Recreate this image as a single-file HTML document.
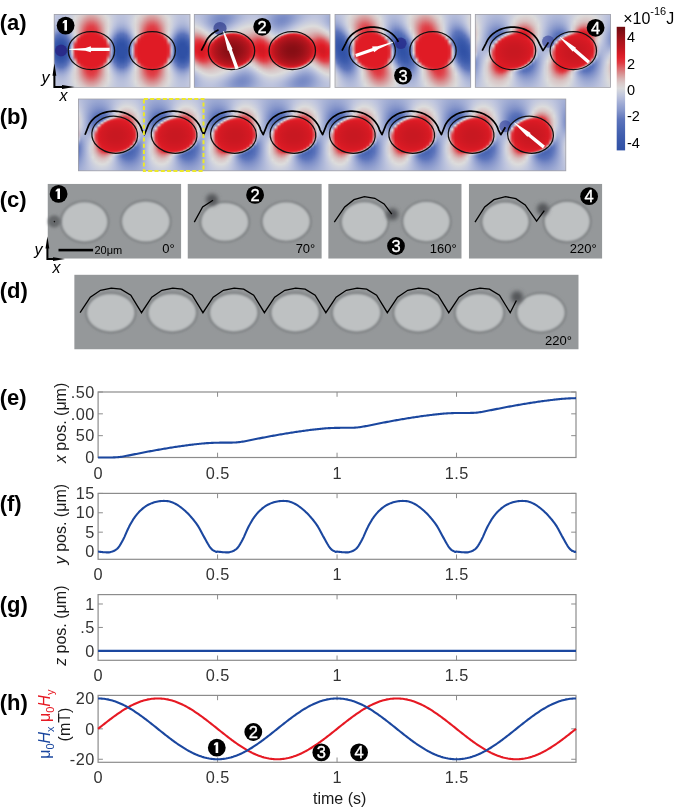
<!DOCTYPE html>
<html><head><meta charset="utf-8"><style>html,body{margin:0;padding:0;background:#fff;overflow:hidden}#w{position:relative;width:675px;height:808px}.hm{position:absolute;overflow:hidden}.hm i{display:block;height:1px}svg{position:absolute;left:0;top:0;display:block;will-change:transform}</style></head>
<body><div id="w">
<div class="hm" style="left:54px;top:14px;width:136px;height:73px"><i style="background:linear-gradient(90deg,#c2c8de,#bdc4dd,#bbc2dc,#bcc2dd,#bfc5de,#c4c9de,#cccfdd,#d5d6dd,#dcd9d9,#dacfcf,#d9c5c5,#d8bdbd,#d8b6b7,#d8b7b8,#d8c0c0,#d9c7c7,#dad1d1,#dcdcdc,#d2d5dd,#cacedd,#c3c8de,#bec4dd,#bbc2dd,#bbc2dd,#bec5de,#c4c9de,#cbcedd,#d4d6dd,#dcdada,#dad0d0,#d9c6c6,#d8bebe,#d8b7b7,#d8b7b7,#d8bebe,#d9c6c6,#dad0d0,#dcdada,#d4d5dd,#cbcedd,#c4c9de,#bec5dd,#bbc2dd,#bbc2dd,#bec4dd,#c3c8de)"></i><i style="background:linear-gradient(90deg,#c3c8de,#bdc4dd,#bbc2dc,#bbc2dd,#bfc5de,#c5cade,#cdd0dd,#d7d8dc,#dbd6d6,#dacbcb,#d8c1c1,#d8b4b5,#d8adae,#d8aeaf,#d8b7b7,#d9c4c4,#dacece,#dcd9d9,#d4d6dd,#cbcedd,#c3c9de,#bec4dd,#bbc2dc,#bbc2dc,#bfc5de,#c4c9de,#cccfdd,#d6d7dc,#dbd8d8,#dacccc,#d8c2c2,#d8b6b6,#d8adae,#d8adae,#d8b6b6,#d8c2c2,#dacdcd,#dbd8d8,#d5d7dc,#cccfdd,#c4c9de,#bec5de,#bbc2dd,#bbc2dc,#bec4dd,#c3c9de)"></i><i style="background:linear-gradient(90deg,#c3c8de,#bdc4dd,#bac2dc,#bbc2dc,#bfc5de,#c5cade,#ced1dd,#d9d9dc,#dbd4d4,#d9c8c8,#d8bbbb,#d8abac,#d8a4a5,#d8a5a6,#d8afaf,#d8bfbf,#dacbcb,#dbd7d7,#d6d7dc,#cccfdd,#c4c9de,#bec4dd,#bbc2dc,#bbc2dc,#bec5de,#c5cade,#cdd0dd,#d7d8dc,#dbd5d5,#d9c9c9,#d8bdbd,#d8adae,#d8a4a5,#d8a4a5,#d8adae,#d8bdbd,#d9c9c9,#dbd5d5,#d7d8dc,#cdd0dd,#c4cade,#bec5dd,#bbc2dc,#bbc2dc,#bec4dd,#c4c9de)"></i><i style="background:linear-gradient(90deg,#c3c8de,#bdc3dd,#bac1dc,#bac2dc,#bfc5de,#c6cbde,#cfd2dd,#dbdbdc,#dad1d1,#d9c4c4,#d8b3b3,#d8a3a4,#d89b9c,#d89c9d,#d8a6a7,#d8b8b8,#d9c7c7,#dbd4d4,#d8d9dc,#cdd0dd,#c4c9de,#bdc4dd,#bac1dc,#bac1dc,#bec4dd,#c5cade,#ced1dd,#d9dadc,#dbd2d2,#d9c6c6,#d8b5b5,#d8a4a5,#d89b9c,#d89b9c,#d8a4a5,#d8b5b6,#d9c6c6,#dbd3d3,#d9dadc,#ced1dd,#c5cade,#bec4dd,#bac1dc,#bac1dc,#bec4dd,#c4c9de)"></i><i style="background:linear-gradient(90deg,#c3c8de,#bcc3dd,#b9c0dc,#bac1dc,#bec5de,#c6cbde,#d0d3dd,#dcdcdc,#dacece,#d8c1c1,#d8abac,#d89a9b,#d89193,#d89394,#d89d9f,#d8b0b1,#d9c4c4,#dbd2d2,#d9dadc,#cdd1dd,#c4c9de,#bdc3dd,#b9c0dc,#b9c1dc,#bec4dd,#c5cade,#cfd2dd,#dbdbdc,#dad0d0,#d8c2c2,#d8adae,#d89c9d,#d89294,#d89294,#d89c9d,#d8aeae,#d8c3c3,#dad0d0,#dbdbdc,#cfd2dd,#c5cade,#bec4dd,#b9c1dc,#b9c0dc,#bdc4dd,#c4c9de)"></i><i style="background:linear-gradient(90deg,#c3c8de,#bbc2dd,#b8bfdb,#b8c0dc,#bec4dd,#c6cbde,#d1d3dd,#dcdada,#dacccc,#d8bcbc,#d8a3a4,#d89193,#d8888a,#d88a8c,#d89597,#d8a9aa,#d8c1c1,#dacfcf,#dbdbdc,#ced1dd,#c4c9de,#bcc3dd,#b8bfdb,#b8c0dc,#bdc3dd,#c5cade,#d0d2dd,#dcdcdc,#dacdcd,#d8bfbf,#d8a6a7,#d89395,#d8898b,#d8898b,#d89395,#d8a6a7,#d8bfbf,#dacece,#dcdcdc,#cfd2dd,#c5cade,#bdc3dd,#b8c0dc,#b8bfdb,#bcc3dd,#c4c9de)"></i><i style="background:linear-gradient(90deg,#c2c8de,#bac1dc,#b6bedb,#b7bfdb,#bdc3dd,#c6cbde,#d2d4dd,#dbd8d8,#d9c9c9,#d8b5b6,#d89c9d,#d8898b,#da7c7f,#d97e81,#d88d8f,#d8a2a3,#d8bcbc,#dacdcd,#dcdcdc,#ced1dd,#c3c9de,#bbc2dc,#b6bedb,#b6bedb,#bcc2dd,#c5cade,#d0d3dd,#dcdada,#dacbcb,#d8b9b9,#d89fa0,#d88b8d,#d97d80,#d97d80,#d88b8d,#d89fa0,#d8b9b9,#dacbcb,#dcdada,#d0d3dd,#c4cade,#bcc2dd,#b6bedb,#b6bedb,#bbc2dc,#c3c9de)"></i><i style="background:linear-gradient(90deg,#c1c7de,#b8c0dc,#b4bcda,#b5bdda,#bbc2dc,#c5cade,#d2d4dd,#dbd7d7,#d9c7c7,#d8afb0,#d89596,#d97e81,#db7074,#db7276,#d98386,#d89b9c,#d8b7b7,#dacbcb,#dcdbdb,#cfd2dd,#c3c8de,#b9c0dc,#b4bcda,#b4bdda,#bac1dc,#c4c9de,#d0d3dd,#dcd9d9,#d9c9c9,#d8b3b3,#d89899,#d98083,#db7175,#db7175,#d98183,#d8989a,#d8b3b4,#d9c9c9,#dcd9d9,#d0d3dd,#c4c9de,#bac1dc,#b4bdda,#b4bcda,#b9c0dc,#c3c8de)"></i><i style="background:linear-gradient(90deg,#c0c6de,#b6bedb,#b1bad9,#b2bbda,#b9c1dc,#c5cade,#d2d4dd,#dbd6d6,#d9c5c5,#d8aaab,#d88e90,#da7377,#dc656a,#dc676c,#da797d,#d89496,#d8b2b2,#d9c9c9,#dcdada,#cfd2dd,#c2c7de,#b7bfdb,#b1bad9,#b2bada,#b8c0dc,#c3c8de,#d1d3dd,#dbd8d8,#d9c7c7,#d8adae,#d89193,#da767a,#dc666b,#dc666b,#da767a,#d89193,#d8aeaf,#d9c7c7,#dbd8d8,#d0d3dd,#c3c8de,#b8c0dc,#b2bada,#b1bad9,#b7bfdb,#c2c7de)"></i><i style="background:linear-gradient(90deg,#bfc5de,#b3bcda,#aeb7d8,#afb8d9,#b7bfdb,#c3c9de,#d2d4dd,#dbd5d5,#d8c3c3,#d8a5a6,#d88789,#dc696e,#dd5b61,#dd5d63,#db7074,#d88e90,#d8adad,#d9c7c7,#dcd9d9,#ced1dd,#c0c6de,#b4bdda,#aeb8d8,#afb8d9,#b6bedb,#c2c8de,#d0d3dd,#dbd7d7,#d9c5c5,#d8a8a9,#d88b8d,#db6c71,#dd5c61,#dd5c62,#db6d71,#d88b8d,#d8a9aa,#d9c5c5,#dbd7d7,#d0d3dd,#c2c7de,#b6bedb,#afb8d9,#aeb8d8,#b5bdda,#c0c6de)"></i><i style="background:linear-gradient(90deg,#bcc3dd,#b0b9d9,#aab4d7,#acb5d8,#b4bcda,#c2c8de,#d2d4dd,#dbd4d4,#d8c1c1,#d8a0a1,#d97f81,#dd6066,#de5158,#de535a,#dc676b,#d8888a,#d8a8a9,#d9c6c6,#dcd9d9,#ced1dd,#bec5dd,#b1bad9,#aab4d7,#abb5d7,#b3bbda,#c0c6de,#d0d3dd,#dbd6d6,#d8c3c3,#d8a4a5,#d98385,#dc6368,#de5258,#de5259,#dc6369,#d98486,#d8a4a5,#d9c4c4,#dbd6d6,#d0d2dd,#c0c6de,#b3bbda,#abb5d7,#abb5d7,#b1bad9,#bfc5de)"></i><i style="background:linear-gradient(90deg,#bac1dc,#acb6d8,#a6b1d6,#a7b2d6,#b1b9d9,#c0c6de,#d1d4dd,#dbd3d3,#d8c0c0,#d89b9d,#da777b,#dd585e,#df484f,#df4a51,#dd5e64,#d98184,#d8a4a5,#d9c5c5,#dbd8d8,#cdd0dd,#bcc3dd,#adb7d8,#a6b1d6,#a6b1d6,#afb8d9,#bec4dd,#cfd2dd,#dbd6d6,#d8c2c2,#d89fa1,#da7c7f,#dd5b60,#df4950,#df4950,#dd5b61,#d97c7f,#d8a0a1,#d8c2c2,#dbd6d6,#cfd2dd,#bec4dd,#afb8d9,#a6b1d6,#a6b1d6,#aeb7d8,#bcc3dd)"></i><i style="background:linear-gradient(90deg,#b7bedb,#a8b2d6,#a0acd4,#a2aed5,#acb6d8,#bdc4dd,#d0d3dd,#dbd3d3,#d8bdbd,#d89899,#db7074,#de5057,#e04048,#e0424a,#de575d,#da7a7e,#d8a1a2,#d9c4c4,#dbd8d8,#cccfdd,#b9c0dc,#a9b3d7,#a1add4,#a1add4,#abb5d7,#bbc2dc,#ced1dd,#dbd6d6,#d8c1c1,#d89c9d,#da7579,#de5359,#e04149,#e04149,#de535a,#da7679,#d89c9e,#d8c1c1,#dbd6d6,#ced1dd,#bbc2dc,#abb5d7,#a1add4,#a1add4,#a9b4d7,#b9c0dc)"></i><i style="background:linear-gradient(90deg,#b3bbda,#a2aed5,#9aa7d2,#9ca9d3,#a8b2d6,#bac1dc,#cfd2dd,#dbd3d3,#d8bbbb,#d89496,#db6a6f,#df4950,#e03c44,#e03d46,#de5057,#da7578,#d89d9f,#d8c3c3,#dcd9d9,#cacedd,#b5bddb,#a4afd5,#9aa7d2,#9ba8d2,#a6b1d6,#b8bfdb,#cdd0dd,#dbd6d6,#d8c0c0,#d8989a,#db6f73,#df4c53,#e03d45,#e03d45,#df4d54,#db7074,#d8999a,#d8c0c0,#dbd6d6,#ccd0dd,#b7bfdb,#a6b1d6,#9ba8d2,#9ba7d2,#a4afd5,#b5bddb)"></i><i style="background:linear-gradient(90deg,#aeb8d8,#9ca9d3,#93a1cf,#95a3d0,#a2aed5,#b6bedb,#cdd1dd,#dbd3d3,#d8baba,#d89193,#dc656a,#e0434b,#e03941,#e03a42,#df4a51,#db7074,#d89b9c,#d8c2c2,#dcd9d9,#c8ccdd,#b1bad9,#9eaad3,#93a1cf,#94a2d0,#a0acd4,#b4bcda,#cbcedd,#dbd6d6,#d8bfbf,#d89697,#db6a6e,#df464d,#e03942,#e03942,#df464e,#db6a6f,#d89698,#d8bfbf,#dbd7d7,#cacedd,#b3bcda,#a0acd4,#94a2d0,#94a2d0,#9eaad3,#b1bad9)"></i><i style="background:linear-gradient(90deg,#a9b3d7,#95a3d0,#8b9acc,#8d9ccd,#9ca8d2,#b2bbda,#cbcfdd,#dbd4d4,#d8b9b9,#d88f91,#dd6065,#e03e46,#e0363e,#e0373f,#e0444c,#db6b70,#d8999a,#d8c2c2,#dcdada,#c5cade,#acb6d8,#97a4d1,#8b9bcd,#8c9bcd,#99a6d2,#afb8d9,#c8cddd,#dbd7d7,#d8bebe,#d89495,#dc656a,#e04048,#e0363f,#e0363f,#e04048,#dc666b,#d89496,#d8bfbf,#dbd7d7,#c8ccdd,#afb8d9,#99a6d2,#8c9bcd,#8c9bcd,#97a5d1,#acb6d8)"></i><i style="background:linear-gradient(90deg,#a3afd5,#8d9ccd,#8293c9,#8595ca,#94a2d0,#adb7d8,#c9cddd,#dbd5d5,#d8b8b9,#d88d8f,#dd5a60,#e03a43,#e0313a,#e0333b,#e03e46,#dc666b,#d89799,#d8c2c2,#dcdcdc,#c2c8de,#a6b1d6,#8f9ece,#8393c9,#8494ca,#92a0cf,#aab4d7,#c6cbde,#dbd8d8,#d8bebe,#d89293,#dd6065,#e03c44,#e0323b,#e0323b,#e03c45,#dc6066,#d89294,#d8bfbf,#dbd8d8,#c5cade,#aab4d7,#92a0cf,#8494ca,#8393c9,#909ece,#a7b2d6)"></i><i style="background:linear-gradient(90deg,#9da9d3,#8595ca,#788ac5,#7b8dc7,#8c9bcd,#a8b2d6,#c6cbde,#dbd6d6,#d8b8b9,#d88a8c,#de5158,#e0353d,#e02c35,#e02d36,#e03941,#dd5e64,#d89597,#d8c2c2,#dbdbdc,#bfc5de,#a0acd4,#8797cb,#798bc6,#7a8cc6,#8a99cc,#a4afd5,#c3c8de,#dcd9d9,#d8bebe,#d88f91,#dd575e,#e0373f,#e02c36,#e02d36,#e0373f,#dd585e,#d89092,#d8bfbf,#dcdada,#c2c8de,#a4afd5,#8999cc,#7a8cc6,#798bc6,#8797cb,#a1add4)"></i><i style="background:linear-gradient(90deg,#96a3d0,#7b8dc7,#6d81c1,#7084c2,#8494ca,#a1add4,#c3c8de,#dbd8d8,#d8b8b9,#d98285,#e0424a,#e02d36,#e0262f,#e02730,#e0313a,#de5057,#d89193,#d8c3c3,#d9dadc,#bbc2dc,#99a6d2,#7e8fc7,#6d82c1,#6e83c2,#8191c9,#9eaad3,#bfc5de,#dcdbdb,#d8bebe,#d88a8c,#df4950,#e02f38,#e0262f,#e0262f,#e02f38,#df4a51,#d88b8d,#d8bfbf,#dcdcdc,#bfc5de,#9daad3,#8091c9,#6f83c2,#6e82c2,#7e8fc8,#9aa7d2)"></i><i style="background:linear-gradient(90deg,#8e9dcd,#7084c2,#6178bd,#647bbe,#7a8cc6,#9ba7d2,#bfc5de,#dcdada,#d8b7b7,#db7376,#e0363f,#e0252f,#e0202a,#e0212a,#e02831,#e03d46,#d8888a,#d8c3c3,#d7d8dc,#b6bedb,#92a0cf,#7386c4,#6178bd,#6279bd,#7689c5,#96a4d1,#bbc2dc,#dbdbdc,#d8bebe,#d97c80,#e03942,#e02630,#e0202a,#e0202a,#e02730,#e03a42,#d97e81,#d8bebe,#dadbdc,#bac1dc,#96a3d0,#7689c5,#6379bd,#6278bd,#7387c4,#92a0cf)"></i><i style="background:linear-gradient(90deg,#8595ca,#657bbe,#5971b9,#5a73ba,#6f83c2,#93a1cf,#bac1dc,#dcdbdb,#d8b1b1,#dd595f,#e02b34,#e01f29,#e01d27,#e01d27,#e0212b,#e0313a,#db7175,#d8c1c1,#d4d6dd,#b1bad9,#8a99cc,#687dbf,#5972ba,#5972ba,#6b80c1,#8f9dce,#b6bedb,#d9dadc,#d8b9ba,#dc6469,#e02d36,#e0202a,#e01d27,#e01d27,#e0202a,#e02e37,#dc666b,#d8babb,#d8d9dc,#b5bddb,#8e9dce,#6b80c1,#5972ba,#5972ba,#687ec0,#8a9acc)"></i><i style="background:linear-gradient(90deg,#7c8ec7,#5b73ba,#536db7,#556eb8,#647abe,#8b9bcd,#b6bedb,#dcdcdc,#d8a4a5,#e03d45,#e0222c,#e01c26,#e01c25,#e01c26,#e01d27,#e02630,#de5258,#d8bbbb,#d2d4dd,#abb5d7,#8192c9,#5c74bb,#536db7,#546eb7,#6077bc,#8696cb,#b1bad9,#d7d8dc,#d8afaf,#e0444c,#e0242d,#e01d27,#e01c26,#e01c26,#e01d27,#e0242e,#df464e,#d8b0b0,#d7d8dc,#b0b9d9,#8696cb,#6077bc,#546eb7,#536db7,#5c74bb,#8292c9)"></i><i style="background:linear-gradient(90deg,#7286c3,#556fb8,#4d68b4,#4f6ab5,#5a73ba,#8394ca,#b1b9d9,#dcdcdc,#d88e90,#e02e37,#e01e28,#e01b25,#e01b25,#e01b25,#e01c26,#e02029,#e03841,#d8aaab,#d1d3dd,#a5b0d6,#788ac5,#5770b9,#4d69b4,#4e69b5,#5971b9,#7e8fc8,#abb5d8,#d6d8dc,#d89b9c,#e0333b,#e01e28,#e01b25,#e01b25,#e01b25,#e01c25,#e01f28,#e0333c,#d89d9e,#d6d7dc,#abb5d7,#7d8fc7,#5871b9,#4e69b5,#4e69b5,#5770b9,#788bc6)"></i><i style="background:linear-gradient(90deg,#687ec0,#506bb6,#4764b2,#4965b3,#556fb8,#7a8cc6,#acb5d8,#dcd9d9,#dc696e,#e0242e,#e01c26,#e01b25,#e01b25,#e01b25,#e01b25,#e01d26,#e02b34,#d89192,#d1d3dd,#9facd4,#6e82c2,#526cb6,#4764b2,#4865b2,#546db7,#7487c4,#a6b1d6,#d8d9dc,#d97c7f,#e02730,#e01c26,#e01b25,#e01b25,#e01b25,#e01b25,#e01c26,#e02831,#d97f82,#d7d8dc,#a5b0d6,#7487c4,#536db7,#4865b2,#4864b2,#526cb6,#6f83c2)"></i><i style="background:linear-gradient(90deg,#5e75bc,#4b66b3,#415faf,#4361b0,#506bb6,#7185c3,#a7b2d6,#dbd2d2,#e0434b,#e01f29,#e01b25,#e01b25,#e01b25,#e01b25,#e01b25,#e01b25,#e0222c,#db6a6f,#d4d6dd,#99a6d2,#647abe,#4c68b4,#415faf,#4260af,#4e69b5,#6b80c0,#a1add4,#dcdbdb,#de545a,#e0202a,#e01b25,#e01b25,#e01b25,#e01b25,#e01b25,#e01b25,#e0212a,#dd575d,#dcdbdb,#a0acd4,#6a7fc0,#4e69b5,#4260af,#4260af,#4d68b4,#657bbe)"></i><i style="background:linear-gradient(90deg,#5871b9,#4562b1,#3c5bac,#3d5cad,#4b67b3,#687ebf,#a4afd5,#d9c6c6,#e0323b,#e01c26,#e01b25,#e01b25,#e01b25,#e01b25,#e01b25,#e01b25,#e01e28,#e0444b,#dbdbdc,#94a2d0,#5b73bb,#4764b1,#3c5bac,#3d5cad,#4965b2,#6178bd,#9ca9d3,#dad1d1,#e03841,#e01d27,#e01b25,#e01b25,#e01b25,#e01b25,#e01b25,#e01b25,#e01d27,#e03a42,#dbd2d2,#9ba8d2,#6077bd,#4965b2,#3d5cad,#3c5bad,#4764b2,#5b74bb)"></i><i style="background:linear-gradient(90deg,#546eb7,#405eae,#3958ab,#3a59ab,#4663b1,#5f76bc,#a2aed5,#d8b0b1,#e02831,#e01b25,#e01b25,#e01b25,#e01b25,#e01b25,#e01b25,#e01b25,#e01c26,#e0333b,#dbd2d2,#8f9ece,#5770b9,#425faf,#3958ab,#3959ab,#4461b0,#5a73ba,#99a6d1,#d9c4c4,#e02c35,#e01c26,#e01b25,#e01b25,#e01b25,#e01b25,#e01b25,#e01b25,#e01c26,#e02d36,#d9c5c5,#98a5d1,#5a72ba,#4461b0,#3959ab,#3959ab,#4260af,#5770b9)"></i><i style="background:linear-gradient(90deg,#506bb6,#3c5bac,#3656a9,#3757aa,#415faf,#5a72ba,#a3aed5,#d89294,#e0222b,#e01b25,#e01b25,#e01b25,#e01b25,#e01b25,#e01b25,#e01b25,#e01b25,#e02832,#d9c4c4,#8c9bcd,#536db7,#3d5cad,#3656a9,#3656a9,#3f5dae,#5670b8,#97a4d1,#d8aaab,#e0242d,#e01b25,#e01b25,#e01b25,#e01b25,#e01b25,#e01b25,#e01b25,#e01b25,#e0252e,#d8adae,#96a4d0,#566fb8,#3f5dae,#3656a9,#3656a9,#3d5cad,#536db7)"></i><i style="background:linear-gradient(90deg,#4c68b4,#3958ab,#3353a7,#3454a8,#3d5cad,#5670b8,#a6b1d6,#db6f73,#e01e28,#e01b25,#e01b25,#e01b25,#e01b25,#e01b25,#e01b25,#e01b25,#e01b25,#e0222c,#d8aaaa,#8b9acc,#4f6ab5,#3a59ab,#3353a7,#3354a7,#3b5bac,#536db7,#98a5d1,#d88c8e,#e02029,#e01b25,#e01b25,#e01b25,#e01b25,#e01b25,#e01b25,#e01b25,#e01b25,#e0202a,#d89092,#97a5d1,#526db7,#3b5bac,#3354a7,#3353a7,#3a5aab,#506ab5)"></i><i style="background:linear-gradient(90deg,#4865b2,#3656a9,#3051a5,#3152a6,#3b5aac,#536db7,#adb6d8,#de5056,#e01d27,#e01b25,#e01b25,#e01b25,#e01b25,#e01b25,#e01b25,#e01b25,#e01b25,#e01f29,#d88e90,#8c9bcd,#4c67b4,#3857aa,#3051a6,#3151a6,#3959ab,#506ab5,#9ca9d3,#dc696e,#e01d27,#e01b25,#e01b25,#e01b25,#e01b25,#e01b25,#e01b25,#e01b25,#e01b25,#e01e28,#db7074,#9ba8d2,#4f6ab5,#3959ab,#3151a6,#3051a6,#3858aa,#4c68b4)"></i><i style="background:linear-gradient(90deg,#4562b1,#3454a8,#2f50a5,#2f50a5,#3858aa,#516bb6,#b5bddb,#e03c44,#e01c26,#e01b25,#e01b25,#e01b25,#e01b25,#e01b25,#e01b25,#e01b25,#e01b25,#e01d27,#db6e73,#8f9dce,#4965b2,#3555a9,#2f50a5,#2f50a5,#3757a9,#4d68b4,#a2aed5,#df4c53,#e01c26,#e01b25,#e01b25,#e01b25,#e01b25,#e01b25,#e01b25,#e01b25,#e01b25,#e01c26,#de535a,#a1add4,#4c68b4,#3757a9,#2f50a5,#2f50a5,#3656a9,#4965b2)"></i><i style="background:linear-gradient(90deg,#4260af,#3253a7,#2f50a5,#2f50a5,#3656a9,#4e69b5,#bfc5de,#e0333c,#e01b25,#e01b25,#e01b25,#e01b25,#e01b25,#e01b25,#e01b25,#e01b25,#e01b25,#e01c26,#de545b,#94a1cf,#4663b1,#3354a7,#2f50a5,#2f50a5,#3555a8,#4a66b3,#a9b4d7,#e03c44,#e01c26,#e01b25,#e01b25,#e01b25,#e01b25,#e01b25,#e01b25,#e01b25,#e01b25,#e01c26,#e03f47,#a8b3d7,#4a66b3,#3555a8,#2f50a5,#2f50a5,#3454a8,#4663b1)"></i><i style="background:linear-gradient(90deg,#405eae,#3051a6,#2f50a5,#2f50a5,#3555a8,#4d68b4,#c7ccdd,#e02d36,#e01b25,#e01b25,#e01b25,#e01b25,#e01b25,#e01b25,#e01b25,#e01b25,#e01b25,#e01c26,#e04149,#99a6d2,#4361b0,#3252a6,#2f50a5,#2f50a5,#3354a7,#4865b2,#b1bad9,#e0343d,#e01b25,#e01b25,#e01b25,#e01b25,#e01b25,#e01b25,#e01b25,#e01b25,#e01b25,#e01b25,#e0373f,#b0b9d9,#4864b2,#3354a7,#2f50a5,#2f50a5,#3252a7,#4461b0)"></i><i style="background:linear-gradient(90deg,#3e5dad,#2f50a5,#2f50a5,#2f50a5,#3454a8,#4b67b3,#ced1dd,#e02933,#e01b25,#e01b25,#e01b25,#e01b25,#e01b25,#e01b25,#e01b25,#e01b25,#e01b25,#e01b25,#e03a42,#9fabd4,#4260af,#3051a6,#2f50a5,#2f50a5,#3252a7,#4663b1,#b8c0dc,#e02f38,#e01b25,#e01b25,#e01b25,#e01b25,#e01b25,#e01b25,#e01b25,#e01b25,#e01b25,#e01b25,#e0323a,#b7bedb,#4663b1,#3252a7,#2f50a5,#2f50a5,#3051a6,#4260af)"></i><i style="background:linear-gradient(90deg,#3d5cad,#2f50a5,#2f50a5,#2f50a5,#3353a7,#4a66b3,#d4d6dd,#e02730,#e01b25,#e01b25,#e01b25,#e01b25,#e01b25,#e01b25,#e01b25,#e01b25,#e01b25,#e01b25,#e0353e,#a4afd5,#405fae,#2f50a5,#2f50a5,#2f50a5,#3152a6,#4562b1,#bec5de,#e02c35,#e01b25,#e01b25,#e01b25,#e01b25,#e01b25,#e01b25,#e01b25,#e01b25,#e01b25,#e01b25,#e02e37,#bcc3dd,#4562b1,#3151a6,#2f50a5,#2f50a5,#2f50a5,#415faf)"></i><i style="background:linear-gradient(90deg,#3c5bad,#2f50a5,#2f50a5,#2f50a5,#3252a7,#4a66b3,#d8d9dc,#e0262f,#e01b25,#e01b25,#e01b25,#e01b25,#e01b25,#e01b25,#e01b25,#e01b25,#e01b25,#e01b25,#e0333c,#a7b2d6,#3f5eae,#2f50a5,#2f50a5,#2f50a5,#3051a6,#4562b0,#c2c8de,#e02a33,#e01b25,#e01b25,#e01b25,#e01b25,#e01b25,#e01b25,#e01b25,#e01b25,#e01b25,#e01b25,#e02c35,#c0c6de,#4462b0,#3051a6,#2f50a5,#2f50a5,#2f50a5,#405fae)"></i><i style="background:linear-gradient(90deg,#3c5bac,#2f50a5,#2f50a5,#2f50a5,#3252a7,#4a66b3,#dadadc,#e0252f,#e01b25,#e01b25,#e01b25,#e01b25,#e01b25,#e01b25,#e01b25,#e01b25,#e01b25,#e01b25,#e0323b,#a8b3d7,#3f5eae,#2f50a5,#2f50a5,#2f50a5,#3051a6,#4462b0,#c4c9de,#e02932,#e01b25,#e01b25,#e01b25,#e01b25,#e01b25,#e01b25,#e01b25,#e01b25,#e01b25,#e01b25,#e02b35,#c2c7de,#4461b0,#3051a5,#2f50a5,#2f50a5,#2f50a5,#405eae)"></i><i style="background:linear-gradient(90deg,#3c5bac,#2f50a5,#2f50a5,#2f50a5,#3252a7,#4a66b3,#d9dadc,#e0252f,#e01b25,#e01b25,#e01b25,#e01b25,#e01b25,#e01b25,#e01b25,#e01b25,#e01b25,#e01b25,#e0323b,#a8b2d6,#3f5eae,#2f50a5,#2f50a5,#2f50a5,#3051a6,#4462b0,#c3c8de,#e02933,#e01b25,#e01b25,#e01b25,#e01b25,#e01b25,#e01b25,#e01b25,#e01b25,#e01b25,#e01b25,#e02c35,#c1c7de,#4461b0,#3051a6,#2f50a5,#2f50a5,#2f50a5,#405eae)"></i><i style="background:linear-gradient(90deg,#3c5cad,#2f50a5,#2f50a5,#2f50a5,#3253a7,#4a66b3,#d6d7dc,#e02630,#e01b25,#e01b25,#e01b25,#e01b25,#e01b25,#e01b25,#e01b25,#e01b25,#e01b25,#e01b25,#e0343d,#a5b0d6,#405eae,#2f50a5,#2f50a5,#2f50a5,#3151a6,#4562b1,#c0c6de,#e02b34,#e01b25,#e01b25,#e01b25,#e01b25,#e01b25,#e01b25,#e01b25,#e01b25,#e01b25,#e01b25,#e02d36,#bec4dd,#4562b0,#3051a6,#2f50a5,#2f50a5,#2f50a5,#415faf)"></i><i style="background:linear-gradient(90deg,#3d5cad,#2f50a5,#2f50a5,#2f50a5,#3353a7,#4b67b3,#d1d3dd,#e02832,#e01b25,#e01b25,#e01b25,#e01b25,#e01b25,#e01b25,#e01b25,#e01b25,#e01b25,#e01b25,#e03840,#a1add4,#415faf,#3051a5,#2f50a5,#2f50a5,#3152a6,#4663b1,#bbc2dc,#e02d36,#e01b25,#e01b25,#e01b25,#e01b25,#e01b25,#e01b25,#e01b25,#e01b25,#e01b25,#e01b25,#e03039,#b9c0dc,#4663b1,#3152a6,#2f50a5,#2f50a5,#3051a6,#4260af)"></i><i style="background:linear-gradient(90deg,#3f5dae,#3051a5,#2f50a5,#2f50a5,#3455a8,#4c68b4,#cacedd,#e02c35,#e01b25,#e01b25,#e01b25,#e01b25,#e01b25,#e01b25,#e01b25,#e01b25,#e01b25,#e01c26,#e03e46,#9ca8d2,#4360b0,#3152a6,#2f50a5,#2f50a5,#3353a7,#4764b2,#b4bcda,#e0323a,#e01b25,#e01b25,#e01b25,#e01b25,#e01b25,#e01b25,#e01b25,#e01b25,#e01b25,#e01b25,#e0353d,#b2bbda,#4764b2,#3353a7,#2f50a5,#2f50a5,#3152a6,#4361b0)"></i><i style="background:linear-gradient(90deg,#415faf,#3152a6,#2f50a5,#2f50a5,#3656a9,#4e69b4,#c2c8de,#e03139,#e01b25,#e01b25,#e01b25,#e01b25,#e01b25,#e01b25,#e01b25,#e01b25,#e01b25,#e01c26,#df4c53,#96a3d0,#4562b1,#3353a7,#2f50a5,#2f50a5,#3454a8,#4965b3,#acb6d8,#e03841,#e01c25,#e01b25,#e01b25,#e01b25,#e01b25,#e01b25,#e01b25,#e01b25,#e01b25,#e01c26,#e03b44,#abb5d7,#4965b2,#3454a8,#2f50a5,#2f50a5,#3353a7,#4562b1)"></i><i style="background:linear-gradient(90deg,#4461b0,#3354a7,#2f50a5,#2f50a5,#3857aa,#506ab5,#b9c0dc,#e03840,#e01c26,#e01b25,#e01b25,#e01b25,#e01b25,#e01b25,#e01b25,#e01b25,#e01b25,#e01d27,#dc6368,#919fce,#4764b2,#3455a8,#2f50a5,#2f50a5,#3656a9,#4c67b4,#a5b0d5,#e0434b,#e01c26,#e01b25,#e01b25,#e01b25,#e01b25,#e01b25,#e01b25,#e01b25,#e01b25,#e01c26,#df4a51,#a4afd5,#4b67b3,#3656a9,#2f50a5,#2f50a5,#3555a8,#4864b2)"></i><i style="background:linear-gradient(90deg,#4764b2,#3555a9,#2f50a5,#3051a6,#3a59ab,#526cb7,#b0b9d9,#df454d,#e01c26,#e01b25,#e01b25,#e01b25,#e01b25,#e01b25,#e01b25,#e01b25,#e01b25,#e01e28,#d98184,#8d9ccd,#4a66b3,#3757a9,#2f50a5,#2f50a5,#3858aa,#4e69b5,#9eaad3,#dd5d62,#e01d27,#e01b25,#e01b25,#e01b25,#e01b25,#e01b25,#e01b25,#e01b25,#e01b25,#e01d27,#dc6368,#9daad3,#4e69b5,#3858aa,#3050a5,#2f50a5,#3757a9,#4b67b3)"></i><i style="background:linear-gradient(90deg,#4b67b3,#3858aa,#3152a6,#3353a7,#3c5bac,#556fb8,#a9b3d7,#dc6267,#e01d27,#e01b25,#e01b25,#e01b25,#e01b25,#e01b25,#e01b25,#e01b25,#e01b25,#e0212a,#d89e9f,#8b9acc,#4e69b5,#3959ab,#3252a7,#3253a7,#3a5aac,#516cb6,#99a6d2,#d97e81,#e01e28,#e01b25,#e01b25,#e01b25,#e01b25,#e01b25,#e01b25,#e01b25,#e01b25,#e01f29,#d98486,#99a6d1,#516cb6,#3a5aab,#3253a7,#3252a7,#3959ab,#4e69b5)"></i><i style="background:linear-gradient(90deg,#4e6ab5,#3a5aac,#3455a8,#3656a9,#3f5eae,#5871b9,#a4afd5,#d88588,#e0202a,#e01b25,#e01b25,#e01b25,#e01b25,#e01b25,#e01b25,#e01b25,#e01b25,#e0262f,#d8bbbb,#8b9acc,#516cb6,#3c5bac,#3555a8,#3555a8,#3d5cad,#556fb8,#97a5d1,#d89e9f,#e0222b,#e01b25,#e01b25,#e01b25,#e01b25,#e01b25,#e01b25,#e01b25,#e01b25,#e0232c,#d8a1a3,#96a4d1,#556eb8,#3d5cad,#3555a8,#3555a8,#3c5bac,#526cb6)"></i><i style="background:linear-gradient(90deg,#536db7,#3d5cad,#3757aa,#3958ab,#4462b0,#5c74bb,#a2add5,#d8a4a5,#e0252e,#e01b25,#e01b25,#e01b25,#e01b25,#e01b25,#e01b25,#e01b25,#e01c26,#e02e37,#dacccc,#8e9ccd,#556fb8,#3f5eae,#3857aa,#3858aa,#4260af,#5971b9,#98a5d1,#d8bcbc,#e02831,#e01b25,#e01b25,#e01b25,#e01b25,#e01b25,#e01b25,#e01b25,#e01c25,#e02933,#d8bfbf,#97a4d1,#5871b9,#4260af,#3858aa,#3858aa,#405eae,#566fb8)"></i><i style="background:linear-gradient(90deg,#5770b9,#4361b0,#3b5aac,#3c5bac,#4966b3,#647bbe,#a3aed5,#d8c1c1,#e02d36,#e01c26,#e01b25,#e01b25,#e01b25,#e01b25,#e01b25,#e01b25,#e01d27,#e03b43,#dcd9d9,#92a0cf,#5972ba,#4562b0,#3b5aac,#3b5bac,#4764b2,#5d75bb,#9aa7d2,#dacccc,#e0333c,#e01c26,#e01b25,#e01b25,#e01b25,#e01b25,#e01b25,#e01b25,#e01c26,#e0343d,#dacdcd,#9aa7d2,#5d74bb,#4764b1,#3b5bac,#3b5aac,#4562b1,#5a72ba)"></i><i style="background:linear-gradient(90deg,#5b73bb,#4865b2,#3f5dae,#415faf,#4e69b5,#6d82c1,#a6b0d6,#dacece,#e03b43,#e01e27,#e01b25,#e01b25,#e01b25,#e01b25,#e01b25,#e01b25,#e0202a,#dd5a60,#d6d8dc,#97a4d1,#6077bc,#4a66b3,#3f5eae,#405eae,#4c68b4,#677dbf,#9fabd4,#dbd7d7,#df454d,#e01e28,#e01b25,#e01b25,#e01b25,#e01b25,#e01b25,#e01b25,#e01f29,#df4850,#dbd8d8,#9eaad3,#667cbf,#4c68b4,#405eae,#3f5eae,#4a66b3,#6178bd)"></i><i style="background:linear-gradient(90deg,#647abe,#4e69b5,#4562b0,#4764b1,#536db7,#7789c5,#aab4d7,#dbd7d7,#dd5a60,#e0222b,#e01c25,#e01b25,#e01b25,#e01b25,#e01b25,#e01c26,#e02730,#d98386,#d2d4dd,#9da9d3,#6a7fc0,#4f6ab5,#4562b1,#4663b1,#516cb6,#7184c3,#a4afd5,#dadadc,#db6c70,#e0242d,#e01c26,#e01b25,#e01b25,#e01b25,#e01b25,#e01c26,#e0242e,#db6f73,#d9dadc,#a3aed5,#7084c2,#516cb6,#4663b1,#4562b1,#506ab5,#6b80c0)"></i><i style="background:linear-gradient(90deg,#6e83c2,#536db7,#4b67b3,#4d68b4,#5871b9,#8091c8,#afb8d9,#dcdbdb,#d98183,#e02a33,#e01d27,#e01b25,#e01b25,#e01b25,#e01b25,#e01e28,#e0323b,#d8a1a2,#d1d3dd,#a3aed5,#7487c4,#556eb8,#4b67b3,#4c67b4,#5770b9,#7a8cc6,#a9b3d7,#d7d8dc,#d89193,#e02d36,#e01d27,#e01b25,#e01b25,#e01b25,#e01b25,#e01d27,#e02e37,#d89394,#d6d7dc,#a8b3d7,#798cc6,#5670b8,#4c68b4,#4b67b3,#556fb8,#7588c4)"></i><i style="background:linear-gradient(90deg,#788bc6,#5871b9,#516bb6,#526db7,#5f77bc,#8898cb,#b4bcda,#dbdcdc,#d89c9d,#e0373f,#e0202a,#e01c26,#e01b25,#e01b25,#e01c26,#e0232d,#e0444c,#d8b5b5,#d2d4dd,#a9b3d7,#7d8fc7,#5a72ba,#516bb6,#526cb6,#5c74bb,#8393c9,#afb8d9,#d7d8dc,#d8a8a9,#e03c44,#e0212b,#e01c26,#e01b25,#e01b25,#e01c26,#e0222b,#e03d45,#d8a9aa,#d6d7dc,#aeb7d8,#8293c9,#5b74bb,#526cb6,#516cb6,#5a73ba,#7e8fc8)"></i><i style="background:linear-gradient(90deg,#8292c9,#6077bc,#5670b8,#5871b9,#6b80c1,#909fce,#b9c0dc,#dcdcdc,#d8acad,#df4d54,#e02730,#e01e28,#e01c26,#e01c26,#e01f29,#e02c35,#dc666b,#d8c0c0,#d4d5dd,#aeb8d9,#8696cb,#637abe,#5770b9,#5770b9,#677dbf,#8b9bcd,#b4bcda,#d8d9dc,#d8b6b6,#dd585e,#e02932,#e01e28,#e01c26,#e01c26,#e01f28,#e02a33,#dd5a60,#d8b7b7,#d8d9dc,#b3bcda,#8b9acc,#677dbf,#5770b9,#5770b9,#647abe,#8797cb)"></i><i style="background:linear-gradient(90deg,#8b9acc,#6c80c1,#5c74bb,#5f77bc,#7689c5,#98a5d1,#bdc4dd,#dcdada,#d8b5b5,#dc6a6e,#e0323a,#e0232c,#e01f28,#e01f29,#e0252e,#e03841,#d98083,#d8c2c2,#d6d7dc,#b4bcda,#8f9dce,#6e83c2,#5c74bb,#5d75bc,#7286c3,#93a1cf,#b9c0dc,#dadadc,#d8bcbd,#da7478,#e0353d,#e0242d,#e01f29,#e01f29,#e0242d,#e0353e,#da7579,#d8bdbd,#dadadc,#b8c0dc,#93a1cf,#7286c3,#5e75bc,#5c74bb,#6f83c2,#8f9ece)"></i><i style="background:linear-gradient(90deg,#93a1cf,#7789c5,#687ebf,#6b80c1,#8091c8,#9fabd4,#c1c7de,#dbd8d8,#d8b8b8,#d97d80,#e03d45,#e02a33,#e0232d,#e0242e,#e02d36,#df4950,#d88e90,#d8c3c3,#d8d9dc,#b9c0dc,#96a4d0,#798cc6,#697ec0,#6a7fc0,#7d8ec7,#9ba8d2,#bdc4dd,#dcdcdc,#d8bebe,#d88688,#e04149,#e02b34,#e0242d,#e0242d,#e02c35,#e0424a,#d88789,#d8bfbf,#dcdcdc,#bdc3dd,#9aa7d2,#7d8ec7,#6a7fc0,#697ec0,#7a8cc6,#97a4d1)"></i><i style="background:linear-gradient(90deg,#9aa7d2,#8192c9,#7487c4,#7789c5,#8999cc,#a5b0d6,#c5cade,#dbd7d7,#d8b8b9,#d8878a,#df4c53,#e0323b,#e02933,#e02b34,#e0363e,#dd5a60,#d89496,#d8c3c3,#dadbdc,#bdc4dd,#9eaad3,#8394ca,#7487c4,#7588c4,#8696cb,#a2add4,#c1c7de,#dcdada,#d8bebe,#d88e8f,#de5259,#e0343c,#e02a33,#e02a33,#e0343d,#de535a,#d88e90,#d8bfbf,#dcdbdb,#c1c7de,#a1add4,#8696cb,#7588c4,#7488c4,#8494ca,#9eaad3)"></i><i style="background:linear-gradient(90deg,#a1add4,#8a99cc,#7e8fc8,#8192c9,#91a0cf,#abb5d7,#c8ccdd,#dbd6d6,#d8b8b9,#d88c8e,#dd575d,#e03941,#e02f38,#e0313a,#e03c45,#dc6469,#d89698,#d8c2c2,#dcdcdc,#c1c7de,#a4afd5,#8c9bcd,#7f90c8,#8091c8,#8f9dce,#a8b2d6,#c5cade,#dcd9d9,#d8bebe,#d89192,#dd5d63,#e03a43,#e03039,#e03039,#e03a43,#dd5e63,#d89193,#d8bfbf,#dcd9d9,#c4c9de,#a7b2d6,#8f9dce,#8091c8,#7f90c8,#8c9bcd,#a4b0d5)"></i><i style="background:linear-gradient(90deg,#a7b2d6,#92a0cf,#8897cb,#8a99cc,#99a6d1,#b0b9d9,#cacedd,#dbd4d4,#d8b9b9,#d88e90,#dd5e63,#e03d45,#e0343d,#e0353e,#e04149,#dc696e,#d8989a,#d8c2c2,#dcdbdb,#c4c9de,#aab4d7,#94a2d0,#8898cb,#8998cc,#96a4d1,#adb7d8,#c7ccdd,#dbd7d7,#d8bebe,#d89394,#dc6368,#e03f47,#e0353d,#e0353d,#e03f47,#dc6469,#d89395,#d8bfbf,#dbd8d8,#c7ccdd,#adb6d8,#96a4d0,#8998cc,#8898cb,#94a2d0,#aab4d7)"></i><i style="background:linear-gradient(90deg,#acb6d8,#9aa7d2,#909ece,#92a0cf,#a0acd4,#b5bddb,#cdd0dd,#dbd4d4,#d8b9ba,#d89092,#dc6368,#e04048,#e03840,#e03941,#df474f,#db6e72,#d89a9b,#d8c2c2,#dcdada,#c7cbde,#afb8d9,#9ba8d2,#909fce,#919fcf,#9daad3,#b2bbda,#cacedd,#dbd6d6,#d8bebe,#d89596,#dc686d,#e0444b,#e03840,#e03841,#e0444c,#dc696d,#d89597,#d8bfbf,#dbd7d7,#cacddd,#b2bada,#9daad3,#919fcf,#919fce,#9ca8d2,#afb8d9)"></i><i style="background:linear-gradient(90deg,#b1bad9,#a0acd4,#97a5d1,#99a6d2,#a5b0d6,#b9c0dc,#ced1dd,#dbd3d3,#d8bbbb,#d89395,#dc686d,#df464e,#e03b43,#e03c44,#df4d54,#db7376,#d89c9e,#d8c3c3,#dcd9d9,#c9cddd,#b3bcda,#a2add4,#98a5d1,#98a6d1,#a4afd5,#b6bedb,#cccfdd,#dbd6d6,#d8bfbf,#d89799,#db6d71,#df4a51,#e03b44,#e03b44,#df4a51,#db6e72,#d89899,#d8c0c0,#dbd6d6,#cccfdd,#b6bedb,#a3afd5,#99a6d1,#98a5d1,#a2aed5,#b4bcda)"></i><i style="background:linear-gradient(90deg,#b5bddb,#a6b1d6,#9eaad3,#a0acd4,#abb5d7,#bcc3dd,#d0d3dd,#dbd3d3,#d8bcbc,#d89698,#db6e72,#df4d54,#e03e46,#e04048,#de545a,#da787b,#d89fa0,#d8c3c3,#dbd8d8,#cbcfdd,#b7bfdb,#a7b2d6,#9eabd3,#9fabd4,#a9b3d7,#bac1dc,#ced1dd,#dbd6d6,#d8c1c1,#d89a9c,#db7276,#de5057,#e03f47,#e03f47,#de5157,#da7377,#d89b9c,#d8c1c1,#dbd6d6,#cdd0dd,#bac1dc,#a9b3d7,#9fabd4,#9eabd3,#a7b2d6,#b8bfdb)"></i><i style="background:linear-gradient(90deg,#b9c0dc,#aab5d7,#a4afd5,#a5b0d6,#afb8d9,#bfc5de,#d1d3dd,#dbd3d3,#d8bfbf,#d89a9b,#da7478,#de555b,#df454c,#df474e,#dd5b61,#d97e81,#d8a3a4,#d9c4c4,#dbd8d8,#ccd0dd,#bbc2dc,#acb6d8,#a4afd5,#a4b0d5,#adb7d8,#bdc3dd,#cfd2dd,#dbd6d6,#d8c2c2,#d89e9f,#da797c,#dd575e,#df464d,#df464d,#dd585e,#da797d,#d89ea0,#d8c2c2,#dbd6d6,#cfd1dd,#bdc3dd,#adb7d8,#a4b0d5,#a4afd5,#acb6d8,#bbc2dc)"></i><i style="background:linear-gradient(90deg,#bbc2dd,#afb8d9,#a8b3d7,#aab4d7,#b3bbda,#c1c7de,#d2d4dd,#dbd4d4,#d8c1c1,#d89e9f,#da7b7f,#dd5d62,#df4d54,#de5056,#dc6368,#d98587,#d8a6a7,#d9c5c5,#dbd8d8,#cdd1dd,#bdc4dd,#b0b9d9,#a9b3d7,#a9b3d7,#b1bad9,#bfc6de,#d0d2dd,#dbd6d6,#d8c3c3,#d8a2a3,#d98083,#dd6065,#de4e55,#de4e55,#dd6065,#d98083,#d8a2a4,#d8c3c3,#dbd6d6,#cfd2dd,#bfc5de,#b1bad9,#a9b3d7,#a9b3d7,#b0b9d9,#bec4dd)"></i><i style="background:linear-gradient(90deg,#bec4dd,#b2bbda,#adb6d8,#aeb7d8,#b6bedb,#c3c8de,#d2d4dd,#dbd4d4,#d8c2c2,#d8a3a4,#d98386,#dc666b,#de575d,#dd595f,#db6c70,#d88c8e,#d8abac,#d9c7c7,#dcd9d9,#ced1dd,#c0c6de,#b3bcda,#adb6d8,#adb7d8,#b4bdda,#c1c7de,#d0d3dd,#dbd7d7,#d9c4c4,#d8a6a7,#d8888a,#dc686d,#dd585e,#dd585e,#dc696e,#d8888a,#d8a7a8,#d9c5c5,#dbd7d7,#d0d3dd,#c1c7de,#b4bdda,#adb7d8,#adb6d8,#b3bcda,#c0c6de)"></i><i style="background:linear-gradient(90deg,#c0c6de,#b5bddb,#b0b9d9,#b1bad9,#b8c0dc,#c4c9de,#d2d4dd,#dbd5d5,#d9c4c4,#d8a8a9,#d88b8d,#db6f74,#dc6166,#dc6368,#da7579,#d89294,#d8b0b0,#d9c8c8,#dcdada,#cfd1dd,#c1c7de,#b6bedb,#b0b9d9,#b1b9d9,#b7bfdb,#c3c8de,#d1d3dd,#dbd7d7,#d9c6c6,#d8abac,#d88e90,#db7276,#dc6267,#dc6267,#db7276,#d88f91,#d8acad,#d9c6c6,#dbd8d8,#d0d3dd,#c3c8de,#b7bfdb,#b1b9d9,#b0b9d9,#b6bedb,#c1c7de)"></i><i style="background:linear-gradient(90deg,#c1c7de,#b7bfdb,#b3bbda,#b4bcda,#bac1dc,#c5cade,#d2d4dd,#dbd7d7,#d9c6c6,#d8adae,#d89294,#da7a7d,#db6c70,#db6e72,#d97f82,#d8989a,#d8b5b5,#d9caca,#dcdada,#cfd2dd,#c2c8de,#b8c0dc,#b3bbda,#b3bcda,#b9c1dc,#c4c9de,#d1d3dd,#dbd8d8,#d9c8c8,#d8b1b1,#d89597,#d97c7f,#db6d71,#db6d71,#d97d80,#d89597,#d8b1b2,#d9c8c8,#dcd9d9,#d0d3dd,#c4c9de,#b9c1dc,#b3bcda,#b3bbda,#b8c0dc,#c2c8de)"></i><i style="background:linear-gradient(90deg,#c2c8de,#b9c1dc,#b5bddb,#b6bedb,#bcc3dd,#c6cade,#d2d4dd,#dbd8d8,#d9c8c8,#d8b3b3,#d8999b,#d98487,#da777b,#da797c,#d88a8c,#d89fa0,#d8baba,#dacccc,#dcdcdc,#cfd1dd,#c3c8de,#bac1dc,#b5bddb,#b6bedb,#bbc2dc,#c4c9de,#d0d3dd,#dcdada,#d9caca,#d8b6b7,#d89c9d,#d88789,#da787b,#da787c,#d88789,#d89c9e,#d8b7b7,#dacbcb,#dcdada,#d0d3dd,#c4c9de,#bbc2dc,#b6bedb,#b5bddb,#bac1dc,#c3c9de)"></i><i style="background:linear-gradient(90deg,#c3c8de,#bbc2dc,#b7bfdb,#b8bfdb,#bdc4dd,#c6cbde,#d1d4dd,#dcd9d9,#dacbcb,#d8b9b9,#d8a0a2,#d88e90,#d98386,#d98587,#d89294,#d8a6a7,#d8c0c0,#dacece,#dbdbdc,#ced1dd,#c4c9de,#bbc2dd,#b7bfdb,#b7bfdb,#bcc3dd,#c5cade,#d0d2dd,#dcdbdb,#dacdcd,#d8bcbc,#d8a3a4,#d89092,#d98486,#d98486,#d89092,#d8a3a4,#d8bdbd,#dacdcd,#dcdbdb,#d0d2dd,#c5cade,#bcc3dd,#b7bfdb,#b7bfdb,#bcc2dd,#c4c9de)"></i><i style="background:linear-gradient(90deg,#c3c8de,#bcc3dd,#b8c0dc,#b9c0dc,#bec5dd,#c6cbde,#d1d3dd,#dcdbdb,#dacdcd,#d8bfbf,#d8a8a9,#d89798,#d88e90,#d88f91,#d89a9c,#d8adae,#d8c3c3,#dad1d1,#dadadc,#ced1dd,#c4c9de,#bcc3dd,#b9c0dc,#b9c0dc,#bdc4dd,#c5cade,#cfd2dd,#dbdcdc,#dacfcf,#d8c1c1,#d8aaab,#d8989a,#d88e90,#d88e90,#d8989a,#d8abab,#d8c1c1,#dacfcf,#dbdbdc,#cfd2dd,#c5cade,#bdc4dd,#b9c0dc,#b9c0dc,#bdc3dd,#c4c9de)"></i><i style="background:linear-gradient(90deg,#c3c8de,#bdc3dd,#b9c1dc,#bac1dc,#bfc5de,#c6cbde,#d0d2dd,#dbdbdc,#dad0d0,#d8c3c3,#d8b0b0,#d89fa0,#d89798,#d8989a,#d8a3a4,#d8b5b5,#d9c6c6,#dbd3d3,#d8d9dc,#cdd0dd,#c4c9de,#bdc4dd,#bac1dc,#bac1dc,#bec4dd,#c5cade,#ced1dd,#dadadc,#dad1d1,#d9c4c4,#d8b2b2,#d8a1a2,#d89799,#d89799,#d8a1a2,#d8b2b3,#d9c5c5,#dbd2d2,#dadadc,#ced1dd,#c5cade,#bec4dd,#bac1dc,#bac1dc,#bdc4dd,#c4c9de)"></i><i style="background:linear-gradient(90deg,#c3c8de,#bdc4dd,#bac1dc,#bbc2dc,#bfc5de,#c6cade,#cfd1dd,#d9dadc,#dbd2d2,#d9c6c6,#d8b7b8,#d8a8a9,#d8a0a1,#d8a1a2,#d8abac,#d8bcbc,#d9c9c9,#dbd6d6,#d7d8dc,#ccd0dd,#c4c9de,#bec4dd,#bac1dc,#bbc2dc,#bec5dd,#c5cade,#cdd1dd,#d8d9dc,#dbd4d4,#d9c8c8,#d8baba,#d8a9aa,#d8a1a2,#d8a1a2,#d8aaaa,#d8baba,#d9c8c8,#dbd4d4,#d8d9dc,#cdd0dd,#c5cade,#bec5dd,#bbc2dc,#bac1dc,#bec4dd,#c4c9de)"></i><i style="background:linear-gradient(90deg,#c3c8de,#bdc4dd,#bbc2dc,#bbc2dd,#bfc5de,#c5cade,#cdd1dd,#d8d9dc,#dbd5d5,#d9caca,#d8bfbf,#d8b1b1,#d8a9aa,#d8aaab,#d8b4b4,#d8c2c2,#dacdcd,#dbd8d8,#d5d6dd,#cbcfdd,#c3c9de,#bec4dd,#bbc2dc,#bbc2dc,#bec5de,#c4c9de,#ccd0dd,#d6d8dc,#dbd7d7,#dacbcb,#d8c1c1,#d8b2b3,#d8aaab,#d8aaab,#d8b2b3,#d8c1c1,#dacbcb,#dbd7d7,#d6d7dc,#ccd0dd,#c4c9de,#bec5de,#bbc2dc,#bbc2dc,#bec4dd,#c4c9de)"></i><i style="background:linear-gradient(90deg,#c2c8de,#bdc4dd,#bbc2dc,#bcc2dd,#bfc5de,#c5cade,#ccd0dd,#d6d7dc,#dbd8d8,#dacdcd,#d9c4c4,#d8b9ba,#d8b3b3,#d8b4b4,#d8bcbc,#d9c6c6,#dad0d0,#dcdbdb,#d3d5dd,#cacedd,#c3c8de,#bec4dd,#bbc2dc,#bbc2dd,#bec5de,#c4c9de,#cbcfdd,#d4d6dd,#dcd9d9,#dacece,#d9c5c5,#d8bbbb,#d8b3b3,#d8b3b3,#d8bbbb,#d9c5c5,#dacfcf,#dcd9d9,#d4d6dd,#cbcfdd,#c4c9de,#bec5de,#bbc2dd,#bbc2dd,#bec4dd,#c3c8de)"></i></div><div class="hm" style="left:194px;top:14px;width:136px;height:73px"><i style="background:linear-gradient(90deg,#bbc2dc,#b9c1dc,#b5bddb,#b0b9d9,#a8b3d7,#9fabd4,#96a3d0,#8d9ccd,#8797cb,#8394ca,#8393c9,#8696cb,#8c9bcd,#95a2d0,#9eaad3,#a6b1d6,#aeb7d8,#b4bcda,#b8c0dc,#bbc2dc,#bbc2dc,#bac1dc,#b6bedb,#b0b9d9,#a9b3d7,#a0acd4,#97a4d1,#8e9dce,#8797cb,#8394ca,#8393c9,#8696ca,#8c9bcd,#94a1cf,#9ca9d3,#a5b0d6,#adb6d8,#b3bcda,#b8bfdb,#bac1dc,#bbc2dd,#bac1dc,#b7bedb,#b1bad9,#aab4d7,#a1add4)"></i><i style="background:linear-gradient(90deg,#bcc3dd,#bac1dc,#b6bedb,#afb8d9,#a7b1d6,#9daad3,#93a1cf,#8a99cc,#8393c9,#7f90c8,#8091c8,#8494ca,#8a9acc,#93a1cf,#9daad3,#a6b1d6,#aeb8d8,#b5bdda,#b9c1dc,#bcc3dd,#bcc3dd,#bac1dc,#b6bedb,#b0b9d9,#a8b2d6,#9eabd3,#94a2d0,#8b9acc,#8494ca,#8091c8,#7f90c8,#8393c9,#8a99cc,#92a0cf,#9ca9d3,#a5b0d6,#adb7d8,#b4bcda,#b9c0dc,#bcc2dd,#bcc3dd,#bbc2dc,#b7bfdb,#b1bad9,#a9b3d7,#9facd4)"></i><i style="background:linear-gradient(90deg,#bdc4dd,#bbc2dc,#b6bedb,#afb8d9,#a6b1d6,#9ba8d2,#909fce,#8797cb,#8091c8,#7c8ec7,#7d8ec7,#8192c9,#8999cc,#93a1cf,#9daad3,#a7b2d6,#b0b9d9,#b6bedb,#bbc2dc,#bdc4dd,#bec4dd,#bbc2dd,#b7bfdb,#b0b9d9,#a7b2d6,#9da9d3,#92a0cf,#8898cb,#8091c9,#7c8ec7,#7d8ec7,#8192c9,#8898cb,#92a0cf,#9ca9d3,#a6b1d6,#afb8d9,#b5bddb,#bac1dc,#bdc4dd,#bec4dd,#bcc3dd,#b8bfdb,#b1bad9,#a8b3d7,#9eaad3)"></i><i style="background:linear-gradient(90deg,#bfc5de,#bcc3dd,#b7bfdb,#afb8d9,#a5b0d6,#9aa7d2,#8e9dce,#8494ca,#7d8ec7,#7a8cc6,#7b8dc6,#8091c8,#8998cc,#93a1cf,#9eabd3,#a9b3d7,#b1bad9,#b8c0dc,#bdc3dd,#bfc5de,#bfc5de,#bdc3dd,#b8bfdb,#b0b9d9,#a6b1d6,#9ba8d2,#909ece,#8595ca,#7e8fc8,#7a8cc6,#7a8cc6,#7f90c8,#8897cb,#92a0cf,#9daad3,#a7b2d6,#b0b9d9,#b7bfdb,#bcc3dd,#bfc5de,#bfc6de,#bdc4dd,#b8c0dc,#b1bad9,#a8b2d6,#9ca9d3)"></i><i style="background:linear-gradient(90deg,#c1c7de,#bec4dd,#b8c0dc,#afb9d9,#a5b0d5,#99a6d1,#8d9ccd,#8293c9,#7b8dc7,#788ac5,#7a8cc6,#8091c8,#8999cc,#94a2d0,#a0acd4,#abb5d7,#b3bcda,#bac1dc,#bfc5de,#c1c7de,#c1c7de,#bfc5de,#b9c0dc,#b1b9d9,#a6b1d6,#9aa7d2,#8e9dcd,#8394ca,#7c8dc7,#788ac5,#798bc6,#7f90c8,#8898cb,#93a1cf,#9fabd4,#a9b4d7,#b3bbda,#bac1dc,#bfc5de,#c1c7de,#c1c7de,#bfc5de,#bac1dc,#b2bada,#a7b2d6,#9ca8d2)"></i><i style="background:linear-gradient(90deg,#c3c9de,#c0c6de,#bac1dc,#b0b9d9,#a5b0d6,#98a5d1,#8c9bcd,#8192c9,#7a8cc6,#778ac5,#7a8cc6,#8192c9,#8b9acc,#97a4d1,#a3aed5,#adb7d8,#b6bedb,#bdc4dd,#c2c7de,#c4c9de,#c3c9de,#c1c7de,#bbc2dc,#b2bad9,#a6b1d6,#9aa7d2,#8d9ccd,#8293c9,#7a8cc6,#778ac5,#798bc6,#8091c8,#8a99cc,#95a3d0,#a1add4,#acb6d8,#b5bddb,#bdc3dd,#c1c7de,#c4c9de,#c4c9de,#c1c7de,#bbc2dd,#b3bbda,#a8b2d6,#9ba8d2)"></i><i style="background:linear-gradient(90deg,#c6cbde,#c2c8de,#bcc3dd,#b2bada,#a6b1d6,#98a5d1,#8b9acc,#8191c9,#7a8cc6,#788ac5,#7b8dc6,#8393c9,#8d9ccd,#9aa7d2,#a6b1d6,#b1bad9,#bac1dc,#c1c6de,#c5cade,#c7cbde,#c6cbde,#c3c8de,#bdc3dd,#b3bcda,#a7b2d6,#9aa7d2,#8d9ccd,#8292c9,#7a8cc6,#778ac5,#7a8cc6,#8192c9,#8c9bcd,#98a5d1,#a4b0d5,#b0b9d9,#b9c0dc,#c0c6de,#c4c9de,#c6cbde,#c6cbde,#c3c9de,#bec4dd,#b4bdda,#a9b3d7,#9ba8d2)"></i><i style="background:linear-gradient(90deg,#c9cddd,#c5cade,#bec5dd,#b4bcda,#a7b2d6,#99a6d1,#8c9bcd,#8192c9,#7a8cc6,#798bc6,#7d8ec7,#8595ca,#919fce,#9eaad3,#aab4d7,#b5bdda,#bec4dd,#c4c9de,#c8ccdd,#cacedd,#c9cddd,#c6cade,#bfc6de,#b5bddb,#a8b3d7,#9ba7d2,#8d9ccd,#8293c9,#7b8dc6,#798bc6,#7c8ec7,#8494ca,#8f9ece,#9ca9d3,#a8b3d7,#b4bcda,#bdc3dd,#c3c9de,#c8ccdd,#cacedd,#c9cddd,#c6cbde,#c0c6de,#b6bedb,#aab4d7,#9ca9d3)"></i><i style="background:linear-gradient(90deg,#ccd0dd,#c8ccdd,#c1c7de,#b6bedb,#a9b3d7,#9ba7d2,#8d9ccd,#8393c9,#7c8ec7,#7b8dc7,#8091c8,#8999cc,#95a3d0,#a2aed5,#afb8d9,#b9c1dc,#c2c8de,#c8ccdd,#cccfdd,#cdd0dd,#ccd0dd,#c9cddd,#c2c8de,#b8bfdb,#abb5d7,#9ca9d3,#8f9dce,#8494ca,#7d8ec7,#7b8dc7,#7f90c8,#8898cb,#94a2d0,#a1add4,#adb7d8,#b8c0dc,#c1c7de,#c7ccdd,#cbcfdd,#cdd0dd,#cdd0dd,#c9cddd,#c3c8de,#b9c0dc,#acb6d8,#9eaad3)"></i><i style="background:linear-gradient(90deg,#d0d3dd,#cccfdd,#c4cade,#b9c1dc,#acb5d8,#9da9d3,#8f9ece,#8595ca,#7f90c8,#7f90c8,#8495ca,#8e9dcd,#9ba7d2,#a8b2d6,#b4bcda,#bfc5de,#c6cbde,#cccfdd,#d0d2dd,#d1d3dd,#d0d3dd,#ccd0dd,#c6cade,#bbc2dc,#adb7d8,#9fabd4,#919fce,#8696ca,#8090c8,#7f90c8,#8494ca,#8d9ccd,#99a6d1,#a6b1d6,#b3bbda,#bdc4dd,#c5cade,#cbcfdd,#cfd2dd,#d1d3dd,#d0d3dd,#cdd0dd,#c6cbde,#bcc3dd,#afb8d9,#a0acd4)"></i><i style="background:linear-gradient(90deg,#d4d6dd,#d0d2dd,#c8ccdd,#bdc4dd,#afb8d9,#a0acd4,#92a0cf,#8898cb,#8393c9,#8394ca,#8999cc,#94a2d0,#a1acd4,#aeb7d8,#bac1dc,#c4c9de,#cbcedd,#d0d3dd,#d4d6dd,#d5d7dc,#d4d6dd,#d1d3dd,#c9cddd,#bfc5de,#b1bad9,#a2add5,#94a2d0,#8998cc,#8394ca,#8393c9,#8898cb,#92a0cf,#9fabd4,#acb6d8,#b8c0dc,#c3c8de,#cacedd,#d0d2dd,#d3d5dd,#d5d7dc,#d5d6dd,#d1d3dd,#cacedd,#c0c6de,#b2bbda,#a3afd5)"></i><i style="background:linear-gradient(90deg,#d9d9dc,#d4d6dd,#ccd0dd,#c2c7de,#b3bbda,#a4afd5,#96a4d0,#8c9bcd,#8797cb,#8998cb,#8f9ece,#9aa7d2,#a7b2d6,#b4bcda,#c0c6de,#c9cddd,#d0d2dd,#d5d6dd,#d8d9dc,#dadadc,#d9dadc,#d5d6dd,#ced1dd,#c3c8de,#b5bddb,#a6b1d6,#98a5d1,#8d9ccd,#8897cb,#8898cb,#8e9dce,#99a6d1,#a5b0d6,#b2bbda,#bec5de,#c8ccdd,#cfd2dd,#d4d6dd,#d8d9dc,#dadadc,#d9dadc,#d6d7dc,#cfd1dd,#c4c9de,#b7bedb,#a7b2d6)"></i><i style="background:linear-gradient(90deg,#dcdbdb,#d9dadc,#d1d4dd,#c6cbde,#b8bfdb,#a8b3d7,#9ba7d2,#919fcf,#8d9ccd,#8e9dce,#96a3d0,#a1add4,#adb7d8,#bac1dc,#c5cade,#ced1dd,#d4d6dd,#d9dadc,#dcdbdb,#dcdada,#dcdada,#dadadc,#d2d4dd,#c8ccdd,#bac1dc,#aab4d7,#9ca9d3,#92a0cf,#8d9ccd,#8e9dcd,#94a2d0,#9fabd4,#acb6d8,#b9c0dc,#c4c9de,#cdd0dd,#d4d5dd,#d9d9dc,#dcdcdc,#dcdada,#dcdada,#dadbdc,#d3d5dd,#c9cddd,#bcc2dd,#acb6d8)"></i><i style="background:linear-gradient(90deg,#dbd5d5,#dcdada,#d7d8dc,#cbcfdd,#bdc4dd,#aeb7d8,#a0acd4,#96a4d0,#92a1cf,#95a2d0,#9ca9d3,#a7b2d6,#b4bcda,#c1c7de,#cacedd,#d3d5dd,#d9dadc,#dcdada,#dbd7d7,#dbd5d5,#dbd5d5,#dcd9d9,#d8d9dc,#cdd0dd,#bfc5de,#afb9d9,#a1add4,#97a5d1,#93a1cf,#94a2d0,#9ba8d2,#a6b1d6,#b3bbda,#bfc5de,#c9cddd,#d2d4dd,#d8d9dc,#dcdbdb,#dbd7d7,#dbd5d5,#dbd5d5,#dbd8d8,#d9d9dc,#ced1dd,#c1c7de,#b1bad9)"></i><i style="background:linear-gradient(90deg,#dad0d0,#dbd4d4,#dcdcdc,#d1d3dd,#c3c8de,#b3bcda,#a6b1d6,#9ca9d3,#99a6d1,#9ba8d2,#a3aed5,#aeb8d8,#bbc2dc,#c6cbde,#d0d2dd,#d7d8dc,#dcdbdb,#dbd6d6,#dbd2d2,#dad0d0,#dad0d0,#dbd3d3,#dcdbdb,#d2d4dd,#c5cade,#b5bddb,#a7b2d6,#9daad3,#99a6d1,#9ba7d2,#a2aed5,#adb6d8,#b9c1dc,#c5cade,#cfd1dd,#d6d8dc,#dcdbdb,#dbd6d6,#dbd2d2,#dad0d0,#dad0d0,#dbd3d3,#dcdada,#d4d6dd,#c6cbde,#b7bfdb)"></i><i style="background:linear-gradient(90deg,#dacbcb,#dacece,#dbd6d6,#d7d8dc,#c9cddd,#bac1dc,#acb6d8,#a3aed5,#9fabd4,#a2aed5,#aab4d7,#b6bddb,#c2c8de,#ccd0dd,#d5d6dd,#dcdcdc,#dbd7d7,#dbd2d2,#dacece,#dacbcb,#d9caca,#dacdcd,#dbd4d4,#d8d9dc,#cbcedd,#bcc3dd,#adb7d8,#a3afd5,#9fabd4,#a1add4,#a9b3d7,#b4bcda,#c1c7de,#cbcfdd,#d4d6dd,#dbdbdc,#dbd7d7,#dbd2d2,#dacece,#dacbcb,#d9caca,#dacdcd,#dbd3d3,#dadadc,#ccd0dd,#bec4dd)"></i><i style="background:linear-gradient(90deg,#d9c5c5,#d9c8c8,#dacfcf,#dcdbdb,#cfd2dd,#c1c7de,#b3bbda,#a9b3d7,#a6b1d6,#a9b3d7,#b2bada,#bfc5de,#cbcfdd,#d5d7dc,#dcdcdc,#dbd7d7,#dbd3d3,#dacece,#d9c9c9,#d9c6c6,#d9c5c5,#d9c7c7,#dacece,#dcd9d9,#d1d3dd,#c2c8de,#b4bcda,#aab4d7,#a6b1d6,#a8b3d7,#b0b9d9,#bdc4dd,#cacedd,#d4d6dd,#dbdbdc,#dbd8d8,#dbd3d3,#dacece,#d9caca,#d9c6c6,#d9c5c5,#d9c7c7,#dacdcd,#dbd8d8,#d3d5dd,#c4c9de)"></i><i style="background:linear-gradient(90deg,#d8bebe,#d8c1c1,#d9c8c8,#dbd4d4,#d6d7dc,#c7ccdd,#bac1dc,#b0b9d9,#acb6d8,#b1b9d9,#bdc4dd,#cdd1dd,#dcdcdc,#dbd2d2,#dacfcf,#dacfcf,#dacece,#d9caca,#d9c5c5,#d8c1c1,#d8bebe,#d8c1c1,#d9c7c7,#dbd2d2,#d8d9dc,#c9cddd,#bbc2dc,#b1b9d9,#acb6d8,#b0b9d9,#bbc2dc,#cbcfdd,#dbdbdc,#dbd3d3,#dad0d0,#dacfcf,#dacece,#dacbcb,#d9c6c6,#d8c2c2,#d8bebe,#d8c0c0,#d9c6c6,#dad1d1,#dadadc,#cbcedd)"></i><i style="background:linear-gradient(90deg,#d8b3b4,#d8b6b6,#d8c1c1,#dacccc,#dcdbdb,#ced1dd,#c1c6de,#b7bedb,#b4bcda,#bcc3dd,#d0d2dd,#dad0d0,#d8bcbc,#d8adad,#d8b1b2,#d8c0c0,#d9c7c7,#d9c6c6,#d8c2c2,#d8b9b9,#d8b3b4,#d8b5b5,#d8c0c0,#dacbcb,#dcd9d9,#d0d2dd,#c2c8de,#b7bfdb,#b3bcda,#bac1dc,#cdd0dd,#dbd3d3,#d8bfbf,#d8adae,#d8b0b0,#d8bfbf,#d9c6c6,#d9c7c7,#d8c2c2,#d8baba,#d8b4b4,#d8b4b5,#d8bebe,#d9c9c9,#dbd7d7,#d1d4dd)"></i><i style="background:linear-gradient(90deg,#d8a8a9,#d8a9aa,#d8b4b4,#d9c5c5,#dbd4d4,#d5d6dd,#c7cbde,#bec4dd,#bdc4dd,#cfd1dd,#d9c9c9,#d89597,#dc666b,#dd585e,#dc696d,#d89092,#d8b2b2,#d8c1c1,#d8bcbc,#d8b1b1,#d8a8a9,#d8a8a9,#d8b2b2,#d8c3c3,#dbd2d2,#d6d8dc,#c8cddd,#bec5dd,#bcc3dd,#cbcfdd,#dacdcd,#d89b9d,#db6a6f,#dd585e,#dc656a,#d88c8e,#d8afaf,#d8c0c0,#d8bdbd,#d8b2b2,#d8a9aa,#d8a8a9,#d8b0b1,#d8c2c2,#dad0d0,#d8d9dc)"></i><i style="background:linear-gradient(90deg,#d89d9e,#d89c9d,#d8a6a7,#d8bbbb,#dacccc,#dcdcdc,#cdd0dd,#c5cade,#cccfdd,#dacccc,#d98184,#e03740,#e0232d,#e01f29,#e02831,#e04048,#d98587,#d8aeaf,#d8b4b4,#d8a8a9,#d89e9f,#d89b9c,#d8a4a5,#d8b7b8,#d9caca,#dcdada,#cfd2dd,#c5cade,#c9cddd,#dad1d1,#d88c8e,#e03b43,#e0252e,#e01f29,#e02630,#e03c44,#d97c7f,#d8abab,#d8b4b5,#d8aaab,#d89fa0,#d89b9c,#d8a2a3,#d8b5b5,#d9c8c8,#dcd9d9)"></i><i style="background:linear-gradient(90deg,#d89294,#d88f90,#d89798,#d8abac,#d9c4c4,#dbd5d5,#d4d6dd,#ced1dd,#dbd6d6,#d88c8e,#e02d36,#d71a23,#cd1822,#cb1821,#d11922,#df1b25,#e03d46,#d88d8f,#d8a8a9,#d8a0a1,#d89395,#d88e90,#d89597,#d8a8a9,#d8c2c2,#dbd3d3,#d5d7dc,#cdd1dd,#dcdada,#d89899,#e0333b,#d91a24,#ce1822,#cb1821,#d01922,#dd1b25,#e03941,#d88688,#d8a7a8,#d8a2a3,#d89496,#d88e90,#d89495,#d8a6a7,#d8c1c1,#dad1d1)"></i><i style="background:linear-gradient(90deg,#d88789,#d97e81,#d8888a,#d89c9d,#d8baba,#dacece,#dbdbdc,#dbdcdc,#d8acad,#e0353d,#d21923,#c41720,#be161f,#be161f,#c11720,#cb1821,#e01c26,#de535a,#d89698,#d89799,#d8898b,#d97e81,#d98588,#d8999a,#d8b6b6,#dacccc,#dcdcdc,#d9dadc,#d8b9b9,#e03c44,#d51923,#c51720,#bf161f,#bd161f,#c11720,#c91821,#dd1b25,#df474f,#d89294,#d8999a,#d88b8d,#d97f82,#d98486,#d89698,#d8b2b3,#d9caca)"></i><i style="background:linear-gradient(90deg,#da797c,#db6d71,#da7478,#d88d8f,#d8abac,#d9c7c7,#dbd5d5,#d9c8c8,#dd5b61,#d71a24,#c21720,#b9161e,#b5151e,#b5151e,#b8151e,#bf161f,#cd1822,#e02b34,#da767a,#d88e90,#da7b7e,#db6d72,#db7276,#d88a8c,#d8a7a8,#d9c5c5,#dbd4d4,#dacdcd,#db6e72,#db1a24,#c31720,#ba161e,#b6151e,#b5151e,#b7151e,#be161f,#cb1821,#e0252e,#db6c71,#d88e90,#d97e81,#db6e72,#db7074,#d88688,#d8a3a4,#d8c3c3)"></i><i style="background:linear-gradient(90deg,#db6b70,#dd5c62,#dd6066,#da797d,#d89c9d,#d8c0c0,#dacbcb,#d89e9f,#e0262f,#c61721,#b8151e,#b2141d,#ae141c,#ae141c,#b1141d,#b7151e,#c11720,#d81a24,#df484f,#d97e81,#db6e72,#dd5d62,#dd5e64,#da7579,#d89899,#d8bcbc,#dacbcb,#d8abab,#e02e37,#c81821,#b9161e,#b2151d,#af141d,#ae141c,#b0141d,#b6151e,#c0161f,#d51923,#e03e46,#d97c7f,#db7175,#dd5e63,#dd5d63,#db7276,#d89496,#d8b7b8)"></i><i style="background:linear-gradient(90deg,#dd5e64,#df4b53,#df4d54,#dc656a,#d88e8f,#d8b2b2,#d8bcbc,#dd5b61,#d31923,#bc161f,#b1141d,#ab141c,#a8131b,#a8131b,#ab141c,#b0141d,#b9161e,#ca1821,#e02c35,#dc686d,#dc6166,#df4c53,#df4b52,#dc6166,#d8898b,#d8aeae,#d8c0c0,#db6f73,#d71a23,#bd161f,#b2151d,#ac141c,#a9131b,#a8131b,#aa131c,#b0141d,#b8151e,#c81821,#e0262f,#dc6368,#dc6469,#de4e55,#df4b52,#dd5d63,#d98486,#d8a9aa)"></i><i style="background:linear-gradient(90deg,#de5158,#e03e46,#e03d45,#de5158,#da7c7f,#d8a3a4,#d89d9e,#e02d36,#c51720,#b5151e,#ac141c,#a6131b,#a3121a,#a3121a,#a5131b,#ab141c,#b4151d,#c11720,#dd1b25,#df4e55,#de545b,#e03f47,#e03d45,#df4d54,#da7679,#d8a0a1,#d8a4a5,#e0363e,#c81821,#b6151e,#ad141c,#a6131b,#a3121b,#a3121a,#a5131b,#aa131c,#b2151d,#bf161f,#d91a24,#df454d,#de575d,#e04048,#e03c45,#df4a51,#db7074,#d89c9d)"></i><i style="background:linear-gradient(90deg,#e0454c,#e0373f,#e0353d,#e03f47,#dc696e,#d89496,#da7377,#da1a24,#bd161f,#af141d,#a7131b,#a1121a,#9e121a,#9e1219,#a1121a,#a6131b,#af141d,#bb161f,#d11922,#e03841,#df474f,#e03740,#e0343d,#e03d45,#dc6368,#d89193,#d98284,#e01b25,#bf161f,#b1141d,#a8131b,#a1121a,#9e121a,#9d1219,#a0121a,#a5131b,#ad141c,#b9161e,#ce1822,#e0333c,#df4950,#e03941,#e0343d,#e03c44,#dd5e63,#d88e8f)"></i><i style="background:linear-gradient(90deg,#e03c44,#e03039,#e02c36,#e0363f,#dd575d,#d98184,#e0444b,#cd1822,#b7151e,#ab141c,#a2121a,#9c1119,#991118,#991118,#9c1119,#a2121a,#aa131c,#b6151e,#c81821,#e02a33,#e03d45,#e0313a,#e02c35,#e0343d,#de5158,#d98083,#de545a,#d11922,#b9151e,#ac141c,#a3121b,#9d1119,#991119,#991118,#9b1119,#a1121a,#a9131c,#b4151e,#c61720,#e0242e,#e03e46,#e0323b,#e02c35,#e0333c,#df4c53,#da7b7e)"></i><i style="background:linear-gradient(90deg,#e0363f,#e02a33,#e0252e,#e02e37,#df464e,#db6a6f,#e02d36,#c41720,#b2151d,#a7131b,#9e121a,#981118,#951018,#951018,#981118,#9e121a,#a7131b,#b2151d,#c21720,#e01e28,#e03740,#e02b34,#e0252e,#e02c35,#e04149,#db6b6f,#e0353e,#c71821,#b4151d,#a8131b,#9f121a,#981118,#951018,#951017,#971118,#9d1219,#a5131b,#b0141d,#c01720,#de1b25,#e0373f,#e02d36,#e0252e,#e02b34,#e03e46,#dc676c)"></i><i style="background:linear-gradient(90deg,#e03139,#e0242e,#e01e28,#e02730,#e03b44,#de5359,#e01c26,#bf161f,#af141d,#a3121b,#9a1119,#941017,#911017,#911017,#941017,#9a1119,#a3121b,#af141d,#be161f,#da1a24,#e0313a,#e0262f,#e01e28,#e0252e,#e03941,#de565c,#e0242d,#c11720,#b0141d,#a4131b,#9b1119,#951018,#911017,#911017,#941017,#991119,#a2121a,#ad141c,#bc161f,#d61a23,#e03039,#e02831,#e01e28,#e0232d,#e0363e,#de545a)"></i><i style="background:linear-gradient(90deg,#e02c35,#e0202a,#de1b25,#e0202a,#e0343d,#e03e46,#d71a23,#bb161f,#ac141c,#a0121a,#971118,#911017,#8e0f16,#8e0f16,#911017,#971118,#a1121a,#ac141c,#bb161f,#d41923,#e02c35,#e0212b,#de1b25,#e01e28,#e0313a,#e04149,#dc1a24,#bd161f,#ad141c,#a1121a,#981118,#921017,#8e0f16,#8e0f16,#911017,#961018,#9f121a,#aa131c,#b9161e,#d01922,#e02a33,#e0232d,#de1b25,#e01d27,#e02f38,#e04149)"></i><i style="background:linear-gradient(90deg,#e02831,#e01c26,#da1a24,#df1b25,#e02e37,#e0343d,#d01922,#b8151e,#a9131c,#9d1219,#941017,#8e0f16,#8b0f15,#8c0f16,#8f0f16,#951018,#9e121a,#aa131c,#b8151e,#d01922,#e02831,#e01e28,#da1a24,#de1b25,#e02b34,#e03740,#d51923,#ba161e,#aa131c,#9f121a,#951018,#8f0f16,#8c0f16,#8b0f15,#8e0f16,#941017,#9d1219,#a8131b,#b7151e,#cc1822,#e0252f,#e0202a,#db1a24,#dd1b24,#e02932,#e03840)"></i><i style="background:linear-gradient(90deg,#e0252e,#df1b25,#d71a23,#dc1a24,#e02932,#e02c35,#cc1821,#b5151e,#a7131b,#9b1119,#921017,#8c0f16,#890e15,#8a0e15,#8d0f16,#931017,#9c1119,#a8131b,#b7151e,#cd1822,#e0242e,#e01b25,#d71a23,#da1a24,#e0262f,#e03039,#cf1922,#b7151e,#a8131b,#9d1119,#931017,#8d0f16,#8a0e15,#890e15,#8c0f16,#921017,#9b1119,#a7131b,#b5151e,#c91821,#e0222b,#e01e27,#d81a24,#d91a24,#e0232d,#e03039)"></i><i style="background:linear-gradient(90deg,#e0232d,#de1b25,#d51923,#d91a24,#e0242e,#e0262f,#c81821,#b4151d,#a5131b,#9a1119,#911017,#8b0f15,#880e15,#880e15,#8b0f15,#921017,#9b1119,#a7131b,#b5151e,#cb1821,#e0222c,#df1b25,#d51923,#d71a24,#e0222b,#e02933,#cc1822,#b5151e,#a7131b,#9b1119,#921017,#8b0f15,#880e15,#880e15,#8b0f15,#911017,#9a1119,#a5131b,#b4151d,#c81821,#e02029,#e01c26,#d61a23,#d71a23,#e01f29,#e02b34)"></i><i style="background:linear-gradient(90deg,#e0222c,#dd1b25,#d31923,#d61a23,#e0212a,#e0212b,#c61721,#b2151d,#a4131b,#991118,#900f16,#8a0e15,#870e15,#870e15,#8b0f15,#911017,#9a1119,#a6131b,#b5151e,#ca1821,#e0222b,#df1b25,#d41923,#d51923,#e01e28,#e0252e,#c91821,#b4151d,#a6131b,#9a1119,#911017,#8a0f15,#870e15,#870e15,#8a0e15,#900f16,#991118,#a5131b,#b3151d,#c71721,#e01f29,#e01c26,#d51923,#d51923,#e01c26,#e02630)"></i><i style="background:linear-gradient(90deg,#e0232d,#de1b25,#d31923,#d51923,#e01e28,#e01e28,#c51720,#b2151d,#a4131b,#981118,#8f0f16,#890e15,#870e14,#870e14,#8a0f15,#911017,#9a1119,#a6131b,#b5151e,#ca1821,#e0232c,#df1b25,#d41923,#d41923,#e01c26,#e0222c,#c81821,#b4151d,#a5131b,#991119,#900f17,#8a0e15,#870e14,#870e14,#8a0e15,#900f16,#991118,#a5131b,#b3151d,#c71721,#e01f29,#e01d26,#d51923,#d41923,#df1b25,#e0232d)"></i><i style="background:linear-gradient(90deg,#e0262f,#df1b25,#d41923,#d51923,#e01d27,#e01d27,#c51720,#b2151d,#a4131b,#981118,#8f0f16,#890e15,#870e14,#870e15,#8a0f15,#911017,#9a1119,#a6131b,#b5151e,#cb1821,#e0252e,#e01c26,#d41923,#d41923,#e01b25,#e0212a,#c81821,#b4151d,#a5131b,#991119,#900f17,#8a0e15,#870e14,#870e14,#8a0e15,#900f16,#991118,#a5131b,#b3151d,#c81821,#e0222b,#e01e28,#d51923,#d41923,#de1b25,#e0222c)"></i><i style="background:linear-gradient(90deg,#e02933,#e01c26,#d51923,#d61a23,#e01d27,#e01d27,#c61720,#b2151d,#a4131b,#991118,#900f16,#8a0f15,#870e15,#880e15,#8b0f15,#921017,#9b1119,#a7131b,#b6151e,#cd1822,#e02932,#e01f29,#d61a23,#d51923,#e01b25,#e0212a,#c81821,#b4151d,#a6131b,#9a1119,#911017,#8b0f15,#880e15,#880e15,#8b0f15,#911017,#9a1119,#a6131b,#b4151d,#c91821,#e0252f,#e0212b,#d71a23,#d41923,#de1b25,#e0222c)"></i><i style="background:linear-gradient(90deg,#e02e37,#e0202a,#d81a24,#d71a23,#e01e28,#e01f29,#c71721,#b3151d,#a5131b,#9a1119,#911017,#8b0f15,#890e15,#890e15,#8d0f16,#931017,#9d1119,#a9131b,#b8151e,#d01922,#e02e37,#e0232c,#d81a24,#d61a23,#e01c26,#e0222c,#ca1821,#b5151e,#a7131b,#9b1119,#921017,#8c0f16,#890e15,#890e15,#8c0f16,#921017,#9b1119,#a7131b,#b6151e,#cc1822,#e02b34,#e0252f,#da1a24,#d61a23,#df1b25,#e0232d)"></i><i style="background:linear-gradient(90deg,#e0353e,#e0252e,#db1a24,#da1a24,#e0202a,#e0222c,#c91821,#b5151e,#a7131b,#9b1119,#931017,#8d0f16,#8a0f15,#8b0f15,#8e0f16,#951018,#9f121a,#aa131c,#ba161e,#d51923,#e0353e,#e02831,#dc1a24,#d91a24,#e01e28,#e0252f,#cc1822,#b7151e,#a8131b,#9d1119,#941017,#8e0f16,#8b0f15,#8b0f15,#8e0f16,#941017,#9d1219,#a9131c,#b8151e,#d01922,#e0323b,#e02a33,#dd1b24,#d91a24,#e01c26,#e0262f)"></i><i style="background:linear-gradient(90deg,#e03d45,#e02b34,#df1b25,#dd1b24,#e0232c,#e02730,#cc1822,#b7151e,#a9131b,#9e1219,#951018,#8f0f16,#8d0f16,#8d0f16,#911017,#971118,#a1121a,#ad141c,#bd161f,#dc1a24,#e03d46,#e02d36,#e01b25,#dc1a24,#e0212b,#e02933,#d01922,#b9151e,#aa131c,#9f121a,#961018,#900f16,#8d0f16,#8d0f16,#900f17,#961018,#a0121a,#ab141c,#ba161f,#d71a23,#e03b44,#e03039,#e01d27,#dc1a24,#e01f29,#e02a33)"></i><i style="background:linear-gradient(90deg,#df4b52,#e0313a,#e0202a,#e01c26,#e02730,#e02d36,#d11922,#ba161e,#ab141c,#a0121a,#981118,#921017,#900f16,#900f17,#941017,#9a1119,#a4131b,#b0141d,#c11720,#e0222b,#df4d54,#e0343d,#e0212b,#e01c26,#e0252e,#e02f38,#d51923,#bb161f,#ad141c,#a1121a,#991118,#931017,#900f16,#900f16,#931017,#991119,#a3121a,#ae141c,#be161f,#e01b25,#df4b52,#e0373f,#e0232c,#e01c26,#e0232d,#e02f38)"></i><i style="background:linear-gradient(90deg,#dd5e64,#e03941,#e02730,#e0222c,#e02b35,#e0333c,#d81a24,#bd161f,#ae141c,#a3121b,#9b1119,#961018,#931017,#941017,#971118,#9e121a,#a7131b,#b3151d,#c61721,#e0323b,#dc6167,#e03b44,#e02832,#e0222c,#e02a33,#e0353d,#dc1a24,#bf161f,#b0141d,#a4131b,#9c1119,#961018,#931017,#931017,#971118,#9d1219,#a6131b,#b2141d,#c41720,#e02a33,#dc6166,#e03e47,#e02a33,#e0222c,#e02832,#e0343d)"></i><i style="background:linear-gradient(90deg,#db7175,#e0424a,#e02f38,#e02932,#e0313a,#e03b43,#e01c26,#c21720,#b2151d,#a7131b,#9f121a,#991119,#971118,#981118,#9b1119,#a2121a,#ab141c,#b8151e,#cf1922,#df4b52,#da7679,#df474f,#e03039,#e02932,#e02f38,#e03b43,#e0222b,#c41720,#b3151d,#a8131b,#a0121a,#9a1119,#971118,#971118,#9b1119,#a1121a,#aa131c,#b6151e,#cb1821,#e03d46,#da777b,#df4d54,#e0323b,#e02932,#e02e37,#e03a42)"></i><i style="background:linear-gradient(90deg,#d98487,#de535a,#e03740,#e03139,#e0373f,#e0444c,#e02a33,#c81821,#b6151e,#ab141c,#a3121b,#9e121a,#9b1119,#9c1119,#a0121a,#a6131b,#af141d,#bd161f,#dc1b24,#da767a,#d88a8c,#dd595f,#e03941,#e03139,#e0353e,#e0434b,#e03038,#cb1821,#b8151e,#ac141c,#a4131b,#9e121a,#9c1119,#9c1119,#9f121a,#a5131b,#ae141c,#bb161f,#d71a23,#dc686d,#d88c8e,#dd5f64,#e03b43,#e0313a,#e0343d,#e04149)"></i><i style="background:linear-gradient(90deg,#d89495,#dc666b,#e04149,#e03941,#e03e46,#de5259,#e03a42,#d21923,#bb161f,#b0141d,#a8131b,#a3121a,#a0121a,#a1121a,#a5131b,#ab141c,#b5151e,#c51720,#e02f38,#d89b9c,#d89899,#db6b70,#e0444b,#e03941,#e03c44,#de5157,#e03f47,#d61a23,#bd161f,#b1141d,#a8131b,#a3121b,#a1121a,#a1121a,#a4131b,#aa131c,#b3151d,#c31720,#e02630,#d89395,#d89b9d,#db7175,#df484f,#e03942,#e03b44,#df4e55)"></i><i style="background:linear-gradient(90deg,#d8a2a3,#da797c,#de545a,#e0434b,#df4951,#dd6065,#de545a,#df1b25,#c21720,#b5151e,#ad141c,#a8131b,#a6131b,#a6131b,#aa131c,#b1141d,#bb161f,#d21923,#dd5d63,#d8b7b7,#d8a6a7,#d97e81,#de575d,#e0434b,#df474f,#dd5d63,#dd5b61,#e0202a,#c51720,#b6151e,#ae141c,#a8131b,#a6131b,#a6131b,#a9131c,#b0141d,#ba161e,#ce1922,#df4a51,#d8b3b3,#d8aaab,#d98486,#dd5b61,#df454c,#df464d,#dd5a60)"></i><i style="background:linear-gradient(90deg,#d8afb0,#d88c8e,#dc686c,#de555b,#dd585e,#db6d71,#db7175,#e03039,#cd1822,#bc161f,#b3151d,#ae141c,#ab141c,#ac141c,#b0141d,#b7151e,#c51720,#e0242e,#d89d9e,#d9c7c7,#d8b4b4,#d89092,#db6b6f,#de565c,#de575d,#db6a6f,#da7579,#e0373f,#d01922,#bd161f,#b4151d,#ae141c,#ac141c,#ac141c,#af141d,#b6151e,#c21720,#e01d27,#d89091,#d9c7c7,#d8b8b8,#d89496,#db6f73,#dd575e,#de565c,#dc676c)"></i><i style="background:linear-gradient(90deg,#d8bdbd,#d89b9c,#da7c7f,#dc686d,#dc686d,#da7a7d,#d8888a,#de535a,#dd1b24,#c51720,#ba161e,#b4151d,#b2151d,#b3151d,#b7151e,#c0161f,#d51923,#de555c,#d9c6c6,#dad0d0,#d8c1c1,#d89fa0,#d97f82,#dc696e,#dc676c,#da777b,#d8898b,#dd5f64,#e01c26,#c71721,#bb161f,#b5151e,#b2151d,#b2151d,#b6151e,#be161f,#d11922,#e0434b,#d8c1c1,#dad1d1,#d8c3c3,#d8a3a4,#d98386,#db6b6f,#dc666b,#da7578)"></i><i style="background:linear-gradient(90deg,#d9c6c6,#d8aaab,#d88f91,#da7b7e,#da797c,#d88789,#d89597,#d98285,#e0343c,#d31923,#c31720,#bc161f,#ba161e,#bb161f,#c01720,#ce1822,#e02e37,#d8a6a7,#dcdada,#dbd8d8,#d9c8c8,#d8aeae,#d89193,#d97c80,#da787b,#d98487,#d89596,#d88a8c,#e03942,#d61a23,#c51720,#bd161f,#ba161e,#ba161f,#bf161f,#cc1822,#e02831,#d8989a,#dbd7d7,#dcd9d9,#d9caca,#d8b2b2,#d89496,#d97f81,#da777b,#d98285)"></i><i style="background:linear-gradient(90deg,#dacdcd,#d8b9b9,#d89e9f,#d88d8f,#d8898b,#d89193,#d89fa0,#d89fa0,#dc686d,#e02831,#d31923,#c81821,#c51720,#c71721,#d01922,#e0242e,#da7c7f,#dbd2d2,#d1d4dd,#d9dadc,#dacfcf,#d8bdbd,#d8a1a2,#d88f90,#d8898b,#d89092,#d89e9f,#d8a1a2,#db7376,#e02c35,#d51923,#c91821,#c51720,#c61721,#cf1922,#e02029,#db6c70,#dacdcd,#d2d4dd,#d7d8dc,#dad1d1,#d8c0c0,#d8a4a5,#d89092,#d8898b,#d88f90)"></i><i style="background:linear-gradient(90deg,#dbd5d5,#d9c4c4,#d8adae,#d89c9d,#d89697,#d89b9c,#d8a7a8,#d8b0b0,#d89b9d,#dd595f,#e02a34,#dd1b24,#d81a24,#dc1a24,#e02a33,#dc696d,#d9c6c6,#cfd2dd,#c8cddd,#d2d4dd,#dbd6d6,#d9c6c6,#d8b0b0,#d89d9e,#d89697,#d89a9b,#d8a6a7,#d8b0b1,#d8a0a1,#dc6368,#e02e37,#de1b25,#d81a24,#db1a24,#e02730,#dd5c62,#d8c0c0,#d2d4dd,#c8ccdd,#d1d3dd,#dbd8d8,#d9c8c8,#d8b3b3,#d89fa0,#d89698,#d8999b)"></i><i style="background:linear-gradient(90deg,#dcdcdc,#dacccc,#d8bcbc,#d8aaab,#d8a2a4,#d8a5a6,#d8afb0,#d8bbbb,#d8b8b9,#d89b9c,#dc686d,#e03f47,#e03841,#e0434b,#da7a7d,#d8c1c1,#d3d5dd,#c1c6de,#c1c7de,#cccfdd,#dadbdc,#dacece,#d8bfbf,#d8abac,#d8a3a4,#d8a4a5,#d8aeaf,#d8baba,#d8baba,#d8a0a1,#db6e72,#e04249,#e03841,#e04048,#db7276,#d8b8b9,#d7d8dc,#c2c7de,#c1c7de,#cacedd,#d9d9dc,#dad0d0,#d8c1c1,#d8adae,#d8a3a4,#d8a4a5)"></i><i style="background:linear-gradient(90deg,#d5d7dc,#dbd3d3,#d9c6c6,#d8b8b8,#d8afb0,#d8b0b0,#d8b8b8,#d8c1c1,#d9c5c5,#d8c1c1,#d8abac,#d89798,#d89293,#d8a4a5,#d9c7c7,#d5d7dc,#bfc5de,#b7bedb,#bbc2dc,#c5cade,#d3d5dd,#dbd5d5,#d9c7c7,#d8b9ba,#d8afb0,#d8afb0,#d8b6b7,#d8c1c1,#d9c5c5,#d8c2c2,#d8aeaf,#d8989a,#d89193,#d8a0a1,#d9c4c4,#d9d9dc,#c1c7de,#b7bfdb,#bac1dc,#c4c9de,#d2d4dd,#dbd7d7,#d9c9c9,#d8bbbc,#d8b0b1,#d8afaf)"></i><i style="background:linear-gradient(90deg,#ced1dd,#dcdbdb,#dacdcd,#d8c3c3,#d8bbbc,#d8baba,#d8c0c0,#d9c5c5,#d9caca,#dacccc,#d9caca,#d9c7c7,#d9caca,#dbd4d4,#d3d5dd,#c0c6de,#b3bbda,#afb8d9,#b4bcda,#bfc5de,#ccd0dd,#dcdcdc,#dacece,#d9c4c4,#d8bcbc,#d8baba,#d8bfbf,#d9c4c4,#d9c9c9,#dacccc,#d9caca,#d9c8c8,#d9c9c9,#dbd2d2,#d5d6dd,#c2c8de,#b4bcda,#afb8d9,#b3bbda,#bdc4dd,#cbcedd,#dadadc,#dad0d0,#d9c5c5,#d8bdbd,#d8baba)"></i><i style="background:linear-gradient(90deg,#c8ccdd,#d6d8dc,#dbd4d4,#d9caca,#d9c4c4,#d8c3c3,#d9c5c5,#d9c9c9,#dacdcd,#dbd2d2,#dbd5d5,#dcd9d9,#d9dadc,#cfd1dd,#c1c7de,#b3bcda,#abb5d7,#a8b3d7,#adb7d8,#b8bfdb,#c6cbde,#d5d6dd,#dbd5d5,#dacbcb,#d9c4c4,#d8c2c2,#d9c4c4,#d9c8c8,#dacdcd,#dad1d1,#dbd5d5,#dbd8d8,#dadadc,#d0d3dd,#c3c8de,#b5bdda,#abb5d8,#a8b3d7,#acb6d8,#b6bedb,#c4c9de,#d3d5dd,#dbd7d7,#dacccc,#d9c5c5,#d8c3c3)"></i><i style="background:linear-gradient(90deg,#c1c7de,#d0d2dd,#dcdbdb,#dad0d0,#d9caca,#d9c8c8,#d9c9c9,#dacdcd,#dad1d1,#dbd6d6,#dcdbdb,#d6d7dc,#ced1dd,#c3c8de,#b6bedb,#abb5d7,#a4afd5,#a2aed5,#a7b1d6,#b1bad9,#c0c6de,#ced1dd,#dcdcdc,#dad1d1,#dacbcb,#d9c8c8,#d9c9c9,#dacccc,#dad0d0,#dbd5d5,#dcdbdb,#d7d8dc,#cfd2dd,#c4cade,#b8bfdb,#acb6d8,#a4afd5,#a2aed5,#a6b1d6,#afb9d9,#bec4dd,#ccd0dd,#dadbdc,#dbd2d2,#dacbcb,#d9c8c8)"></i><i style="background:linear-gradient(90deg,#bbc2dc,#cacedd,#d7d8dc,#dbd7d7,#dad0d0,#dacdcd,#dacece,#dad1d1,#dbd5d5,#dcdada,#d8d9dc,#d0d3dd,#c7cbde,#bbc2dd,#afb8d9,#a4afd5,#9da9d3,#9ba8d2,#a0acd4,#aab4d7,#b9c0dc,#c8ccdd,#d6d7dc,#dbd8d8,#dad1d1,#dacece,#dacece,#dad0d0,#dbd4d4,#dcd9d9,#d9d9dc,#d1d3dd,#c8ccdd,#bdc3dd,#b0b9d9,#a5b0d6,#9eaad3,#9ba8d2,#9fabd4,#a9b3d7,#b7bfdb,#c6cbde,#d4d6dd,#dcd9d9,#dad1d1,#dacece)"></i><i style="background:linear-gradient(90deg,#b5bdda,#c4c9de,#d1d3dd,#dcdcdc,#dbd6d6,#dbd3d3,#dbd3d3,#dbd5d5,#dcd9d9,#dadadc,#d3d5dd,#cbcfdd,#c1c7de,#b4bdda,#a8b2d6,#9daad3,#96a4d1,#95a3d0,#9aa7d2,#a4b0d5,#b3bbda,#c2c8de,#d0d2dd,#dbdbdc,#dbd6d6,#dbd3d3,#dbd3d3,#dbd5d5,#dcd9d9,#dadbdc,#d4d6dd,#cccfdd,#c2c8de,#b6bedb,#a9b4d7,#9eabd3,#97a4d1,#95a3d0,#99a6d2,#a3aed5,#b1bad9,#c1c7de,#ced1dd,#d9dadc,#dbd7d7,#dbd3d3)"></i><i style="background:linear-gradient(90deg,#afb8d9,#bfc5de,#cccfdd,#d6d7dc,#dcdbdb,#dbd8d8,#dbd8d8,#dcdada,#dadbdc,#d5d7dc,#ced1dd,#c6cade,#bbc2dc,#aeb7d8,#a1add4,#97a4d1,#909ece,#8f9ece,#94a2d0,#9fabd4,#adb7d8,#bdc3dd,#cacedd,#d5d7dc,#dcdcdc,#dbd8d8,#dbd8d8,#dcdada,#dbdbdc,#d6d7dc,#cfd2dd,#c7cbde,#bcc3dd,#afb8d9,#a3aed5,#98a5d1,#919fce,#8f9ece,#93a1cf,#9eaad3,#abb5d8,#bbc2dc,#c9cddd,#d4d6dd,#dcdcdc,#dbd8d8)"></i><i style="background:linear-gradient(90deg,#aab4d7,#bac1dc,#c7cbde,#d1d3dd,#d8d9dc,#dbdbdc,#dcdcdc,#dadadc,#d6d7dc,#d0d3dd,#c9cddd,#c0c6de,#b4bcda,#a7b2d6,#9aa7d2,#909fce,#8a99cc,#8a99cc,#8f9ece,#9aa7d2,#a8b3d7,#b8bfdb,#c6cade,#d0d3dd,#d7d8dc,#dbdbdc,#dcdcdc,#dadadc,#d6d7dc,#d1d3dd,#cacedd,#c1c7de,#b6bedb,#a9b3d7,#9ca8d2,#919fcf,#8b9acc,#8a99cc,#8e9dce,#99a6d1,#a7b1d6,#b6bedb,#c4c9de,#cfd2dd,#d7d8dc,#dbdbdc)"></i><i style="background:linear-gradient(90deg,#a6b1d6,#b5bddb,#c3c8de,#cdd0dd,#d3d5dd,#d7d8dc,#d7d8dc,#d5d7dc,#d1d3dd,#cccfdd,#c4c9de,#bac1dc,#aeb7d8,#a1acd4,#94a2d0,#8a99cc,#8595ca,#8595ca,#8b9acc,#96a3d0,#a4afd5,#b3bcda,#c1c7de,#cccfdd,#d3d5dd,#d6d8dc,#d7d8dc,#d5d7dc,#d2d4dd,#ccd0dd,#c5cade,#bbc2dd,#afb8d9,#a2aed5,#95a3d0,#8b9acc,#8595ca,#8595ca,#8a99cc,#94a2d0,#a2aed5,#b1bad9,#c0c6de,#cacedd,#d2d4dd,#d6d7dc)"></i><i style="background:linear-gradient(90deg,#a3aed5,#b1bad9,#bfc5de,#c8cddd,#cfd2dd,#d2d4dd,#d3d5dd,#d1d3dd,#cdd0dd,#c7cbde,#bfc5de,#b4bcda,#a8b2d6,#9aa7d2,#8e9dce,#8595ca,#8091c8,#8192c9,#8897cb,#93a1cf,#a1add4,#b0b9d9,#bdc4dd,#c8ccdd,#ced1dd,#d2d4dd,#d3d5dd,#d1d3dd,#cdd0dd,#c8ccdd,#c0c6de,#b5bddb,#a9b3d7,#9ca9d3,#909ece,#8696ca,#8191c9,#8191c9,#8796cb,#919fcf,#9fabd4,#aeb7d8,#bcc3dd,#c6cbde,#ced1dd,#d2d4dd)"></i><i style="background:linear-gradient(90deg,#a0acd4,#aeb7d8,#bbc2dc,#c5cade,#cbcfdd,#ced1dd,#cfd1dd,#cdd0dd,#c8cddd,#c2c8de,#bac1dc,#afb8d9,#a2aed5,#95a3d0,#8999cc,#8191c9,#7c8ec7,#7e8fc8,#8595ca,#909fce,#9eaad3,#acb6d8,#bac1dc,#c4c9de,#cbcedd,#ced1dd,#cfd2dd,#cdd0dd,#c9cddd,#c3c9de,#bbc2dc,#b0b9d9,#a4afd5,#96a4d1,#8a9acc,#8192c9,#7d8ec7,#7e8fc7,#8494ca,#8f9dce,#9ca9d3,#abb5d7,#b8c0dc,#c3c8de,#cacedd,#ced1dd)"></i><i style="background:linear-gradient(90deg,#9eaad3,#acb6d8,#b8c0dc,#c2c7de,#c8ccdd,#cbcedd,#cbcfdd,#c9cddd,#c4cade,#bec4dd,#b5bdda,#aab4d7,#9da9d3,#909fce,#8595ca,#7d8ec7,#7a8cc6,#7c8dc7,#8394ca,#8e9dce,#9ca9d3,#aab4d7,#b7bfdb,#c1c7de,#c7ccdd,#cbcedd,#cbcfdd,#c9cddd,#c5cade,#bfc5de,#b6bedb,#abb5d7,#9fabd3,#92a0cf,#8696cb,#7e8fc8,#7a8cc6,#7b8dc7,#8293c9,#8d9ccd,#9aa7d2,#a9b3d7,#b5bddb,#c0c6de,#c7cbde,#cacedd)"></i><i style="background:linear-gradient(90deg,#9da9d3,#aab4d7,#b6bedb,#bfc5de,#c5cade,#c8ccdd,#c8ccdd,#c5cade,#c1c7de,#bac1dc,#b0b9d9,#a5b0d6,#99a6d1,#8c9bcd,#8292c9,#7a8cc6,#788ac5,#7b8dc6,#8293c9,#8e9ccd,#9ba8d2,#a8b3d7,#b5bdda,#bec5dd,#c4c9de,#c7ccdd,#c8ccdd,#c6cade,#c2c7de,#bbc2dc,#b2bada,#a7b1d6,#9aa7d2,#8e9dcd,#8393c9,#7b8dc7,#788ac5,#7a8cc6,#8192c9,#8c9bcd,#99a6d2,#a7b2d6,#b3bcda,#bdc4dd,#c4c9de,#c7ccdd)"></i><i style="background:linear-gradient(90deg,#9ca9d3,#a9b3d7,#b4bcda,#bdc3dd,#c2c8de,#c5cade,#c5cade,#c2c8de,#bdc4dd,#b6bedb,#adb6d8,#a2add5,#95a3d0,#8a99cc,#8091c8,#798bc6,#778ac5,#7b8cc6,#8293c9,#8e9ccd,#9ba7d2,#a7b2d6,#b3bbda,#bcc3dd,#c2c7de,#c5cade,#c5cade,#c3c8de,#bec5dd,#b7bfdb,#aeb7d8,#a3aed5,#97a4d1,#8b9acc,#8192c9,#7a8cc6,#778ac5,#7a8cc6,#8192c9,#8c9bcd,#99a6d1,#a6b1d6,#b2bad9,#bbc2dc,#c1c7de,#c4c9de)"></i><i style="background:linear-gradient(90deg,#9ca9d3,#a8b3d7,#b3bbda,#bbc2dc,#c0c6de,#c2c8de,#c2c8de,#c0c6de,#bac1dc,#b3bbda,#aab4d7,#9fabd4,#93a1cf,#8898cb,#7f90c8,#798bc6,#788ac5,#7b8dc7,#8394ca,#8e9dce,#9ba7d2,#a7b2d6,#b2bad9,#bac1dc,#c0c6de,#c2c8de,#c2c8de,#c0c6de,#bbc2dc,#b4bcda,#abb5d7,#a0acd4,#94a2d0,#8999cc,#8091c8,#798bc6,#788ac5,#7b8dc6,#8293c9,#8d9ccd,#99a6d2,#a5b0d6,#b0b9d9,#b9c0dc,#bfc5de,#c2c8de)"></i><i style="background:linear-gradient(90deg,#9da9d3,#a8b3d7,#b2bbda,#b9c1dc,#bec5dd,#c0c6de,#c0c6de,#bdc4dd,#b8bfdb,#b1b9d9,#a7b2d6,#9da9d3,#92a0cf,#8797cb,#7f90c8,#7a8cc6,#798bc6,#7d8fc7,#8595ca,#909ece,#9ba8d2,#a7b2d6,#b1bad9,#b9c0dc,#bec4dd,#c0c6de,#c0c6de,#bdc4dd,#b9c0dc,#b2bad9,#a9b3d7,#9eaad3,#93a1cf,#8898cb,#8091c8,#7a8cc6,#798bc6,#7d8ec7,#8494ca,#8e9dce,#9aa7d2,#a6b1d6,#b0b9d9,#b8bfdb,#bdc4dd,#c0c6de)"></i><i style="background:linear-gradient(90deg,#9eaad3,#a8b3d7,#b1bad9,#b8c0dc,#bdc3dd,#bec5dd,#bec4dd,#bbc2dc,#b6bedb,#afb8d9,#a6b1d6,#9ca8d2,#919fcf,#8797cb,#8091c8,#7b8dc7,#7b8dc7,#8091c8,#8797cb,#91a0cf,#9da9d3,#a7b2d6,#b0b9d9,#b8bfdb,#bcc3dd,#bec5dd,#bec4dd,#bbc2dd,#b6bedb,#b0b9d9,#a7b2d6,#9da9d3,#92a0cf,#8898cb,#8091c9,#7c8dc7,#7b8dc7,#7f90c8,#8696cb,#909fce,#9ba8d2,#a6b1d6,#afb9d9,#b7bfdb,#bcc3dd,#bec5dd)"></i><i style="background:linear-gradient(90deg,#9facd4,#a9b3d7,#b1bad9,#b7bfdb,#bbc2dd,#bdc3dd,#bcc3dd,#b9c0dc,#b4bcda,#adb7d8,#a5b0d6,#9ba8d2,#91a0cf,#8898cb,#8292c9,#7e8fc8,#7e90c8,#8393c9,#8a9acc,#94a2d0,#9eabd3,#a8b3d7,#b0b9d9,#b7bfdb,#bbc2dc,#bdc3dd,#bcc3dd,#bac1dc,#b5bddb,#aeb8d8,#a6b1d6,#9da9d3,#92a1cf,#8999cc,#8293c9,#7e8fc8,#7e8fc8,#8293c9,#8999cc,#93a1cf,#9da9d3,#a7b2d6,#b0b9d9,#b6bedb,#bbc2dc,#bdc3dd)"></i><i style="background:linear-gradient(90deg,#a1add4,#aab4d7,#b1bad9,#b7bfdb,#bac1dc,#bcc2dd,#bbc2dc,#b8bfdb,#b3bcda,#adb6d8,#a5b0d5,#9ca8d2,#92a0cf,#8a99cc,#8494ca,#8192c9,#8293c9,#8696cb,#8d9ccd,#96a4d1,#a0acd4,#a9b3d7,#b1bad9,#b6bedb,#bac1dc,#bcc2dd,#bbc2dc,#b8c0dc,#b4bcda,#adb7d8,#a6b1d6,#9da9d3,#93a1cf,#8b9acc,#8595ca,#8192c9,#8292c9,#8696ca,#8d9bcd,#95a3d0,#9fabd4,#a8b3d7,#b0b9d9,#b6bedb,#bac1dc,#bcc2dd)"></i></div><div class="hm" style="left:335px;top:14px;width:136px;height:73px"><i style="background:linear-gradient(90deg,#b5bddb,#b9c1dc,#c0c6de,#c8ccdd,#d1d4dd,#dbdcdc,#dbd2d2,#d9c9c9,#d8c1c1,#d8babb,#d8b9ba,#d8c0c0,#d9c6c6,#dad0d0,#dcdbdb,#d2d4dd,#c8ccdd,#bfc5de,#b8c0dc,#b5bdda,#b5bddb,#b9c0dc,#bfc5de,#c7cbde,#d0d3dd,#dadbdc,#dbd3d3,#d9caca,#d8c2c2,#d8bbbb,#d8b9b9,#d8bebe,#d9c6c6,#dacfcf,#dcd9d9,#d3d5dd,#c9cddd,#c0c6de,#b9c0dc,#b5bddb,#b5bddb,#b8c0dc,#bec5dd,#c6cbde,#cfd2dd,#d9dadc)"></i><i style="background:linear-gradient(90deg,#b4bcda,#b8c0dc,#bfc6de,#c8ccdd,#d2d4dd,#dcdbdb,#dad0d0,#d9c5c5,#d8bbbb,#d8b1b2,#d8b0b0,#d8b6b7,#d8c2c2,#dacccc,#dbd8d8,#d4d6dd,#c9cddd,#bfc5de,#b7bfdb,#b3bcda,#b4bcda,#b7bfdb,#bec5de,#c7ccdd,#d1d3dd,#dcdcdc,#dad1d1,#d9c6c6,#d8bcbc,#d8b2b3,#d8b0b0,#d8b5b6,#d8c1c1,#dacbcb,#dbd6d6,#d6d7dc,#cacedd,#c0c6de,#b8c0dc,#b4bcda,#b3bcda,#b7bfdb,#bec4dd,#c6cbde,#d0d2dd,#dbdbdc)"></i><i style="background:linear-gradient(90deg,#b2bbda,#b7bedb,#bfc5de,#c8ccdd,#d3d5dd,#dcd9d9,#dacdcd,#d8c2c2,#d8b3b3,#d8a8a9,#d8a6a7,#d8adae,#d8bbbb,#d9c8c8,#dbd5d5,#d6d8dc,#cacedd,#bfc5de,#b6bedb,#b2bbda,#b2bada,#b6bedb,#bec4dd,#c7ccdd,#d2d4dd,#dcdada,#dacece,#d8c3c3,#d8b4b5,#d8a9aa,#d8a6a7,#d8acac,#d8b9ba,#d9c7c7,#dbd3d3,#d8d9dc,#cbcfdd,#c0c6de,#b7bfdb,#b2bbda,#b2bada,#b5bddb,#bdc3dd,#c6cbde,#d1d3dd,#dcdcdc)"></i><i style="background:linear-gradient(90deg,#b0b9d9,#b5bddb,#bec4dd,#c8ccdd,#d4d6dd,#dbd7d7,#d9caca,#d8bdbd,#d8abab,#d8a0a1,#d89d9e,#d8a4a5,#d8b3b3,#d9c4c4,#dbd2d2,#d8d9dc,#cbcfdd,#bfc5de,#b5bddb,#b0b9d9,#b0b9d9,#b4bcda,#bcc3dd,#c7cbde,#d3d5dd,#dcd9d9,#dacccc,#d8bfbf,#d8acad,#d8a0a2,#d89d9e,#d8a2a3,#d8b0b1,#d8c3c3,#dad0d0,#dadadc,#ccd0dd,#c0c6de,#b6bedb,#b0b9d9,#afb9d9,#b3bcda,#bbc2dd,#c5cade,#d1d3dd,#dcdada)"></i><i style="background:linear-gradient(90deg,#adb7d8,#b3bbda,#bcc3dd,#c8ccdd,#d5d6dd,#dbd6d6,#d9c8c8,#d8b6b7,#d8a3a4,#d89798,#d89495,#d89a9c,#d8aaab,#d8c0c0,#dacece,#dbdbdc,#cccfdd,#bfc5de,#b4bcda,#aeb7d8,#adb7d8,#b2bada,#bbc2dc,#c6cbde,#d3d5dd,#dbd7d7,#d9c9c9,#d8b9b9,#d8a5a6,#d89899,#d89395,#d8999a,#d8a8a8,#d8bebe,#dacdcd,#dcdcdc,#cdd1dd,#c0c6de,#b5bddb,#aeb8d8,#adb7d8,#b1bad9,#b9c1dc,#c5cade,#d1d4dd,#dcd9d9)"></i><i style="background:linear-gradient(90deg,#aab5d7,#b0b9d9,#bac1dc,#c7cbde,#d5d6dd,#dbd4d4,#d9c5c5,#d8b0b1,#d89b9d,#d88e90,#d88a8c,#d89193,#d8a1a2,#d8b9b9,#dacbcb,#dcdbdb,#cdd0dd,#bfc5de,#b2bbda,#abb5d8,#aab4d7,#afb8d9,#b9c0dc,#c5cade,#d3d5dd,#dbd6d6,#d9c7c7,#d8b3b4,#d89d9f,#d88f91,#d88a8c,#d89092,#d89fa0,#d8b6b6,#d9c9c9,#dcd9d9,#cfd1dd,#c0c6de,#b4bcda,#acb6d8,#aab4d7,#aeb7d8,#b7bfdb,#c4c9de,#d1d4dd,#dbd8d8)"></i><i style="background:linear-gradient(90deg,#a7b2d6,#adb6d8,#b8bfdb,#c6cade,#d5d6dd,#dbd3d3,#d8c3c3,#d8abab,#d89496,#d98487,#d97e81,#d8878a,#d8999a,#d8b1b2,#d9c8c8,#dcd9d9,#ced1dd,#bec4dd,#b0b9d9,#a8b3d7,#a7b1d6,#acb5d8,#b6bedb,#c4c9de,#d3d5dd,#dbd5d5,#d9c5c5,#d8aeae,#d89698,#d88688,#d97e81,#d88688,#d89698,#d8aeaf,#d9c6c6,#dbd7d7,#d0d2dd,#c0c6de,#b2bada,#a9b3d7,#a7b1d6,#abb5d7,#b5bdda,#c2c8de,#d1d3dd,#dbd7d7)"></i><i style="background:linear-gradient(90deg,#a3afd5,#a9b3d7,#b5bdda,#c4c9de,#d4d6dd,#dbd2d2,#d8c2c2,#d8a5a6,#d88d8f,#da7a7d,#db7377,#da7b7f,#d89092,#d8aaab,#d9c5c5,#dbd7d7,#ced1dd,#bdc4dd,#aeb8d8,#a5b0d6,#a3aed5,#a8b2d6,#b3bbda,#c2c8de,#d2d4dd,#dbd5d5,#d8c3c3,#d8a9a9,#d89092,#da7b7e,#db7377,#da7a7d,#d88e90,#d8a7a8,#d8c3c3,#dbd5d5,#d1d3dd,#c0c6de,#b0b9d9,#a6b1d6,#a3aed5,#a7b2d6,#b1bad9,#c0c6de,#d0d3dd,#dbd7d7)"></i><i style="background:linear-gradient(90deg,#9fabd4,#a5b0d5,#b1bad9,#c2c8de,#d3d5dd,#dbd2d2,#d8c0c0,#d8a1a2,#d88688,#db6f73,#dc686c,#db7074,#d8888a,#d8a3a4,#d8c2c2,#dbd5d5,#cfd2dd,#bdc3dd,#acb6d8,#a1add4,#9eabd3,#a3afd5,#afb8d9,#c0c6de,#d1d4dd,#dbd4d4,#d8c2c2,#d8a4a5,#d88a8c,#db7175,#dc686c,#db6e72,#d98487,#d89fa0,#d8c0c0,#dbd3d3,#d1d4dd,#bfc5de,#aeb7d8,#a2aed5,#9eabd3,#a3aed5,#aeb7d8,#bec4dd,#cfd2dd,#dbd6d6)"></i><i style="background:linear-gradient(90deg,#9aa7d2,#a0acd4,#adb6d8,#bfc5de,#d2d4dd,#dbd2d2,#d8bebe,#d89c9e,#d97e81,#dc666b,#dd5d63,#dc656a,#d97d80,#d89c9d,#d8bebf,#dbd3d3,#d0d2dd,#bcc3dd,#a9b4d7,#9daad3,#99a6d2,#9eabd3,#abb5d7,#bdc4dd,#d0d3dd,#dbd4d4,#d8c1c1,#d8a0a1,#d98285,#dc686d,#dd5d63,#dc6368,#da797d,#d8989a,#d8baba,#dad1d1,#d2d4dd,#bec5dd,#abb5d8,#9eabd3,#9aa6d2,#9daad3,#a9b3d7,#bbc2dc,#ced1dd,#dbd7d7)"></i><i style="background:linear-gradient(90deg,#94a2d0,#9aa7d2,#a8b3d7,#bcc3dd,#d0d3dd,#dbd2d2,#d8bcbc,#d8999a,#da777b,#dd5d63,#de535a,#dd5b61,#da7377,#d89597,#d8b9b9,#dbd2d2,#d1d3dd,#bbc2dc,#a7b1d6,#99a6d1,#94a2d0,#99a6d1,#a6b1d6,#b9c0dc,#ced1dd,#dbd5d5,#d8c0c0,#d89d9e,#da7b7e,#dd5f65,#de545a,#dd595f,#db6f73,#d89193,#d8b5b5,#dacfcf,#d3d5dd,#bec4dd,#a9b3d7,#9aa7d2,#94a2d0,#98a5d1,#a4afd5,#b7bedb,#cccfdd,#dbd7d7)"></i><i style="background:linear-gradient(90deg,#8e9dcd,#94a1cf,#a3aed5,#b8bfdb,#ced1dd,#dbd3d3,#d8bbbc,#d89698,#db7175,#de565c,#df4a52,#de5158,#dc6a6e,#d88f91,#d8b4b4,#dad0d0,#d1d3dd,#bac1dc,#a4afd5,#94a2d0,#8e9dcd,#92a0cf,#a0acd4,#b5bddb,#cccfdd,#dbd6d6,#d8c0c0,#d89a9c,#da7579,#dd585e,#df4b52,#de5056,#dc666b,#d88b8d,#d8afb0,#dacdcd,#d4d6dd,#bdc3dd,#a6b1d6,#96a3d0,#8e9dce,#91a0cf,#9eabd3,#b2bbda,#c9cddd,#dcd9d9)"></i><i style="background:linear-gradient(90deg,#8797cb,#8d9ccd,#9ca9d3,#b3bbda,#cbcfdd,#dbd5d5,#d8bcbc,#d89496,#db6c71,#de4f56,#e0434a,#df4950,#dc6166,#d8898b,#d8afb0,#dacece,#d2d4dd,#b9c0dc,#a1add4,#8f9ece,#8897cb,#8b9acc,#9aa7d2,#b0b9d9,#c9cddd,#dbd7d7,#d8c0c0,#d8989a,#db7175,#de5158,#e0434b,#df474e,#dd5d63,#d98386,#d8aaab,#dacbcb,#d5d6dd,#bcc3dd,#a3afd5,#919fce,#8898cb,#8a9acc,#98a5d1,#adb7d8,#c6cbde,#dcdada)"></i><i style="background:linear-gradient(90deg,#8191c9,#8595ca,#95a3d0,#adb7d8,#c8ccdd,#dbd6d6,#d8bdbd,#d89395,#dc686d,#df4950,#e03e46,#e04149,#dd595f,#d98184,#d8aaab,#dacccc,#d2d4dd,#b8bfdb,#9eaad3,#8a99cc,#8191c9,#8494ca,#93a1cf,#aab4d7,#c5cade,#dcd9d9,#d8c1c1,#d89799,#db6d71,#df4c53,#e03e46,#e04048,#de555b,#da7c7f,#d8a5a6,#d9c9c9,#d5d7dc,#bbc2dc,#a0acd4,#8c9bcd,#8192c9,#8393c9,#909fce,#a7b2d6,#c2c8de,#dcdcdc)"></i><i style="background:linear-gradient(90deg,#798bc6,#7d8ec7,#8d9ccd,#a7b2d6,#c4c9de,#dcd9d9,#d8bebe,#d89394,#dc666b,#df454c,#e03b43,#e03d45,#de5158,#da7a7d,#d8a6a7,#dacbcb,#d3d5dd,#b6bedb,#9aa7d2,#8495ca,#798bc6,#7c8dc7,#8b9acc,#a3afd5,#c1c7de,#dcdcdc,#d8c2c2,#d89799,#db6b6f,#df484f,#e03b43,#e03c44,#df4e55,#da7478,#d8a1a2,#d9c8c8,#d6d7dc,#bac1dc,#9daad3,#8796cb,#7a8cc6,#7b8dc6,#8998cb,#a0acd4,#bdc4dd,#d9d9dc)"></i><i style="background:linear-gradient(90deg,#7185c3,#7487c4,#8595ca,#a0acd4,#bfc5de,#dcdcdc,#d8c1c1,#d89395,#dc6469,#e04149,#e03841,#e03a42,#df4950,#db7175,#d8a1a2,#d9c9c9,#d3d5dd,#b5bddb,#97a4d1,#7f90c8,#7185c3,#7386c3,#8293c9,#9ca9d3,#bbc2dd,#d9d9dc,#d9c4c4,#d8989a,#dc696e,#e0444c,#e03941,#e03941,#df464d,#db6c70,#d89b9d,#d9c6c6,#d6d8dc,#b9c0dc,#9aa7d2,#8192c9,#7286c3,#7285c3,#8091c8,#99a6d1,#b8bfdb,#d5d7dc)"></i><i style="background:linear-gradient(90deg,#687ec0,#6a7fc0,#7c8dc7,#98a5d1,#b9c1dc,#d9d9dc,#d8c3c3,#d89596,#dc6469,#e03f47,#e0363e,#e0363e,#e03f47,#dc656a,#d8999b,#d9c7c7,#d4d5dd,#b4bcda,#94a2d0,#798bc6,#697ec0,#697ec0,#798bc6,#94a2d0,#b5bddb,#d5d7dc,#d9c6c6,#d89a9b,#dc696e,#e0424a,#e0363f,#e0353e,#e03d46,#dd5f65,#d89495,#d9c4c4,#d7d8dc,#b8c0dc,#97a5d1,#7c8dc7,#6a7fc0,#687ec0,#7689c5,#919fce,#b1bad9,#d2d4dd)"></i><i style="background:linear-gradient(90deg,#6077bc,#6077bd,#7285c3,#8f9ece,#b3bbda,#d4d6dd,#d9c5c5,#d89799,#dc6469,#e03e46,#e0323b,#e03039,#e0373f,#de5056,#d88b8d,#d8c3c3,#d5d6dd,#b3bcda,#909fce,#7386c3,#6178bd,#5f77bc,#6f83c2,#8b9acc,#aeb8d9,#d1d3dd,#d9c9c9,#d89d9e,#db6a6f,#e04048,#e0333c,#e03039,#e0353e,#df4a52,#d98386,#d8bebe,#d8d9dc,#b7bfdb,#94a2d0,#7689c5,#6279bd,#5f76bc,#6c81c1,#8897cb,#aab4d7,#cdd0dd)"></i><i style="background:linear-gradient(90deg,#5a72ba,#5a72ba,#677dbf,#8696cb,#abb5d8,#d0d2dd,#d9c8c8,#d89b9c,#dc656a,#e03b43,#e02d36,#e02932,#e02d36,#e03942,#db6b70,#d8b5b6,#d7d8dc,#b3bbda,#8d9ccd,#6d82c1,#5b73ba,#5972ba,#647abe,#8292c9,#a7b2d6,#cccfdd,#dacccc,#d8a0a2,#db6b6f,#e03d45,#e02e37,#e02932,#e02c35,#e03740,#dc6368,#d8adad,#dcdcdc,#b7bfdb,#92a0cf,#7084c3,#5b73bb,#5972ba,#6278bd,#7e8fc8,#a2aed5,#c8ccdd)"></i><i style="background:linear-gradient(90deg,#5770b9,#556fb8,#5c74bb,#7c8ec7,#a4afd5,#cbcedd,#dacccc,#d89fa0,#dc6368,#e0363e,#e02730,#e0222c,#e0242d,#e02b34,#e04149,#d8989a,#dcdada,#b3bbda,#8b9acc,#677dbf,#5770b9,#556fb8,#5b73ba,#788ac5,#9fabd4,#c6cbde,#dad0d0,#d8a5a6,#db6a6f,#e03841,#e02831,#e0222c,#e0232d,#e02a33,#e03d45,#d88f90,#dbd5d5,#b8bfdb,#8f9ece,#6b80c1,#5871b9,#556eb8,#5a72ba,#7387c4,#9aa7d2,#c2c8de)"></i><i style="background:linear-gradient(90deg,#536db7,#516bb6,#5770b9,#7185c3,#9ba8d2,#c5cade,#dad0d0,#d8a2a3,#dd5c62,#e02f38,#e0212b,#e01e28,#e01e28,#e0212b,#e02e37,#dc696d,#dacdcd,#b5bddb,#8898cb,#6279bd,#546eb7,#516bb6,#566fb8,#6d81c1,#96a3d0,#c0c6de,#dbd4d4,#d8a9aa,#dc656a,#e0313a,#e0222c,#e01e28,#e01e28,#e0212b,#e02c35,#dd5c62,#d9c6c6,#bbc2dd,#8d9ccd,#667cbf,#556eb8,#516bb6,#556fb8,#687ec0,#919fce,#bcc2dd)"></i><i style="background:linear-gradient(90deg,#506ab5,#4d68b4,#536db7,#667cbf,#92a0cf,#bec5dd,#dbd4d4,#d8a4a5,#df4d54,#e02730,#e01e27,#e01c26,#e01c26,#e01d27,#e0222c,#e03b43,#d8b1b2,#bcc3dd,#8696cb,#5d75bb,#516bb6,#4c68b4,#516cb6,#6178bd,#8c9bcd,#b9c0dc,#dcd9d9,#d8acad,#dd585e,#e02932,#e01e28,#e01c26,#e01c26,#e01d27,#e0212b,#e0363f,#d8a2a3,#c4c9de,#8c9bcd,#6178bd,#526cb6,#4d68b4,#506bb6,#5d75bb,#8797cb,#b4bcda)"></i><i style="background:linear-gradient(90deg,#4c68b4,#4965b2,#4e69b5,#5b73bb,#8897cb,#b7bedb,#dcd9d9,#d8a2a3,#e03c45,#e0212b,#e01c26,#e01b25,#e01b25,#e01b25,#e01d27,#e02932,#d97f82,#c9cddd,#8696cb,#5a73ba,#4d69b4,#4865b2,#4d68b4,#5972ba,#8293c9,#b1bad9,#dadbdc,#d8acad,#e0444b,#e0222c,#e01c26,#e01b25,#e01b25,#e01b25,#e01d27,#e02730,#db6c70,#d3d5dd,#8d9ccd,#5d75bb,#4f6ab5,#4965b2,#4c67b4,#5871b9,#7d8ec7,#acb6d8)"></i><i style="background:linear-gradient(90deg,#4966b3,#4462b0,#4965b2,#5770b9,#7e8fc7,#afb8d9,#dbdbdc,#d8999a,#e0313a,#e01e27,#e01b25,#e01b25,#e01b25,#e01b25,#e01c26,#e0202a,#e0444c,#dcdada,#8998cc,#5972ba,#4b67b3,#4462b0,#4864b2,#546eb8,#788ac5,#a9b3d7,#d6d7dc,#d8a6a7,#e0363f,#e01e28,#e01b25,#e01b25,#e01b25,#e01b25,#e01b25,#e01f29,#e03b43,#dacfcf,#919fcf,#5b73bb,#4c68b4,#4562b0,#4764b2,#536db7,#7285c3,#a3afd5)"></i><i style="background:linear-gradient(90deg,#4763b1,#415faf,#4462b0,#526cb6,#7386c3,#a6b1d6,#d7d8dc,#d8898c,#e02831,#e01c26,#e01b25,#e01b25,#e01b25,#e01b25,#e01b25,#e01d26,#e02e37,#d8bfbf,#909fce,#5871b9,#4864b2,#415faf,#4361b0,#506ab5,#6c81c1,#a0acd4,#d1d3dd,#d8999a,#e02c35,#e01c26,#e01b25,#e01b25,#e01b25,#e01b25,#e01b25,#e01c26,#e02a33,#d8a9aa,#9ca8d2,#5a72ba,#4966b3,#415faf,#4360b0,#4e69b5,#667cbf,#9aa7d2)"></i><i style="background:linear-gradient(90deg,#4462b0,#3d5cad,#405eae,#4d68b4,#677dbf,#9daad3,#d5d7dc,#db6e72,#e0222c,#e01b25,#e01b25,#e01b25,#e01b25,#e01b25,#e01b25,#e01b25,#e0232c,#d88c8e,#9fabd4,#5770b9,#4663b1,#3d5cad,#3f5dae,#4b67b3,#6178bd,#97a4d1,#ced1dd,#d98487,#e0242e,#e01b25,#e01b25,#e01b25,#e01b25,#e01b25,#e01b25,#e01b25,#e0212b,#db7276,#adb7d8,#5a72ba,#4764b2,#3e5cad,#3e5dae,#4965b2,#5c74bb,#919fce)"></i><i style="background:linear-gradient(90deg,#4260af,#3b5aac,#3c5bad,#4865b2,#5c74bb,#95a2d0,#d6d7dc,#de5258,#e01e28,#e01b25,#e01b25,#e01b25,#e01b25,#e01b25,#e01b25,#e01b25,#e01e28,#de5259,#b4bcda,#5770b9,#4461b0,#3b5bac,#3c5bac,#4663b1,#5972ba,#8e9dcd,#cdd0dd,#dc666b,#e02029,#e01b25,#e01b25,#e01b25,#e01b25,#e01b25,#e01b25,#e01b25,#e01d27,#e03f47,#c4cade,#5a72ba,#4562b1,#3c5bac,#3b5bac,#4462b0,#5770b9,#8797cb)"></i><i style="background:linear-gradient(90deg,#405eae,#3959ab,#3a59ab,#4361b0,#5771b9,#8c9bcd,#d9dadc,#e03c44,#e01d26,#e01b25,#e01b25,#e01b25,#e01b25,#e01b25,#e01b25,#e01b25,#e01c26,#e0353d,#ccd0dd,#5871b9,#4260af,#3a59ab,#3a59ab,#415faf,#556eb8,#8595ca,#ced1dd,#df4a51,#e01d27,#e01b25,#e01b25,#e01b25,#e01b25,#e01b25,#e01b25,#e01b25,#e01c26,#e02f37,#dcdbdb,#5c74bb,#4461b0,#3a5aab,#3959ab,#405eae,#526cb7,#7e8fc8)"></i><i style="background:linear-gradient(90deg,#3f5dae,#3858aa,#3858aa,#3f5eae,#536db7,#8494ca,#dcd9d9,#e0323b,#e01c26,#e01b25,#e01b25,#e01b25,#e01b25,#e01b25,#e01b25,#e01b25,#e01b25,#e02832,#dbd3d3,#5a72ba,#415faf,#3858aa,#3857aa,#3d5cad,#506bb6,#7c8dc7,#d2d4dd,#e03941,#e01c26,#e01b25,#e01b25,#e01b25,#e01b25,#e01b25,#e01b25,#e01b25,#e01b25,#e0252e,#d8c2c2,#647abe,#4360b0,#3958ab,#3757aa,#3c5bad,#4e69b5,#7487c4)"></i><i style="background:linear-gradient(90deg,#3e5cad,#3757a9,#3656a9,#3c5bac,#4f6ab5,#7c8ec7,#dad1d1,#e02b34,#e01b25,#e01b25,#e01b25,#e01b25,#e01b25,#e01b25,#e01b25,#e01b25,#e01b25,#e0222b,#d8b6b7,#5f77bc,#405eae,#3757aa,#3656a9,#3b5aac,#4c68b4,#7386c3,#d7d8dc,#e03039,#e01b25,#e01b25,#e01b25,#e01b25,#e01b25,#e01b25,#e01b25,#e01b25,#e01b25,#e0202a,#d8999b,#7084c2,#4260af,#3858aa,#3656a9,#3a59ab,#4966b3,#6b80c0)"></i><i style="background:linear-gradient(90deg,#3d5cad,#3656a9,#3555a8,#3a59ab,#4b66b3,#7588c4,#d9c9c9,#e0262f,#e01b25,#e01b25,#e01b25,#e01b25,#e01b25,#e01b25,#e01b25,#e01b25,#e01b25,#e01e28,#d88f91,#6c81c1,#3f5eae,#3656a9,#3455a8,#3958ab,#4864b2,#6a80c0,#dcdada,#e02a33,#e01b25,#e01b25,#e01b25,#e01b25,#e01b25,#e01b25,#e01b25,#e01b25,#e01b25,#e01d27,#db7074,#8091c8,#4260af,#3757aa,#3455a8,#3858aa,#4562b1,#6279bd)"></i><i style="background:linear-gradient(90deg,#3d5cad,#3555a8,#3354a7,#3858aa,#4763b1,#6f83c2,#d8c2c2,#e0232c,#e01b25,#e01b25,#e01b25,#e01b25,#e01b25,#e01b25,#e01b25,#e01b25,#e01b25,#e01d27,#dc686d,#7b8cc6,#3f5eae,#3656a9,#3353a7,#3757aa,#4461b0,#637abe,#dbd3d3,#e0262f,#e01b25,#e01b25,#e01b25,#e01b25,#e01b25,#e01b25,#e01b25,#e01b25,#e01b25,#e01c26,#df4d54,#919fce,#4260af,#3656a9,#3353a7,#3656a9,#415faf,#5b73bb)"></i><i style="background:linear-gradient(90deg,#3d5cad,#3455a8,#3253a7,#3656a9,#4361b0,#697ec0,#d8b8b9,#e0212b,#e01b25,#e01b25,#e01b25,#e01b25,#e01b25,#e01b25,#e01b25,#e01b25,#e01b25,#e01c26,#df4951,#8a99cc,#405eae,#3555a8,#3252a7,#3555a9,#405fae,#5c74bb,#dacece,#e0232d,#e01b25,#e01b25,#e01b25,#e01b25,#e01b25,#e01b25,#e01b25,#e01b25,#e01b25,#e01c26,#e03a43,#a2aed5,#4361b0,#3656a9,#3253a7,#3555a8,#3e5dad,#5871b9)"></i><i style="background:linear-gradient(90deg,#3e5dae,#3454a8,#3152a6,#3555a8,#405eae,#637abe,#d8b0b1,#e0202a,#e01b25,#e01b25,#e01b25,#e01b25,#e01b25,#e01b25,#e01b25,#e01b25,#e01b25,#e01c26,#e03a43,#99a6d1,#415faf,#3555a8,#3152a6,#3454a8,#3d5cad,#5972ba,#d9c9c9,#e0222b,#e01b25,#e01b25,#e01b25,#e01b25,#e01b25,#e01b25,#e01b25,#e01b25,#e01b25,#e01b25,#e0323b,#b2bbda,#4562b0,#3656a9,#3152a6,#3354a8,#3c5bac,#556fb8)"></i><i style="background:linear-gradient(90deg,#3f5eae,#3455a8,#3151a6,#3454a8,#3d5cad,#5e76bc,#d8acad,#e01f29,#e01b25,#e01b25,#e01b25,#e01b25,#e01b25,#e01b25,#e01b25,#e01b25,#e01b25,#e01b25,#e0333c,#a7b1d6,#4360af,#3555a8,#3151a6,#3353a7,#3b5bac,#5770b9,#d9c7c7,#e0212b,#e01b25,#e01b25,#e01b25,#e01b25,#e01b25,#e01b25,#e01b25,#e01b25,#e01b25,#e01b25,#e02d36,#c0c6de,#4663b1,#3656a9,#3152a6,#3253a7,#3a5aab,#526db7)"></i><i style="background:linear-gradient(90deg,#415faf,#3555a8,#3051a6,#3353a7,#3b5bac,#5a73ba,#d8acad,#e01f29,#e01b25,#e01b25,#e01b25,#e01b25,#e01b25,#e01b25,#e01b25,#e01b25,#e01b25,#e01b25,#e02f38,#b2bada,#4462b0,#3556a9,#3051a6,#3253a7,#3a59ab,#546eb7,#d9c8c8,#e0212a,#e01b25,#e01b25,#e01b25,#e01b25,#e01b25,#e01b25,#e01b25,#e01b25,#e01b25,#e01b25,#e02933,#cacedd,#4965b2,#3756a9,#3151a6,#3252a6,#3958ab,#506ab5)"></i><i style="background:linear-gradient(90deg,#4361b0,#3555a9,#3051a6,#3253a7,#3a5aab,#5871b9,#d8b1b1,#e01f29,#e01b25,#e01b25,#e01b25,#e01b25,#e01b25,#e01b25,#e01b25,#e01b25,#e01b25,#e01b25,#e02c35,#bac1dc,#4763b1,#3656a9,#3051a6,#3152a6,#3959ab,#526cb6,#dacbcb,#e0212b,#e01b25,#e01b25,#e01b25,#e01b25,#e01b25,#e01b25,#e01b25,#e01b25,#e01b25,#e01b25,#e02831,#d1d3dd,#4b67b3,#3757aa,#3152a6,#3152a6,#3858aa,#4d68b4)"></i><i style="background:linear-gradient(90deg,#4663b1,#3656a9,#3051a6,#3252a7,#3959ab,#556fb8,#d8bbbb,#e0202a,#e01b25,#e01b25,#e01b25,#e01b25,#e01b25,#e01b25,#e01b25,#e01b25,#e01b25,#e01b25,#e02b34,#c0c6de,#4965b2,#3757aa,#3151a6,#3152a6,#3858aa,#4f6ab5,#dad0d0,#e0222b,#e01b25,#e01b25,#e01b25,#e01b25,#e01b25,#e01b25,#e01b25,#e01b25,#e01b25,#e01b25,#e02730,#d6d7dc,#4d69b4,#3858aa,#3152a6,#3151a6,#3757aa,#4b67b3)"></i><i style="background:linear-gradient(90deg,#4865b2,#3757aa,#3152a6,#3252a6,#3958ab,#526cb7,#d9c5c5,#e0212b,#e01b25,#e01b25,#e01b25,#e01b25,#e01b25,#e01b25,#e01b25,#e01b25,#e01b25,#e01b25,#e02b34,#c3c8de,#4c67b4,#3858aa,#3152a6,#3152a6,#3757aa,#4c68b4,#dcd9d9,#e0232d,#e01b25,#e01b25,#e01b25,#e01b25,#e01b25,#e01b25,#e01b25,#e01b25,#e01b25,#e01b25,#e02730,#d8d8dc,#506bb6,#3959ab,#3252a7,#3152a6,#3656a9,#4865b2)"></i><i style="background:linear-gradient(90deg,#4b67b3,#3858aa,#3252a7,#3252a7,#3858aa,#4f6ab5,#dad0d0,#e0232d,#e01b25,#e01b25,#e01b25,#e01b25,#e01b25,#e01b25,#e01b25,#e01b25,#e01b25,#e01b25,#e02c35,#c3c8de,#4f6ab5,#3959ab,#3253a7,#3152a6,#3757aa,#4a66b3,#d3d5dd,#e0262f,#e01b25,#e01b25,#e01b25,#e01b25,#e01b25,#e01b25,#e01b25,#e01b25,#e01b25,#e01b25,#e02831,#d7d8dc,#536db7,#3b5aac,#3353a7,#3152a6,#3656a9,#4663b1)"></i><i style="background:linear-gradient(90deg,#4e69b5,#3a59ab,#3353a7,#3253a7,#3858aa,#4d68b4,#dadbdc,#e02630,#e01b25,#e01b25,#e01b25,#e01b25,#e01b25,#e01b25,#e01b25,#e01b25,#e01b25,#e01b25,#e02f38,#c2c7de,#526cb6,#3b5aac,#3354a7,#3252a7,#3757aa,#4865b2,#c5cade,#e02b34,#e01b25,#e01b25,#e01b25,#e01b25,#e01b25,#e01b25,#e01b25,#e01b25,#e01b25,#e01b25,#e02a33,#d5d6dd,#566fb8,#3c5bad,#3454a8,#3252a7,#3656a9,#4562b0)"></i><i style="background:linear-gradient(90deg,#526cb6,#3c5bac,#3454a8,#3353a7,#3858aa,#4b67b3,#cacedd,#e02c35,#e01b25,#e01b25,#e01b25,#e01b25,#e01b25,#e01b25,#e01b25,#e01b25,#e01b25,#e01b25,#e0333c,#bfc5de,#556fb8,#3d5cad,#3555a8,#3353a7,#3757aa,#4763b1,#b3bbda,#e0323b,#e01b25,#e01b25,#e01b25,#e01b25,#e01b25,#e01b25,#e01b25,#e01b25,#e01b25,#e01b25,#e02d36,#d1d3dd,#5972ba,#3f5eae,#3556a9,#3353a7,#3656a9,#4361b0)"></i><i style="background:linear-gradient(90deg,#556fb8,#3e5dae,#3656a9,#3454a8,#3858aa,#4965b2,#b6bedb,#e0353d,#e01c26,#e01b25,#e01b25,#e01b25,#e01b25,#e01b25,#e01b25,#e01b25,#e01b25,#e01c26,#e03942,#bbc2dd,#5871b9,#415faf,#3656a9,#3454a8,#3857aa,#4663b1,#9fabd4,#e03d45,#e01c26,#e01b25,#e01b25,#e01b25,#e01b25,#e01b25,#e01b25,#e01b25,#e01b25,#e01b25,#e0323a,#cdd0dd,#5c74bb,#4361b0,#3757aa,#3454a8,#3757a9,#4360b0)"></i><i style="background:linear-gradient(90deg,#5972ba,#4260af,#3857aa,#3555a8,#3959ab,#4865b2,#a1add4,#df454d,#e01c26,#e01b25,#e01b25,#e01b25,#e01b25,#e01b25,#e01b25,#e01b25,#e01b25,#e01c26,#e0444c,#b8c0dc,#5d75bb,#4562b0,#3858aa,#3555a8,#3858aa,#4562b1,#8c9bcd,#dd5d63,#e01d27,#e01b25,#e01b25,#e01b25,#e01b25,#e01b25,#e01b25,#e01b25,#e01b25,#e01c26,#e03941,#c8ccdd,#657bbe,#4764b2,#3959ab,#3555a8,#3857aa,#4360b0)"></i><i style="background:linear-gradient(90deg,#5f77bc,#4663b1,#3a59ab,#3756a9,#3a59ab,#4864b2,#8d9ccd,#db6e72,#e01e28,#e01b25,#e01b25,#e01b25,#e01b25,#e01b25,#e01b25,#e01b25,#e01b25,#e01d27,#dd5b61,#b7bedb,#667cbf,#4965b2,#3a5aab,#3756a9,#3959ab,#4562b1,#7b8dc6,#d88c8e,#e01f29,#e01b25,#e01b25,#e01b25,#e01b25,#e01b25,#e01b25,#e01b25,#e01b25,#e01d26,#df454d,#c4c9de,#6e83c2,#4b67b3,#3b5aac,#3757a9,#3958aa,#4361b0)"></i><i style="background:linear-gradient(90deg,#6a7fc0,#4b67b3,#3c5bac,#3858aa,#3b5aac,#4865b2,#7c8ec7,#d89d9e,#e0222b,#e01b25,#e01b25,#e01b25,#e01b25,#e01b25,#e01b25,#e01b25,#e01b25,#e01f29,#da777a,#b7bedb,#7184c3,#4d69b4,#3c5bad,#3858aa,#3a5aab,#4663b1,#6d82c1,#d8b9b9,#e0242d,#e01b25,#e01b25,#e01b25,#e01b25,#e01b25,#e01b25,#e01b25,#e01b25,#e01e28,#dd5e63,#c2c8de,#788ac5,#506bb5,#3e5cad,#3958aa,#3a59ab,#4461b0)"></i><i style="background:linear-gradient(90deg,#7487c4,#506ab5,#3f5dae,#3a5aab,#3c5bad,#4965b3,#7084c2,#d9c7c7,#e02932,#e01c26,#e01b25,#e01b25,#e01b25,#e01b25,#e01b25,#e01b25,#e01b25,#e0232c,#d89293,#b9c0dc,#7b8dc6,#526cb6,#405fae,#3a5aab,#3c5bac,#4764b2,#647abe,#dbd6d6,#e02e37,#e01c26,#e01b25,#e01b25,#e01b25,#e01b25,#e01b25,#e01b25,#e01b25,#e0212b,#da7a7e,#c2c8de,#8292c9,#546eb8,#4260af,#3b5aac,#3b5aac,#4562b1)"></i><i style="background:linear-gradient(90deg,#7f90c8,#546eb7,#4361b0,#3c5bad,#3e5dad,#4b67b3,#697ec0,#d7d8dc,#e03840,#e01d27,#e01b25,#e01b25,#e01b25,#e01b25,#e01b25,#e01b25,#e01c26,#e02932,#d8a6a7,#bdc4dd,#8595ca,#5770b9,#4562b1,#3c5bad,#3d5cad,#4965b2,#5f77bc,#c8ccdd,#e03f47,#e01d27,#e01b25,#e01b25,#e01b25,#e01b25,#e01b25,#e01b25,#e01b25,#e0262f,#d89495,#c5cade,#8b9bcd,#5972ba,#4763b1,#3d5cad,#3d5cad,#4764b1)"></i><i style="background:linear-gradient(90deg,#8998cb,#5972ba,#4865b2,#3f5eae,#415faf,#4c68b4,#657cbf,#c0c6de,#dd5e64,#e0202a,#e01b25,#e01b25,#e01b25,#e01b25,#e01b25,#e01b25,#e01d27,#e0333c,#d8b6b6,#c3c8de,#8f9dce,#5b73bb,#4a66b3,#405eae,#405fae,#4b66b3,#5e76bc,#b1bad9,#da7579,#e0222c,#e01b25,#e01b25,#e01b25,#e01b25,#e01b25,#e01b25,#e01c26,#e02e37,#d8a6a7,#c8cddd,#95a3d0,#6077bd,#4b67b4,#415faf,#405eae,#4965b2)"></i><i style="background:linear-gradient(90deg,#92a0cf,#6077bd,#4d68b4,#4461b0,#4462b0,#4e69b5,#657cbf,#acb5d8,#d8989a,#e02932,#e01c26,#e01b25,#e01b25,#e01b25,#e01b25,#e01b25,#e01f29,#e03f47,#d8bfbf,#c8ccdd,#98a5d1,#667cbf,#4e6ab5,#4462b0,#4461b0,#4d68b4,#5f77bc,#a1acd4,#d8acad,#e02c35,#e01d27,#e01b25,#e01b25,#e01b25,#e01b25,#e01b25,#e01e28,#e03941,#d8b2b2,#cdd0dd,#9eabd3,#6c81c1,#506bb6,#4562b1,#4361b0,#4b67b3)"></i><i style="background:linear-gradient(90deg,#9ca8d2,#6c81c1,#526cb6,#4865b2,#4864b2,#516bb6,#677dbf,#a0acd4,#d9c6c6,#e03a42,#e02029,#e01c26,#e01b25,#e01b25,#e01b25,#e01c26,#e0242e,#dd575d,#d8c1c1,#ced1dd,#a2add4,#7185c3,#536db7,#4965b2,#4764b2,#4f6ab5,#6279bd,#97a4d1,#dad0d0,#e04048,#e0212a,#e01c26,#e01b25,#e01b25,#e01b25,#e01c26,#e0232c,#df4a51,#d8b7b8,#d3d5dd,#a7b2d6,#778ac5,#556fb8,#4a66b3,#4764b2,#4e69b5)"></i><i style="background:linear-gradient(90deg,#a5b0d5,#778ac5,#5770b9,#4d68b4,#4c67b4,#536db7,#6a7fc0,#9aa7d2,#dcdcdc,#dc686d,#e02831,#e01e28,#e01c26,#e01b25,#e01c26,#e01e28,#e02c35,#db6c70,#d8c0c0,#d4d5dd,#aab4d7,#7c8ec7,#5871b9,#4d69b4,#4b67b3,#526cb6,#657bbe,#93a1cf,#d3d5dd,#da797c,#e02b34,#e01e28,#e01c26,#e01b25,#e01c26,#e01e27,#e02933,#dd5f65,#d8b7b8,#d8d9dc,#afb9d9,#8292c9,#5a72ba,#4e69b5,#4b67b3,#516bb6)"></i><i style="background:linear-gradient(90deg,#adb7d8,#8292c9,#5b74bb,#516cb6,#4f6ab5,#566fb8,#6e82c2,#98a6d1,#cdd0dd,#d89e9f,#e03941,#e0232d,#e01e28,#e01d27,#e01d27,#e0222c,#e0353e,#da777b,#d8bbbb,#d9dadc,#b2bbda,#8796cb,#5e76bc,#526cb6,#4f6ab5,#556eb8,#697fc0,#93a1cf,#c6cbde,#d8abac,#e03d45,#e0252e,#e01e28,#e01d27,#e01d27,#e0212b,#e0323b,#db6d72,#d8b4b4,#dcdbdb,#b7bfdb,#8c9bcd,#6379bd,#536db7,#4f6ab5,#546eb7)"></i><i style="background:linear-gradient(90deg,#b5bddb,#8b9bcd,#667cbf,#566fb8,#536db7,#5972ba,#7286c3,#99a6d1,#c5cade,#d8c2c2,#dc6166,#e03038,#e0242d,#e0202a,#e0212b,#e02831,#e03d45,#da7b7f,#d8b5b6,#dcdada,#bac1dc,#909fce,#6a7fc0,#5770b9,#536db7,#5871b9,#6e82c2,#94a2d0,#c0c6de,#d9c8c8,#db6c70,#e0323b,#e0242e,#e0202a,#e0212a,#e02730,#e03a42,#da7377,#d8afaf,#dbd6d6,#bfc5de,#95a3d0,#6e82c2,#5871b9,#536db7,#5770b9)"></i><i style="background:linear-gradient(90deg,#bcc3dd,#95a2d0,#7185c3,#5a73ba,#5770b9,#5c74bb,#7789c5,#9ba7d2,#c2c7de,#dacfcf,#d88e90,#e0424a,#e02e37,#e02730,#e02730,#e02f38,#e0434b,#da7b7e,#d8b0b0,#dbd6d6,#c1c7de,#99a6d2,#7588c4,#5b73bb,#5770b9,#5b73ba,#7386c3,#96a4d0,#bdc4dd,#dbd4d4,#d89798,#df4950,#e02f38,#e02731,#e02630,#e02d36,#e03f47,#da7478,#d8aaab,#dbd2d2,#c5cade,#9eaad3,#798bc6,#5d74bb,#5770b9,#5a73ba)"></i><i style="background:linear-gradient(90deg,#c2c8de,#9daad3,#7c8dc7,#6379be,#5b73bb,#637abe,#7c8dc7,#9da9d3,#c1c7de,#dbd6d6,#d8a8a8,#dc666b,#e03b43,#e03038,#e02d36,#e0343c,#df484f,#da797c,#d8abac,#dbd2d2,#c6cbde,#a2add5,#7f90c8,#657bbe,#5b73bb,#6178bd,#788ac5,#98a6d1,#bdc3dd,#dcdada,#d8afb0,#db6e72,#e03d45,#e03039,#e02d36,#e0333b,#e0434b,#db7276,#d8a5a6,#dacece,#cacedd,#a6b1d6,#8393c9,#677dbf,#5b74bb,#5f77bc)"></i><i style="background:linear-gradient(90deg,#c8ccdd,#a5b0d6,#8595ca,#6d82c1,#647abe,#6b80c0,#8091c8,#9fabd4,#c1c7de,#dbd8d8,#d8b5b6,#d98082,#df4d54,#e03840,#e0333b,#e03740,#df4a51,#da777a,#d8a7a8,#dacece,#cbcfdd,#a9b4d7,#8998cb,#6f83c2,#647abe,#697ec0,#7d8fc7,#9ba8d2,#bdc4dd,#dcdcdc,#d8bcbc,#d88789,#de5158,#e03941,#e0333c,#e0363f,#df464d,#db7175,#d8a2a3,#dacbcb,#cfd2dd,#adb7d8,#8c9bcd,#7285c3,#647bbe,#677dbf)"></i><i style="background:linear-gradient(90deg,#ccd0dd,#acb6d8,#8e9dcd,#778ac5,#6d81c1,#7286c3,#8595ca,#a1add4,#c1c7de,#dcdada,#d8bcbc,#d88d8f,#dd5c61,#e03d46,#e0373f,#e03942,#df4c53,#da7679,#d8a5a6,#dacccc,#d0d2dd,#b0b9d9,#919fcf,#798bc6,#6d82c1,#7084c3,#8293c9,#9eaad3,#bec4dd,#dbdbdc,#d8c1c1,#d89294,#dc6166,#e03f47,#e0373f,#e03941,#df484f,#db7074,#d89fa1,#d9c9c9,#d3d5dd,#b4bcda,#95a2d0,#7c8dc7,#6e82c2,#6f83c2)"></i><i style="background:linear-gradient(90deg,#d0d3dd,#b3bbda,#96a4d0,#8091c9,#7689c5,#798bc6,#8a99cc,#a4afd5,#c2c7de,#dcdbdb,#d8c0c0,#d89495,#dc656a,#e0434b,#e03a42,#e03c44,#de4e55,#da767a,#d8a3a4,#d9c9c9,#d3d5dd,#b7bedb,#99a6d2,#8293c9,#7689c5,#788ac5,#8797cb,#a0acd4,#bec5dd,#dadadc,#d8c3c3,#d8989a,#db6a6f,#df464e,#e03a43,#e03b43,#df4a52,#db7175,#d89e9f,#d9c6c6,#d7d8dc,#bac1dc,#9da9d3,#8595ca,#778ac5,#778ac5)"></i><i style="background:linear-gradient(90deg,#d4d5dd,#b9c0dc,#9eaad3,#8998cc,#7e8fc8,#8091c8,#8f9dce,#a6b1d6,#c2c8de,#dcdcdc,#d8c2c2,#d8999a,#db6d71,#df4b52,#e03d45,#e03e46,#de5158,#da777b,#d8a2a3,#d9c8c8,#d7d8dc,#bcc3dd,#a1acd4,#8b9acc,#7f90c8,#7f90c8,#8c9bcd,#a3aed5,#bfc5de,#d9dadc,#d9c5c5,#d89d9f,#db7276,#df4e55,#e03d46,#e03e46,#de4e55,#db7276,#d89d9f,#d9c5c5,#dadadc,#c0c6de,#a4afd5,#8d9ccd,#8091c8,#7f90c8)"></i><i style="background:linear-gradient(90deg,#d6d8dc,#bec4dd,#a4b0d5,#909fce,#8696ca,#8797cb,#93a1cf,#a8b3d7,#c2c8de,#dbdcdc,#d9c4c4,#d89e9f,#da7578,#de5259,#e04149,#e0424a,#de565c,#da7a7d,#d8a2a3,#d9c7c7,#d9dadc,#c1c7de,#a7b2d6,#92a0cf,#8696cb,#8696ca,#919fcf,#a6b1d6,#c0c6de,#d8d9dc,#d9c7c7,#d8a2a3,#da7a7d,#de565c,#e0424a,#e04149,#de5359,#da7579,#d89e9f,#d9c4c4,#dcdcdc,#c4c9de,#aab4d7,#94a2d0,#8797cb,#8595ca)"></i><i style="background:linear-gradient(90deg,#d9d9dc,#c2c7de,#aab4d7,#97a5d1,#8d9ccd,#8d9ccd,#98a5d1,#abb5d7,#c3c8de,#dadbdc,#d9c6c6,#d8a3a4,#d97d80,#dd5b61,#df4950,#df4951,#dd5c61,#d97e81,#d8a3a4,#d9c6c6,#dbdcdc,#c4c9de,#adb6d8,#99a6d2,#8d9ccd,#8c9bcd,#96a3d0,#a8b3d7,#c0c6de,#d8d9dc,#d9c9c9,#d8a7a8,#d98284,#dd5e64,#df4a51,#df4850,#dd595f,#da797d,#d89fa0,#d8c3c3,#dcdada,#c7ccdd,#b0b9d9,#9ba8d2,#8e9dce,#8c9bcd)"></i><i style="background:linear-gradient(90deg,#dadbdc,#c5cade,#afb9d9,#9eaad3,#93a1cf,#93a1cf,#9ca8d2,#adb7d8,#c3c9de,#d9dadc,#d9c8c8,#d8a8a9,#d88688,#dc6469,#de5259,#de5258,#dc6268,#d98385,#d8a5a6,#d9c6c6,#dcdbdb,#c7ccdd,#b2bada,#9facd4,#94a2d0,#92a0cf,#9aa7d2,#abb5d7,#c1c7de,#d7d8dc,#dacbcb,#d8adad,#d88a8c,#dc676c,#de535a,#de5157,#dd6065,#d97e81,#d8a1a2,#d8c3c3,#dbd8d8,#cacedd,#b4bdda,#a1add4,#95a3d0,#92a0cf)"></i><i style="background:linear-gradient(90deg,#dcdcdc,#c8ccdd,#b4bcda,#a3afd5,#99a6d2,#98a5d1,#a0acd4,#afb8d9,#c3c9de,#d8d9dc,#dacbcb,#d8aeaf,#d88e8f,#db6e72,#dd5c62,#dd5b60,#db6a6f,#d8888b,#d8a7a8,#d9c6c6,#dcdada,#cacedd,#b6bedb,#a5b0d6,#9aa7d2,#98a5d1,#9eabd3,#adb6d8,#c1c7de,#d6d7dc,#dacdcd,#d8b2b3,#d89193,#db7175,#dd5d63,#dd5a60,#dc686c,#d98487,#d8a3a5,#d9c4c4,#dbd8d8,#ccd0dd,#b9c0dc,#a7b2d6,#9ba8d2,#97a5d1)"></i><i style="background:linear-gradient(90deg,#dcdcdc,#cacedd,#b8bfdb,#a8b3d7,#9fabd4,#9da9d3,#a3afd5,#b1bad9,#c4c9de,#d7d8dc,#dacdcd,#d8b4b5,#d89596,#da787c,#dc666b,#dc6469,#db7377,#d88e90,#d8abab,#d9c6c6,#dcd9d9,#cccfdd,#bac1dc,#aab4d7,#9facd4,#9da9d3,#a2aed5,#afb8d9,#c2c7de,#d5d6dd,#dacfcf,#d8b8b9,#d8989a,#da7c7f,#dc686c,#dc6469,#db7074,#d88b8d,#d8a7a8,#d9c4c4,#dbd7d7,#ced1dd,#bcc3dd,#abb5d8,#a0acd4,#9da9d3)"></i><i style="background:linear-gradient(90deg,#dcdbdb,#cbcfdd,#bbc2dc,#adb6d8,#a3afd5,#a1add4,#a7b1d6,#b3bbda,#c4c9de,#d6d7dc,#dacfcf,#d8bbbb,#d89c9e,#d98486,#db7276,#db6f73,#da7c7f,#d89395,#d8aeaf,#d9c7c7,#dcd9d9,#cdd1dd,#bdc4dd,#aeb7d8,#a4afd5,#a1add4,#a6b1d6,#b1bad9,#c2c7de,#d4d5dd,#dad1d1,#d8bebf,#d89fa1,#d88789,#da7377,#db6f73,#da7a7d,#d89192,#d8abac,#d9c5c5,#dbd7d7,#cfd2dd,#bfc5de,#b0b9d9,#a5b0d6,#a1add4)"></i><i style="background:linear-gradient(90deg,#dcdbdb,#cdd0dd,#bec4dd,#b0b9d9,#a8b2d6,#a5b0d6,#aab4d7,#b5bdda,#c4c9de,#d5d6dd,#dbd2d2,#d8c1c1,#d8a4a5,#d88e90,#d97d80,#da7a7e,#d88688,#d8999b,#d8b3b3,#d9c9c9,#dcd9d9,#ced1dd,#c0c6de,#b2bad9,#a8b3d7,#a5b0d6,#a9b3d7,#b3bbda,#c2c8de,#d2d5dd,#dbd4d4,#d8c2c2,#d8a7a8,#d89092,#d97f82,#da7a7d,#d98487,#d89798,#d8b0b0,#d9c7c7,#dbd7d7,#d0d3dd,#c1c7de,#b3bbda,#a9b3d7,#a5b0d6)"></i><i style="background:linear-gradient(90deg,#dcdcdc,#cdd1dd,#c0c6de,#b3bcda,#abb5d7,#a9b3d7,#acb6d8,#b6bedb,#c4c9de,#d3d5dd,#dbd4d4,#d9c4c4,#d8acad,#d89698,#d88a8c,#d88688,#d88f91,#d8a0a1,#d8b8b8,#d9caca,#dcdada,#cfd2dd,#c1c7de,#b5bdda,#acb6d8,#a9b3d7,#acb5d8,#b4bdda,#c2c8de,#d1d4dd,#dbd6d6,#d9c6c6,#d8afaf,#d8999a,#d88b8d,#d88688,#d88e8f,#d89e9f,#d8b5b5,#d9c9c9,#dbd8d8,#d1d3dd,#c3c8de,#b6bedb,#adb6d8,#a9b3d7)"></i><i style="background:linear-gradient(90deg,#dcdcdc,#ced1dd,#c1c7de,#b6bedb,#aeb8d8,#acb5d8,#afb8d9,#b7bfdb,#c4c9de,#d2d4dd,#dbd7d7,#d9c7c7,#d8b4b4,#d89fa1,#d89395,#d89092,#d89799,#d8a7a8,#d8bdbd,#dacccc,#dcdbdb,#cfd2dd,#c3c8de,#b7bfdb,#afb8d9,#acb5d8,#aeb7d8,#b6bedb,#c2c8de,#d0d3dd,#dcd9d9,#d9c9c9,#d8b7b7,#d8a1a2,#d89496,#d89092,#d89697,#d8a5a6,#d8baba,#d9caca,#dcd9d9,#d1d3dd,#c4c9de,#b8c0dc,#b0b9d9,#acb6d8)"></i><i style="background:linear-gradient(90deg,#dbdbdc,#ced1dd,#c2c8de,#b8c0dc,#b1bad9,#aeb8d8,#b1bad9,#b8c0dc,#c4c9de,#d0d3dd,#dcd9d9,#dacbcb,#d8bcbc,#d8a8a9,#d89c9e,#d8999b,#d89fa1,#d8aeaf,#d8c1c1,#dacece,#dcdcdc,#cfd2dd,#c4c9de,#b9c0dc,#b2bad9,#aeb8d8,#b0b9d9,#b7bfdb,#c2c8de,#cfd2dd,#dcdbdb,#dacdcd,#d8bfbf,#d8aaab,#d89d9f,#d8999a,#d89e9f,#d8acad,#d8c0c0,#dacdcd,#dcdada,#d1d3dd,#c5cade,#bac1dc,#b2bbda,#aeb8d9)"></i><i style="background:linear-gradient(90deg,#dadadc,#ced1dd,#c3c8de,#bac1dc,#b3bcda,#b1b9d9,#b3bbda,#b9c0dc,#c3c9de,#cfd2dd,#dcdcdc,#dacece,#d8c2c2,#d8b1b2,#d8a6a7,#d8a2a4,#d8a8a9,#d8b5b6,#d9c5c5,#dad0d0,#dbdbdc,#cfd2dd,#c4c9de,#bbc2dc,#b4bcda,#b1b9d9,#b2bbda,#b8c0dc,#c2c8de,#ced1dd,#dbdbdc,#dad0d0,#d8c3c3,#d8b3b4,#d8a7a8,#d8a2a3,#d8a7a8,#d8b3b4,#d8c3c3,#dacfcf,#dcdbdb,#d0d3dd,#c5cade,#bcc3dd,#b4bdda,#b1bad9)"></i><i style="background:linear-gradient(90deg,#d8d9dc,#cdd0dd,#c4c9de,#bbc2dc,#b5bddb,#b2bbda,#b4bcda,#bac1dc,#c3c8de,#ced1dd,#dadadc,#dbd2d2,#d9c6c6,#d8babb,#d8afb0,#d8acad,#d8b1b1,#d8bdbd,#d9c8c8,#dbd3d3,#dadadc,#cfd1dd,#c5cade,#bcc3dd,#b5bddb,#b2bbda,#b4bcda,#b9c0dc,#c2c7de,#ccd0dd,#d8d9dc,#dbd3d3,#d9c8c8,#d8bcbc,#d8b0b1,#d8acad,#d8b0b0,#d8bbbb,#d9c7c7,#dad1d1,#dbdbdc,#d0d2dd,#c6cade,#bdc4dd,#b6bedb,#b3bbda)"></i><i style="background:linear-gradient(90deg,#d7d8dc,#cdd0dd,#c4c9de,#bcc3dd,#b6bedb,#b4bcda,#b5bddb,#bac1dc,#c2c8de,#ccd0dd,#d7d8dc,#dbd5d5,#d9caca,#d8c2c2,#d8b9b9,#d8b5b5,#d8b9ba,#d8c2c2,#dacbcb,#dbd5d5,#d8d9dc,#ced1dd,#c5cade,#bdc3dd,#b7bfdb,#b4bcda,#b5bddb,#b9c1dc,#c1c7de,#cbcfdd,#d6d7dc,#dbd6d6,#dacccc,#d8c3c3,#d8b9ba,#d8b5b6,#d8b8b9,#d8c2c2,#d9caca,#dbd4d4,#d9dadc,#cfd2dd,#c6cade,#bec4dd,#b7bfdb,#b4bcda)"></i></div><div class="hm" style="left:475px;top:14px;width:136px;height:73px"><i style="background:linear-gradient(90deg,#d3d5dd,#cdd0dd,#c6cbde,#c0c6de,#bac1dc,#b5bddb,#b2bbda,#b1bad9,#b2bbda,#b6bedb,#bbc2dd,#c2c7de,#c9cddd,#d0d2dd,#d6d7dc,#dadbdc,#dcdbdb,#dcdada,#dcdcdc,#d8d9dc,#d3d5dd,#cdd1dd,#c7ccdd,#c1c7de,#bbc2dc,#b6bedb,#b3bbda,#b1bad9,#b2bbda,#b5bddb,#bac2dc,#c1c7de,#c8ccdd,#cfd2dd,#d5d7dc,#dadadc,#dcdbdb,#dcdada,#dcdcdc,#d9dadc,#d4d6dd,#ced1dd,#c8ccdd,#c2c7de,#bcc2dd,#b6bedb)"></i><i style="background:linear-gradient(90deg,#d4d6dd,#ced1dd,#c7cbde,#c0c6de,#b9c1dc,#b4bcda,#b1b9d9,#afb9d9,#b1bad9,#b4bdda,#bac1dc,#c2c7de,#c9cddd,#d1d3dd,#d8d9dc,#dcdbdb,#dbd8d8,#dbd7d7,#dcd9d9,#dbdbdc,#d5d7dc,#cfd1dd,#c8ccdd,#c1c7de,#bac1dc,#b5bdda,#b1bad9,#afb9d9,#b0b9d9,#b4bcda,#bac1dc,#c1c7de,#c9cddd,#d0d3dd,#d7d8dc,#dcdbdb,#dbd8d8,#dbd7d7,#dcd9d9,#dbdbdc,#d6d7dc,#cfd2dd,#c8cddd,#c2c7de,#bbc2dc,#b5bddb)"></i><i style="background:linear-gradient(90deg,#d6d7dc,#cfd2dd,#c7ccdd,#c0c6de,#b8c0dc,#b3bbda,#afb8d9,#adb7d8,#afb8d9,#b3bbda,#b9c1dc,#c2c7de,#cacedd,#d3d5dd,#dadbdc,#dbd8d8,#dbd5d5,#dbd4d4,#dbd6d6,#dcdbdb,#d7d8dc,#d0d2dd,#c8ccdd,#c1c7de,#b9c0dc,#b3bcda,#afb8d9,#adb7d8,#aeb8d8,#b2bbda,#b8c0dc,#c1c7de,#c9cddd,#d2d4dd,#dadadc,#dbd8d8,#dbd5d5,#dbd4d4,#dbd6d6,#dcdada,#d8d9dc,#d1d3dd,#c9cddd,#c2c7de,#bac1dc,#b4bcda)"></i><i style="background:linear-gradient(90deg,#d8d9dc,#d0d3dd,#c8ccdd,#bfc6de,#b7bfdb,#b1bad9,#adb6d8,#abb5d7,#acb6d8,#b1bad9,#b8c0dc,#c2c7de,#cbcfdd,#d5d6dd,#dcdbdb,#dbd4d4,#dad1d1,#dad0d0,#dbd3d3,#dbd8d8,#d9dadc,#d1d3dd,#c9cddd,#c0c6de,#b8c0dc,#b1bad9,#adb6d8,#abb5d7,#acb6d8,#b0b9d9,#b7bfdb,#c0c6de,#cacedd,#d4d5dd,#dcdcdc,#dbd5d5,#dad1d1,#dad0d0,#dbd3d3,#dbd7d7,#dadadc,#d2d4dd,#cacedd,#c1c7de,#b9c0dc,#b2bbda)"></i><i style="background:linear-gradient(90deg,#dadbdc,#d1d4dd,#c8ccdd,#bfc5de,#b6bedb,#afb8d9,#aab4d7,#a8b3d7,#aab4d7,#afb8d9,#b7bfdb,#c1c7de,#cccfdd,#d7d8dc,#dbd8d8,#dad1d1,#dacdcd,#dacdcd,#dad0d0,#dbd5d5,#dbdbdc,#d2d4dd,#c9cddd,#c0c6de,#b7bfdb,#b0b9d9,#abb5d7,#a8b3d7,#a9b4d7,#aeb7d8,#b6bedb,#c0c6de,#cbcedd,#d5d7dc,#dcd9d9,#dbd2d2,#dacdcd,#dacccc,#dacfcf,#dbd4d4,#dcdcdc,#d3d5dd,#cacedd,#c1c7de,#b8c0dc,#b0b9d9)"></i><i style="background:linear-gradient(90deg,#dcdcdc,#d2d4dd,#c8cddd,#bfc5de,#b5bdda,#adb6d8,#a8b2d6,#a6b1d6,#a7b2d6,#acb6d8,#b5bddb,#c1c7de,#cdd0dd,#d9d9dc,#dbd5d5,#dacdcd,#d9c9c9,#d9c8c8,#dacccc,#dbd2d2,#dcdbdb,#d4d5dd,#cacddd,#c0c6de,#b6bedb,#aeb7d8,#a8b3d7,#a6b1d6,#a7b1d6,#acb5d8,#b4bcda,#c0c6de,#cbcfdd,#d7d8dc,#dbd6d6,#dacece,#d9c9c9,#d9c8c8,#dacbcb,#dad1d1,#dcdada,#d5d6dd,#cbcedd,#c1c7de,#b7bfdb,#afb8d9)"></i><i style="background:linear-gradient(90deg,#dcdada,#d4d5dd,#c9cddd,#bec4dd,#b3bcda,#abb5d7,#a5b0d6,#a2aed5,#a4afd5,#aab4d7,#b4bcda,#c1c6de,#ced1dd,#dbdbdc,#dad1d1,#d9c8c8,#d9c4c4,#d9c4c4,#d9c8c8,#dacfcf,#dbd8d8,#d5d6dd,#cacedd,#bfc5de,#b4bdda,#acb5d8,#a5b0d6,#a2aed5,#a4afd5,#a9b3d7,#b2bbda,#bfc5de,#ccd0dd,#dadadc,#dbd2d2,#d9c9c9,#d9c4c4,#d9c4c4,#d9c7c7,#dacece,#dbd7d7,#d6d8dc,#cbcfdd,#c1c6de,#b6bedb,#adb6d8)"></i><i style="background:linear-gradient(90deg,#dbd7d7,#d5d6dd,#c9cddd,#bdc4dd,#b2bada,#a8b3d7,#a2add5,#9fabd4,#a1acd4,#a7b1d6,#b1bad9,#c0c6de,#cfd2dd,#dcdada,#dacdcd,#d9c4c4,#d8bebe,#d8bebe,#d8c3c3,#dacccc,#dbd6d6,#d6d8dc,#cacedd,#bfc5de,#b3bbda,#a9b3d7,#a2aed5,#9fabd4,#a0acd4,#a6b1d6,#b0b9d9,#bec4dd,#cdd0dd,#dcdcdc,#dacfcf,#d9c5c5,#d8bebe,#d8bdbd,#d8c3c3,#d9caca,#dbd5d5,#d8d9dc,#cccfdd,#c0c6de,#b4bcda,#aab4d7)"></i><i style="background:linear-gradient(90deg,#dbd5d5,#d6d7dc,#c9cddd,#bdc3dd,#b0b9d9,#a6b1d6,#9eabd3,#9ba8d2,#9da9d3,#a3afd5,#afb8d9,#bfc5de,#d0d2dd,#dbd8d8,#d9c9c9,#d8bdbd,#d8b3b3,#d8b4b4,#d8bebe,#d9c8c8,#dbd3d3,#d8d9dc,#cbcedd,#bec4dd,#b1bad9,#a7b1d6,#9fabd4,#9ba8d2,#9ca9d3,#a2aed5,#aeb7d8,#bdc4dd,#ced1dd,#dcd9d9,#d9caca,#d8bfbf,#d8b3b4,#d8b3b3,#d8bcbc,#d9c7c7,#dbd2d2,#d9dadc,#ccd0dd,#c0c6de,#b3bbda,#a8b2d6)"></i><i style="background:linear-gradient(90deg,#dbd3d3,#d8d8dc,#cacddd,#bcc2dd,#aeb7d8,#a3aed5,#9ba8d2,#97a4d1,#98a6d1,#a0acd4,#adb6d8,#bec5dd,#d1d3dd,#dbd4d4,#d9c4c4,#d8b2b2,#d8a7a8,#d8a9a9,#d8b5b5,#d9c4c4,#dad1d1,#d9dadc,#cbcfdd,#bdc4dd,#b0b9d9,#a4afd5,#9ca8d2,#97a4d1,#98a5d1,#9eabd3,#abb5d7,#bcc3dd,#cfd2dd,#dbd7d7,#d9c6c6,#d8b4b4,#d8a8a9,#d8a8a9,#d8b3b3,#d8c3c3,#dacfcf,#dbdbdc,#cdd0dd,#bfc5de,#b1bad9,#a5b0d6)"></i><i style="background:linear-gradient(90deg,#dad0d0,#d9d9dc,#cacedd,#bbc2dc,#acb6d8,#a0acd4,#97a4d1,#92a0cf,#94a2d0,#9ba8d2,#aab4d7,#bdc4dd,#d2d4dd,#dad1d1,#d8bebe,#d8a5a6,#d89a9c,#d89d9e,#d8abac,#d8c0c0,#dacece,#dbdbdc,#cbcfdd,#bdc3dd,#aeb7d8,#a1add4,#98a5d1,#93a1cf,#93a1cf,#9aa7d2,#a8b2d6,#bbc2dc,#d0d2dd,#dbd4d4,#d8c1c1,#d8a8a9,#d89b9c,#d89c9d,#d8a9aa,#d8bebe,#dacdcd,#dcdcdc,#cdd0dd,#bec5de,#afb8d9,#a3aed5)"></i><i style="background:linear-gradient(90deg,#dacece,#dadadc,#cacedd,#bac1dc,#aab4d7,#9da9d3,#93a1cf,#8e9ccd,#8e9dce,#97a4d1,#a6b1d6,#bcc3dd,#d3d5dd,#dacdcd,#d8b3b3,#d8989a,#d88d8f,#d89092,#d8a1a2,#d8b9b9,#dacccc,#dcdcdc,#cccfdd,#bcc3dd,#acb6d8,#9eaad3,#94a1cf,#8e9dcd,#8e9dcd,#95a3d0,#a4afd5,#b9c0dc,#d0d3dd,#dad0d0,#d8b7b7,#d89b9c,#d88d8f,#d88f91,#d89e9f,#d8b6b6,#d9caca,#dcdada,#ced1dd,#bec4dd,#aeb7d8,#a0acd4)"></i><i style="background:linear-gradient(90deg,#dacbcb,#dbdbdc,#cacedd,#b9c0dc,#a8b2d6,#99a6d2,#8e9dce,#8898cb,#8998cc,#91a0cf,#a2aed5,#bac1dc,#d4d6dd,#d9c9c9,#d8a7a8,#d8898b,#da797d,#d98183,#d89697,#d8b1b2,#d9c9c9,#dcdbdb,#cccfdd,#bbc2dc,#aab4d7,#9ba8d2,#8f9ece,#8998cc,#8898cb,#909ece,#a0acd4,#b7bfdb,#d1d4dd,#dacccc,#d8abac,#d88c8e,#da7a7d,#d97f82,#d89395,#d8aeaf,#d9c7c7,#dcd9d9,#ced1dd,#bdc3dd,#acb5d8,#9da9d3)"></i><i style="background:linear-gradient(90deg,#d9c9c9,#dcdcdc,#cacedd,#b7bfdb,#a5b0d6,#96a3d0,#8a99cc,#8393c9,#8393c9,#8c9bcd,#9eaad3,#b8c0dc,#d6d7dc,#d9c5c5,#d89a9b,#da7477,#dc6469,#db6e72,#d88b8d,#d8aaab,#d9c7c7,#dcdada,#cccfdd,#bac1dc,#a7b2d6,#97a5d1,#8b9acc,#8394ca,#8293c9,#8a99cc,#9ba8d2,#b5bddb,#d2d4dd,#d9c8c8,#d89fa0,#da777b,#dc6469,#db6b70,#d88789,#d8a6a7,#d9c4c4,#dbd7d7,#ced1dd,#bcc3dd,#aab4d7,#99a6d2)"></i><i style="background:linear-gradient(90deg,#d9c7c7,#dcdbdb,#cacedd,#b6bedb,#a3afd5,#92a0cf,#8595ca,#7d8ec7,#7c8ec7,#8595ca,#99a6d1,#b6bedb,#d7d8dc,#d8c0c0,#d88b8d,#dd5c62,#df4c53,#dd5a60,#d97c7f,#d8a2a3,#d9c4c4,#dbd8d8,#cccfdd,#b9c0dc,#a5b0d6,#94a2d0,#8696cb,#7d8fc7,#7c8dc7,#8394ca,#96a3d0,#b2bbda,#d3d5dd,#d9c4c4,#d89092,#dd6065,#df4d54,#de575d,#da777b,#d89e9f,#d8c2c2,#dbd6d6,#ced1dd,#bbc2dc,#a7b2d6,#96a3d0)"></i><i style="background:linear-gradient(90deg,#d9c5c5,#dcdada,#c9cddd,#b5bddb,#a1add4,#8f9dce,#8091c8,#7689c5,#7588c4,#7e8fc8,#93a1cf,#b4bcda,#d8d9dc,#d8b6b6,#da7579,#e0424a,#e03a42,#df454d,#db6d71,#d89b9c,#d8c2c2,#dbd8d8,#cccfdd,#b7bfdb,#a3aed5,#909fce,#8192c9,#778ac5,#7487c4,#7c8ec7,#909ece,#afb8d9,#d4d6dd,#d8bebe,#d97d80,#df464e,#e03a42,#e0424a,#dc686c,#d89697,#d8bfbf,#dbd5d5,#ced1dd,#bac1dc,#a5b0d6,#93a1cf)"></i><i style="background:linear-gradient(90deg,#d8c3c3,#dcd9d9,#c9cddd,#b3bcda,#9eabd3,#8b9acc,#7b8dc6,#6f84c2,#6d81c1,#7689c5,#8d9ccd,#b1bad9,#dbdbdc,#d8aaab,#dd5d62,#e0333c,#e02d36,#e03841,#dd5e63,#d89495,#d8c0c0,#dbd7d7,#cccfdd,#b6bedb,#a1add4,#8d9ccd,#7c8ec7,#7084c3,#6c81c1,#7487c4,#8999cc,#adb6d8,#d6d7dc,#d8b3b3,#dc666b,#e0353e,#e02d36,#e0363f,#dd585e,#d88e90,#d8bbbb,#dbd4d4,#ced1dd,#b9c0dc,#a3afd5,#8f9ece)"></i><i style="background:linear-gradient(90deg,#d8c1c1,#dcd9d9,#c9cddd,#b2bbda,#9ca8d2,#8797cb,#7588c4,#697ec0,#647bbe,#6d82c1,#8897cb,#b2bbda,#dbd8d8,#d89a9b,#e0444b,#e0262f,#e02029,#e02d36,#de4f56,#d88d8f,#d8bdbd,#dbd6d6,#cbcfdd,#b5bdda,#9eabd3,#8a99cc,#778ac5,#6a7fc0,#647bbe,#6b80c1,#8494ca,#acb6d8,#dbdbdc,#d8a3a4,#df4d54,#e02831,#e01f29,#e02b34,#df4850,#d88789,#d8b7b7,#dbd3d3,#ced1dd,#b8bfdb,#a1add4,#8c9bcd)"></i><i style="background:linear-gradient(90deg,#d8c0c0,#dcd9d9,#c8ccdd,#b1bad9,#9aa6d2,#8494ca,#7084c3,#6278bd,#5c74bb,#667cbf,#8797cb,#bbc2dd,#d9caca,#d98083,#e0363e,#e01b25,#da1a24,#e0232d,#e04249,#d88789,#d8baba,#dbd6d6,#cbcedd,#b3bcda,#9ca9d3,#8696cb,#7286c3,#637abe,#5c74bb,#647abe,#8293c9,#b5bdda,#dad0d0,#d88b8d,#e03a42,#e01d27,#da1a24,#e0212a,#e03d45,#d97e81,#d8b4b5,#dbd3d3,#cdd1dd,#b6bedb,#9fabd4,#8998cc)"></i><i style="background:linear-gradient(90deg,#d8bebe,#dcd9d9,#c7ccdd,#afb8d9,#97a5d1,#8191c9,#6b80c1,#5b74bb,#5972ba,#637abe,#94a2d0,#d2d4dd,#d8a7a8,#de545b,#e02b34,#db1a24,#d41923,#e01b25,#e03b43,#d98083,#d8b8b9,#dbd6d6,#cacedd,#b2bbda,#9aa7d2,#8394ca,#6e82c2,#5c74bb,#5971ba,#6077bc,#8d9ccd,#cccfdd,#d8b1b1,#dd5d63,#e02e37,#dd1b24,#d41923,#dd1b25,#e0363f,#da777b,#d8b2b3,#dbd3d3,#cdd0dd,#b5bddb,#9da9d3,#8696ca)"></i><i style="background:linear-gradient(90deg,#d8bebe,#dcd9d9,#c7cbde,#aeb7d8,#95a3d0,#7e8fc7,#677dbf,#5972ba,#5770b9,#6e82c2,#b5bddb,#d8c1c1,#dc6469,#e0333c,#e0222b,#da1a24,#d41923,#db1a24,#e0353e,#da7b7e,#d8b7b8,#dbd6d6,#c9cddd,#b1bad9,#98a5d1,#8091c8,#697fc0,#5a72ba,#5670b9,#687dbf,#abb5d8,#d9c7c7,#db6e72,#e0363f,#e0232d,#dc1a24,#d41923,#d91a24,#e0313a,#db7276,#d8b1b2,#dbd3d3,#cccfdd,#b4bcda,#9ba8d2,#8394ca)"></i><i style="background:linear-gradient(90deg,#d8bebe,#dcdada,#c6cade,#adb6d8,#94a1cf,#7b8dc6,#6379bd,#5770b9,#5871b9,#8d9ccd,#dbd5d5,#db6e72,#e0313a,#e0222c,#e01b25,#db1a24,#d71a23,#da1a24,#e0323a,#da787c,#d8b8b8,#dbd7d7,#c8cddd,#afb9d9,#96a4d1,#7e8fc8,#657bbe,#5770b9,#5770b9,#8394ca,#dadbdc,#da7b7f,#e0343d,#e0232d,#e01c26,#dc1a24,#d71a23,#d91a24,#e02d36,#db6e72,#d8b1b2,#dbd4d4,#cbcfdd,#b2bbda,#99a6d2,#8192c9)"></i><i style="background:linear-gradient(90deg,#d8c0c0,#dcdbdb,#c5cade,#abb5d8,#92a0cf,#798bc6,#5f77bc,#566fb8,#657bbe,#c0c6de,#d88e8f,#e0313a,#e01e28,#de1b25,#dc1a24,#db1a24,#da1a24,#dc1a24,#e02f38,#da777a,#d8b9b9,#dbd8d8,#c7ccdd,#aeb8d8,#95a3d0,#7c8dc7,#6279bd,#5670b8,#5e75bc,#b3bcda,#d89c9d,#e0353d,#e01f29,#de1b25,#dc1a24,#db1a24,#da1a24,#db1a24,#e02b34,#db6c71,#d8b2b3,#dbd5d5,#cacedd,#b1bad9,#98a5d1,#7f90c8)"></i><i style="background:linear-gradient(90deg,#d8c1c1,#dcdcdc,#c3c9de,#aab4d7,#919fcf,#778ac5,#5d75bb,#5871b9,#8b9acc,#d9c4c4,#e03a42,#e01d27,#db1a24,#d91a24,#d91a24,#da1a24,#db1a24,#de1b25,#e02d36,#da767a,#d8bcbc,#dcd9d9,#c6cbde,#adb7d8,#94a2d0,#7a8cc6,#6077bc,#5770b9,#7f90c8,#dacfcf,#e04048,#e01f28,#dc1a24,#d91a24,#d91a24,#da1a24,#db1a24,#dd1b24,#e02933,#db6b6f,#d8b5b5,#dbd6d6,#c9cddd,#b0b9d9,#97a4d1,#7e8fc7)"></i><i style="background:linear-gradient(90deg,#d8c3c3,#dadadc,#c2c8de,#a9b3d7,#909fce,#7689c5,#5d75bb,#6178bd,#bfc5de,#db6c70,#e0212b,#da1a24,#d71a24,#d71a23,#d71a23,#d81a24,#da1a24,#de1b25,#e02b34,#da7579,#d8bfbf,#dcdbdb,#c5cade,#acb6d8,#93a1cf,#7a8cc6,#5f77bc,#5c74bb,#b0b9d9,#d98184,#e0242e,#db1a24,#d81a24,#d71a23,#d71a23,#d81a24,#da1a24,#dd1b25,#e02731,#dc686d,#d8b8b8,#dbd8d8,#c7ccdd,#afb8d9,#96a4d0,#7d8ec7)"></i><i style="background:linear-gradient(90deg,#d9c5c5,#d8d9dc,#c1c6de,#a8b3d7,#909fce,#7789c5,#6077bd,#7f90c8,#d9c9c9,#e0313a,#dc1a24,#d71a23,#d51923,#d41923,#d51923,#d61a23,#d91a24,#dd1b24,#e02730,#db7075,#d8c2c2,#dadbdc,#c3c8de,#abb5d7,#93a1cf,#7a8cc6,#6178bd,#7487c4,#dbd6d6,#e03740,#dd1b24,#d71a23,#d51923,#d41923,#d51923,#d61a23,#d81a24,#dc1a24,#e0242d,#dc6268,#d8bcbc,#dcdbdb,#c6cbde,#aeb7d8,#96a3d0,#7d8ec7)"></i><i style="background:linear-gradient(90deg,#d9c8c8,#d5d7dc,#bfc5de,#a8b2d6,#909fce,#788ac5,#687ebf,#a6b1d6,#d97e81,#e01e28,#d81a24,#d51923,#d31923,#d21923,#d31923,#d41923,#d71a23,#db1a24,#e0222c,#dc666b,#d9c4c4,#d8d9dc,#c2c7de,#aab5d7,#93a1cf,#7b8dc6,#677dbf,#98a5d1,#d89597,#e0212b,#d81a24,#d51923,#d31923,#d21923,#d31923,#d41923,#d71a23,#da1a24,#e01f29,#dd575d,#d8bfbf,#dbdbdc,#c4c9de,#adb7d8,#96a4d0,#7e8fc8)"></i><i style="background:linear-gradient(90deg,#d9caca,#d2d4dd,#bdc4dd,#a7b2d6,#919fcf,#7a8cc6,#7689c5,#d1d3dd,#e03a42,#db1a24,#d51a23,#d31923,#d11922,#d01922,#d11922,#d31923,#d51923,#d91a24,#e01d27,#de575d,#d9c6c6,#d5d6dd,#c0c6de,#aab4d7,#94a2d0,#7d8ec7,#7285c3,#c2c8de,#df464e,#dd1b24,#d61a23,#d31923,#d11922,#d01922,#d11922,#d21923,#d51923,#d81a24,#e01b25,#df474f,#d8c0c0,#d8d9dc,#c2c8de,#adb6d8,#97a4d1,#8091c8)"></i><i style="background:linear-gradient(90deg,#dacbcb,#cfd2dd,#bbc2dd,#a7b2d6,#93a1cf,#7e8fc8,#8a99cc,#d8c1c1,#e0252f,#d81a24,#d41923,#d11922,#cf1922,#cf1922,#cf1922,#d11922,#d41923,#d71a24,#de1b25,#e0444c,#d9c6c6,#d2d4dd,#bec4dd,#aab4d7,#95a3d0,#8091c8,#8293c9,#dacfcf,#e02a33,#d91a24,#d41923,#d11922,#cf1922,#cf1922,#cf1922,#d11922,#d31923,#d71a23,#dd1b25,#e03a43,#d8bfbf,#d5d6dd,#c0c6de,#acb6d8,#98a5d1,#8293c9)"></i><i style="background:linear-gradient(90deg,#dacbcb,#ccd0dd,#bac1dc,#a7b2d6,#95a2d0,#8393c9,#a3afd5,#d98386,#df1b25,#d61a23,#d21923,#cf1922,#ce1822,#cd1822,#ce1822,#cf1922,#d21923,#d61a23,#dc1a24,#e03841,#d9c5c5,#cfd2dd,#bcc3dd,#a9b4d7,#97a4d1,#8494ca,#98a5d1,#d89c9d,#e01d27,#d61a23,#d21923,#d01922,#ce1822,#cd1822,#ce1822,#cf1922,#d21923,#d51a23,#db1a24,#e0323a,#d8baba,#d1d4dd,#bec5dd,#acb5d8,#99a6d1,#8696cb)"></i><i style="background:linear-gradient(90deg,#d9c9c9,#c9cddd,#b8bfdb,#a8b2d6,#97a4d1,#8a99cc,#bfc5de,#df474f,#db1a24,#d41923,#d11922,#ce1822,#cd1822,#cc1822,#cd1822,#ce1922,#d11922,#d51923,#da1a24,#e03039,#d8c2c2,#cbcfdd,#bac1dc,#aab4d7,#99a6d1,#8a99cc,#b1bad9,#dd5f65,#dc1a24,#d51923,#d11922,#ce1922,#cd1822,#cc1822,#cc1822,#ce1822,#d11922,#d41923,#d91a24,#e02a33,#d8b2b3,#ced1dd,#bcc3dd,#acb5d8,#9ba8d2,#8b9acc)"></i><i style="background:linear-gradient(90deg,#d9c7c7,#c6cbde,#b6bedb,#a8b3d7,#9aa7d2,#93a1cf,#d8d9dc,#e03039,#d91a24,#d31923,#cf1922,#cd1822,#cb1821,#cb1821,#cb1821,#cd1822,#d01922,#d41923,#d91a24,#e02932,#d8bdbd,#c8ccdd,#b8bfdb,#aab4d7,#9ca8d2,#919fcf,#cacedd,#e03941,#d91a24,#d41923,#d01922,#cd1822,#cb1821,#cb1821,#cb1821,#cd1822,#cf1922,#d31923,#d81a24,#e0242e,#d8a9aa,#cbcfdd,#bac1dc,#acb5d8,#9eaad3,#92a0cf)"></i><i style="background:linear-gradient(90deg,#d9c4c4,#c3c8de,#b5bdda,#a9b3d7,#9eaad3,#9da9d3,#d9c9c9,#e0252e,#d71a23,#d21923,#ce1922,#cc1822,#ca1821,#ca1821,#cb1821,#cc1822,#cf1922,#d31923,#d81a24,#e0242e,#d8b5b5,#c5cade,#b6bedb,#aab5d7,#9fabd4,#9aa7d2,#dbd8d8,#e02a33,#d81a24,#d31923,#cf1922,#cc1822,#ca1821,#ca1821,#ca1821,#cc1822,#cf1922,#d21923,#d71a23,#e0202a,#d8a0a1,#c9cddd,#b7bfdb,#acb6d8,#a0acd4,#99a6d1)"></i><i style="background:linear-gradient(90deg,#d8c2c2,#c0c6de,#b3bbda,#aab4d7,#a2add4,#a8b2d6,#d8acad,#e01e27,#d61a23,#d11922,#ce1822,#cb1821,#ca1821,#c91821,#ca1821,#cb1821,#ce1822,#d21923,#d71a23,#e0212a,#d8aeaf,#c2c8de,#b4bcda,#abb5d8,#a2aed5,#a3aed5,#d9c4c4,#e0212b,#d71a23,#d21923,#ce1822,#cb1821,#ca1821,#c91821,#ca1821,#cb1821,#ce1822,#d21923,#d61a23,#e01d27,#d89899,#c6cbde,#b5bddb,#acb6d8,#a4afd5,#a1add4)"></i><i style="background:linear-gradient(90deg,#d8c0c0,#bdc3dd,#b2bad9,#acb5d8,#a6b1d6,#b3bbda,#d88f91,#df1b25,#d51923,#d01922,#cd1822,#ca1821,#c91821,#c81821,#c91821,#cb1821,#ce1822,#d11923,#d61a23,#e01e28,#d8a9aa,#bfc5de,#b2bbda,#acb6d8,#a6b1d6,#adb6d8,#d8a8a9,#e01c26,#d61a23,#d11922,#cd1822,#cb1821,#c91821,#c81821,#c91821,#cb1821,#cd1822,#d11922,#d61a23,#e01b25,#d89294,#c3c9de,#b3bcda,#adb7d8,#a7b2d6,#aab4d7)"></i><i style="background:linear-gradient(90deg,#d8bfbf,#b9c0dc,#b0b9d9,#adb7d8,#aab5d7,#bec4dd,#db7276,#dd1b24,#d41923,#d01922,#cc1822,#ca1821,#c81821,#c81821,#c91821,#ca1821,#cd1822,#d11922,#d61a23,#e01d27,#d8a8a9,#bbc2dd,#b1bad9,#adb7d8,#abb5d7,#b6bedb,#d88f91,#de1b25,#d51923,#d01922,#cd1822,#ca1821,#c91821,#c81821,#c91821,#ca1821,#cd1822,#d11922,#d51a23,#df1b25,#d89092,#c0c6de,#b1bad9,#aeb7d8,#abb5d7,#b3bbda)"></i><i style="background:linear-gradient(90deg,#d8c1c1,#b5bddb,#afb8d9,#afb8d9,#afb8d9,#c7cbde,#dd5d63,#dc1a24,#d41923,#cf1922,#cc1822,#c91821,#c81821,#c81821,#c81821,#ca1821,#cd1822,#d11922,#d61a23,#e01d27,#d8aaab,#b7bfdb,#afb8d9,#afb8d9,#afb8d9,#c0c6de,#da797c,#dd1b24,#d51923,#d01922,#cc1822,#ca1821,#c81821,#c81821,#c81821,#ca1821,#cd1822,#d01922,#d51923,#df1b25,#d89293,#bcc3dd,#afb8d9,#afb8d9,#afb8d9,#bbc2dd)"></i><i style="background:linear-gradient(90deg,#d9c5c5,#b1bad9,#aeb7d8,#b1bad9,#b4bdda,#cfd2dd,#de4f56,#db1a24,#d41923,#cf1922,#cc1822,#c91821,#c81821,#c81821,#c81821,#ca1821,#cd1822,#d11922,#d61a23,#e01d27,#d8b1b2,#b3bbda,#aeb7d8,#b0b9d9,#b4bcda,#c7ccdd,#dc686d,#dc1a24,#d41923,#d01922,#cc1822,#ca1821,#c81821,#c81821,#c81821,#ca1821,#cd1822,#d01922,#d51923,#e01b25,#d89899,#b8bfdb,#aeb7d8,#b0b9d9,#b3bcda,#c3c8de)"></i><i style="background:linear-gradient(90deg,#dacbcb,#adb7d8,#adb7d8,#b3bbda,#bac1dc,#d6d7dc,#df464e,#db1a24,#d41923,#cf1922,#cc1822,#c91821,#c81821,#c81821,#c81821,#ca1821,#cd1822,#d11922,#d61a23,#e01f29,#d8bdbd,#aeb8d8,#adb6d8,#b2bbda,#b9c0dc,#ced1dd,#dd5e63,#dc1a24,#d41923,#d01922,#cc1822,#ca1821,#c81821,#c81821,#c81821,#ca1821,#cd1822,#d11922,#d51a23,#e01c26,#d8a3a4,#b3bbda,#acb6d8,#b2bad9,#b8bfdb,#cacedd)"></i><i style="background:linear-gradient(90deg,#dbd4d4,#a9b3d7,#adb6d8,#b5bddb,#bfc5de,#dbdbdc,#e0424a,#db1a24,#d41923,#cf1922,#cc1822,#ca1821,#c81821,#c81821,#c91821,#cb1821,#cd1822,#d11922,#d71a23,#e0222b,#d9c7c7,#aab4d7,#acb5d8,#b4bcda,#bdc4dd,#d4d6dd,#dd595f,#dc1a24,#d51923,#d01922,#cc1822,#ca1821,#c81821,#c81821,#c91821,#ca1821,#cd1822,#d11922,#d61a23,#e01e28,#d8b3b3,#adb7d8,#abb5d7,#b3bcda,#bcc3dd,#d0d2dd)"></i><i style="background:linear-gradient(90deg,#d8d9dc,#a5b0d5,#acb6d8,#b8bfdb,#c4c9de,#dbd8d8,#e0424a,#db1a24,#d41923,#d01922,#cc1822,#ca1821,#c91821,#c81821,#c91821,#cb1821,#ce1822,#d21923,#d71a23,#e02730,#dbd3d3,#a5b0d5,#abb5d7,#b6bedb,#c2c8de,#d9dadc,#dd585e,#dc1a24,#d51923,#d01922,#cd1822,#ca1821,#c91821,#c81821,#c91821,#cb1821,#cd1822,#d11922,#d61a23,#e0222b,#d9c5c5,#a7b2d6,#aab4d7,#b5bddb,#c1c7de,#d5d6dd)"></i><i style="background:linear-gradient(90deg,#cbcfdd,#a1add4,#acb6d8,#bac1dc,#c8ccdd,#dbd4d4,#df464d,#dc1a24,#d51923,#d01922,#cd1822,#ca1821,#c91821,#c91821,#ca1821,#cc1821,#ce1922,#d21923,#d81a24,#e02f38,#d6d7dc,#a0acd4,#aab4d7,#b8c0dc,#c6cbde,#dcdada,#dd5b61,#dd1b24,#d51923,#d11922,#cd1822,#cb1821,#c91821,#c91821,#ca1821,#cb1821,#ce1822,#d21923,#d71a23,#e02832,#dbd3d3,#a1add4,#a9b3d7,#b7bedb,#c5cade,#dadadc)"></i><i style="background:linear-gradient(90deg,#bcc3dd,#9daad3,#acb6d8,#bcc3dd,#cdd0dd,#dad0d0,#df4b52,#dd1b24,#d51923,#d11922,#cd1822,#cb1821,#ca1821,#ca1821,#ca1821,#cc1822,#cf1922,#d31923,#d91a24,#e03b43,#c6cbde,#9ca9d3,#aab4d7,#bbc2dc,#cacedd,#dbd5d5,#dd6066,#de1b25,#d61a23,#d11922,#ce1822,#cb1821,#ca1821,#ca1821,#ca1821,#cc1822,#cf1922,#d31923,#d81a24,#e0323b,#d3d5dd,#9ca9d3,#a8b3d7,#b9c0dc,#c9cddd,#dcd9d9)"></i><i style="background:linear-gradient(90deg,#abb5d8,#9aa7d2,#acb6d8,#bfc5de,#d1d3dd,#dacccc,#de5359,#de1b25,#d61a23,#d21923,#ce1922,#cc1822,#cb1821,#cb1821,#cb1821,#cd1822,#d01922,#d41923,#dc1a24,#dd5d62,#b3bcda,#98a6d1,#aab4d7,#bdc3dd,#cfd1dd,#dad1d1,#dc676c,#e01b25,#d71a23,#d21923,#cf1922,#cc1822,#cb1821,#ca1821,#cb1821,#cd1822,#d01922,#d41923,#da1a24,#df454d,#c1c7de,#98a5d1,#a8b2d6,#bbc2dc,#ccd0dd,#dbd5d5)"></i><i style="background:linear-gradient(90deg,#9ca8d2,#98a5d1,#adb6d8,#c1c7de,#d5d6dd,#d9c8c8,#dd5b60,#e01b25,#d71a23,#d31923,#cf1922,#cd1822,#cc1822,#cc1821,#cc1822,#ce1922,#d11922,#d61a23,#df1b25,#d89293,#a1add4,#96a3d0,#aab4d7,#bfc5de,#d2d4dd,#dacdcd,#db6e72,#e01d27,#d81a24,#d31923,#d01922,#cd1822,#cc1822,#cc1821,#cc1822,#ce1822,#d11922,#d51923,#de1b25,#da7579,#abb5d8,#94a2d0,#a8b2d6,#bdc3dd,#d0d3dd,#dad0d0)"></i><i style="background:linear-gradient(90deg,#8e9dce,#96a4d1,#adb7d8,#c3c9de,#d9d9dc,#d9c4c4,#dc6167,#e01e28,#d81a24,#d41923,#d01922,#ce1822,#cd1822,#cd1822,#ce1822,#d01922,#d31923,#d71a24,#e0232d,#d9c4c4,#919fce,#94a2d0,#abb5d7,#c1c7de,#d6d7dc,#d9c8c8,#db7377,#e0212a,#d91a24,#d41923,#d11922,#ce1922,#cd1822,#cd1822,#ce1822,#cf1922,#d21923,#d71a23,#e01f29,#d8acad,#98a5d1,#91a0cf,#a8b2d6,#bfc5de,#d4d5dd,#dacccc)"></i><i style="background:linear-gradient(90deg,#8595ca,#95a3d0,#aeb7d8,#c6cade,#dcdcdc,#d8c0c0,#dc666b,#e0212b,#da1a24,#d51923,#d21923,#d01922,#ce1922,#ce1922,#cf1922,#d11922,#d41923,#da1a24,#e0343d,#d3d5dd,#8595ca,#93a1cf,#abb5d7,#c3c8de,#d9dadc,#d9c4c4,#da7579,#e0242e,#da1a24,#d61a23,#d21923,#d01922,#ce1922,#ce1922,#cf1922,#d11922,#d41923,#d91a24,#e02d36,#dbd6d6,#8898cb,#909ece,#a8b3d7,#c0c6de,#d7d8dc,#d9c8c8)"></i><i style="background:linear-gradient(90deg,#7e8fc8,#95a3d0,#afb8d9,#c8ccdd,#dcd9d9,#d8baba,#dc676c,#e0242e,#db1a24,#d71a23,#d31923,#d11922,#d01922,#d01922,#d11922,#d31923,#d61a23,#de1b25,#dc656a,#afb8d9,#7d8ec7,#92a0cf,#acb6d8,#c5cade,#dcdcdc,#d8c1c1,#da7578,#e02831,#dc1a24,#d71a23,#d41923,#d11922,#d01922,#d01922,#d11922,#d31923,#d61a23,#dd1b24,#de4e55,#bec5de,#7d8ec7,#8f9dce,#a9b3d7,#c2c8de,#dadadc,#d9c4c4)"></i><i style="background:linear-gradient(90deg,#7b8dc6,#95a3d0,#b0b9d9,#c9cddd,#dbd6d6,#d8b4b4,#dc666b,#e02630,#dc1b24,#d81a24,#d51923,#d31923,#d21923,#d21923,#d31923,#d51923,#d91a24,#e0252f,#d8b2b3,#8c9bcd,#788ac5,#92a0cf,#adb6d8,#c7cbde,#dcd9d9,#d8bbbb,#db7276,#e02a33,#dd1b25,#d91a24,#d51a23,#d31923,#d21923,#d21923,#d21923,#d41923,#d81a24,#e0212b,#d89b9c,#98a5d1,#7689c5,#8f9dce,#aab4d7,#c4c9de,#dcdcdc,#d8c1c1)"></i><i style="background:linear-gradient(90deg,#798cc6,#96a3d0,#b1bad9,#cbcfdd,#dbd3d3,#d8afaf,#dc6469,#e02731,#dd1b25,#da1a24,#d71a23,#d51923,#d41923,#d41923,#d51923,#d71a23,#de1b25,#e03f47,#d2d4dd,#7386c3,#7689c5,#92a0cf,#aeb7d8,#c8ccdd,#dbd7d7,#d8b6b6,#db6f73,#e02b34,#de1b25,#da1a24,#d71a23,#d51923,#d41923,#d41923,#d41923,#d71a23,#dd1b24,#e03740,#dbd8d8,#7a8cc6,#7387c4,#8f9ece,#abb5d7,#c5cade,#dcdada,#d8bcbc)"></i><i style="background:linear-gradient(90deg,#7a8cc6,#97a4d1,#b2bbda,#cdd0dd,#dbd2d2,#d8abac,#dc6268,#e02831,#dd1b24,#db1a24,#d91a24,#d71a23,#d61a23,#d61a23,#d71a23,#db1a24,#e02730,#d89698,#a0acd4,#647abe,#7689c5,#93a1cf,#afb8d9,#cacedd,#dbd5d5,#d8b2b2,#db6d71,#e02c35,#dd1b25,#db1a24,#d91a24,#d71a23,#d61a23,#d61a23,#d71a23,#da1a24,#e0232d,#d98285,#aeb8d8,#667cbf,#7386c4,#909ece,#acb6d8,#c7cbde,#dbd8d8,#d8b8b9)"></i><i style="background:linear-gradient(90deg,#7b8dc7,#98a5d1,#b4bcda,#ced1dd,#dad0d0,#d8a9a9,#dc6267,#e02932,#dc1a24,#db1a24,#db1a24,#d91a24,#d81a24,#d91a24,#db1a24,#e01f29,#df4c53,#dbdcdc,#7487c4,#5e76bc,#788ac5,#95a2d0,#b1b9d9,#cbcfdd,#dbd3d3,#d8afb0,#db6c71,#e02d36,#dc1a24,#db1a24,#db1a24,#da1a24,#d81a24,#d91a24,#db1a24,#e01e27,#e03f47,#dad1d1,#7f90c8,#5d75bb,#7487c4,#919fcf,#adb7d8,#c8ccdd,#dbd6d6,#d8b6b6)"></i><i style="background:linear-gradient(90deg,#7d8fc7,#9aa7d2,#b5bddb,#cfd2dd,#dacfcf,#d8a7a8,#dc6469,#e02b34,#db1a24,#db1a24,#dd1b24,#dd1b24,#dd1b24,#de1b25,#e0202a,#e03941,#d8afb0,#a2add5,#5b73bb,#5e75bc,#7a8cc6,#96a4d0,#b2bbda,#ccd0dd,#dbd2d2,#d8aeaf,#db6e72,#e02f38,#dc1a24,#da1a24,#dd1b24,#dd1b24,#dd1b24,#de1b25,#e01f29,#e0353d,#d89fa0,#afb8d9,#5e76bc,#5c74bb,#7689c5,#93a1cf,#afb8d9,#c9cddd,#dbd5d5,#d8b4b5)"></i><i style="background:linear-gradient(90deg,#8091c8,#9ba8d2,#b7bedb,#d0d3dd,#dacece,#d8a8a8,#dc686d,#e02f38,#dc1a24,#da1a24,#e01b25,#e01e28,#e0212b,#e02831,#e03a43,#d89294,#c9cddd,#7084c2,#5770b9,#6178bd,#7d8ec7,#98a5d1,#b3bcda,#cdd0dd,#dad1d1,#d8aeaf,#db7175,#e0333c,#de1b25,#da1a24,#df1b25,#e01e28,#e0212a,#e02730,#e03740,#d98588,#d3d5dd,#798bc6,#5770b9,#5e75bc,#798bc6,#95a3d0,#b0b9d9,#cacedd,#dbd4d4,#d8b4b5)"></i><i style="background:linear-gradient(90deg,#8393c9,#9daad3,#b8c0dc,#d1d3dd,#dacece,#d8a9aa,#db6e72,#e0353e,#e01c26,#dd1b24,#e0212b,#e02c35,#e0363e,#df4d54,#d89394,#dbdbdc,#8f9dce,#5972ba,#5770b9,#657bbe,#8091c8,#9aa7d2,#b5bddb,#ced1dd,#dad1d1,#d8afaf,#da7679,#e03941,#e01e28,#dc1b24,#e02029,#e02b34,#e0343d,#df484f,#d88a8c,#dbd5d5,#98a5d1,#5b73ba,#5770b9,#6279bd,#7d8ec7,#97a4d1,#b2bada,#cbcfdd,#dbd4d4,#d8b5b5)"></i><i style="background:linear-gradient(90deg,#8696cb,#a0acd4,#b9c1dc,#d2d4dd,#dacece,#d8abac,#da7578,#e03c44,#e0252e,#e01f29,#e02b34,#e03f47,#db6b6f,#d8a2a3,#dbd8d8,#a6b1d6,#687ec0,#566fb8,#5972ba,#6a7fc0,#8393c9,#9da9d3,#b6bedb,#cfd2dd,#dad1d1,#d8b1b1,#d97c80,#e03f47,#e02730,#e01f28,#e02932,#e03d45,#dc656a,#d89b9d,#dbd2d2,#aeb7d8,#6e83c2,#5770b9,#5971b9,#677dbf,#8091c8,#99a6d2,#b3bcda,#cccfdd,#dbd4d4,#d8b6b7)"></i><i style="background:linear-gradient(90deg,#8999cc,#a2add5,#bbc2dc,#d2d4dd,#dacece,#d8aeaf,#d97d80,#df464d,#e02f38,#e02a33,#e03841,#dc696d,#d8a6a7,#dbd5d5,#b7bedb,#8192c9,#5c74bb,#5871b9,#5c74bb,#6f84c2,#8796cb,#9fabd4,#b8bfdb,#cfd2dd,#dad1d1,#d8b3b4,#d98487,#df4c53,#e0313a,#e02a33,#e0363e,#dc6167,#d89fa0,#dad0d0,#bdc3dd,#8797cb,#5e76bc,#5871b9,#5b73bb,#6d82c1,#8494ca,#9ca9d3,#b5bddb,#cdd0dd,#dbd4d4,#d8b9b9)"></i><i style="background:linear-gradient(90deg,#8d9ccd,#a4afd5,#bcc3dd,#d2d4dd,#dacfcf,#d8b1b2,#d88789,#de555b,#e03a42,#e0373f,#df4c53,#d88c8e,#d9c6c6,#cbcfdd,#9eaad3,#7588c4,#5d75bb,#5b73bb,#637abe,#7588c4,#8a9acc,#a1add4,#b9c0dc,#d0d2dd,#dbd2d2,#d8b7b7,#d88c8e,#dd5a60,#e03b43,#e0363e,#df464e,#d98486,#d8c2c2,#d0d2dd,#a3afd5,#798bc6,#5f76bc,#5b73ba,#6279bd,#7386c3,#8897cb,#9fabd3,#b6bedb,#cdd0dd,#dbd4d4,#d8bcbc)"></i><i style="background:linear-gradient(90deg,#919fce,#a6b1d6,#bdc4dd,#d3d5dd,#dad0d0,#d8b6b6,#d88f91,#dc6469,#df484f,#df454d,#dc656a,#d89fa1,#dad1d1,#c0c6de,#97a4d1,#7689c5,#657bbe,#6279bd,#6b80c0,#7a8cc6,#8e9dcd,#a4afd5,#bbc2dc,#d0d3dd,#dbd2d2,#d8babb,#d89395,#dc686d,#df4a51,#e0444c,#dd6065,#d8999a,#dacdcd,#c5cade,#9ca8d2,#7a8cc6,#667cbf,#6279bd,#697fc0,#788bc6,#8c9bcd,#a1add4,#b8bfdb,#ced1dd,#dbd5d5,#d8bfbf)"></i><i style="background:linear-gradient(90deg,#94a2d0,#a9b3d7,#bfc5de,#d3d5dd,#dad1d1,#d8baba,#d89698,#da7377,#dd5b61,#dd5c62,#da7c7f,#d8aeae,#dbd7d7,#bec4dd,#99a6d1,#7d8fc7,#6d82c1,#6b80c0,#7285c3,#8091c8,#92a0cf,#a6b1d6,#bcc3dd,#d0d3dd,#dbd3d3,#d8bfbf,#d89a9c,#da777b,#dd5d63,#dd5a60,#da767a,#d8a7a8,#dbd3d3,#c2c8de,#9da9d3,#8091c8,#6f83c2,#6a7fc0,#7184c3,#7e8fc8,#909ece,#a4afd5,#b9c1dc,#ced1dd,#dbd6d6,#d8c2c2)"></i><i style="background:linear-gradient(90deg,#98a5d1,#abb5d7,#c0c6de,#d3d5dd,#dbd2d2,#d8bfbf,#d89ea0,#d98285,#db6f73,#db7276,#d88f90,#d8b9b9,#dcdada,#bec4dd,#9daad3,#8495ca,#7689c5,#7386c3,#798bc6,#8595ca,#96a3d0,#a9b3d7,#bdc4dd,#d0d3dd,#dbd4d4,#d8c2c2,#d8a2a3,#d88688,#db7074,#db7074,#d88b8d,#d8b3b4,#dbd6d6,#c2c8de,#a1add4,#8797cb,#778ac5,#7386c3,#788ac5,#8394ca,#93a1cf,#a6b1d6,#bbc2dc,#ced1dd,#dbd7d7,#d9c4c4)"></i><i style="background:linear-gradient(90deg,#9ba8d2,#adb7d8,#c1c6de,#d2d5dd,#dbd3d3,#d8c2c2,#d8a6a7,#d88f91,#d98183,#d98588,#d89c9d,#d8c2c2,#dcdcdc,#bfc5de,#a2add5,#8b9acc,#7e8fc8,#7a8cc6,#7f90c8,#8a99cc,#99a6d2,#abb5d7,#bec5dd,#d0d3dd,#dbd6d6,#d9c4c4,#d8a9aa,#d89193,#d98284,#d98386,#d8999a,#d8bebe,#dcd9d9,#c3c8de,#a5b0d6,#8d9ccd,#7f90c8,#7a8cc6,#7e8fc8,#8998cb,#97a5d1,#a9b3d7,#bcc3dd,#ced1dd,#dbd8d8,#d9c6c6)"></i><i style="background:linear-gradient(90deg,#9fabd4,#afb8d9,#c1c7de,#d2d4dd,#dbd5d5,#d9c5c5,#d8aeaf,#d89a9b,#d89092,#d89496,#d8a8a9,#d9c6c6,#dadadc,#c0c6de,#a6b1d6,#919fcf,#8595ca,#8192c9,#8595ca,#8f9dce,#9da9d3,#adb7d8,#bfc6de,#d0d3dd,#dbd7d7,#d9c7c7,#d8b1b1,#d89c9d,#d89092,#d89394,#d8a5a6,#d9c4c4,#dcdbdb,#c3c8de,#a9b3d7,#93a1cf,#8696ca,#8192c9,#8495ca,#8d9ccd,#9ba8d2,#abb5d8,#bdc4dd,#ced1dd,#dcd9d9,#d9c8c8)"></i><i style="background:linear-gradient(90deg,#a2aed5,#b1bad9,#c2c8de,#d2d4dd,#dbd6d6,#d9c8c8,#d8b6b6,#d8a4a5,#d89c9d,#d8a0a2,#d8b4b4,#d9caca,#d8d9dc,#c1c7de,#a9b4d7,#97a4d1,#8b9acc,#8797cb,#8b9acc,#93a1cf,#a0acd4,#afb9d9,#c0c6de,#d0d3dd,#dbd8d8,#d9c9c9,#d8b8b9,#d8a5a6,#d89c9d,#d89fa0,#d8b1b1,#d9c8c8,#dbdbdc,#c4c9de,#acb6d8,#98a6d1,#8c9bcd,#8897cb,#8a99cc,#92a0cf,#9fabd3,#aeb7d8,#bec5dd,#ced1dd,#dcdada,#dacbcb)"></i><i style="background:linear-gradient(90deg,#a5b0d6,#b3bcda,#c3c8de,#d2d4dd,#dbd8d8,#d9caca,#d8bdbd,#d8adae,#d8a7a8,#d8acad,#d8bebe,#dacece,#d6d8dc,#c2c7de,#acb6d8,#9ca8d2,#919fcf,#8d9ccd,#909ece,#98a5d1,#a3afd5,#b2bad9,#c1c7de,#d0d2dd,#dcdada,#dacccc,#d8c0c0,#d8afaf,#d8a7a8,#d8aaab,#d8bbbb,#dacccc,#d9d9dc,#c4c9de,#afb8d9,#9daad3,#92a0cf,#8d9ccd,#8f9ece,#97a4d1,#a2aed5,#b0b9d9,#bfc6de,#ced1dd,#dcdbdb,#dacdcd)"></i><i style="background:linear-gradient(90deg,#a8b2d6,#b5bddb,#c3c9de,#d1d3dd,#dcd9d9,#dacdcd,#d8c2c2,#d8b6b7,#d8b1b2,#d8b6b7,#d9c4c4,#dbd2d2,#d5d6dd,#c2c8de,#afb8d9,#a0acd4,#96a4d0,#93a1cf,#95a2d0,#9ca8d2,#a6b1d6,#b3bcda,#c2c7de,#cfd2dd,#dcdbdb,#dacece,#d8c3c3,#d8b8b8,#d8b1b2,#d8b5b5,#d8c2c2,#dad0d0,#d7d8dc,#c4cade,#b1bad9,#a2add4,#97a4d1,#93a1cf,#94a2d0,#9ba8d2,#a5b0d6,#b2bada,#c0c6de,#ced1dd,#dbdcdc,#dad0d0)"></i><i style="background:linear-gradient(90deg,#abb5d7,#b7bfdb,#c4c9de,#d1d3dd,#dcdbdb,#dacfcf,#d9c6c6,#d8bfbf,#d8bbbb,#d8c0c0,#d9c8c8,#dbd5d5,#d3d5dd,#c3c8de,#b2bada,#a4afd5,#9ba8d2,#98a5d1,#99a6d2,#a0acd4,#a9b3d7,#b5bddb,#c3c8de,#cfd2dd,#dcdcdc,#dad1d1,#d9c7c7,#d8c0c0,#d8bbbb,#d8bfbf,#d9c7c7,#dbd3d3,#d5d7dc,#c5cade,#b4bcda,#a5b0d6,#9ca8d2,#98a5d1,#99a6d1,#9fabd4,#a8b2d6,#b4bcda,#c1c7de,#ced1dd,#dadbdc,#dbd2d2)"></i><i style="background:linear-gradient(90deg,#adb7d8,#b8c0dc,#c4c9de,#d0d3dd,#dcdcdc,#dbd2d2,#d9c9c9,#d9c4c4,#d8c2c2,#d9c5c5,#dacccc,#dbd8d8,#d2d4dd,#c3c9de,#b4bcda,#a7b2d6,#9fabd4,#9ca9d3,#9eaad3,#a3afd5,#acb6d8,#b7bfdb,#c3c8de,#cfd2dd,#dadbdc,#dbd3d3,#d9caca,#d9c4c4,#d8c2c2,#d9c4c4,#dacbcb,#dbd6d6,#d4d6dd,#c5cade,#b6bedb,#a9b3d7,#a0acd4,#9ca9d3,#9daad3,#a2aed5,#abb5d7,#b6bddb,#c2c7de,#cdd0dd,#d9dadc,#dbd4d4)"></i><i style="background:linear-gradient(90deg,#afb9d9,#bac1dc,#c5cade,#d0d2dd,#dadbdc,#dbd4d4,#dacdcd,#d9c8c8,#d9c6c6,#d9c9c9,#dad0d0,#dcdada,#d1d3dd,#c4c9de,#b6bedb,#abb5d7,#a3afd5,#a0acd4,#a1add4,#a6b1d6,#aeb8d8,#b8c0dc,#c4c9de,#ced1dd,#d9dadc,#dbd5d5,#dacdcd,#d9c8c8,#d9c6c6,#d9c8c8,#dacfcf,#dcd9d9,#d3d5dd,#c5cade,#b7bfdb,#acb6d8,#a4afd5,#a0acd4,#a1add4,#a6b1d6,#adb7d8,#b7bfdb,#c2c8de,#cdd0dd,#d8d9dc,#dbd6d6)"></i><i style="background:linear-gradient(90deg,#b2bad9,#bbc2dc,#c5cade,#cfd2dd,#d9d9dc,#dbd7d7,#dad0d0,#dacbcb,#d9caca,#dacdcd,#dbd3d3,#dbdcdc,#d0d3dd,#c4c9de,#b8bfdb,#adb7d8,#a7b1d6,#a4afd5,#a5b0d6,#a9b4d7,#b1b9d9,#bac1dc,#c4c9de,#ced1dd,#d8d9dc,#dbd8d8,#dad0d0,#dacccc,#d9caca,#dacccc,#dbd2d2,#dcdbdb,#d1d4dd,#c5cade,#b9c0dc,#aeb8d9,#a7b2d6,#a4afd5,#a5b0d5,#a9b3d7,#b0b9d9,#b9c0dc,#c3c8de,#cdd0dd,#d6d8dc,#dcd9d9)"></i><i style="background:linear-gradient(90deg,#b4bcda,#bcc3dd,#c5cade,#ced1dd,#d7d8dc,#dcd9d9,#dbd3d3,#dacfcf,#dacece,#dad0d0,#dbd6d6,#d9dadc,#cfd2dd,#c4c9de,#b9c0dc,#b0b9d9,#aab4d7,#a7b2d6,#a8b3d7,#acb6d8,#b3bbda,#bbc2dc,#c4c9de,#cdd1dd,#d6d8dc,#dcdada,#dbd3d3,#dacfcf,#dacece,#dad0d0,#dbd5d5,#dadbdc,#d0d3dd,#c5cade,#bac2dc,#b1bad9,#aab4d7,#a7b2d6,#a8b2d6,#abb5d8,#b2bada,#bac1dc,#c3c9de,#ccd0dd,#d5d7dc,#dcdbdb)"></i><i style="background:linear-gradient(90deg,#b5bddb,#bdc4dd,#c6cade,#ced1dd,#d6d7dc,#dcdbdb,#dbd5d5,#dbd2d2,#dad1d1,#dbd4d4,#dcd9d9,#d7d8dc,#ced1dd,#c4c9de,#bbc2dc,#b2bbda,#adb6d8,#aab4d7,#abb5d7,#afb8d9,#b5bdda,#bcc3dd,#c5cade,#cdd0dd,#d5d7dc,#dcdcdc,#dbd6d6,#dbd2d2,#dad1d1,#dbd3d3,#dbd8d8,#d8d9dc,#cfd2dd,#c5cade,#bcc3dd,#b3bcda,#adb7d8,#aab4d7,#abb5d7,#aeb7d8,#b4bcda,#bbc2dd,#c4c9de,#cccfdd,#d4d6dd,#dcdcdc)"></i><i style="background:linear-gradient(90deg,#b7bfdb,#bec5dd,#c6cbde,#cdd1dd,#d5d6dd,#dbdbdc,#dbd8d8,#dbd5d5,#dbd4d4,#dbd7d7,#dcdbdb,#d6d7dc,#cdd0dd,#c4cade,#bcc3dd,#b4bcda,#afb8d9,#adb7d8,#aeb7d8,#b1bad9,#b6bedb,#bdc4dd,#c5cade,#ccd0dd,#d4d6dd,#dbdbdc,#dbd8d8,#dbd5d5,#dbd4d4,#dbd6d6,#dcdbdb,#d7d8dc,#ced1dd,#c5cade,#bdc3dd,#b5bddb,#b0b9d9,#adb7d8,#adb7d8,#b0b9d9,#b6bddb,#bcc3dd,#c4c9de,#cccfdd,#d3d5dd,#dadadc)"></i></div><div class="hm" style="left:78px;top:99px;width:488px;height:72px"><i style="background:linear-gradient(90deg,#bbc2dd,#b6bddb,#afb8d9,#a9b3d7,#a4afd5,#a0acd4,#9eaad3,#9daad3,#9fabd4,#a3aed5,#a8b3d7,#afb8d9,#b5bddb,#bcc3dd,#c1c7de,#c4c9de,#c6cbde,#c6cade,#c3c9de,#c0c6de,#bbc2dc,#b5bdda,#aeb8d8,#a8b3d7,#a3afd5,#9facd4,#9daad3,#9daad3,#a0acd4,#a4afd5,#a9b3d7,#b0b9d9,#b6bedb,#bdc3dd,#c2c7de,#c5cade,#c6cbde,#c5cade,#c3c8de,#bfc5de,#bac1dc,#b4bcda,#adb7d8,#a7b2d6,#a2aed5,#9fabd4,#9daad3,#9eaad3,#a0acd4,#a4b0d5,#aab4d7,#b1bad9,#b8bfdb,#bec4dd,#c2c8de,#c5cade,#c6cbde,#c5cade,#c2c8de,#bec5dd,#b9c0dc,#b2bbda,#acb6d8,#a7b1d6,#a2add5,#9fabd3,#9daad3,#9eaad3,#a1acd4,#a5b0d6,#abb5d7,#b2bada,#b9c0dc,#bfc5de,#c3c8de,#c5cade,#c6cbde,#c5cade,#c2c8de,#bdc4dd,#b8bfdb,#b1bad9,#abb5d8,#a6b1d6,#a1add4,#9eaad3,#9daad3,#9eaad3,#a1add4,#a6b1d6,#acb6d8,#b3bbda,#bac1dc,#bfc6de,#c3c9de,#c6cade,#c6cbde,#c4c9de,#c1c7de,#bdc3dd,#b7bedb,#b0b9d9,#aab4d7,#a5b0d6,#a1add4,#9eaad3,#9daad3,#9eabd3,#a2aed5,#a7b2d6,#adb7d8,#b4bcda,#bbc2dc,#c0c6de,#c4c9de,#c6cade,#c6cbde,#c4c9de,#c1c7de,#bcc3dd,#b6bedb,#afb9d9,#a9b4d7,#a4afd5,#a0acd4,#9eaad3,#9daad3,#9fabd4,#a3aed5,#a8b2d6,#aeb8d8,#b5bddb,#bcc2dd,#c1c7de,#c4c9de,#c6cbde,#c6cade,#c4c9de,#c0c6de,#bbc2dc,#b5bdda,#aeb8d9,#a9b3d7,#a3afd5,#a0acd4,#9daad3,#9daad3,#9fabd4,#a3afd5,#a9b3d7,#afb8d9,#b6bedb,#bdc3dd,#c2c7de,#c5cade,#c6cbde,#c5cade,#c3c8de,#bfc5de,#bac1dc,#b4bcda,#aeb7d8,#a8b2d6,#a3aed5)"></i><i style="background:linear-gradient(90deg,#bdc3dd,#b6bedb,#afb8d9,#a8b3d7,#a3aed5,#9eaad3,#9ba8d2,#9ba8d2,#9da9d3,#a1add4,#a7b2d6,#aeb7d8,#b6bedb,#bdc4dd,#c3c8de,#c6cbde,#c8ccdd,#c8ccdd,#c5cade,#c2c7de,#bcc3dd,#b5bddb,#aeb7d8,#a7b2d6,#a2add5,#9daad3,#9ba8d2,#9ba8d2,#9daad3,#a2add5,#a8b2d6,#afb8d9,#b7bfdb,#bec4dd,#c3c9de,#c7cbde,#c8ccdd,#c8ccdd,#c5cade,#c1c7de,#bbc2dc,#b4bcda,#adb7d8,#a6b1d6,#a1add4,#9da9d3,#9ba8d2,#9ba8d2,#9eaad3,#a3aed5,#a9b3d7,#b1b9d9,#b8c0dc,#bfc5de,#c4c9de,#c7ccdd,#c8ccdd,#c7ccdd,#c4c9de,#c0c6de,#bac1dc,#b3bbda,#acb6d8,#a6b0d6,#a0acd4,#9ca9d3,#9ba8d2,#9ba8d2,#9eabd3,#a4afd5,#aab4d7,#b2bada,#b9c1dc,#c0c6de,#c5cade,#c8ccdd,#c8ccdd,#c7cbde,#c4c9de,#bfc5de,#b9c0dc,#b2bada,#abb5d7,#a5b0d5,#a0acd4,#9ca9d3,#9ba8d2,#9ca8d2,#9fabd4,#a5b0d5,#abb5d8,#b3bbda,#bbc2dc,#c1c7de,#c5cade,#c8ccdd,#c8ccdd,#c7cbde,#c3c8de,#bec4dd,#b8bfdb,#b1b9d9,#aab4d7,#a4afd5,#9fabd4,#9ca8d2,#9ba8d2,#9ca9d3,#a0acd4,#a6b1d6,#adb6d8,#b4bcda,#bcc2dd,#c2c7de,#c6cbde,#c8ccdd,#c8ccdd,#c6cbde,#c2c8de,#bdc4dd,#b6bedb,#b0b9d9,#a9b3d7,#a3aed5,#9eaad3,#9ba8d2,#9ba8d2,#9da9d3,#a1add4,#a7b1d6,#aeb7d8,#b5bddb,#bdc3dd,#c3c8de,#c6cbde,#c8ccdd,#c8ccdd,#c6cade,#c2c7de,#bcc3dd,#b5bddb,#aeb8d8,#a8b2d6,#a2aed5,#9eaad3,#9ba8d2,#9ba8d2,#9daad3,#a2add4,#a8b2d6,#afb8d9,#b7bedb,#bec4dd,#c3c9de,#c7cbde,#c8ccdd,#c8ccdd,#c5cade,#c1c7de,#bbc2dc,#b4bcda,#adb7d8,#a7b2d6,#a1add4)"></i><i style="background:linear-gradient(90deg,#bec5dd,#b7bfdb,#afb8d9,#a8b2d6,#a1add4,#9ca9d3,#99a6d1,#98a5d1,#9aa7d2,#9fabd4,#a6b0d6,#aeb7d8,#b6bedb,#bec5dd,#c5cade,#c9cddd,#cbcedd,#cacedd,#c8ccdd,#c3c9de,#bdc4dd,#b6bedb,#aeb7d8,#a7b1d6,#a0acd4,#9ba8d2,#99a6d1,#98a6d1,#9ba8d2,#a0acd4,#a7b1d6,#afb8d9,#b8bfdb,#c0c6de,#c5cade,#c9cddd,#cbcedd,#cacedd,#c7ccdd,#c2c8de,#bcc3dd,#b5bdda,#adb6d8,#a6b0d6,#9fabd4,#9ba8d2,#98a6d1,#99a6d1,#9ba8d2,#a1add4,#a8b2d6,#b0b9d9,#b9c0dc,#c1c7de,#c6cbde,#cacedd,#cbcfdd,#cacedd,#c7cbde,#c2c7de,#bbc2dc,#b3bcda,#acb5d8,#a4b0d5,#9eabd3,#9aa7d2,#98a5d1,#99a6d1,#9ca9d3,#a2add5,#a9b3d7,#b2bada,#bac1dc,#c2c7de,#c7cbde,#cacedd,#cbcfdd,#c9cddd,#c6cbde,#c1c7de,#bac1dc,#b2bbda,#aab4d7,#a3afd5,#9eaad3,#9aa7d2,#98a5d1,#99a6d2,#9da9d3,#a3aed5,#abb5d7,#b3bbda,#bcc2dd,#c3c8de,#c7ccdd,#cacedd,#cbcedd,#c9cddd,#c5cade,#c0c6de,#b9c0dc,#b1bad9,#a9b3d7,#a2aed5,#9da9d3,#99a6d2,#98a5d1,#9aa7d2,#9eaad3,#a4afd5,#acb6d8,#b4bdda,#bdc3dd,#c4c9de,#c8ccdd,#cbcedd,#cbcedd,#c8cddd,#c4c9de,#bfc5de,#b7bfdb,#b0b9d9,#a8b3d7,#a1add4,#9ca9d3,#99a6d1,#98a5d1,#9aa7d2,#9fabd3,#a5b0d6,#adb7d8,#b6bedb,#bec4dd,#c4c9de,#c9cddd,#cbcedd,#cacedd,#c8ccdd,#c4c9de,#bec4dd,#b6bedb,#aeb8d8,#a7b2d6,#a1acd4,#9ca8d2,#99a6d1,#98a5d1,#9ba7d2,#a0acd4,#a6b1d6,#afb8d9,#b7bfdb,#bfc5de,#c5cade,#c9cddd,#cbcedd,#cacedd,#c7ccdd,#c3c8de,#bcc3dd,#b5bddb,#adb7d8,#a6b1d6,#a0acd4)"></i><i style="background:linear-gradient(90deg,#c0c6de,#b8bfdb,#afb8d9,#a7b2d6,#a0acd4,#9aa7d2,#96a4d0,#95a3d0,#97a5d1,#9da9d3,#a4afd5,#adb7d8,#b7bedb,#c0c6de,#c7cbde,#cbcfdd,#ced1dd,#cdd0dd,#cacedd,#c5cade,#bfc5de,#b6bedb,#aeb7d8,#a6b1d6,#9fabd3,#99a6d1,#96a3d0,#95a3d0,#98a5d1,#9eaad3,#a5b0d6,#afb8d9,#b8c0dc,#c1c7de,#c8ccdd,#cccfdd,#ced1dd,#cdd0dd,#cacedd,#c4c9de,#bec4dd,#b5bddb,#adb6d8,#a5b0d5,#9eaad3,#98a6d1,#96a3d0,#96a3d0,#99a6d1,#9fabd4,#a7b1d6,#b0b9d9,#bac1dc,#c2c8de,#c8cddd,#ccd0dd,#ced1dd,#ccd0dd,#c9cddd,#c3c9de,#bcc3dd,#b4bcda,#abb5d8,#a3afd5,#9da9d3,#98a5d1,#95a3d0,#96a3d0,#99a6d2,#a0acd4,#a8b3d7,#b2bada,#bbc2dd,#c3c9de,#c9cddd,#cdd0dd,#ced1dd,#cccfdd,#c8ccdd,#c2c8de,#bbc2dc,#b2bbda,#aab4d7,#a2aed5,#9ca8d2,#97a5d1,#95a3d0,#96a4d0,#9aa7d2,#a1add4,#aab4d7,#b3bcda,#bdc3dd,#c4cade,#cacedd,#cdd0dd,#ced1dd,#cccfdd,#c7ccdd,#c1c7de,#bac1dc,#b1bad9,#a9b3d7,#a1add4,#9ba8d2,#97a4d1,#95a3d0,#97a4d1,#9ba8d2,#a2aed5,#abb5d7,#b5bdda,#bec4dd,#c5cade,#cbcedd,#cdd0dd,#cdd1dd,#cbcfdd,#c6cbde,#c0c6de,#b8c0dc,#b0b9d9,#a7b2d6,#a0acd4,#9aa7d2,#96a4d0,#95a3d0,#97a5d1,#9ca9d3,#a4afd5,#adb6d8,#b6bedb,#c0c6de,#c6cbde,#cbcfdd,#ced1dd,#cdd0dd,#cacedd,#c6cade,#bfc5de,#b7bfdb,#aeb8d8,#a6b1d6,#9fabd4,#99a6d2,#96a3d0,#95a3d0,#98a5d1,#9daad3,#a5b0d6,#aeb7d8,#b8bfdb,#c1c7de,#c7ccdd,#cccfdd,#ced1dd,#cdd0dd,#cacedd,#c5cade,#bec4dd,#b6bddb,#adb7d8,#a5b0d6,#9eaad3)"></i><i style="background:linear-gradient(90deg,#c2c7de,#b9c0dc,#afb9d9,#a6b1d6,#9eaad3,#97a5d1,#93a1cf,#92a0cf,#94a2d0,#9aa7d2,#a2aed5,#acb6d8,#b7bfdb,#c1c7de,#c9cddd,#ced1dd,#d1d3dd,#d0d3dd,#cdd0dd,#c8ccdd,#c0c6de,#b7bfdb,#aeb7d8,#a5b0d6,#9da9d3,#97a4d1,#93a1cf,#92a0cf,#95a3d0,#9ba8d2,#a4afd5,#aeb7d8,#b9c0dc,#c3c8de,#cacedd,#cfd2dd,#d1d3dd,#d0d3dd,#ccd0dd,#c7cbde,#bfc5de,#b6bedb,#acb6d8,#a3afd5,#9ca8d2,#96a3d0,#93a1cf,#93a1cf,#96a3d0,#9ca9d3,#a5b0d6,#b0b9d9,#bbc2dc,#c4c9de,#cbcfdd,#cfd2dd,#d1d3dd,#d0d2dd,#cbcfdd,#c5cade,#bec4dd,#b4bdda,#abb5d7,#a2aed5,#9ba7d2,#95a3d0,#92a0cf,#93a1cf,#97a4d1,#9eaad3,#a7b2d6,#b2bad9,#bcc3dd,#c5cade,#cccfdd,#d0d2dd,#d1d3dd,#cfd2dd,#cbcedd,#c4c9de,#bcc3dd,#b3bbda,#a9b4d7,#a1add4,#9aa7d2,#94a2d0,#92a0cf,#93a1cf,#98a5d1,#9fabd4,#a9b3d7,#b3bcda,#bec4dd,#c7cbde,#cdd0dd,#d0d3dd,#d1d3dd,#ced1dd,#cacedd,#c3c8de,#bbc2dc,#b1bad9,#a8b3d7,#a0acd4,#99a6d1,#94a2d0,#92a0cf,#94a2d0,#99a6d1,#a0acd4,#aab4d7,#b5bddb,#c0c6de,#c8ccdd,#cdd1dd,#d1d3dd,#d1d3dd,#ced1dd,#c9cddd,#c2c8de,#b9c1dc,#b0b9d9,#a7b1d6,#9eabd3,#98a5d1,#93a1cf,#92a0cf,#94a2d0,#9aa7d2,#a2add5,#acb6d8,#b7bedb,#c1c7de,#c9cddd,#ced1dd,#d1d3dd,#d0d3dd,#cdd0dd,#c8ccdd,#c1c7de,#b8bfdb,#aeb8d8,#a5b0d6,#9daad3,#97a4d1,#93a1cf,#92a0cf,#95a3d0,#9ba8d2,#a3afd5,#aeb7d8,#b8c0dc,#c2c8de,#cacedd,#cfd2dd,#d1d3dd,#d0d3dd,#ccd0dd,#c7cbde,#c0c6de,#b6bedb,#adb6d8,#a4afd5,#9ca9d3)"></i><i style="background:linear-gradient(90deg,#c3c9de,#bac1dc,#b0b9d9,#a5b0d6,#9ca9d3,#95a3d0,#909fce,#8f9dce,#919fcf,#97a4d1,#a0acd4,#acb5d8,#b8bfdb,#c3c8de,#cccfdd,#d2d4dd,#d4d6dd,#d4d5dd,#d0d3dd,#cacedd,#c2c8de,#b8c0dc,#aeb7d8,#a4afd5,#9ba8d2,#94a2d0,#909ece,#8f9dce,#92a0cf,#98a5d1,#a2aed5,#aeb7d8,#bac1dc,#c5cade,#cdd0dd,#d2d4dd,#d4d6dd,#d3d5dd,#cfd2dd,#c9cddd,#c1c7de,#b7bedb,#acb6d8,#a2aed5,#9aa7d2,#93a1cf,#8f9ece,#8f9ece,#93a1cf,#9aa7d2,#a4afd5,#afb9d9,#bcc3dd,#c6cbde,#ced1dd,#d3d5dd,#d5d6dd,#d3d5dd,#ced1dd,#c8ccdd,#bfc5de,#b5bddb,#abb5d7,#a1add4,#98a6d1,#92a0cf,#8f9ece,#8f9ece,#93a1cf,#9ba8d2,#a5b0d6,#b1bad9,#bec4dd,#c8ccdd,#cfd2dd,#d3d5dd,#d4d6dd,#d2d4dd,#cdd1dd,#c6cbde,#bec4dd,#b3bcda,#a9b3d7,#9facd4,#97a5d1,#92a0cf,#8f9dce,#909ece,#94a2d0,#9da9d3,#a7b2d6,#b3bcda,#bfc6de,#c9cddd,#d0d2dd,#d4d6dd,#d4d6dd,#d2d4dd,#ccd0dd,#c5cade,#bcc3dd,#b2bada,#a7b2d6,#9eaad3,#96a4d0,#919fcf,#8f9dce,#909fce,#96a3d0,#9eaad3,#a9b3d7,#b5bddb,#c1c7de,#cacedd,#d1d3dd,#d4d6dd,#d4d6dd,#d1d3dd,#cbcfdd,#c4c9de,#bac1dc,#b0b9d9,#a6b1d6,#9da9d3,#95a3d0,#909fce,#8f9dce,#919fce,#97a4d1,#a0acd4,#abb5d7,#b7bfdb,#c3c8de,#cbcfdd,#d1d4dd,#d4d6dd,#d4d6dd,#d0d3dd,#cacedd,#c2c8de,#b9c0dc,#aeb8d8,#a4b0d5,#9ba8d2,#94a2d0,#909ece,#8f9dce,#92a0cf,#98a5d1,#a2add4,#adb7d8,#b9c1dc,#c4c9de,#cdd0dd,#d2d4dd,#d4d6dd,#d3d5dd,#cfd2dd,#c9cddd,#c1c7de,#b7bfdb,#adb6d8,#a3aed5,#9aa7d2)"></i><i style="background:linear-gradient(90deg,#c5cade,#bbc2dd,#b0b9d9,#a5b0d5,#9aa7d2,#92a0cf,#8d9ccd,#8b9acc,#8d9ccd,#94a2d0,#9eaad3,#abb5d7,#b9c0dc,#c5cade,#cfd2dd,#d5d7dc,#d8d9dc,#d8d8dc,#d3d5dd,#cdd0dd,#c4c9de,#b9c1dc,#aeb7d8,#a3aed5,#99a6d1,#919fcf,#8c9bcd,#8b9acc,#8e9dcd,#95a3d0,#a0acd4,#adb6d8,#bbc2dc,#c7cbde,#d0d3dd,#d6d7dc,#d8d9dc,#d7d8dc,#d3d5dd,#cbcfdd,#c2c8de,#b8bfdb,#acb6d8,#a1add4,#98a5d1,#909fce,#8c9bcd,#8b9acc,#8f9ece,#97a4d1,#a2aed5,#afb8d9,#bdc3dd,#c8cddd,#d1d3dd,#d7d8dc,#d8d9dc,#d7d8dc,#d2d4dd,#cacedd,#c1c7de,#b6bedb,#aab4d7,#a0acd4,#96a4d0,#8f9ece,#8b9bcd,#8c9bcd,#909ece,#98a5d1,#a4afd5,#b1bad9,#bfc5de,#cacedd,#d2d4dd,#d7d8dc,#d8d9dc,#d6d7dc,#d0d3dd,#c9cddd,#bfc5de,#b4bcda,#a9b3d7,#9eaad3,#95a3d0,#8e9dce,#8b9acc,#8c9bcd,#919fcf,#9aa7d2,#a6b1d6,#b4bcda,#c1c7de,#cbcfdd,#d3d5dd,#d8d9dc,#d8d9dc,#d5d7dc,#cfd2dd,#c7ccdd,#bec4dd,#b2bbda,#a7b2d6,#9ca9d3,#94a2d0,#8e9ccd,#8b9acc,#8c9bcd,#92a0cf,#9ca8d2,#a8b3d7,#b6bedb,#c3c8de,#cdd0dd,#d4d6dd,#d8d9dc,#d8d9dc,#d5d6dd,#ced1dd,#c6cbde,#bcc3dd,#b0b9d9,#a5b0d6,#9ba8d2,#93a1cf,#8d9ccd,#8b9acc,#8d9ccd,#93a1cf,#9eaad3,#aab4d7,#b8bfdb,#c5cade,#ced1dd,#d5d7dc,#d8d9dc,#d8d9dc,#d4d5dd,#cdd0dd,#c4c9de,#bac1dc,#aeb8d9,#a3afd5,#99a6d2,#91a0cf,#8c9bcd,#8b9acc,#8e9dcd,#95a3d0,#a0acd4,#acb6d8,#bac1dc,#c6cbde,#d0d2dd,#d6d7dc,#d8d9dc,#d7d8dc,#d3d5dd,#cccfdd,#c3c8de,#b8c0dc,#adb6d8,#a2add5,#98a5d1)"></i><i style="background:linear-gradient(90deg,#c8ccdd,#bdc3dd,#b0b9d9,#a4afd5,#99a6d1,#8f9ece,#8999cc,#8797cb,#8999cc,#909fce,#9ca8d2,#aab4d7,#b9c1dc,#c7ccdd,#d2d4dd,#d9dadc,#dcdbdb,#dcdcdc,#d7d8dc,#d0d2dd,#c6cbde,#bbc2dc,#aeb7d8,#a2aed5,#97a4d1,#8e9dce,#8998cb,#8797cb,#8a99cc,#92a0cf,#9eaad3,#acb6d8,#bcc3dd,#c9cddd,#d3d5dd,#dadbdc,#dcdbdb,#dbdbdc,#d6d7dc,#ced1dd,#c4c9de,#b9c0dc,#acb6d8,#a0acd4,#95a3d0,#8d9ccd,#8898cb,#8797cb,#8b9acc,#93a1cf,#a0acd4,#afb8d9,#bec5dd,#cbcfdd,#d5d6dd,#dbdbdc,#dcdbdb,#dbdbdc,#d5d6dd,#cdd0dd,#c3c8de,#b7bedb,#aab4d7,#9eabd3,#94a2d0,#8c9bcd,#8897cb,#8797cb,#8c9bcd,#95a3d0,#a2aed5,#b1bad9,#c1c6de,#cdd0dd,#d6d7dc,#dcdcdc,#dcdbdb,#dadadc,#d4d6dd,#cbcfdd,#c1c7de,#b5bdda,#a8b3d7,#9ca9d3,#92a0cf,#8b9acc,#8797cb,#8897cb,#8d9ccd,#97a4d1,#a4b0d5,#b4bcda,#c3c8de,#ced1dd,#d7d8dc,#dcdcdc,#dcdbdb,#d9dadc,#d3d5dd,#cacedd,#bfc5de,#b3bbda,#a6b1d6,#9ba8d2,#919fcf,#8a99cc,#8797cb,#8898cb,#8e9dce,#99a6d1,#a7b1d6,#b6bedb,#c5cade,#d0d3dd,#d8d9dc,#dcdcdc,#dcdcdc,#d8d9dc,#d1d4dd,#c8ccdd,#bdc4dd,#b1b9d9,#a4afd5,#99a6d1,#909ece,#8999cc,#8797cb,#8999cc,#909ece,#9ba8d2,#a9b3d7,#b9c0dc,#c7cbde,#d2d4dd,#d9dadc,#dcdbdb,#dcdcdc,#d7d8dc,#d0d2dd,#c6cbde,#bbc2dc,#afb8d9,#a2aed5,#97a5d1,#8e9dce,#8998cc,#8797cb,#8a99cc,#91a0cf,#9daad3,#acb5d8,#bbc2dc,#c9cddd,#d3d5dd,#dadadc,#dcdbdb,#dbdcdc,#d6d8dc,#cfd1dd,#c5cade,#b9c0dc,#adb6d8,#a1add4,#96a3d0)"></i><i style="background:linear-gradient(90deg,#cacedd,#bec4dd,#b0b9d9,#a3aed5,#97a4d1,#8c9bcd,#8595ca,#8393c9,#8595ca,#8c9bcd,#99a6d1,#a9b3d7,#bac1dc,#c9cddd,#d6d7dc,#dcdada,#dbd6d6,#dbd8d8,#dbdbdc,#d3d5dd,#c8ccdd,#bcc3dd,#aeb7d8,#a1add4,#95a2d0,#8b9acc,#8595ca,#8393c9,#8696ca,#8e9dcd,#9ba8d2,#abb5d8,#bdc3dd,#cccfdd,#d7d8dc,#dcd9d9,#dbd6d6,#dbd8d8,#dadadc,#d1d3dd,#c6cbde,#bac1dc,#acb6d8,#9fabd4,#93a1cf,#8a99cc,#8494ca,#8393c9,#8796cb,#909ece,#9eaad3,#aeb8d8,#c0c6de,#ced1dd,#d9dadc,#dbd8d8,#dbd6d6,#dcd9d9,#d9d9dc,#cfd2dd,#c4c9de,#b7bfdb,#aab4d7,#9da9d3,#91a0cf,#8898cb,#8394ca,#8393c9,#8897cb,#92a0cf,#a0acd4,#b1bad9,#c2c8de,#d0d2dd,#dadbdc,#dbd8d8,#dbd6d6,#dcdada,#d7d8dc,#ced1dd,#c3c8de,#b5bddb,#a8b2d6,#9ba8d2,#909ece,#8797cb,#8393c9,#8394ca,#8998cc,#94a2d0,#a3aed5,#b4bcda,#c4c9de,#d2d4dd,#dcdcdc,#dbd7d7,#dbd7d7,#dcdbdb,#d6d7dc,#ccd0dd,#c1c7de,#b3bbda,#a6b1d6,#99a6d1,#8e9dce,#8696cb,#8393c9,#8494ca,#8a9acc,#96a3d0,#a5b0d6,#b7bedb,#c7cbde,#d4d5dd,#dcdbdb,#dbd7d7,#dbd7d7,#dcdcdc,#d5d6dd,#cacedd,#bfc5de,#b1bad9,#a3afd5,#97a4d1,#8d9ccd,#8696ca,#8393c9,#8595ca,#8c9bcd,#98a5d1,#a8b2d6,#b9c1dc,#c9cddd,#d5d7dc,#dcdada,#dbd7d7,#dbd7d7,#dbdcdc,#d3d5dd,#c9cddd,#bcc3dd,#afb8d9,#a1add4,#95a3d0,#8b9acc,#8595ca,#8393c9,#8595ca,#8e9ccd,#9ba7d2,#abb5d7,#bcc3dd,#cbcfdd,#d7d8dc,#dcd9d9,#dbd6d6,#dbd8d8,#dadbdc,#d2d4dd,#c7cbde,#bac1dc,#adb6d8,#9facd4,#94a1cf)"></i><i style="background:linear-gradient(90deg,#ccd0dd,#c0c6de,#b1b9d9,#a2aed5,#94a2d0,#8999cc,#8192c9,#7e8fc8,#8091c8,#8898cb,#96a3d0,#a7b2d6,#bbc2dc,#ccd0dd,#dadadc,#dbd5d5,#dad1d1,#dbd3d3,#dcd9d9,#d6d7dc,#cacedd,#bdc4dd,#aeb8d8,#a0acd4,#92a1cf,#8897cb,#8091c8,#7e8fc7,#8191c9,#8a99cc,#98a5d1,#aab5d7,#bec4dd,#cfd1dd,#dcdcdc,#dbd4d4,#dad1d1,#dbd3d3,#dcdada,#d4d6dd,#c8cddd,#bbc2dc,#acb6d8,#9eaad3,#919fce,#8696cb,#8090c8,#7e8fc8,#8292c9,#8c9bcd,#9ba8d2,#aeb7d8,#c1c7de,#d1d3dd,#dcdbdb,#dbd3d3,#dad1d1,#dbd4d4,#dcdbdb,#d3d5dd,#c6cbde,#b8c0dc,#aab4d7,#9ba8d2,#8f9dce,#8595ca,#7f90c8,#7e8fc8,#8393c9,#8e9dcd,#9eaad3,#b1bad9,#c4c9de,#d3d5dd,#dcd9d9,#dbd2d2,#dad1d1,#dbd5d5,#dbdbdc,#d1d3dd,#c4c9de,#b6bedb,#a7b2d6,#99a6d2,#8d9ccd,#8494ca,#7e8fc8,#7e8fc8,#8494ca,#909ece,#a1add4,#b4bcda,#c6cbde,#d5d7dc,#dbd8d8,#dbd2d2,#dad1d1,#dbd6d6,#dadadc,#cfd2dd,#c2c8de,#b4bcda,#a5b0d6,#97a4d1,#8b9acc,#8293c9,#7e8fc8,#7f90c8,#8696ca,#92a0cf,#a4afd5,#b7bfdb,#c9cddd,#d7d8dc,#dbd6d6,#dad1d1,#dbd2d2,#dbd7d7,#d8d9dc,#cdd0dd,#c0c6de,#b1bad9,#a3aed5,#95a3d0,#8a99cc,#8192c9,#7e8fc8,#8091c8,#8797cb,#95a3d0,#a7b1d6,#bac1dc,#cbcfdd,#d9dadc,#dbd5d5,#dad1d1,#dbd2d2,#dbd8d8,#d6d8dc,#cbcfdd,#bec4dd,#afb8d9,#a0acd4,#93a1cf,#8898cb,#8191c9,#7e8fc7,#8091c9,#8999cc,#98a5d1,#aab4d7,#bdc4dd,#ced1dd,#dbdbdc,#dbd4d4,#dad1d1,#dbd3d3,#dcdada,#d5d6dd,#c9cddd,#bbc2dd,#adb6d8,#9eaad3,#919fcf)"></i><i style="background:linear-gradient(90deg,#cfd2dd,#c1c7de,#b1bad9,#a1add4,#92a0cf,#8696ca,#7d8ec7,#788bc5,#7a8cc6,#8393c9,#92a0cf,#a6b1d6,#bcc3dd,#cfd2dd,#dcdada,#dacfcf,#dacbcb,#dacdcd,#dbd4d4,#dadadc,#cdd0dd,#bfc5de,#aeb8d9,#9fabd4,#909fce,#8494ca,#7c8dc7,#788ac5,#7b8dc7,#8595ca,#95a3d0,#a9b4d7,#bfc6de,#d2d4dd,#dbd7d7,#dacece,#dacbcb,#dacece,#dbd5d5,#d8d9dc,#cbcedd,#bcc3dd,#acb6d8,#9ca9d3,#8e9dcd,#8293c9,#7b8dc6,#788ac5,#7c8ec7,#8797cb,#98a5d1,#adb6d8,#c3c8de,#d4d6dd,#dbd6d6,#dacdcd,#dacbcb,#dacfcf,#dbd7d7,#d6d7dc,#c8cddd,#b9c1dc,#a9b4d7,#9aa7d2,#8c9bcd,#8192c9,#7a8cc6,#788bc6,#7e8fc7,#8999cc,#9ba8d2,#b0b9d9,#c6cade,#d7d8dc,#dbd4d4,#dacdcd,#dacbcb,#dad0d0,#dcd9d9,#d4d5dd,#c6cbde,#b7bfdb,#a7b2d6,#97a5d1,#8a99cc,#8090c8,#798bc6,#798bc6,#7f90c8,#8c9bcd,#9eabd3,#b4bcda,#c9cddd,#d9dadc,#dbd2d2,#dacccc,#dacccc,#dad1d1,#dcdada,#d2d4dd,#c4c9de,#b4bcda,#a4b0d5,#95a3d0,#8898cb,#7e8fc8,#798bc6,#798bc6,#8191c9,#8f9dce,#a2add5,#b7bfdb,#cbcfdd,#dcdcdc,#dad1d1,#dacccc,#dacccc,#dbd2d2,#dcdcdc,#d0d2dd,#c2c7de,#b2bada,#a2aed5,#93a1cf,#8696cb,#7d8ec7,#788bc6,#7a8cc6,#8393c9,#91a0cf,#a5b0d6,#bbc2dc,#ced1dd,#dcdada,#dad0d0,#dacbcb,#dacdcd,#dbd4d4,#dadbdc,#cdd1dd,#bfc5de,#afb8d9,#9facd4,#919fce,#8595ca,#7c8ec7,#788bc5,#7b8dc6,#8495ca,#94a2d0,#a8b3d7,#bfc5de,#d1d3dd,#dbd8d8,#dacfcf,#dacbcb,#dacece,#dbd5d5,#d8d9dc,#cbcfdd,#bdc3dd,#adb6d8,#9da9d3,#8f9dce)"></i><i style="background:linear-gradient(90deg,#d2d4dd,#c3c8de,#b1bad9,#a0acd4,#909fce,#8293c9,#788ac5,#7286c3,#7487c4,#7e8fc7,#8e9dcd,#a4b0d5,#bdc4dd,#d2d4dd,#dbd4d4,#d9c9c9,#d9c5c5,#d9c7c7,#dacfcf,#dcdbdb,#cfd2dd,#c0c6de,#afb8d9,#9eaad3,#8e9dcd,#8091c9,#7789c5,#7286c3,#7588c4,#8091c8,#91a0cf,#a8b3d7,#c1c7de,#d5d7dc,#dbd2d2,#d9c8c8,#d9c5c5,#d9c8c8,#dad1d1,#dbdbdc,#cdd0dd,#bdc4dd,#acb6d8,#9ba8d2,#8b9bcd,#7f90c8,#7588c4,#7286c3,#7689c5,#8293c9,#95a2d0,#acb6d8,#c4c9de,#d8d9dc,#dad0d0,#d9c7c7,#d9c5c5,#d9c9c9,#dbd2d2,#d9dadc,#cbcedd,#bbc2dc,#a9b3d7,#98a6d1,#8999cc,#7d8ec7,#7488c4,#7286c3,#778ac5,#8595ca,#98a5d1,#b0b9d9,#c8ccdd,#dbdbdc,#dacece,#d9c6c6,#d9c5c5,#d9caca,#dbd4d4,#d7d8dc,#c8ccdd,#b8bfdb,#a6b1d6,#96a3d0,#8797cb,#7b8dc7,#7487c4,#7286c3,#798bc6,#8797cb,#9ca8d2,#b4bcda,#cbcfdd,#dcdada,#dacccc,#d9c5c5,#d9c6c6,#dacccc,#dbd6d6,#d5d6dd,#c6cbde,#b5bddb,#a4afd5,#93a1cf,#8595ca,#7a8cc6,#7386c4,#7386c4,#7b8dc6,#8a99cc,#a0acd4,#b8bfdb,#ced1dd,#dbd7d7,#dacbcb,#d9c5c5,#d9c6c6,#dacdcd,#dbd8d8,#d2d4dd,#c3c9de,#b2bbda,#a1add4,#919fce,#8393c9,#788bc5,#7386c3,#7487c4,#7d8ec7,#8d9ccd,#a3afd5,#bcc3dd,#d2d4dd,#dbd5d5,#d9c9c9,#d9c5c5,#d9c7c7,#dacfcf,#dcdada,#d0d3dd,#c1c7de,#afb9d9,#9eabd3,#8e9dce,#8192c9,#7789c5,#7286c3,#7588c4,#7f90c8,#909fce,#a7b2d6,#c0c6de,#d5d6dd,#dbd3d3,#d9c8c8,#d9c5c5,#d9c8c8,#dad0d0,#dcdcdc,#ced1dd,#bec5dd,#adb6d8,#9ca8d2,#8c9bcd)"></i><i style="background:linear-gradient(90deg,#d5d6dd,#c4c9de,#b2bbda,#9facd4,#8e9dcd,#7f90c8,#7386c3,#6c81c1,#6d82c1,#778ac5,#8a99cc,#a2aed5,#bec4dd,#d6d7dc,#dacfcf,#d8c2c2,#d8bcbc,#d8c1c1,#d9caca,#dbd7d7,#d2d4dd,#c2c7de,#afb8d9,#9da9d3,#8b9acc,#7d8ec7,#7185c3,#6c81c1,#6e83c2,#7a8cc6,#8d9ccd,#a7b1d6,#c2c8de,#d9dadc,#dacccc,#d8c1c1,#d8bcbc,#d8c2c2,#dacccc,#dcd9d9,#cfd2dd,#bfc5de,#acb6d8,#9aa7d2,#8998cc,#7a8cc6,#7084c2,#6c80c1,#6f83c2,#7c8ec7,#919fce,#abb5d7,#c6cbde,#dcdbdb,#d9caca,#d8c0c0,#d8bcbc,#d8c3c3,#dacdcd,#dcdbdb,#cdd0dd,#bcc3dd,#a9b3d7,#97a4d1,#8696cb,#788bc6,#6f83c2,#6c80c1,#7185c3,#7f90c8,#95a2d0,#afb9d9,#cacedd,#dbd8d8,#d9c8c8,#d8bebe,#d8bdbd,#d9c4c4,#dacfcf,#dadbdc,#cacedd,#b9c0dc,#a6b1d6,#94a2d0,#8494ca,#7689c5,#6e82c2,#6c81c1,#7286c3,#8293c9,#99a6d1,#b4bcda,#ced1dd,#dbd5d5,#d9c6c6,#d8bdbd,#d8bebe,#d9c6c6,#dbd2d2,#d8d9dc,#c8ccdd,#b6bedb,#a3afd5,#91a0cf,#8292c9,#7588c4,#6d82c1,#6c81c1,#7487c4,#8595ca,#9da9d3,#b8c0dc,#d1d4dd,#dbd2d2,#d9c4c4,#d8bcbc,#d8bfbf,#d9c7c7,#dbd4d4,#d5d7dc,#c5cade,#b3bbda,#a0acd4,#8f9dce,#7f90c8,#7386c4,#6c81c1,#6d82c1,#7789c5,#8998cb,#a1add4,#bdc3dd,#d5d7dc,#dacfcf,#d8c2c2,#d8bcbc,#d8c0c0,#d9c9c9,#dbd6d6,#d3d5dd,#c2c8de,#b0b9d9,#9daad3,#8c9bcd,#7d8ec7,#7285c3,#6c81c1,#6e82c2,#798bc6,#8c9bcd,#a5b0d6,#c1c7de,#d9d9dc,#dacdcd,#d8c1c1,#d8bcbc,#d8c1c1,#dacbcb,#dbd8d8,#d0d3dd,#c0c6de,#adb6d8,#9aa7d2,#8999cc)"></i><i style="background:linear-gradient(90deg,#d8d8dc,#c6cbde,#b2bbda,#9fabd4,#8c9bcd,#7b8dc6,#6d82c1,#667cbf,#667cbf,#7084c2,#8495ca,#a0acd4,#bfc5de,#dadbdc,#d9c8c8,#d8b5b6,#d8adad,#d8b4b5,#d9c4c4,#dbd3d3,#d5d6dd,#c3c8de,#afb8d9,#9ba8d2,#8998cc,#788bc6,#6c80c1,#657bbe,#677dbf,#7386c3,#8898cb,#a5b0d6,#c4c9de,#dcdada,#d9c5c5,#d8b3b3,#d8adae,#d8b7b7,#d9c6c6,#dbd5d5,#d2d4dd,#c0c6de,#acb6d8,#98a6d1,#8696cb,#7689c5,#6a7fc0,#657bbe,#687ebf,#7688c4,#8c9bcd,#aab4d7,#c8ccdd,#dbd6d6,#d8c3c3,#d8b1b1,#d8adae,#d8b9ba,#d9c8c8,#dbd8d8,#cfd2dd,#bdc4dd,#a9b3d7,#95a3d0,#8394ca,#7487c4,#697ec0,#657bbe,#697fc0,#798bc6,#919fce,#afb8d9,#cdd0dd,#dbd3d3,#d8c0c0,#d8afaf,#d8aeaf,#d8bcbc,#dacbcb,#dcdada,#ccd0dd,#bac1dc,#a6b1d6,#92a0cf,#8191c9,#7285c3,#677dbf,#657bbe,#6b80c1,#7c8ec7,#95a3d0,#b4bcda,#d1d3dd,#dacfcf,#d8bdbd,#d8aeae,#d8b0b0,#d8c0c0,#dacdcd,#dbdbdc,#cacddd,#b7bedb,#a3aed5,#8f9ece,#7e8fc8,#7084c2,#677cbf,#657bbe,#6d82c1,#8091c8,#9aa7d2,#b9c0dc,#d5d7dc,#dacccc,#d8b9b9,#d8adae,#d8b1b2,#d8c2c2,#dacfcf,#d8d9dc,#c7cbde,#b3bcda,#9facd4,#8c9bcd,#7c8dc7,#6e82c2,#667cbf,#667cbf,#6f84c2,#8394ca,#9fabd4,#bec4dd,#d9dadc,#d9c9c9,#d8b6b6,#d8adad,#d8b4b4,#d9c4c4,#dbd2d2,#d6d7dc,#c4c9de,#b0b9d9,#9ca9d3,#8a99cc,#798bc6,#6c81c1,#657bbe,#677cbf,#7286c3,#8797cb,#a4afd5,#c3c8de,#dcdbdb,#d9c6c6,#d8b3b4,#d8adad,#d8b6b6,#d9c6c6,#dbd4d4,#d3d5dd,#c1c7de,#adb6d8,#99a6d2,#8797cb)"></i><i style="background:linear-gradient(90deg,#dbdbdc,#c8ccdd,#b3bbda,#9eaad3,#8999cc,#778ac5,#687dbf,#5f76bc,#5e76bc,#687ec0,#7f90c8,#9eaad3,#c1c7de,#dcd9d9,#d8c1c1,#d8a5a6,#d89d9e,#d8a6a7,#d8bdbd,#dacece,#d8d8dc,#c5cade,#b0b9d9,#9aa7d2,#8696cb,#7487c4,#667cbf,#5e76bc,#5f76bc,#6b80c1,#8393c9,#a3aed5,#c6cade,#dbd5d5,#d8bcbc,#d8a2a3,#d89d9e,#d8a9aa,#d8c1c1,#dad1d1,#d5d6dd,#c1c7de,#acb6d8,#97a4d1,#8394ca,#7285c3,#647abe,#5d75bb,#6077bc,#6e83c2,#8897cb,#a9b3d7,#cbcedd,#dad1d1,#d8b6b7,#d8a0a1,#d89e9f,#d8acad,#d8c3c3,#dbd4d4,#d2d4dd,#bec5dd,#a9b3d7,#94a2d0,#8091c9,#6f83c2,#6279bd,#5d75bb,#6178bd,#7185c3,#8c9bcd,#aeb7d8,#d0d2dd,#dacccc,#d8b1b2,#d89e9f,#d89fa0,#d8afb0,#d9c6c6,#dbd7d7,#ced1dd,#bbc2dc,#a5b0d6,#919fce,#7e8fc7,#6d81c1,#6178bd,#5d75bb,#637abe,#7588c4,#91a0cf,#b4bcda,#d4d6dd,#d9c9c9,#d8adae,#d89d9e,#d8a1a2,#d8b3b4,#d9c8c8,#dcdada,#cbcfdd,#b7bfdb,#a2aed5,#8d9ccd,#7b8cc6,#6a80c0,#6077bc,#5d75bb,#657bbe,#798bc6,#97a4d1,#bac1dc,#d9dadc,#d9c5c5,#d8a9aa,#d89d9e,#d8a3a4,#d8b7b8,#dacbcb,#dbdbdc,#c8cddd,#b4bcda,#9fabd4,#8a9acc,#788ac5,#687ec0,#5f76bc,#5e75bc,#687dbf,#7d8fc7,#9ca9d3,#bfc5de,#dcdada,#d8c2c2,#d8a6a7,#d89c9e,#d8a5a6,#d8bcbc,#dacece,#d8d9dc,#c5cade,#b0b9d9,#9ba8d2,#8797cb,#7588c4,#667cbf,#5e76bc,#5f76bc,#6a7fc0,#8292c9,#a2add4,#c4c9de,#dbd6d6,#d8bdbd,#d8a3a4,#d89d9e,#d8a8a9,#d8c0c0,#dad0d0,#d5d7dc,#c2c8de,#adb7d8,#98a5d1,#8494ca)"></i><i style="background:linear-gradient(90deg,#dcdada,#c9cddd,#b3bcda,#9daad3,#8797cb,#7387c4,#6279bd,#5a73ba,#5972ba,#6077bc,#788bc6,#9ba8d2,#c3c8de,#dbd3d3,#d8b2b2,#d89395,#d88b8d,#d89799,#d8b1b2,#d9caca,#dadbdc,#c6cbde,#b0b9d9,#9aa6d2,#8494ca,#7084c2,#6077bc,#5a72ba,#5a72ba,#6379be,#7d8fc7,#a2add5,#c9cddd,#dacece,#d8abac,#d89092,#d88c8e,#d89b9c,#d8b6b7,#dacdcd,#d7d8dc,#c3c8de,#acb6d8,#96a3d0,#8192c9,#6d82c1,#5e76bc,#5972ba,#5a73ba,#667cbf,#8393c9,#a8b2d6,#ced1dd,#d9caca,#d8a5a6,#d88e90,#d88d8f,#d89e9f,#d8bbbc,#dad0d0,#d4d6dd,#bfc6de,#a9b3d7,#92a1cf,#7e8fc7,#6a80c0,#5c74bb,#5972ba,#5b73ba,#6a7fc0,#8898cb,#aeb8d8,#d4d5dd,#d9c5c5,#d8a0a1,#d88c8e,#d88f90,#d8a2a3,#d8c0c0,#dbd3d3,#d1d3dd,#bcc3dd,#a5b0d6,#8f9ece,#7a8cc6,#687dbf,#5b73bb,#5972ba,#5b74bb,#6e82c2,#8e9ccd,#b5bdda,#d9dadc,#d8c1c1,#d89b9d,#d88b8d,#d89192,#d8a6a7,#d8c3c3,#dbd6d6,#cdd0dd,#b8c0dc,#a2add4,#8c9bcd,#778ac5,#657bbe,#5b73ba,#5972ba,#5d75bb,#7286c3,#94a1cf,#bbc2dc,#dcdada,#d8bbbb,#d89799,#d88b8d,#d89395,#d8abac,#d9c6c6,#dcdada,#cacedd,#b4bdda,#9eaad3,#8898cb,#7487c4,#6379be,#5a73ba,#5972ba,#5f77bc,#778ac5,#9aa7d2,#c1c7de,#dbd5d5,#d8b3b4,#d89495,#d88b8d,#d89698,#d8b0b0,#d9c9c9,#dbdbdc,#c7cbde,#b1bad9,#9aa7d2,#8595ca,#7185c3,#6178bd,#5a72ba,#5a72ba,#6279bd,#7c8ec7,#a0acd4,#c7ccdd,#dad0d0,#d8adae,#d89193,#d88c8e,#d89a9b,#d8b5b5,#dacccc,#d8d9dc,#c4c9de,#adb7d8,#97a4d1,#8292c9)"></i><i style="background:linear-gradient(90deg,#dbd8d8,#cbcfdd,#b4bcda,#9ca9d3,#8595ca,#6f84c2,#5d75bb,#5770b9,#566fb8,#5a72ba,#7386c3,#9ca9d3,#c8cddd,#dacbcb,#d89fa0,#da7b7e,#db7276,#d88789,#d8a5a6,#d9c6c6,#dcdbdb,#c7ccdd,#b0b9d9,#99a6d1,#8292c9,#6c81c1,#5b73bb,#5770b9,#566fb8,#5b73bb,#798bc6,#a3afd5,#cfd1dd,#d9c6c6,#d8989a,#da777b,#da7377,#d88c8d,#d8abac,#d9c9c9,#dadadc,#c4c9de,#acb6d8,#95a3d0,#7e8fc8,#697ec0,#5a73ba,#566fb8,#5670b8,#5e76bc,#7f90c8,#aab5d7,#d5d6dd,#d8c1c1,#d89294,#da7478,#da7679,#d89092,#d8b1b1,#dacccc,#d6d7dc,#c1c6de,#a9b3d7,#919fcf,#7b8dc6,#667cbf,#5972ba,#566fb8,#5770b9,#6279bd,#8595ca,#b2bada,#dbdbdc,#d8b9b9,#d88c8e,#db7276,#da787c,#d89496,#d8b7b7,#dad0d0,#d3d5dd,#bdc3dd,#a5b0d6,#8d9ccd,#778ac5,#6379be,#5971b9,#566fb8,#5871b9,#677cbf,#8c9bcd,#b9c0dc,#dbd8d8,#d8b0b1,#d88689,#db7175,#da7c7f,#d8999b,#d8bdbd,#dbd3d3,#cfd2dd,#b9c0dc,#a1add4,#8a99cc,#7487c4,#6077bc,#5871b9,#566fb8,#5971b9,#6c81c1,#93a1cf,#c0c6de,#dbd2d2,#d8a8a9,#d98184,#db7175,#d98083,#d89ea0,#d8c2c2,#dbd7d7,#cccfdd,#b5bddb,#9daad3,#8696cb,#7084c3,#5d75bc,#5770b9,#566fb8,#5a72ba,#7185c3,#9aa7d2,#c7cbde,#dacdcd,#d8a1a2,#da7c7f,#db7275,#d98588,#d8a4a5,#d9c5c5,#dcdada,#c8cddd,#b1bad9,#9aa7d2,#8393c9,#6d82c1,#5c74bb,#5770b9,#566fb8,#5b73bb,#778ac5,#a1add4,#cdd0dd,#d9c7c7,#d89a9b,#da787b,#da7377,#d88a8c,#d8a9aa,#d9c8c8,#dbdbdc,#c5cade,#adb7d8,#96a3d0,#7f90c8)"></i><i style="background:linear-gradient(90deg,#dbd5d5,#ccd0dd,#b5bdda,#9ca8d2,#8494ca,#6c81c1,#5a72ba,#546eb7,#526cb6,#5770b9,#7386c4,#a6b1d6,#d6d7dc,#d8bbbb,#d88789,#dd5e63,#de575d,#db7175,#d89a9b,#d8c2c2,#dbd8d8,#c9cddd,#b1b9d9,#98a5d1,#8091c8,#687ec0,#5972ba,#536db7,#526cb7,#5971b9,#7b8dc6,#aeb8d9,#dcdcdc,#d8b2b2,#d97e81,#dd5a60,#dd595f,#da777b,#d8a0a1,#d9c5c5,#dcdcdc,#c5cade,#adb6d8,#94a2d0,#7c8ec7,#657bbe,#5871b9,#536db7,#536db7,#5a73ba,#8393c9,#b7bfdb,#dbd5d5,#d8a9a9,#da767a,#dd575d,#dd5c62,#d97e81,#d8a6a7,#d9c9c9,#d8d9dc,#c2c7de,#a9b3d7,#909ece,#788ac5,#6178bd,#5770b9,#526db7,#536db7,#5d75bc,#8b9acc,#bfc5de,#dacfcf,#d8a0a1,#db6f73,#de555c,#dd5f65,#d98587,#d8adae,#dacccc,#d5d6dd,#bec4dd,#a5b0d5,#8c9bcd,#7487c4,#5e76bc,#566fb8,#526cb6,#546eb7,#637abe,#93a1cf,#c6cbde,#d9caca,#d89899,#dc696d,#de555b,#dc6469,#d88c8e,#d8b4b4,#dad0d0,#d1d3dd,#bac1dc,#a1add4,#8898cb,#7084c3,#5c74bb,#556fb8,#526cb6,#556fb8,#6a7fc0,#9ba8d2,#cdd0dd,#d9c4c4,#d89092,#dc6368,#de555b,#dc696e,#d89294,#d8babb,#dbd4d4,#cdd1dd,#b6bedb,#9da9d3,#8595ca,#6d81c1,#5a73ba,#546eb7,#526cb6,#5770b9,#7185c3,#a4afd5,#d4d6dd,#d8bebe,#d8898b,#dd5f64,#de565d,#db6f73,#d89899,#d8c1c1,#dbd7d7,#cacedd,#b2bada,#99a6d1,#8192c9,#697fc0,#5972ba,#536db7,#526cb7,#5871b9,#798bc6,#acb6d8,#dbdbdc,#d8b4b5,#d98183,#dd5b61,#dd585e,#da7579,#d89e9f,#d9c4c4,#dcdbdb,#c6cbde,#aeb7d8,#95a3d0,#7d8ec7)"></i><i style="background:linear-gradient(90deg,#dbd2d2,#ced1dd,#b5bddb,#9ba8d2,#8292c9,#697ec0,#5871b9,#516bb6,#4f6ab5,#5770b9,#8393c9,#c2c7de,#d9c8c8,#d89294,#dd6065,#e04048,#e03e46,#dd5a60,#d88e90,#d8bbbc,#dbd6d6,#cacedd,#b1bad9,#97a5d1,#7e8fc8,#657bbe,#5770b9,#506bb6,#4f6ab5,#5972ba,#8d9ccd,#cacedd,#d8c2c2,#d88b8d,#dd595f,#e03f47,#e03f47,#dc6267,#d89597,#d8c2c2,#dcdada,#c6cbde,#adb6d8,#93a1cf,#7a8cc6,#6178bd,#556fb8,#4f6ab5,#506bb5,#5c74bb,#97a4d1,#d2d4dd,#d8b9b9,#d98284,#de535a,#e03e46,#e0424a,#dc696e,#d89c9d,#d9c5c5,#dadbdc,#c3c8de,#a9b3d7,#8f9ece,#7688c5,#5d75bb,#546eb7,#4f6ab5,#516bb6,#647abe,#a1add4,#dadadc,#d8afaf,#da797c,#df4e55,#e03d45,#df464e,#db7276,#d8a3a4,#d9c9c9,#d6d8dc,#bfc5de,#a5b0d5,#8b9acc,#7285c3,#5b73bb,#536db7,#4f6ab5,#526cb6,#6c81c1,#acb5d8,#dbd7d7,#d8a5a6,#db7075,#df4950,#e03d45,#df4b53,#da7a7e,#d8abab,#dacdcd,#d3d5dd,#bac1dc,#a1acd4,#8797cb,#6e82c2,#5a72ba,#526cb6,#4f6ab5,#546eb7,#7689c5,#b6bedb,#dad0d0,#d89d9e,#dc696e,#e0454c,#e03d45,#de5258,#d98486,#d8b2b3,#dad1d1,#cfd2dd,#b6bedb,#9ca9d3,#8393c9,#6a7fc0,#5871b9,#516cb6,#4f6ab5,#566fb8,#8091c8,#bfc6de,#d9caca,#d89596,#dc6267,#e04149,#e03e46,#dd585e,#d88c8e,#d8b9ba,#dbd5d5,#cbcfdd,#b2bbda,#98a5d1,#7f90c8,#667cbf,#5770b9,#506bb6,#4f6ab5,#5871b9,#8a99cc,#c8ccdd,#d8c3c3,#d88d8f,#dd5b61,#e03f47,#e03f47,#dd6065,#d89395,#d8c0c0,#dcd9d9,#c7ccdd,#aeb7d8,#94a2d0,#7b8dc6)"></i><i style="background:linear-gradient(90deg,#dad0d0,#cfd2dd,#b6bedb,#9ba8d2,#8191c9,#667cbf,#566fb8,#4e69b5,#4d69b4,#5e75bc,#aab4d7,#dacdcd,#d88b8d,#de5359,#e03a43,#e0323b,#e0323b,#e0454c,#d98083,#d8b5b5,#dbd4d4,#cbcfdd,#b1bad9,#97a4d1,#7c8ec7,#6278bd,#546eb8,#4d69b4,#4e69b5,#687ec0,#b6bedb,#d9c5c5,#d98083,#df4d54,#e03941,#e0313a,#e0333c,#df4d54,#d88b8c,#d8bdbd,#dbd8d8,#c7ccdd,#adb7d8,#92a0cf,#788ac5,#5e75bc,#536db7,#4d68b4,#506bb6,#7487c4,#c2c8de,#d8bbbb,#da7579,#df474f,#e03740,#e0313a,#e0353e,#de555c,#d89294,#d8c2c2,#dcdcdc,#c3c9de,#a9b3d7,#8e9dce,#7487c4,#5b73bb,#526cb6,#4c68b4,#526cb6,#8091c8,#cdd0dd,#d8aeaf,#db6c70,#e0424a,#e0363e,#e03039,#e03740,#dd5f64,#d89a9c,#d9c6c6,#d8d9dc,#bfc6de,#a5b0d5,#8a99cc,#6f83c2,#5972ba,#506bb6,#4c68b4,#546eb8,#8d9bcd,#d7d8dc,#d8a2a3,#dc6368,#e03f47,#e0343d,#e03139,#e03a43,#dc696d,#d8a2a3,#dacbcb,#d4d6dd,#bbc2dc,#a0acd4,#8696ca,#6b80c1,#5871b9,#4f6ab5,#4c68b4,#5871b9,#99a6d2,#dbd8d8,#d89799,#dd5c61,#e03d45,#e0333c,#e0313a,#e03e46,#db7377,#d8aaab,#dacfcf,#d0d3dd,#b7bfdb,#9ca9d3,#8292c9,#677dbf,#5670b8,#4e69b5,#4d68b4,#5c74bb,#a6b1d6,#dacfcf,#d88e90,#de555b,#e03b43,#e0323b,#e0323b,#e0424a,#d97d80,#d8b2b3,#dbd3d3,#ccd0dd,#b2bbda,#98a5d1,#7d8fc7,#6379bd,#556eb8,#4e69b4,#4e69b5,#657cbf,#b3bbda,#d9c7c7,#d98386,#de4f55,#e03942,#e0323a,#e0333c,#df4a52,#d8888a,#d8babb,#dbd7d7,#c8cddd,#aeb8d8,#94a1cf,#798bc6)"></i><i style="background:linear-gradient(90deg,#dacece,#d0d3dd,#b6bedb,#9ba8d2,#7f90c8,#637abe,#546eb7,#4c68b4,#506bb6,#8796cb,#dcd9d9,#d98083,#e03c44,#e02e37,#e02831,#e02630,#e02932,#e03941,#db7175,#d8aeaf,#dbd2d2,#cccfdd,#b2bada,#96a4d0,#7b8dc6,#5f76bc,#536db7,#4c67b4,#536db7,#96a3d0,#dacece,#db7075,#e03941,#e02c35,#e02831,#e02630,#e02a33,#e03d45,#d97d80,#d8b7b7,#dbd6d6,#c8ccdd,#adb7d8,#92a0cf,#7689c5,#5b74bb,#516cb6,#4b67b3,#5770b9,#a5b0d6,#d8c3c3,#dc6268,#e0363e,#e02b34,#e02730,#e02630,#e02c35,#e0434b,#d8898b,#d8bfbf,#dcdbdb,#c4c9de,#a9b3d7,#8e9ccd,#7286c3,#5a72ba,#506ab5,#4b67b4,#5b73ba,#b4bcda,#d8b3b4,#de565c,#e0333c,#e02a33,#e02730,#e02630,#e02e37,#df4d54,#d89294,#d9c4c4,#d9dadc,#c0c6de,#a5b0d5,#8999cc,#6d82c1,#5871b9,#4e69b5,#4c68b4,#657cbf,#c3c8de,#d8a2a3,#df4b52,#e0313a,#e02933,#e02730,#e02730,#e03139,#dd585e,#d89b9c,#d9c8c8,#d5d7dc,#bcc2dd,#a0acd4,#8595ca,#697ec0,#5670b8,#4d69b4,#4d69b4,#7487c4,#d0d2dd,#d89495,#e0424a,#e02f38,#e02932,#e02630,#e02831,#e0343c,#dc6368,#d8a3a4,#dacdcd,#d1d3dd,#b7bfdb,#9ca9d3,#8191c9,#657bbe,#556eb8,#4c68b4,#506ab5,#8293c9,#dcdcdc,#d98587,#e03d45,#e02e37,#e02831,#e02630,#e02832,#e03740,#db6e73,#d8acad,#dad1d1,#cdd0dd,#b3bbda,#98a5d1,#7c8ec7,#6077bd,#536db7,#4c67b4,#526cb7,#91a0cf,#dad1d1,#da7578,#e03a42,#e02d36,#e02831,#e02630,#e02a33,#e03c44,#da7a7d,#d8b5b5,#dbd5d5,#c9cddd,#aeb8d9,#93a1cf,#788ac5)"></i><i style="background:linear-gradient(90deg,#dacccc,#d1d3dd,#b6bedb,#9ba7d2,#7f90c8,#6278bd,#536db7,#4c68b4,#5c74bb,#c2c8de,#d88d8f,#e0353d,#e0232c,#e01d27,#e01c26,#e01d27,#e0222b,#e03039,#dc6469,#d8a9aa,#dad1d1,#cdd0dd,#b2bbda,#96a4d0,#7a8cc6,#5d75bb,#516cb6,#4d68b4,#697ec0,#d2d4dd,#da787b,#e03039,#e0212b,#e01c26,#e01c26,#e01e28,#e0232d,#e0353d,#db7075,#d8b2b3,#dbd5d5,#c9cddd,#adb7d8,#92a0cf,#7588c4,#5b73ba,#506ab5,#4d69b4,#788bc5,#dbd8d8,#dc6368,#e02d36,#e0202a,#e01c26,#e01c26,#e01e28,#e0252e,#e03941,#d97e81,#d8bbbb,#dcd9d9,#c5cade,#a9b3d7,#8d9ccd,#7185c3,#5971b9,#4e69b5,#4f6ab5,#8998cc,#d9caca,#de5158,#e02933,#e01f29,#e01c26,#e01c26,#e01f29,#e02730,#e03e46,#d88a8c,#d8c2c2,#dadbdc,#c1c6de,#a5b0d5,#8998cc,#6c81c1,#5770b9,#4d69b4,#526cb6,#9aa7d2,#d8bbbb,#e0434a,#e02730,#e01e28,#e01c26,#e01d26,#e01f29,#e02932,#df484f,#d89496,#d9c7c7,#d6d7dc,#bcc3dd,#a0acd4,#8495ca,#677dbf,#556fb8,#4c68b4,#556fb8,#acb6d8,#d8a5a6,#e03b44,#e0252e,#e01d27,#e01c26,#e01d27,#e0202a,#e02c35,#de545a,#d89d9f,#dacbcb,#d2d4dd,#b8bfdb,#9ca8d2,#8091c8,#6379be,#536db7,#4c68b4,#5a73ba,#bec4dd,#d89294,#e0363f,#e0232d,#e01d27,#e01c26,#e01d27,#e0212b,#e02f38,#dd6066,#d8a7a8,#dad0d0,#ced1dd,#b3bcda,#97a5d1,#7b8dc7,#5e76bc,#526cb6,#4c68b4,#657bbe,#ced1dd,#d97e81,#e0313a,#e0212b,#e01c26,#e01c26,#e01e28,#e0232c,#e0333c,#db6d71,#d8b0b0,#dbd4d4,#cacedd,#afb8d9,#93a1cf,#7789c5)"></i><i style="background:linear-gradient(90deg,#dacbcb,#d1d4dd,#b7bedb,#9ba8d2,#7f90c8,#6178bd,#526cb7,#506bb6,#8d9ccd,#d8babb,#e03840,#e01e28,#dc1a24,#db1a24,#db1a24,#dd1b25,#e01c26,#e02a33,#de565c,#d8a5a6,#dad0d0,#cdd0dd,#b2bbda,#96a4d0,#7a8cc6,#5c74bb,#516bb6,#536db7,#a1add4,#d8a1a2,#e0313a,#e01c26,#dc1a24,#db1a24,#dc1a24,#de1b25,#e01d27,#e02d36,#dc6469,#d8afaf,#dbd4d4,#c9cddd,#aeb7d8,#92a0cf,#7588c4,#5a72ba,#506ab5,#566fb8,#b4bcda,#d88a8c,#e02c35,#e01b25,#dc1a24,#db1a24,#dc1a24,#de1b25,#e01f29,#e0323a,#db7276,#d8b8b8,#dcd9d9,#c5cade,#a9b4d7,#8d9ccd,#7084c3,#5871b9,#4f6ab5,#5a73ba,#c7ccdd,#db6e72,#e02731,#de1b25,#db1a24,#db1a24,#dc1a24,#df1b25,#e0212a,#e0373f,#d98183,#d8c1c1,#dbdbdc,#c1c7de,#a5b0d6,#8998cc,#6b80c1,#566fb8,#4e69b5,#657bbe,#d8d9dc,#de575d,#e0242d,#de1b25,#db1a24,#db1a24,#dc1a24,#df1b25,#e0232c,#e03c45,#d88e90,#d9c6c6,#d7d8dc,#bcc3dd,#a0acd4,#8494ca,#677dbf,#546eb8,#4e6ab5,#7689c5,#dad0d0,#e0444b,#e0212b,#dd1b24,#db1a24,#db1a24,#dd1b24,#e01b25,#e0252f,#df454d,#d89899,#d9caca,#d2d4dd,#b8bfdb,#9ca9d3,#8091c8,#6279bd,#536db7,#506ab5,#8898cb,#d8c1c1,#e03a42,#e01e28,#dc1b24,#db1a24,#db1a24,#dd1b25,#e01c26,#e02932,#de5259,#d8a2a3,#dacfcf,#ced1dd,#b3bcda,#97a5d1,#7b8dc7,#5d75bb,#516cb6,#526cb6,#9ba8d2,#d8a8a8,#e0333c,#e01d26,#dc1a24,#db1a24,#db1a24,#de1b25,#e01d27,#e02c35,#dd6066,#d8acad,#dbd3d3,#cacedd,#afb8d9,#93a1cf,#7689c5)"></i><i style="background:linear-gradient(90deg,#dacbcb,#d1d4dd,#b7bedb,#9ba8d2,#7f90c8,#6078bd,#536db7,#5a73ba,#cacedd,#dd595f,#e01f29,#da1a24,#d81a24,#d71a24,#d81a24,#da1a24,#de1b25,#e0232d,#df484f,#d8a1a2,#dad0d0,#cdd0dd,#b2bbda,#97a4d1,#7a8cc6,#5c74bb,#526cb6,#657bbe,#dcdcdc,#e04149,#e01c26,#da1a24,#d81a24,#d71a24,#d81a24,#da1a24,#de1b25,#e02730,#de565c,#d8abac,#dbd4d4,#c9cddd,#aeb7d8,#92a0cf,#7588c4,#5a72ba,#516cb6,#7588c4,#d9caca,#e0373f,#df1b25,#d91a24,#d81a24,#d71a24,#d91a24,#db1a24,#df1b25,#e02b34,#dc666b,#d8b6b6,#dcd9d9,#c5cade,#a9b4d7,#8e9ccd,#7084c3,#5871b9,#526cb6,#8797cb,#d8b3b4,#e02f38,#de1b25,#d91a24,#d71a24,#d81a24,#d91a24,#db1a24,#e01c26,#e02f38,#da767a,#d8c0c0,#dbdbdc,#c1c7de,#a5b0d6,#8999cc,#6c80c1,#566fb8,#536db7,#9ba8d2,#d89798,#e02932,#dc1a24,#d91a24,#d71a24,#d81a24,#d91a24,#dc1a24,#e01d27,#e0353d,#d88688,#d9c5c5,#d7d8dc,#bcc3dd,#a1add4,#8595ca,#677dbf,#546eb8,#556fb8,#b0b9d9,#da7b7e,#e0242e,#db1a24,#d81a24,#d71a24,#d81a24,#da1a24,#dd1b24,#e02029,#e03b43,#d89394,#d9caca,#d2d4dd,#b8bfdb,#9ca9d3,#8091c8,#6279bd,#536db7,#5972ba,#c5cade,#dd5f65,#e0202a,#db1a24,#d81a24,#d71a24,#d81a24,#da1a24,#dd1b25,#e0222c,#e0444b,#d89e9f,#dacece,#ced1dd,#b3bcda,#98a5d1,#7b8dc7,#5d75bb,#526cb7,#6178bd,#d7d8dc,#df474f,#e01d27,#da1a24,#d81a24,#d71a24,#d81a24,#da1a24,#de1b25,#e0262f,#de5259,#d8a8a9,#dbd3d3,#cacedd,#afb8d9,#93a1cf,#7789c5)"></i><i style="background:linear-gradient(90deg,#dacbcb,#d1d3dd,#b7bedb,#9ca8d2,#8091c8,#6178bd,#556fb8,#8293c9,#d8b4b5,#e02a34,#db1a24,#d71a23,#d51923,#d51923,#d61a23,#d81a24,#db1a24,#e01e27,#e03c44,#d89c9d,#dad0d0,#cdd0dd,#b2bbda,#97a4d1,#7b8dc6,#5d75bb,#566fb8,#95a3d0,#d89697,#e0242e,#da1a24,#d61a23,#d51923,#d51923,#d61a23,#d81a24,#dc1a24,#e0202a,#df464e,#d8a8a9,#dbd5d5,#c9cddd,#aeb7d8,#93a1cf,#7689c5,#5a73ba,#5770b9,#aab4d7,#da7578,#e02029,#d91a24,#d61a23,#d51923,#d51923,#d61a23,#d81a24,#dc1a24,#e0242d,#de575d,#d8b4b4,#dcd9d9,#c5cade,#aab4d7,#8e9dce,#7185c3,#5971b9,#5972ba,#c1c6de,#de555b,#e01c26,#d81a24,#d61a23,#d51923,#d51923,#d61a23,#d91a24,#dd1b25,#e02831,#dc686d,#d8bfbf,#dadbdc,#c1c7de,#a5b0d6,#8a99cc,#6c81c1,#5770b9,#5e76bc,#d5d6dd,#e03e46,#de1b25,#d81a24,#d61a23,#d51923,#d51923,#d71a23,#d91a24,#de1b25,#e02d36,#da7a7e,#d9c5c5,#d6d7dc,#bcc3dd,#a1add4,#8595ca,#687dbf,#566fb8,#6c81c1,#dad0d0,#e0343d,#dd1b24,#d71a24,#d51a23,#d51923,#d51a23,#d71a23,#da1a24,#e01b25,#e0333b,#d88c8e,#d9caca,#d2d4dd,#b8bfdb,#9da9d3,#8192c9,#6379be,#556fb8,#7d8ec7,#d8bdbd,#e02c35,#db1a24,#d71a23,#d51923,#d51923,#d61a23,#d81a24,#db1a24,#e01d27,#e03942,#d8989a,#dacfcf,#ced1dd,#b4bcda,#98a5d1,#7c8ec7,#5e76bc,#566fb8,#909ece,#d89e9f,#e0262f,#da1a24,#d71a23,#d51923,#d51923,#d61a23,#d81a24,#db1a24,#e02029,#e0424a,#d8a5a6,#dbd3d3,#cacedd,#afb8d9,#94a2d0,#778ac5)"></i><i style="background:linear-gradient(90deg,#dacccc,#d0d3dd,#b7bedb,#9ca9d3,#8192c9,#647abe,#5b73bb,#b5bddb,#dd5c62,#df1b25,#d71a23,#d41923,#d31923,#d31923,#d41923,#d61a23,#d91a24,#de1b25,#e0323b,#d89597,#dad1d1,#cccfdd,#b2bbda,#98a5d1,#7c8ec7,#5f77bc,#5f77bc,#cacedd,#e04048,#dd1b25,#d71a23,#d41923,#d31923,#d31923,#d41923,#d61a23,#d91a24,#e01b25,#e03a42,#d8a3a4,#dbd5d5,#c8ccdd,#aeb7d8,#94a1cf,#788ac5,#5c74bb,#687ebf,#dcd9d9,#e0343d,#db1a24,#d61a23,#d41923,#d31923,#d31923,#d41923,#d61a23,#da1a24,#e01e27,#e0444c,#d8b1b1,#dcdada,#c4c9de,#aab4d7,#8f9ece,#7386c4,#5a73ba,#7487c4,#d9c5c5,#e02b34,#da1a24,#d61a23,#d41923,#d31923,#d31923,#d41923,#d71a23,#db1a24,#e0212a,#de575d,#d8bebe,#dadadc,#c0c6de,#a6b1d6,#8b9acc,#6e83c2,#5a72ba,#8595ca,#d8a6a7,#e0242d,#d91a24,#d51923,#d31923,#d31923,#d31923,#d51923,#d71a24,#dc1a24,#e0252e,#db6b6f,#d9c5c5,#d5d7dc,#bcc3dd,#a2add4,#8796cb,#6a7fc0,#5972ba,#99a6d1,#d8888a,#e01f29,#d81a24,#d51923,#d31923,#d31923,#d31923,#d51923,#d81a24,#dd1b24,#e02a33,#d98082,#d9caca,#d1d3dd,#b8bfdb,#9daad3,#8293c9,#657bbe,#5a73ba,#afb8d9,#dc6469,#e01b25,#d71a24,#d41923,#d31923,#d31923,#d41923,#d51a23,#d81a24,#de1b25,#e03039,#d89193,#dacfcf,#cdd0dd,#b3bcda,#99a6d1,#7e8fc8,#6178bd,#5d75bc,#c5cade,#df474e,#de1b25,#d71a23,#d41923,#d31923,#d31923,#d41923,#d61a23,#d91a24,#e01b25,#e03840,#d89fa1,#dbd4d4,#c9cddd,#afb8d9,#95a2d0,#798bc6)"></i><i style="background:linear-gradient(90deg,#dacccc,#cfd2dd,#b6bedb,#9da9d3,#8393c9,#687dbf,#7084c2,#dbd5d5,#e02f38,#da1a24,#d51923,#d21923,#d11922,#d11922,#d21923,#d41923,#d71a23,#db1a24,#e02933,#d88b8d,#dbd2d2,#cbcfdd,#b2bbda,#99a6d1,#7f90c8,#647bbe,#7c8dc7,#d8c1c1,#e02630,#d91a24,#d41923,#d21923,#d11922,#d11922,#d21923,#d41923,#d71a23,#dd1b24,#e03039,#d89b9d,#dbd7d7,#c7ccdd,#aeb7d8,#95a2d0,#7a8cc6,#6279bd,#8b9acc,#d89d9f,#e0202a,#d81a24,#d41923,#d21923,#d11922,#d11922,#d21923,#d41923,#d81a24,#de1b25,#e03840,#d8abac,#dcdbdb,#c3c9de,#aab4d7,#919fce,#7689c5,#6178bd,#9da9d3,#da787c,#e01b25,#d71a23,#d41923,#d21923,#d11922,#d11922,#d21923,#d51923,#d91a24,#e01b25,#e0424a,#d8bbbb,#d8d9dc,#c0c6de,#a6b1d6,#8d9bcd,#7185c3,#6178bd,#b3bbda,#de545a,#de1b25,#d61a23,#d31923,#d11923,#d11922,#d11922,#d31923,#d51a23,#d91a24,#e01e28,#de575d,#d9c4c4,#d4d6dd,#bbc2dd,#a2aed5,#8898cb,#6d81c1,#657bbe,#c9cddd,#e03c44,#dc1a24,#d61a23,#d31923,#d11922,#d11922,#d11923,#d31923,#d61a23,#da1a24,#e0222c,#db6e72,#d9caca,#d0d2dd,#b7bfdb,#9eaad3,#8494ca,#697ec0,#6d81c1,#dcdada,#e0313a,#da1a24,#d51923,#d31923,#d11922,#d11922,#d21923,#d41923,#d61a23,#db1a24,#e02831,#d98587,#dad0d0,#cccfdd,#b3bcda,#9aa7d2,#8091c8,#657bbe,#788bc5,#d9c6c6,#e02832,#d91a24,#d51923,#d21923,#d11922,#d11922,#d21923,#d41923,#d71a23,#dc1a24,#e02e37,#d89798,#dbd5d5,#c8ccdd,#afb8d9,#96a3d0,#7b8dc7)"></i><i style="background:linear-gradient(90deg,#dacccc,#cdd0dd,#b6bedb,#9eaad3,#8696ca,#6e82c2,#8d9ccd,#d89d9e,#e01e28,#d71a23,#d31923,#d11922,#cf1922,#cf1922,#d01922,#d21923,#d51923,#d91a24,#e0222b,#da787b,#dbd2d2,#c9cddd,#b2bada,#9aa7d2,#8292c9,#6c81c1,#9fabd3,#da787b,#df1b25,#d61a23,#d31923,#d01922,#cf1922,#cf1922,#d01922,#d21923,#d51a23,#da1a24,#e02730,#d89091,#dbd8d8,#c6cade,#aeb7d8,#96a4d0,#7d8fc7,#6c81c1,#b2bbda,#de5258,#dc1b24,#d51a23,#d21923,#d01922,#cf1922,#cf1922,#d01922,#d31923,#d61a23,#db1a24,#e02e37,#d8a3a4,#dbdbdc,#c2c8de,#aab4d7,#92a0cf,#798bc6,#6d82c1,#c8ccdd,#e03942,#db1a24,#d51923,#d21923,#d01922,#cf1922,#cf1922,#d11922,#d31923,#d71a23,#dd1b24,#e0363e,#d8b5b5,#d6d7dc,#bec5de,#a7b1d6,#8f9dce,#7588c4,#7286c3,#dcdbdb,#e02e37,#d91a24,#d41923,#d11922,#d01922,#cf1922,#d01922,#d11922,#d41923,#d71a24,#df1b25,#e04149,#d8c3c3,#d2d4dd,#bbc2dc,#a3aed5,#8b9acc,#7185c3,#7c8dc7,#d9c6c6,#e0262f,#d81a24,#d41923,#d11922,#d01922,#cf1922,#d01922,#d11922,#d41923,#d81a24,#e01c26,#dd585e,#d9caca,#ced1dd,#b7bedb,#9fabd4,#8796cb,#6e83c2,#8998cc,#d8a6a7,#e02029,#d71a23,#d31923,#d11922,#cf1922,#cf1922,#d01922,#d21923,#d51923,#d91a24,#e0202a,#db7175,#dad1d1,#cacedd,#b3bbda,#9ba8d2,#8393c9,#6c81c1,#9aa7d2,#d98386,#e01b25,#d61a23,#d31923,#d01922,#cf1922,#cf1922,#d01922,#d21923,#d51923,#da1a24,#e0262f,#d88b8d,#dbd6d6,#c7cbde,#afb8d9,#97a5d1,#7f90c8)"></i><i style="background:linear-gradient(90deg,#dacbcb,#cbcfdd,#b5bddb,#9fabd4,#8998cc,#7689c5,#afb8d9,#dd595f,#dc1a24,#d51923,#d11923,#cf1922,#ce1822,#ce1822,#ce1922,#d01922,#d31923,#d81a24,#e01c26,#dc6267,#dbd2d2,#c7ccdd,#b1bad9,#9ca8d2,#8595ca,#778ac5,#c3c9de,#e03c45,#da1a24,#d41923,#d11922,#cf1922,#ce1822,#ce1822,#cf1922,#d11922,#d41923,#d81a24,#e0202a,#d97e81,#dcd9d9,#c4c9de,#aeb7d8,#98a5d1,#8192c9,#7a8cc6,#d8d8dc,#e02f38,#d91a24,#d41923,#d11922,#cf1922,#ce1822,#ce1822,#cf1922,#d11922,#d51923,#d91a24,#e0252f,#d89698,#d9dadc,#c1c7de,#aab4d7,#94a2d0,#7e8fc8,#7f90c8,#dacbcb,#e0262f,#d81a24,#d31923,#d01922,#ce1922,#ce1822,#ce1822,#cf1922,#d21923,#d51923,#da1a24,#e02c35,#d8acac,#d4d6dd,#bdc4dd,#a7b2d6,#919fcf,#7a8cc6,#8898cb,#d8adae,#e01f29,#d71a23,#d31923,#d01922,#ce1822,#ce1822,#ce1822,#d01922,#d21923,#d61a23,#dc1a24,#e0353e,#d8bfbf,#d0d3dd,#b9c1dc,#a4afd5,#8d9ccd,#788ac5,#97a4d1,#d88b8d,#e01b25,#d61a23,#d21923,#d01922,#ce1822,#ce1822,#ce1822,#d01922,#d31923,#d71a23,#de1b25,#e04249,#d9c8c8,#ccd0dd,#b6bedb,#a0acd4,#8a99cc,#7689c5,#a9b3d7,#dc6268,#dd1b24,#d51923,#d21923,#cf1922,#ce1822,#ce1822,#ce1922,#d01922,#d31923,#d71a24,#e01b25,#dd5b61,#dad0d0,#c8cddd,#b2bbda,#9da9d3,#8696cb,#7789c5,#bec4dd,#e04149,#db1a24,#d51923,#d11922,#cf1922,#ce1822,#ce1822,#cf1922,#d11922,#d41923,#d81a24,#e01f29,#da767a,#dbd7d7,#c5cade,#afb8d9,#99a6d1,#8293c9)"></i><i style="background:linear-gradient(90deg,#d9c8c8,#c9cddd,#b4bcda,#a0acd4,#8c9bcd,#8192c9,#ced1dd,#e0343d,#d91a24,#d41923,#d01922,#ce1822,#cc1822,#cc1822,#cd1822,#cf1922,#d21923,#d61a23,#de1b25,#df4c53,#dbd2d2,#c5cade,#b1bad9,#9daad3,#8999cc,#8595ca,#dbd5d5,#e02933,#d81a24,#d31923,#d01922,#cd1822,#cc1822,#cc1822,#cd1822,#cf1922,#d31923,#d71a23,#e01b25,#dc686d,#dcdada,#c2c8de,#aeb7d8,#9aa7d2,#8696cb,#8b9acc,#d8c1c1,#e0212b,#d71a23,#d21923,#cf1922,#cd1822,#cc1822,#cc1822,#ce1822,#d01922,#d31923,#d81a24,#e01f29,#d88789,#d8d9dc,#bfc5de,#abb5d7,#97a4d1,#8394ca,#94a2d0,#d89a9c,#e01b25,#d61a23,#d21923,#cf1922,#cd1822,#cc1822,#cd1822,#ce1822,#d01922,#d41923,#d91a24,#e0242e,#d89fa1,#d2d4dd,#bbc2dd,#a7b2d6,#94a2d0,#8192c9,#a2add5,#db7175,#dd1b25,#d51923,#d11922,#ce1922,#cd1822,#cc1822,#cd1822,#ce1822,#d11922,#d41923,#da1a24,#e02c35,#d8b6b7,#ced1dd,#b8c0dc,#a4b0d5,#909fce,#8091c8,#b5bdda,#df4c53,#db1a24,#d41923,#d11922,#ce1822,#cd1822,#cc1822,#cd1822,#cf1922,#d11922,#d51923,#db1a24,#e0363f,#d9c6c6,#cacedd,#b5bddb,#a1add4,#8d9ccd,#8091c9,#c9cddd,#e03840,#d91a24,#d41923,#d01922,#ce1822,#cd1822,#cc1822,#cd1822,#cf1922,#d21923,#d61a23,#dd1b24,#df454d,#dacfcf,#c6cbde,#b2bada,#9eaad3,#8a99cc,#8394ca,#dcdbdb,#e02c35,#d81a24,#d31923,#d01922,#ce1822,#cc1822,#cc1822,#cd1822,#cf1922,#d21923,#d71a23,#df1b25,#dc6166,#dbd7d7,#c3c8de,#afb8d9,#9ba8d2,#8797cb)"></i><i style="background:linear-gradient(90deg,#d9c5c5,#c6cbde,#b3bbda,#a2aed5,#909fce,#8e9ccd,#dacece,#e0262f,#d71a23,#d21923,#cf1922,#cd1822,#cb1821,#cb1821,#cc1822,#ce1822,#d11922,#d51923,#db1a24,#e03c44,#dad0d0,#c3c8de,#b0b9d9,#9fabd4,#8e9dcd,#94a2d0,#d8b5b5,#e01f28,#d61a23,#d21923,#ce1922,#cc1822,#cb1821,#cb1821,#cc1822,#ce1922,#d11922,#d61a23,#dd1b25,#de535a,#dcdada,#c0c6de,#adb7d8,#9ca9d3,#8c9bcd,#9eaad3,#d89091,#df1b25,#d51a23,#d11922,#ce1822,#cc1822,#cb1821,#cb1821,#cc1822,#cf1922,#d21923,#d71a23,#e01b25,#db7276,#d6d8dc,#bcc3dd,#abb5d7,#9aa7d2,#8a99cc,#abb5d7,#dc6469,#dc1a24,#d51923,#d11922,#ce1822,#cc1822,#cb1821,#cb1821,#cd1822,#cf1922,#d31923,#d71a24,#e01f29,#d89293,#d0d3dd,#b9c1dc,#a8b2d6,#97a4d1,#8898cb,#bcc3dd,#e03f47,#da1a24,#d41923,#d01922,#cd1822,#cc1821,#cb1821,#cb1821,#cd1822,#d01922,#d31923,#d81a24,#e0252f,#d8acac,#cbcfdd,#b6bedb,#a5b0d6,#94a2d0,#8998cc,#d0d3dd,#e0323b,#d91a24,#d31923,#d01922,#cd1822,#cb1821,#cb1821,#cc1822,#cd1822,#d01922,#d41923,#da1a24,#e02e37,#d8c2c2,#c7ccdd,#b4bcda,#a3aed5,#919fcf,#8c9bcd,#dbd4d4,#e02831,#d81a24,#d21923,#cf1922,#cd1822,#cb1821,#cb1821,#cc1822,#ce1822,#d11922,#d51923,#db1a24,#e03941,#dacdcd,#c4c9de,#b1bad9,#a0acd4,#8f9dce,#92a0cf,#d8bfbf,#e0212a,#d61a23,#d21923,#cf1922,#cc1822,#cb1821,#cb1821,#cc1822,#ce1822,#d11922,#d51a23,#dd1b24,#df4c53,#dbd7d7,#c1c6de,#aeb8d8,#9daad3,#8c9bcd)"></i><i style="background:linear-gradient(90deg,#d8c1c1,#c3c9de,#b2bada,#a3afd5,#95a3d0,#9ba8d2,#d8afb0,#e01e27,#d61a23,#d11922,#ce1822,#cc1821,#ca1821,#ca1821,#cb1821,#cd1822,#d01922,#d41923,#da1a24,#e0343d,#dacece,#c0c6de,#afb8d9,#a1add4,#93a1cf,#a5b0d5,#d88b8d,#de1b25,#d51923,#d11922,#cd1822,#cb1821,#ca1821,#ca1821,#cb1821,#cd1822,#d01922,#d51923,#db1a24,#e04149,#dcd9d9,#bdc3dd,#adb7d8,#9fabd4,#92a0cf,#b1bad9,#dd6065,#dc1a24,#d41923,#d01922,#cd1822,#cb1821,#ca1821,#ca1821,#cb1821,#ce1822,#d11922,#d51a23,#dd1b25,#dd5f65,#d6d7dc,#bac1dc,#abb5d7,#9ca9d3,#919fce,#c1c7de,#e03d45,#da1a24,#d31923,#d01922,#cd1822,#cb1821,#ca1821,#ca1821,#cc1822,#ce1822,#d21923,#d61a23,#e01b25,#d98285,#ced1dd,#b7bfdb,#a8b3d7,#9aa7d2,#919fce,#d3d5dd,#e02f38,#d81a24,#d31923,#cf1922,#cc1822,#cb1821,#ca1821,#ca1821,#cc1822,#cf1922,#d21923,#d71a23,#e0202a,#d8a0a2,#c9cddd,#b5bdda,#a6b1d6,#98a5d1,#93a1cf,#dad1d1,#e0262f,#d71a23,#d21923,#ce1922,#cc1822,#ca1821,#ca1821,#cb1821,#cc1822,#cf1922,#d31923,#d81a24,#e02731,#d8bbbc,#c4c9de,#b2bbda,#a4afd5,#96a3d0,#99a6d1,#d8b9b9,#e01f29,#d61a23,#d11922,#ce1822,#cc1821,#ca1821,#ca1821,#cb1821,#cd1822,#d01922,#d41923,#d91a24,#e0313a,#d9caca,#c1c7de,#b0b9d9,#a2add5,#94a2d0,#a2add5,#d89596,#df1b25,#d51923,#d11922,#ce1822,#cb1821,#ca1821,#ca1821,#cb1821,#cd1822,#d01922,#d41923,#db1a24,#e03d46,#dbd6d6,#bec4dd,#aeb7d8,#9facd4,#92a0cf)"></i><i style="background:linear-gradient(90deg,#d8bbbb,#c1c6de,#b0b9d9,#a5b0d6,#9aa7d2,#a9b3d7,#d88d8f,#de1b25,#d51923,#d01922,#cd1822,#cb1821,#c91821,#c91821,#ca1821,#cc1822,#cf1922,#d31923,#d91a24,#e02e37,#dacbcb,#bdc3dd,#aeb8d8,#a3aed5,#99a6d1,#b5bdda,#dc6268,#dc1a24,#d41923,#d01922,#cd1822,#ca1821,#c91821,#c91821,#ca1821,#cc1822,#d01922,#d41923,#da1a24,#e03a42,#dbd8d8,#b9c1dc,#acb6d8,#a1add4,#98a5d1,#c3c9de,#e03f47,#da1a24,#d31923,#cf1922,#cc1822,#ca1821,#c91821,#c91821,#cb1821,#cd1822,#d01922,#d51923,#dc1a24,#de5057,#d5d6dd,#b7bfdb,#abb5d7,#a0acd4,#98a6d1,#d4d5dd,#e03039,#d81a24,#d31923,#cf1922,#cc1822,#ca1821,#c91821,#ca1821,#cb1821,#cd1822,#d11922,#d51a23,#de1b25,#db7276,#cccfdd,#b5bdda,#a9b3d7,#9eaad3,#9aa7d2,#dad1d1,#e0252f,#d71a23,#d21923,#ce1822,#cb1821,#ca1821,#c91821,#ca1821,#cb1821,#ce1822,#d21923,#d61a23,#e01d27,#d89698,#c6cbde,#b3bbda,#a7b2d6,#9ca9d3,#9eabd3,#d8baba,#e01f29,#d61a23,#d11922,#ce1822,#cb1821,#ca1821,#c91821,#ca1821,#cc1821,#ce1922,#d21923,#d71a24,#e0232c,#d8b3b4,#c2c7de,#b1bad9,#a5b0d6,#9aa7d2,#a6b1d6,#d89697,#df1b25,#d51923,#d11922,#cd1822,#cb1821,#c91821,#c91821,#ca1821,#cc1822,#cf1922,#d31923,#d81a24,#e02b35,#d9c8c8,#bec4dd,#afb8d9,#a4afd5,#99a6d2,#b1bad9,#db6e72,#dc1a24,#d41923,#d01922,#cd1822,#ca1821,#c91821,#c91821,#ca1821,#cc1822,#cf1922,#d41923,#da1a24,#e0373f,#dbd5d5,#bac1dc,#adb7d8,#a2add5,#98a6d1)"></i><i style="background:linear-gradient(90deg,#d8b5b5,#bdc4dd,#afb8d9,#a6b1d6,#9fabd4,#b6bedb,#db6c70,#dc1a24,#d41923,#d01922,#cc1822,#ca1821,#c91821,#c91821,#c91821,#cb1821,#ce1922,#d21923,#d81a24,#e02a33,#d9caca,#b9c0dc,#adb7d8,#a5b0d6,#9fabd4,#c3c9de,#df464d,#da1a24,#d31923,#cf1922,#cc1822,#ca1821,#c91821,#c91821,#ca1821,#cc1822,#cf1922,#d31923,#d91a24,#e0353d,#dbd8d8,#b6bedb,#acb6d8,#a4afd5,#9fabd4,#d2d4dd,#e0333c,#d81a24,#d31923,#cf1922,#cb1821,#ca1821,#c91821,#c91821,#ca1821,#cc1822,#d01922,#d41923,#db1a24,#e0454c,#d4d6dd,#b4bcda,#abb5d7,#a3aed5,#a0acd4,#dbd4d4,#e02731,#d71a23,#d21923,#ce1822,#cb1821,#c91821,#c91821,#c91821,#ca1821,#cd1822,#d01922,#d51923,#dd1b24,#dc666b,#cacedd,#b2bbda,#a9b4d7,#a1add4,#a3aed5,#d8c1c1,#e01f29,#d61a23,#d11922,#cd1822,#cb1821,#c91821,#c91821,#c91821,#cb1821,#cd1822,#d11922,#d61a23,#e01b25,#d88e90,#c3c9de,#b0b9d9,#a8b3d7,#a0acd4,#a9b3d7,#d89d9e,#e01b25,#d51923,#d11922,#cd1822,#ca1821,#c91821,#c91821,#c91821,#cb1821,#ce1822,#d21923,#d71a23,#e0202a,#d8adae,#bec5dd,#afb8d9,#a7b1d6,#9facd4,#b3bbda,#da767a,#dd1b24,#d41923,#d01922,#cc1822,#ca1821,#c91821,#c91821,#c91821,#cb1821,#ce1922,#d21923,#d81a24,#e02731,#d9c6c6,#bac1dc,#aeb7d8,#a5b0d6,#9fabd4,#c0c6de,#de4f56,#db1a24,#d41923,#cf1922,#cc1822,#ca1821,#c91821,#c91821,#ca1821,#cc1822,#cf1922,#d31923,#d91a24,#e0323b,#dbd4d4,#b7bfdb,#acb6d8,#a4afd5,#9fabd4)"></i><i style="background:linear-gradient(90deg,#d8b2b3,#b9c0dc,#adb6d8,#a8b2d6,#a5b0d5,#c2c8de,#de545a,#db1a24,#d41923,#cf1922,#cc1822,#ca1821,#c81821,#c81821,#c91821,#cb1821,#ce1822,#d21923,#d71a24,#e02831,#d9c9c9,#b5bddb,#acb6d8,#a7b2d6,#a5b0d6,#cfd2dd,#e03942,#d91a24,#d31923,#cf1922,#cb1821,#c91821,#c81821,#c81821,#c91821,#cb1821,#cf1922,#d31923,#d91a24,#e0323a,#dbd8d8,#b2bbda,#abb5d7,#a7b1d6,#a6b1d6,#dcdada,#e02c35,#d81a24,#d21923,#ce1822,#cb1821,#c91821,#c81821,#c81821,#c91821,#cc1822,#cf1922,#d41923,#da1a24,#e03f47,#d2d4dd,#b0b9d9,#aab4d7,#a6b1d6,#a8b3d7,#d9c8c8,#e0222c,#d71a23,#d11922,#cd1822,#cb1821,#c91821,#c81821,#c81821,#ca1821,#cc1822,#d01922,#d41923,#dc1a24,#dd5f64,#c7ccdd,#afb8d9,#aab4d7,#a5b0d6,#acb6d8,#d8aaab,#e01c26,#d61a23,#d11922,#cd1822,#ca1821,#c91821,#c81821,#c91821,#ca1821,#cd1822,#d01922,#d51923,#de1b25,#d8898b,#c0c6de,#aeb7d8,#a9b3d7,#a5b0d5,#b3bcda,#d88688,#de1b25,#d51923,#d01922,#cc1822,#ca1821,#c81821,#c81821,#c91821,#ca1821,#cd1822,#d11922,#d61a23,#e01e28,#d8aaaa,#bac1dc,#adb7d8,#a8b3d7,#a4b0d5,#bec5de,#dd5d63,#db1a24,#d41923,#cf1922,#cc1822,#ca1821,#c81821,#c81821,#c91821,#cb1821,#ce1822,#d21923,#d71a23,#e0252f,#d9c5c5,#b6bedb,#acb6d8,#a7b2d6,#a5b0d5,#cbcfdd,#e03d46,#da1a24,#d31923,#cf1922,#cc1821,#c91821,#c81821,#c81821,#c91821,#cb1821,#ce1922,#d31923,#d81a24,#e02f38,#dbd4d4,#b3bcda,#abb5d8,#a7b1d6,#a6b1d6)"></i><i style="background:linear-gradient(90deg,#d8b3b3,#b5bdda,#abb5d7,#aab4d7,#aab4d7,#cbcfdd,#e0444c,#da1a24,#d31923,#cf1922,#cc1821,#c91821,#c81821,#c81821,#c91821,#cb1821,#ce1822,#d21923,#d71a23,#e02630,#d9caca,#b1bad9,#abb5d7,#a9b4d7,#abb5d7,#d8d9dc,#e0333c,#d81a24,#d31923,#ce1922,#cb1821,#c91821,#c81821,#c81821,#c91821,#cb1821,#ce1922,#d31923,#d81a24,#e03039,#dcdada,#aeb8d8,#aab4d7,#a9b3d7,#adb6d8,#dad0d0,#e02831,#d71a23,#d21923,#ce1822,#cb1821,#c91821,#c81821,#c81821,#c91821,#cb1821,#cf1922,#d31923,#da1a24,#e03d46,#cfd2dd,#adb6d8,#aab4d7,#a9b3d7,#afb9d9,#d8bcbc,#e01f29,#d61a23,#d11922,#cd1822,#ca1821,#c81821,#c81821,#c81821,#c91821,#cc1822,#cf1922,#d41923,#db1a24,#dd5c62,#c4c9de,#acb6d8,#aab4d7,#a9b3d7,#b4bcda,#d8989a,#df1b25,#d51923,#d01922,#cd1822,#ca1821,#c81821,#c81821,#c81821,#ca1821,#cc1822,#d01922,#d51923,#de1b25,#d8878a,#bcc3dd,#abb5d8,#aab4d7,#a9b3d7,#bdc3dd,#db7276,#dd1b24,#d41923,#d01922,#cc1822,#ca1821,#c81821,#c81821,#c81821,#ca1821,#cd1822,#d11922,#d61a23,#e01d27,#d8aaab,#b6bedb,#abb5d7,#aab4d7,#a9b4d7,#c7ccdd,#df4c53,#da1a24,#d41923,#cf1922,#cc1822,#c91821,#c81821,#c81821,#c91821,#cb1821,#ce1822,#d21923,#d71a23,#e0242e,#d9c6c6,#b2bada,#abb5d7,#a9b4d7,#aab4d7,#d5d6dd,#e0373f,#d91a24,#d31923,#ce1922,#cb1821,#c91821,#c81821,#c81821,#c91821,#cb1821,#ce1822,#d21923,#d81a24,#e02e37,#dbd6d6,#afb8d9,#aab5d7,#a9b3d7,#acb6d8)"></i><i style="background:linear-gradient(90deg,#d8b8b8,#b0b9d9,#a9b3d7,#abb5d7,#afb8d9,#d2d4dd,#e03d46,#da1a24,#d31923,#cf1922,#cb1821,#c91821,#c81821,#c81821,#c91821,#cb1821,#ce1822,#d21923,#d71a23,#e02730,#dacdcd,#acb6d8,#a9b4d7,#abb5d8,#b0b9d9,#dbd8d8,#e03039,#d81a24,#d21923,#ce1822,#cb1821,#c91821,#c81821,#c81821,#c91821,#cb1821,#ce1822,#d21923,#d81a24,#e0313a,#dadadc,#aab4d7,#aab4d7,#acb6d8,#b3bbda,#d9c9c9,#e0252f,#d71a23,#d21923,#ce1822,#cb1821,#c91821,#c81821,#c81821,#c91821,#cb1821,#cf1922,#d31923,#da1a24,#e03e47,#cbcfdd,#a9b3d7,#aab4d7,#acb6d8,#b6bedb,#d8b0b0,#e01e28,#d61a23,#d11922,#cd1822,#ca1821,#c81821,#c81821,#c81821,#c91821,#cc1822,#cf1922,#d41923,#db1a24,#dd5f65,#bfc5de,#a9b3d7,#aab4d7,#adb6d8,#bcc2dd,#d88d8f,#de1b25,#d51923,#d01922,#cc1822,#ca1821,#c81821,#c81821,#c81821,#ca1821,#cc1822,#d01922,#d51923,#de1b25,#d88c8e,#b7bedb,#a9b3d7,#abb5d7,#adb7d8,#c4c9de,#dc656a,#dc1a24,#d41923,#d01922,#cc1822,#c91821,#c81821,#c81821,#c81821,#ca1821,#cd1822,#d11922,#d61a23,#e01d27,#d8afaf,#b1bad9,#a9b3d7,#abb5d7,#aeb8d8,#cfd2dd,#e0424a,#da1a24,#d31923,#cf1922,#cc1821,#c91821,#c81821,#c81821,#c91821,#ca1821,#cd1822,#d11923,#d71a23,#e0242e,#d9c9c9,#adb7d8,#a9b3d7,#abb5d8,#b0b9d9,#dcdcdc,#e0333c,#d91a24,#d31923,#ce1922,#cb1821,#c91821,#c81821,#c81821,#c91821,#cb1821,#ce1822,#d21923,#d81a24,#e02e37,#dcdada,#abb5d7,#aab4d7,#acb5d8,#b2bbda)"></i><i style="background:linear-gradient(90deg,#d8c1c1,#aab4d7,#a7b2d6,#acb6d8,#b4bcda,#d8d9dc,#e03b44,#da1a24,#d31923,#cf1922,#cb1821,#c91821,#c81821,#c81821,#c91821,#cb1821,#ce1822,#d21923,#d71a23,#e02932,#dbd3d3,#a7b2d6,#a8b2d6,#adb7d8,#b6bedb,#dbd3d3,#e02e37,#d81a24,#d21923,#ce1822,#cb1821,#c91821,#c81821,#c81821,#c91821,#cb1821,#ce1822,#d21923,#d81a24,#e0343c,#d4d5dd,#a6b1d6,#a9b3d7,#aeb8d8,#b9c0dc,#d9c4c4,#e0242e,#d71a23,#d21923,#ce1822,#cb1821,#c91821,#c81821,#c81821,#c91821,#cb1821,#cf1922,#d31923,#da1a24,#e0444c,#c5cade,#a5b0d6,#aab4d7,#afb8d9,#bdc3dd,#d8a8a9,#e01d27,#d61a23,#d11922,#cd1822,#ca1821,#c81821,#c81821,#c81821,#c91821,#cc1822,#cf1922,#d41923,#dc1a24,#dc696d,#b8c0dc,#a6b1d6,#aab4d7,#b0b9d9,#c2c7de,#d88689,#de1b25,#d51923,#d01922,#cd1822,#ca1821,#c81821,#c81821,#c81821,#ca1821,#cc1822,#d01922,#d51923,#de1b25,#d89496,#b0b9d9,#a6b1d6,#abb5d8,#b2bad9,#cacedd,#dd5f64,#dc1a24,#d41923,#d01922,#cc1822,#ca1821,#c81821,#c81821,#c81821,#ca1821,#cd1822,#d11922,#d61a23,#e01e28,#d8b9b9,#abb5d7,#a7b2d6,#acb6d8,#b3bbda,#d4d6dd,#e03f47,#da1a24,#d31923,#cf1922,#cc1821,#c91821,#c81821,#c81821,#c91821,#ca1821,#cd1822,#d21923,#d71a23,#e0262f,#dacfcf,#a8b2d6,#a8b2d6,#adb7d8,#b5bddb,#dbd7d7,#e0323a,#d91a24,#d31923,#ce1922,#cb1821,#c91821,#c81821,#c81821,#c91821,#cb1821,#ce1822,#d21923,#d81a24,#e03139,#d8d9dc,#a6b1d6,#a8b3d7,#aeb7d8,#b8bfdb)"></i><i style="background:linear-gradient(90deg,#d9c9c9,#a4afd5,#a5b0d6,#aeb7d8,#b8c0dc,#dcdcdc,#e03b44,#da1a24,#d31923,#cf1922,#cc1822,#c91821,#c81821,#c81821,#c91821,#cb1821,#ce1822,#d21923,#d81a24,#e02c35,#dcdcdc,#a2aed5,#a6b1d6,#afb8d9,#bbc2dc,#dad0d0,#e02f38,#d81a24,#d31923,#ce1922,#cb1821,#c91821,#c81821,#c81821,#c91821,#cb1821,#ce1922,#d31923,#d91a24,#e03941,#cbcfdd,#a1add4,#a8b2d6,#b1bad9,#bec4dd,#d8c2c2,#e0252e,#d71a23,#d21923,#ce1822,#cb1821,#c91821,#c81821,#c81821,#c91821,#cc1822,#cf1922,#d41923,#da1a24,#de5158,#bdc3dd,#a1add4,#a9b3d7,#b2bbda,#c2c8de,#d8a5a6,#e01e28,#d61a23,#d11922,#cd1822,#ca1821,#c91821,#c81821,#c81821,#ca1821,#cc1822,#d01922,#d41923,#dc1a24,#da7a7d,#b0b9d9,#a2aed5,#abb5d7,#b4bcda,#c7cbde,#d98487,#de1b25,#d51923,#d01922,#cd1822,#ca1821,#c81821,#c81821,#c81821,#ca1821,#cd1822,#d01922,#d51923,#e01b25,#d8a3a4,#a9b3d7,#a4afd5,#acb6d8,#b6bddb,#ced1dd,#dd5e64,#dc1a24,#d41923,#d01922,#cc1822,#ca1821,#c81821,#c81821,#c91821,#ca1821,#cd1822,#d11922,#d61a23,#e0202a,#d9c4c4,#a5b0d6,#a5b0d5,#adb7d8,#b8bfdb,#d8d9dc,#e03f47,#da1a24,#d41923,#cf1922,#cc1822,#c91821,#c81821,#c81821,#c91821,#cb1821,#ce1822,#d21923,#d71a23,#e02932,#dbd7d7,#a2aed5,#a6b1d6,#afb8d9,#bac1dc,#dbd3d3,#e0323b,#d91a24,#d31923,#cf1922,#cb1821,#c91821,#c81821,#c81821,#c91821,#cb1821,#ce1922,#d31923,#d91a24,#e0353e,#d0d3dd,#a1add4,#a7b2d6,#b0b9d9,#bdc4dd)"></i><i style="background:linear-gradient(90deg,#dbd5d5,#9eaad3,#a3afd5,#afb8d9,#bdc3dd,#dcd9d9,#e03e46,#da1a24,#d41923,#cf1922,#cc1822,#ca1821,#c91821,#c81821,#c91821,#cb1821,#ce1922,#d21923,#d81a24,#e0333b,#d1d3dd,#9ca9d3,#a5b0d6,#b1bad9,#c0c6de,#dacece,#e03139,#d91a24,#d31923,#cf1922,#cc1821,#c91821,#c81821,#c81821,#ca1821,#cc1822,#cf1922,#d31923,#da1a24,#e0424a,#c1c7de,#9da9d3,#a7b2d6,#b3bbda,#c3c8de,#d8c1c1,#e02730,#d81a24,#d21923,#ce1822,#cb1821,#c91821,#c81821,#c91821,#ca1821,#cc1822,#d01922,#d41923,#dc1a24,#dc676c,#b2bbda,#9eaad3,#a9b3d7,#b5bddb,#c6cbde,#d8a6a7,#e01f29,#d71a23,#d21923,#ce1822,#cb1821,#c91821,#c81821,#c91821,#ca1821,#cd1822,#d01922,#d51923,#de1b25,#d89193,#a7b2d6,#9fabd4,#abb5d7,#b7bfdb,#cbcfdd,#d88789,#df1b25,#d61a23,#d11922,#cd1822,#ca1821,#c91821,#c81821,#c91821,#ca1821,#cd1822,#d11922,#d61a23,#e01d27,#d8b8b8,#a1add4,#a1add4,#adb6d8,#b9c1dc,#d2d4dd,#dc6267,#dd1b24,#d51923,#d01922,#cd1822,#ca1821,#c91821,#c81821,#c91821,#cb1821,#ce1822,#d21923,#d71a23,#e0252e,#dad0d0,#9eaad3,#a3aed5,#afb8d9,#bcc3dd,#dbdcdc,#e0424a,#db1a24,#d41923,#d01922,#cc1822,#ca1821,#c91821,#c81821,#c91821,#cb1821,#ce1822,#d21923,#d81a24,#e02f38,#d6d7dc,#9da9d3,#a5b0d5,#b0b9d9,#bfc5de,#dad1d1,#e0343d,#d91a24,#d31923,#cf1922,#cc1822,#ca1821,#c81821,#c81821,#c91821,#cc1821,#cf1922,#d31923,#d91a24,#e03d45,#c5cade,#9da9d3,#a6b1d6,#b2bbda,#c2c7de)"></i><i style="background:linear-gradient(90deg,#d5d6dd,#97a5d1,#a1add4,#b0b9d9,#c1c6de,#dbd7d7,#e0434b,#db1a24,#d41923,#d01922,#cd1822,#ca1821,#c91821,#c91821,#ca1821,#cc1822,#cf1922,#d31923,#d91a24,#e03d45,#c3c9de,#97a4d1,#a4afd5,#b3bbda,#c3c9de,#dacdcd,#e0343d,#da1a24,#d41923,#cf1922,#cc1822,#ca1821,#c91821,#c91821,#ca1821,#cc1822,#d01922,#d41923,#db1a24,#dd5c62,#b3bbda,#98a5d1,#a6b1d6,#b5bddb,#c7cbde,#d8c1c1,#e02a33,#d81a24,#d31923,#cf1922,#cc1822,#ca1821,#c91821,#c91821,#ca1821,#cd1822,#d01922,#d51923,#dd1b25,#d88689,#a6b1d6,#9aa7d2,#a8b3d7,#b8bfdb,#cacedd,#d8a9aa,#e0212b,#d71a23,#d21923,#ce1822,#cb1821,#ca1821,#c91821,#c91821,#cb1821,#cd1822,#d11922,#d51a23,#e01b25,#d8acad,#9da9d3,#9ca9d3,#abb5d7,#bac1dc,#cfd2dd,#d88d8f,#e01c26,#d61a23,#d11922,#ce1822,#cb1821,#c91821,#c91821,#c91821,#cb1821,#ce1822,#d11922,#d61a23,#e0222b,#dacbcb,#99a6d1,#9eabd3,#adb7d8,#bdc3dd,#d5d7dc,#db6a6f,#de1b25,#d51a23,#d11922,#cd1822,#cb1821,#c91821,#c91821,#ca1821,#cb1821,#ce1822,#d21923,#d81a24,#e02b34,#d9dadc,#97a5d1,#a1add4,#b0b9d9,#c0c6de,#dcdada,#df4a51,#dc1a24,#d51923,#d01922,#cd1822,#ca1821,#c91821,#c91821,#ca1821,#cc1822,#cf1922,#d31923,#d91a24,#e03841,#c8ccdd,#97a4d1,#a3aed5,#b2bbda,#c3c8de,#dad0d0,#e03840,#da1a24,#d41923,#d01922,#cc1822,#ca1821,#c91821,#c91821,#ca1821,#cc1822,#cf1922,#d41923,#db1a24,#de5359,#b8bfdb,#98a5d1,#a5b0d6,#b4bdda,#c6cade)"></i><i style="background:linear-gradient(90deg,#c4c9de,#919fcf,#a0acd4,#b1bad9,#c4c9de,#dbd6d6,#de4e55,#dd1b24,#d51923,#d11922,#cd1822,#cb1821,#ca1821,#ca1821,#cb1821,#cd1822,#d01922,#d41923,#db1a24,#dd585e,#b2bbda,#92a0cf,#a2aed5,#b4bcda,#c7cbde,#dacdcd,#e03942,#db1a24,#d41923,#d01922,#cd1822,#cb1821,#ca1821,#ca1821,#cb1821,#cd1822,#d01922,#d51923,#dd1b25,#d98284,#a4afd5,#94a2d0,#a5b0d6,#b7bfdb,#cacedd,#d8c2c2,#e02e37,#d91a24,#d41923,#d01922,#cd1822,#cb1821,#ca1821,#ca1821,#cb1821,#ce1822,#d11922,#d61a23,#e01c26,#d8a7a8,#99a6d2,#96a4d0,#a8b3d7,#bac1dc,#ced1dd,#d8aeae,#e0252f,#d81a24,#d31923,#cf1922,#cc1822,#ca1821,#ca1821,#ca1821,#cb1821,#ce1822,#d21923,#d61a23,#e0212b,#d9c8c8,#93a1cf,#99a6d1,#abb5d7,#bdc4dd,#d3d5dd,#d89496,#e01f28,#d71a23,#d21923,#ce1922,#cc1822,#ca1821,#ca1821,#ca1821,#cc1822,#ce1922,#d21923,#d71a24,#e02a33,#dbdbdc,#919fcf,#9ca9d3,#aeb7d8,#c0c6de,#d8d9dc,#da7579,#e01b25,#d61a23,#d11923,#ce1822,#cb1821,#ca1821,#ca1821,#ca1821,#cc1822,#cf1922,#d31923,#d91a24,#e0363f,#c8ccdd,#919fce,#9fabd4,#b1b9d9,#c3c8de,#dbd8d8,#de565c,#dd1b25,#d51a23,#d11922,#cd1822,#cb1821,#ca1821,#ca1821,#cb1821,#cd1822,#d01922,#d41923,#da1a24,#df4e55,#b7bedb,#92a0cf,#a2add5,#b3bcda,#c6cbde,#dacfcf,#e03d45,#db1a24,#d51923,#d01922,#cd1822,#cb1821,#ca1821,#ca1821,#cb1821,#cd1822,#d01922,#d41923,#dd1b24,#da777a,#a8b2d6,#93a1cf,#a4b0d5,#b6bedb,#c9cddd)"></i><i style="background:linear-gradient(90deg,#afb8d9,#8b9acc,#9eaad3,#b2bbda,#c7cbde,#dbd4d4,#dd5c62,#de1b25,#d61a23,#d21923,#ce1922,#cc1822,#cb1821,#cb1821,#cc1821,#ce1822,#d11922,#d51923,#de1b25,#d98587,#a0acd4,#8d9ccd,#a1add4,#b6bddb,#cacedd,#dacdcd,#e04149,#dc1a24,#d51923,#d11922,#ce1822,#cc1822,#cb1821,#cb1821,#cc1822,#ce1822,#d11922,#d61a23,#e01d26,#d8aaab,#94a2d0,#909ece,#a4b0d5,#b9c0dc,#ced1dd,#d8c3c3,#e0343d,#da1a24,#d41923,#d01922,#cd1822,#cc1821,#cb1821,#cb1821,#cc1822,#ce1922,#d21923,#d71a23,#e0222c,#d9c9c9,#8d9ccd,#93a1cf,#a8b2d6,#bcc3dd,#d1d4dd,#d8b3b3,#e02a33,#d91a24,#d41923,#d01922,#cd1822,#cb1821,#cb1821,#cb1821,#cc1822,#cf1922,#d31923,#d81a24,#e02a33,#d9dadc,#8a99cc,#96a4d1,#abb5d7,#c0c6de,#d6d7dc,#d89c9d,#e0232c,#d81a24,#d31923,#cf1922,#cd1822,#cb1821,#cb1821,#cb1821,#cd1822,#cf1922,#d31923,#d91a24,#e0373f,#c5cade,#8999cc,#9aa7d2,#aeb7d8,#c3c8de,#dbdbdc,#d98285,#e01e28,#d71a23,#d21923,#cf1922,#cc1822,#cb1821,#cb1821,#cb1821,#cd1822,#d01922,#d41923,#db1a24,#de4f56,#b3bbda,#8b9acc,#9daad3,#b1bad9,#c6cbde,#dbd6d6,#dc6469,#df1b25,#d61a23,#d21923,#ce1922,#cc1822,#cb1821,#cb1821,#cc1821,#cd1822,#d11922,#d51923,#dd1b24,#da797c,#a3afd5,#8d9ccd,#a0acd4,#b5bdda,#c9cddd,#dacfcf,#df484f,#dd1b24,#d51a23,#d11922,#ce1822,#cc1822,#cb1821,#cb1821,#cc1822,#ce1822,#d11922,#d61a23,#e01b25,#d8a1a2,#98a5d1,#8f9ece,#a4afd5,#b8bfdb,#cdd0dd)"></i><i style="background:linear-gradient(90deg,#99a6d1,#8696cb,#9da9d3,#b3bcda,#c9cddd,#dbd3d3,#db6c70,#e01c26,#d71a23,#d31923,#cf1922,#cd1822,#cc1822,#cc1822,#cd1822,#cf1922,#d21923,#d61a23,#e01f28,#d8b4b4,#8e9ccd,#8999cc,#a0acd4,#b7bedb,#cdd0dd,#dacccc,#de5157,#de1b25,#d61a23,#d21923,#cf1922,#cd1822,#cc1822,#cc1822,#cd1822,#cf1922,#d21923,#d71a23,#e0252f,#dacece,#8696cb,#8d9ccd,#a4afd5,#bac1dc,#d1d3dd,#d9c4c4,#e03c44,#dc1a24,#d61a23,#d21923,#cf1922,#cd1822,#cc1822,#cc1822,#cd1822,#d01922,#d31923,#d81a24,#e02e37,#d4d6dd,#8293c9,#909fce,#a7b2d6,#bec4dd,#d5d6dd,#d8b7b7,#e0313a,#db1a24,#d51923,#d11922,#ce1822,#cc1822,#cc1822,#cc1822,#ce1822,#d01922,#d41923,#da1a24,#e03a43,#bfc5de,#8192c9,#94a2d0,#abb5d7,#c2c7de,#d9d9dc,#d8a4a5,#e02831,#d91a24,#d41923,#d01922,#ce1822,#cc1822,#cc1822,#cc1822,#ce1822,#d11922,#d41923,#db1a24,#dd575d,#abb5d8,#8393c9,#98a5d1,#afb8d9,#c5cade,#dcdada,#d88e90,#e0222c,#d81a24,#d41923,#d01922,#cd1822,#cc1822,#cc1822,#cc1822,#ce1922,#d11922,#d51923,#de1b25,#d98386,#9ca9d3,#8696ca,#9ca8d2,#b2bbda,#c8cddd,#dbd5d5,#da7377,#e01d27,#d71a24,#d31923,#cf1922,#cd1822,#cc1822,#cc1822,#cd1822,#cf1922,#d21923,#d61a23,#e01d27,#d8aaaa,#909fce,#8998cb,#9fabd4,#b6bedb,#cccfdd,#dacece,#dd585e,#df1b25,#d71a23,#d21923,#cf1922,#cd1822,#cc1822,#cc1822,#cd1822,#cf1922,#d21923,#d71a23,#e0232d,#d9c9c9,#8898cb,#8c9bcd,#a3aed5,#b9c1dc,#d0d2dd)"></i><i style="background:linear-gradient(90deg,#8595ca,#8293c9,#9ba8d2,#b4bcda,#cccfdd,#dad1d1,#da7b7e,#e0212b,#d91a24,#d41923,#d11922,#ce1922,#cd1822,#cd1822,#ce1822,#d01922,#d31923,#d81a24,#e02a34,#dbd8d8,#7e8fc8,#8696cb,#9fabd4,#b8bfdb,#cfd2dd,#dacbcb,#dc6167,#e01d26,#d81a24,#d31923,#d01922,#ce1822,#cd1822,#cd1822,#ce1922,#d01922,#d41923,#d91a24,#e0353e,#cbcfdd,#7a8cc6,#8a99cc,#a3afd5,#bcc2dd,#d3d5dd,#d9c4c4,#df4950,#df1b25,#d71a23,#d31923,#d01922,#ce1822,#cd1822,#cd1822,#cf1922,#d11922,#d41923,#db1a24,#df464e,#b6bedb,#798bc6,#8e9dcd,#a7b2d6,#c0c6de,#d7d8dc,#d8baba,#e03941,#dd1b24,#d61a23,#d21923,#cf1922,#ce1822,#cd1822,#cd1822,#cf1922,#d11922,#d51923,#dd1b24,#dc696e,#a1add4,#7b8dc6,#92a0cf,#abb5d7,#c3c9de,#dbdcdc,#d8a9aa,#e02f38,#db1a24,#d51a23,#d21923,#cf1922,#ce1822,#cd1822,#ce1822,#cf1922,#d21923,#d61a23,#e01b25,#d89495,#91a0cf,#7e8fc8,#96a4d0,#afb8d9,#c7cbde,#dbd8d8,#d89799,#e02831,#da1a24,#d51923,#d11922,#cf1922,#cd1822,#cd1822,#ce1822,#d01922,#d21923,#d71a23,#e0202a,#d8baba,#8696cb,#8192c9,#9aa7d2,#b3bbda,#cacedd,#dbd3d3,#d98284,#e0222c,#d91a24,#d41923,#d11922,#ce1922,#cd1822,#cd1822,#ce1822,#d01922,#d31923,#d81a24,#e02831,#dbd2d2,#7f90c8,#8595ca,#9eabd3,#b7bedb,#ced1dd,#dacdcd,#dc686d,#e01e28,#d81a24,#d41923,#d01922,#ce1822,#cd1822,#cd1822,#ce1822,#d01922,#d41923,#d91a24,#e0323b,#d1d3dd,#7b8dc7,#8998cc,#a2aed5,#bbc2dc,#d2d4dd)"></i><i style="background:linear-gradient(90deg,#7387c4,#7f90c8,#9aa7d2,#b4bdda,#cdd1dd,#dacfcf,#d8888a,#e02730,#da1a24,#d51a23,#d21923,#d01922,#cf1922,#cf1922,#d01922,#d21923,#d51923,#db1a24,#e04048,#bec4dd,#7185c3,#8394ca,#9fabd3,#b9c0dc,#d1d4dd,#d9caca,#db7175,#e0222b,#d91a24,#d51923,#d21923,#d01922,#cf1922,#cf1922,#d01922,#d21923,#d51a23,#dd1b25,#dc6166,#a8b2d6,#7184c3,#8897cb,#a3aed5,#bdc3dd,#d5d7dc,#d9c4c4,#dd5a60,#e01d27,#d81a24,#d41923,#d11922,#cf1922,#cf1922,#cf1922,#d01922,#d21923,#d61a23,#e01b25,#d8898b,#94a2d0,#7286c3,#8c9bcd,#a7b2d6,#c1c7de,#dadadc,#d8bbbb,#e0444b,#df1b25,#d81a24,#d41923,#d11922,#cf1922,#ce1922,#cf1922,#d01922,#d31923,#d71a23,#e01f29,#d8acac,#8494ca,#7688c4,#919fce,#abb5d7,#c5cade,#dcdada,#d8adae,#e03840,#dd1b25,#d71a23,#d31923,#d11922,#cf1922,#ce1922,#cf1922,#d11922,#d31923,#d81a24,#e0262f,#d9caca,#7a8cc6,#7a8cc6,#95a3d0,#afb8d9,#c8cddd,#dbd6d6,#d89e9f,#e02f38,#dc1a24,#d61a23,#d31923,#d01922,#cf1922,#cf1922,#cf1922,#d11922,#d41923,#d91a24,#e02f38,#d8d9dc,#7487c4,#7e8fc8,#99a6d2,#b3bcda,#ccd0dd,#dad1d1,#d88d8f,#e02932,#db1a24,#d61a23,#d21923,#d01922,#cf1922,#cf1922,#cf1922,#d11922,#d51923,#db1a24,#e03c44,#c3c8de,#7185c3,#8293c9,#9daad3,#b7bfdb,#d0d3dd,#dacbcb,#da777b,#e0232d,#da1a24,#d51923,#d21923,#d01922,#cf1922,#cf1922,#d01922,#d21923,#d51923,#dc1b24,#dd585e,#aeb7d8,#7185c3,#8796cb,#a2add5,#bcc2dd,#d4d6dd)"></i><i style="background:linear-gradient(90deg,#677dbf,#7d8ec7,#9aa7d2,#b5bddb,#cfd2dd,#dacece,#d89092,#e02e37,#dd1b24,#d71a23,#d41923,#d21923,#d01922,#d01922,#d11922,#d31923,#d71a23,#e01c26,#d8898b,#96a3d0,#687dbf,#8292c9,#9eaad3,#b9c1dc,#d3d5dd,#d9c9c9,#d97e81,#e02831,#db1a24,#d61a23,#d31923,#d11922,#d01922,#d01922,#d11922,#d41923,#d81a24,#e0212b,#d8aaab,#8494ca,#6a7fc0,#8696cb,#a2aed5,#bec4dd,#d7d8dc,#d8c3c3,#dc696e,#e0232c,#da1a24,#d61a23,#d31923,#d11922,#d01922,#d01922,#d21923,#d41923,#d91a24,#e02731,#d9c8c8,#7689c5,#6e82c2,#8b9acc,#a7b1d6,#c2c7de,#dbdbdc,#d8bbbb,#de555b,#e01f28,#d91a24,#d51a23,#d31923,#d11922,#d01922,#d11922,#d21923,#d51923,#da1a24,#e03039,#dbdbdc,#6c81c1,#7286c3,#8f9ece,#abb5d7,#c6cbde,#dbd8d8,#d8afb0,#e04149,#e01b25,#d91a24,#d51923,#d21923,#d11922,#d01922,#d11922,#d21923,#d51923,#db1a24,#e03c44,#c5cade,#687ebf,#7789c5,#94a2d0,#afb8d9,#cacedd,#dbd4d4,#d8a2a3,#e03840,#de1b25,#d81a24,#d41923,#d21923,#d01922,#d01922,#d11922,#d31923,#d61a23,#dd1b25,#de575d,#afb8d9,#677cbf,#7b8dc7,#98a5d1,#b4bcda,#ced1dd,#dacfcf,#d89495,#e03039,#dd1b24,#d71a24,#d41923,#d21923,#d01922,#d01922,#d11922,#d31923,#d71a23,#e01b25,#d97d80,#9ba7d2,#677dbf,#8091c8,#9da9d3,#b8c0dc,#d2d4dd,#d9caca,#d98386,#e02a33,#dc1a24,#d71a23,#d31923,#d11922,#d01922,#d01922,#d11922,#d41923,#d71a24,#e02029,#d8a1a2,#8998cc,#697fc0,#8595ca,#a1add4,#bcc3dd,#d6d7dc)"></i><i style="background:linear-gradient(90deg,#5f76bc,#7b8dc7,#99a6d1,#b5bddb,#d0d3dd,#dacccc,#d89597,#e0363f,#e01b25,#d91a24,#d61a23,#d31923,#d21923,#d21923,#d31923,#d51923,#da1a24,#e02c35,#dacccc,#7285c3,#6279bd,#8091c8,#9eaad3,#bac1dc,#d4d6dd,#d9c8c8,#d8888a,#e03038,#de1b25,#d81a24,#d51923,#d31923,#d21923,#d21923,#d31923,#d61a23,#db1a24,#e0363e,#d8d9dc,#677cbf,#667cbf,#8595ca,#a2aed5,#bec5dd,#d8d9dc,#d8c3c3,#da7679,#e02a33,#dd1b24,#d81a24,#d51923,#d31923,#d21923,#d21923,#d41923,#d61a23,#dd1b24,#e0434b,#c3c8de,#5f77bc,#6b80c0,#8a99cc,#a7b1d6,#c3c8de,#dcdbdb,#d8bbbb,#dc6369,#e0242e,#dc1a24,#d71a23,#d41923,#d31923,#d21923,#d21923,#d41923,#d71a23,#df1b25,#dd6065,#acb6d8,#5c74bb,#7084c2,#8e9dce,#abb5d7,#c7cbde,#dbd7d7,#d8b0b1,#de5158,#e0202a,#db1a24,#d71a23,#d41923,#d21923,#d21923,#d31923,#d41923,#d81a24,#e01e27,#d88688,#96a4d0,#5c74bb,#7588c4,#93a1cf,#b0b9d9,#cbcedd,#dbd2d2,#d8a5a6,#e04048,#e01d27,#da1a24,#d61a23,#d41923,#d21923,#d21923,#d31923,#d51923,#d81a24,#e0232c,#d8a8a9,#8494ca,#5e76bc,#7a8cc6,#98a5d1,#b4bcda,#cfd2dd,#dacece,#d8989a,#e03841,#e01b25,#d91a24,#d61a23,#d31923,#d21923,#d21923,#d31923,#d51923,#da1a24,#e02a33,#d9c6c6,#7588c4,#6178bd,#7f90c8,#9ca9d3,#b9c0dc,#d3d5dd,#d9c9c9,#d88c8e,#e0313a,#de1b25,#d91a24,#d51923,#d31923,#d21923,#d21923,#d31923,#d61a23,#db1a24,#e0333c,#dcdbdb,#6a7fc0,#657bbe,#8494ca,#a1add4,#bdc4dd,#d7d8dc)"></i><i style="background:linear-gradient(90deg,#5b74bb,#7a8cc6,#99a6d1,#b6bedb,#d1d3dd,#dacccc,#d8999a,#e03e46,#e01f29,#db1a24,#d81a24,#d51a23,#d41923,#d41923,#d51923,#d81a24,#e01b25,#dd5a60,#bac1dc,#5a72ba,#5f77bc,#7f90c8,#9daad3,#bac1dc,#d5d6dd,#d9c7c7,#d88e90,#e03740,#e01d27,#db1a24,#d71a23,#d51923,#d41923,#d41923,#d51a23,#d91a24,#e01f29,#da7a7d,#a4afd5,#5871b9,#647abe,#8494ca,#a2aed5,#bfc5de,#d9dadc,#d8c2c2,#d97f82,#e0313a,#e01b25,#da1a24,#d71a23,#d51923,#d41923,#d41923,#d61a23,#d91a24,#e0242d,#d8999b,#8f9dce,#5871b9,#697fc0,#8999cc,#a7b1d6,#c3c8de,#dcdbdb,#d8bbbb,#db6f73,#e02b34,#de1b25,#d91a24,#d61a23,#d51923,#d41923,#d41923,#d61a23,#da1a24,#e02933,#d8b9b9,#7b8dc7,#5871b9,#6e83c2,#8e9dcd,#abb5d7,#c7ccdd,#dbd6d6,#d8b1b2,#dd5f64,#e02730,#dd1b25,#d91a24,#d61a23,#d41923,#d41923,#d51923,#d71a23,#dc1a24,#e0313a,#dacfcf,#6c80c1,#5972ba,#7487c4,#93a1cf,#b0b9d9,#cbcfdd,#dbd2d2,#d8a7a8,#de4f56,#e0232d,#dc1a24,#d81a24,#d61a23,#d41923,#d41923,#d51923,#d71a23,#dd1b25,#e03c44,#d5d6dd,#6078bd,#5b73bb,#798bc6,#97a5d1,#b4bdda,#cfd2dd,#dacdcd,#d89c9d,#e04048,#e0202a,#db1a24,#d81a24,#d51a23,#d41923,#d41923,#d51923,#d81a24,#e01b25,#de5258,#c0c6de,#5b73ba,#5e76bc,#7e8fc8,#9ca9d3,#b9c0dc,#d4d5dd,#d9c8c8,#d89193,#e03941,#e01d27,#db1a24,#d71a24,#d51923,#d41923,#d41923,#d51a23,#d81a24,#e01e28,#db7175,#aab4d7,#5972ba,#6379be,#8393c9,#a1add4,#bec4dd,#d8d9dc)"></i><i style="background:linear-gradient(90deg,#5b73bb,#7a8cc6,#99a6d1,#b6bedb,#d1d3dd,#dacccc,#d89c9e,#df4b52,#e0252f,#de1b25,#da1a24,#d81a24,#d71a23,#d71a23,#d81a24,#dd1b24,#e02e37,#d8b8b9,#8292c9,#546eb7,#5e76bc,#7f90c8,#9daad3,#bac1dc,#d5d7dc,#d9c7c7,#d89294,#e03f47,#e0222c,#dd1b25,#da1a24,#d71a24,#d61a23,#d71a23,#d91a24,#de1b25,#e0363f,#dacdcd,#7084c2,#546eb7,#647abe,#8494ca,#a2aed5,#bfc5de,#d9dadc,#d8c3c3,#d8878a,#e03941,#e02029,#dd1b24,#d91a24,#d71a23,#d61a23,#d71a23,#d91a24,#e01b25,#e04048,#d9dadc,#6078bd,#556fb8,#697ec0,#8998cc,#a7b1d6,#c3c9de,#dcdada,#d8bcbc,#da797d,#e0333c,#e01d27,#dc1a24,#d91a24,#d71a23,#d61a23,#d71a23,#da1a24,#e01e28,#de565c,#c6cade,#5972ba,#5770b9,#6e82c2,#8e9ccd,#abb5d8,#c7ccdd,#dbd6d6,#d8b3b3,#db6b6f,#e02e37,#e01c26,#db1a24,#d81a24,#d71a23,#d61a23,#d71a24,#da1a24,#e0222b,#da7377,#b0b9d9,#566fb8,#5871b9,#7387c4,#92a1cf,#b0b9d9,#cccfdd,#dad1d1,#d8a9aa,#dd5c62,#e02a33,#df1b25,#db1a24,#d81a24,#d71a23,#d61a23,#d81a24,#db1a24,#e02630,#d89395,#9ba8d2,#546eb8,#5a73ba,#798bc6,#97a5d1,#b4bdda,#d0d2dd,#dacdcd,#d89fa0,#de4e55,#e0262f,#de1b25,#da1a24,#d81a24,#d71a23,#d71a23,#d81a24,#dc1b24,#e02c36,#d8b0b1,#8797cb,#546eb7,#5d75bb,#7e8fc8,#9ca9d3,#b9c0dc,#d4d6dd,#d9c8c8,#d89597,#e04149,#e0232c,#de1b25,#da1a24,#d81a24,#d61a23,#d71a23,#d81a24,#de1b25,#e0343d,#d9c8c8,#7588c4,#546eb7,#6279bd,#8393c9,#a1add4,#bec4dd,#d8d9dc)"></i><i style="background:linear-gradient(90deg,#5b73bb,#7a8cc6,#99a6d1,#b6bedb,#d1d3dd,#dacccc,#d8a0a1,#dd595f,#e02c36,#e01e28,#de1b25,#db1a24,#da1a24,#da1a24,#dd1b25,#e0262f,#db6f73,#c3c8de,#5971b9,#516cb6,#5f76bc,#7f90c8,#9daad3,#bac2dc,#d5d7dc,#d9c8c8,#d89799,#df4d54,#e02932,#e01d27,#dd1b25,#db1a24,#da1a24,#db1a24,#de1b25,#e02a33,#d88a8c,#afb8d9,#556eb8,#536db7,#647abe,#8494ca,#a2aed5,#bfc5de,#d9dadc,#d8c3c3,#d88e90,#e04149,#e02630,#e01c26,#dd1b24,#da1a24,#da1a24,#db1a24,#e01b25,#e03038,#d8a2a3,#9aa7d2,#526cb6,#546eb8,#697fc0,#8999cc,#a7b1d6,#c3c9de,#dcdada,#d8bebe,#d98385,#e03b43,#e0242d,#e01b25,#dc1a24,#da1a24,#da1a24,#db1a24,#e01c26,#e0363e,#d8bcbc,#8696cb,#506bb6,#5670b8,#6e83c2,#8e9dcd,#abb5d8,#c7ccdd,#dbd6d6,#d8b5b5,#da7679,#e0363e,#e0222b,#df1b25,#dc1a24,#da1a24,#da1a24,#dc1a24,#e01e28,#e03e46,#dacece,#7387c4,#506ab5,#5871b9,#7487c4,#93a1cf,#b0b9d9,#cccfdd,#dbd2d2,#d8acad,#dc696d,#e0313a,#e0202a,#de1b25,#db1a24,#da1a24,#da1a24,#dc1a24,#e0212b,#de5056,#d9dadc,#647abe,#506bb6,#5a73ba,#798bc6,#97a5d1,#b5bdda,#d0d2dd,#dacdcd,#d8a3a4,#dd5c62,#e02d36,#e01f28,#de1b25,#db1a24,#da1a24,#da1a24,#dd1b25,#e0252e,#dc676c,#c8ccdd,#5a72ba,#516cb6,#5d75bc,#7e8fc8,#9ca9d3,#b9c0dc,#d4d6dd,#d9c9c9,#d89a9b,#de5057,#e02a33,#e01d27,#dd1b25,#db1a24,#da1a24,#da1a24,#de1b25,#e02932,#d98385,#b4bcda,#566fb8,#526db7,#6379bd,#8393c9,#a1add4,#bec4dd,#d8d9dc)"></i><i style="background:linear-gradient(90deg,#5c74bb,#7b8dc7,#99a6d1,#b6bedb,#d1d3dd,#dacdcd,#d8a5a6,#dc676c,#e0353e,#e02630,#e0202a,#e01c26,#e01b25,#e01e27,#e02831,#de5158,#dacdcd,#8091c8,#4e69b5,#516cb6,#6077bd,#8091c8,#9eaad3,#bac1dc,#d5d6dd,#d9c9c9,#d89d9e,#dd5c62,#e0323b,#e0252e,#e01f29,#e01c26,#e01b25,#e01f28,#e02b34,#dc6368,#dcdcdc,#6e83c2,#4d68b4,#536db7,#657bbe,#8595ca,#a2aed5,#bfc5de,#d9dadc,#d9c5c5,#d89496,#de5158,#e02f38,#e0242d,#e01f28,#e01c26,#e01b25,#e02029,#e02f38,#da787b,#cdd0dd,#5e76bc,#4c68b4,#556fb8,#6a80c0,#8a99cc,#a7b2d6,#c3c9de,#dcdbdb,#d8c0c0,#d88c8e,#df474e,#e02c35,#e0232c,#e01e28,#e01b25,#e01c26,#e0212b,#e0333c,#d88e90,#bcc3dd,#5770b9,#4d68b4,#5770b9,#7084c2,#8e9dce,#abb5d8,#c7ccdd,#dbd7d7,#d8b8b8,#d98183,#e03f47,#e02a33,#e0222b,#e01d27,#e01b25,#e01c26,#e0232c,#e03841,#d8a2a3,#a9b4d7,#536db7,#4e69b5,#5972ba,#7588c4,#93a1cf,#b0b9d9,#cbcfdd,#dbd3d3,#d8b0b0,#da7579,#e03a43,#e02831,#e0212b,#e01d27,#e01b25,#e01d27,#e0252e,#e03f47,#d8b9ba,#97a4d1,#506bb6,#4f6ab5,#5b73bb,#7a8cc6,#98a5d1,#b5bdda,#cfd2dd,#dacece,#d8a7a8,#db6a6e,#e0363f,#e02730,#e0202a,#e01c26,#e01b25,#e01d27,#e02731,#df4d54,#d9caca,#8595ca,#4e69b5,#516bb6,#5f76bc,#7f90c8,#9ca9d3,#b9c0dc,#d4d5dd,#d9caca,#d89fa0,#dd5f64,#e0333c,#e0252f,#e01f29,#e01c26,#e01b25,#e01e28,#e02a34,#dd5e64,#dbd8d8,#7386c4,#4d68b4,#536db7,#647abe,#8494ca,#a1add4,#bec4dd,#d8d9dc)"></i><i style="background:linear-gradient(90deg,#5d75bc,#7c8ec7,#99a6d2,#b6bedb,#d0d3dd,#dacfcf,#d8abab,#da7579,#e04048,#e0323b,#e02d36,#e02b34,#e02c35,#e0353d,#dd5b61,#d8bdbd,#a8b3d7,#556fb8,#4a66b3,#526cb7,#6279bd,#8192c9,#9eaad3,#bac1dc,#d4d6dd,#d9caca,#d8a3a4,#db6c70,#e03d45,#e03139,#e02d36,#e02b34,#e02d36,#e03740,#dc686c,#d9c9c9,#98a5d1,#516cb6,#4b66b3,#546eb7,#677dbf,#8696ca,#a3aed5,#bfc5de,#d8d9dc,#d9c6c6,#d89b9c,#dc6267,#e03a42,#e03039,#e02c35,#e02b34,#e02e37,#e03a43,#da767a,#dbd4d4,#8797cb,#4e69b5,#4b67b4,#566fb8,#6c81c1,#8a9acc,#a7b2d6,#c3c8de,#dcdcdc,#d8c2c2,#d89395,#dd595f,#e03740,#e02f38,#e02c35,#e02b34,#e02f38,#e03d46,#d88789,#d8d9dc,#7789c5,#4c67b4,#4d68b4,#5871b9,#7185c3,#8f9ece,#acb5d8,#c7cbde,#dbd8d8,#d8bcbd,#d88c8e,#de5157,#e0353e,#e02e37,#e02c35,#e02b34,#e03039,#e0434b,#d89697,#cbcedd,#677dbf,#4a66b3,#4e69b5,#5a72ba,#7689c5,#94a1cf,#b0b9d9,#cbcfdd,#dbd4d4,#d8b5b5,#d98285,#df4950,#e0343c,#e02e37,#e02b35,#e02c35,#e0323b,#df4c53,#d8a6a7,#bdc3dd,#5b73bb,#4a66b3,#506bb6,#5c74bb,#7b8dc6,#98a5d1,#b5bdda,#cfd2dd,#dad0d0,#d8adad,#da787c,#e04249,#e0323b,#e02d36,#e02b34,#e02c35,#e0343d,#dd575e,#d8b8b8,#acb6d8,#5670b8,#4a66b3,#526cb6,#6178bd,#8091c8,#9da9d3,#b9c0dc,#d3d5dd,#dacccc,#d8a5a6,#db6e73,#e03e46,#e0313a,#e02d36,#e02b34,#e02d36,#e0373f,#dc6469,#d9c6c6,#9ca9d3,#526cb7,#4a66b3,#546eb7,#667cbf,#8495ca,#a1add4,#bec4dd,#d7d8dc)"></i><i style="background:linear-gradient(90deg,#6077bd,#7e8fc8,#9aa7d2,#b6bedb,#cfd2dd,#dad0d0,#d8b1b2,#d98487,#de565c,#e04048,#e04048,#df4a51,#dd5b61,#d98386,#d8c2c2,#bcc2dd,#677dbf,#4b67b3,#4a66b3,#546eb7,#657bbe,#8293c9,#9fabd3,#bac1dc,#d3d5dd,#dacccc,#d8aaab,#da7c7f,#de5157,#e03f48,#e04149,#df4c53,#dd5f65,#d88c8e,#d9c9c9,#afb8d9,#5c74bb,#4965b3,#4c67b4,#566fb8,#6a7fc0,#8797cb,#a3aed5,#bec5de,#d7d8dc,#d9c9c9,#d8a3a4,#da7477,#df4c53,#e03f47,#e0434a,#df4e55,#dc6469,#d89496,#dad1d1,#a2add5,#5770b9,#4865b2,#4d68b4,#5871b9,#6e83c2,#8b9bcd,#a7b2d6,#c3c8de,#dbdbdc,#d9c5c5,#d89c9d,#db6c70,#df484f,#e03f47,#e0444c,#de5057,#db6a6e,#d89d9e,#dcdada,#94a2d0,#536db7,#4865b2,#4e69b5,#5972ba,#7386c4,#909ece,#acb6d8,#c6cbde,#dcd9d9,#d8c1c1,#d89596,#dc6469,#e0454c,#e03f47,#df464d,#de5359,#db7074,#d8a7a8,#d4d6dd,#8696cb,#506ab5,#4965b2,#506bb6,#5b73bb,#788ac5,#94a2d0,#b0b9d9,#cacedd,#dbd5d5,#d8baba,#d88e90,#dd5e63,#e0424a,#e04048,#df474f,#de565c,#da787b,#d8b3b4,#cacedd,#788bc6,#4d68b4,#4965b3,#526cb6,#5f76bc,#7d8ec7,#99a6d1,#b4bdda,#ced1dd,#dad1d1,#d8b3b3,#d88789,#dd585e,#e04048,#e04048,#df4950,#dd5a60,#d98183,#d8c0c0,#bfc5de,#6b80c1,#4b67b3,#4a66b3,#546db7,#647abe,#8192c9,#9daad3,#b9c0dc,#d2d4dd,#dacece,#d8acac,#d97e81,#de5259,#e04048,#e04149,#df4b52,#dd5e64,#d88a8c,#d9c7c7,#b2bbda,#5e76bc,#4a66b3,#4b67b3,#556fb8,#687ec0,#8696ca,#a2add5,#bdc4dd,#d6d7dc)"></i><i style="background:linear-gradient(90deg,#647abe,#8091c8,#9ba8d2,#b6bedb,#ced1dd,#dbd2d2,#d8b8b8,#d89193,#db6c71,#dd5e64,#db6b70,#d88a8c,#d8aaaa,#dacfcf,#bfc5de,#7e8fc8,#516cb6,#4965b2,#4d68b4,#566fb8,#687ebf,#8494ca,#9fabd4,#bac1dc,#d2d4dd,#dacfcf,#d8b1b2,#d88c8d,#dc686d,#dd5e64,#db6f73,#d88e90,#d8b0b1,#dbd4d4,#b6bddb,#7386c4,#4f6ab5,#4965b2,#4e69b5,#5871b9,#6d81c1,#8898cb,#a3afd5,#bec4dd,#d6d7dc,#dacbcb,#d8abac,#d98587,#dc656a,#dd5f65,#da7377,#d89294,#d8b7b7,#dcdada,#acb6d8,#687ec0,#4d68b4,#4965b2,#4f6ab5,#5972ba,#7185c3,#8d9ccd,#a8b2d6,#c2c8de,#d9dadc,#d9c7c7,#d8a4a5,#d97e81,#dc6267,#dc6166,#da787b,#d89799,#d8bebe,#d7d8dc,#a2add4,#5e75bc,#4b67b3,#4966b3,#516bb6,#5b73bb,#7688c4,#919fcf,#acb6d8,#c6cbde,#dcdbdb,#d9c4c4,#d89e9f,#da787c,#dd6065,#dc6369,#d97d80,#d89c9e,#d8c3c3,#d1d3dd,#97a4d1,#5972ba,#4a66b3,#4a66b3,#526db7,#5e76bc,#7a8cc6,#95a3d0,#b0b9d9,#c9cddd,#dbd7d7,#d8c0c0,#d8989a,#db7376,#dd5e64,#dc676b,#d98285,#d8a2a3,#d9c8c8,#c9cddd,#8c9bcd,#556fb8,#4965b2,#4b67b3,#546eb7,#6279bd,#7f90c8,#9aa7d2,#b4bdda,#cdd0dd,#dbd3d3,#d8baba,#d89294,#db6e72,#dd5e64,#db6a6f,#d8888a,#d8a8a9,#dacdcd,#c1c7de,#8192c9,#526cb7,#4965b2,#4c68b4,#566fb8,#677dbf,#8393c9,#9eaad3,#b9c0dc,#d1d3dd,#dad0d0,#d8b3b4,#d88d8f,#dc696e,#dd5e64,#db6e72,#d88d8f,#d8aeaf,#dbd3d3,#b8c0dc,#7689c5,#506ab5,#4965b2,#4e69b5,#5770b9,#6b80c1,#8797cb,#a2aed5,#bdc3dd,#d5d6dd)"></i><i style="background:linear-gradient(90deg,#677dbf,#8292c9,#9ca8d2,#b5bddb,#cdd0dd,#dbd5d5,#d8bfbf,#d89c9e,#d98285,#da7a7d,#d88f91,#d8b4b4,#dbd4d4,#c1c7de,#909ece,#5b74bb,#4d69b4,#4b67b3,#506ab5,#5871b9,#6c80c1,#8696cb,#a0acd4,#b9c1dc,#d1d3dd,#dad1d1,#d8b9ba,#d89799,#d97f82,#da7b7f,#d89495,#d8bbbb,#dcd9d9,#bac1dc,#8797cb,#5871b9,#4c68b4,#4b67b3,#516bb6,#5a72ba,#7084c2,#8a99cc,#a4afd5,#bec4dd,#d4d6dd,#dacece,#d8b3b4,#d89395,#da7c7f,#d97e81,#d8999a,#d8c1c1,#dadadc,#b3bbda,#7e90c8,#566fb8,#4b67b3,#4c67b4,#526cb7,#5b73bb,#7487c4,#8e9dce,#a8b3d7,#c1c7de,#d8d9dc,#d9caca,#d8aeae,#d88f91,#da7a7d,#d98184,#d89ea0,#d9c5c5,#d5d6dd,#abb5d7,#7588c4,#536db7,#4b67b3,#4c68b4,#536db7,#5e76bc,#788bc5,#92a0cf,#acb6d8,#c5cade,#dbdbdc,#d9c7c7,#d8a8a9,#d88b8d,#da797c,#d98587,#d8a4a5,#d9c9c9,#cfd2dd,#a3aed5,#6d81c1,#516bb6,#4a66b3,#4d69b4,#556eb8,#6279bd,#7c8ec7,#96a4d1,#b0b9d9,#c9cddd,#dcd9d9,#d9c4c4,#d8a3a4,#d88789,#da797c,#d88a8c,#d8abac,#dacece,#c9cddd,#9aa7d2,#647bbe,#4f6ab5,#4a66b3,#4e69b5,#5670b8,#667cbf,#8191c9,#9ba7d2,#b4bcda,#ccd0dd,#dbd6d6,#d8c1c1,#d89e9f,#d98385,#da797d,#d88e90,#d8b2b2,#dbd3d3,#c3c8de,#92a0cf,#5d74bb,#4e69b5,#4b67b3,#4f6ab5,#5871b9,#6a80c0,#8595ca,#9fabd4,#b8c0dc,#d0d2dd,#dbd2d2,#d8bbbb,#d8999a,#d97f82,#da7b7e,#d89394,#d8b9b9,#dbd8d8,#bcc3dd,#8999cc,#5972ba,#4d68b4,#4b67b3,#516bb6,#5972ba,#6f83c2,#8998cc,#a3aed5,#bcc3dd,#d3d5dd)"></i><i style="background:linear-gradient(90deg,#6b80c1,#8494ca,#9da9d3,#b5bddb,#cccfdd,#dbd7d7,#d9c4c4,#d8a7a8,#d89395,#d89092,#d8a5a6,#d9c8c8,#d0d3dd,#a7b2d6,#7a8cc6,#5871b9,#4f6ab5,#4e69b5,#536db7,#5a73ba,#6f83c2,#8898cb,#a1add4,#b9c0dc,#cfd2dd,#dbd4d4,#d8c1c1,#d8a3a4,#d89193,#d89294,#d8aaab,#dacdcd,#cacedd,#a0acd4,#7286c3,#566fb8,#4f6ab5,#4f6ab5,#546eb7,#5c74bb,#7387c4,#8c9bcd,#a5b0d5,#bdc4dd,#d3d5dd,#dad1d1,#d8bcbc,#d89fa1,#d89092,#d89496,#d8b0b1,#dbd2d2,#c5cade,#99a6d1,#6b80c1,#546eb7,#4e69b5,#4f6ab5,#556fb8,#5f77bc,#778ac5,#909ece,#a8b3d7,#c1c7de,#d6d7dc,#dacece,#d8b7b7,#d89c9d,#d88f91,#d89798,#d8b7b7,#dbd7d7,#bfc5de,#91a0cf,#657bbe,#536db7,#4e69b5,#506bb6,#566fb8,#6379be,#7b8dc7,#94a2d0,#acb6d8,#c4c9de,#d9dadc,#d9caca,#d8b2b2,#d8999a,#d88f90,#d89a9c,#d8bebe,#dcdcdc,#b8bfdb,#8a99cc,#5e76bc,#516cb6,#4e69b5,#516bb6,#5770b9,#677cbf,#7f90c8,#98a5d1,#b0b9d9,#c8ccdd,#dcdbdb,#d9c7c7,#d8adae,#d89697,#d88f91,#d89fa0,#d8c3c3,#d7d8dc,#b1b9d9,#8393c9,#5b73ba,#506bb6,#4e69b5,#526cb6,#5971ba,#6a7fc0,#8393c9,#9ca8d2,#b4bcda,#cbcfdd,#dbd8d8,#d9c4c4,#d8a9a9,#d89395,#d89092,#d8a3a5,#d9c7c7,#d2d4dd,#a9b4d7,#7c8dc7,#5871b9,#4f6ab5,#4e69b5,#536db7,#5a73ba,#6e83c2,#8797cb,#a0acd4,#b8c0dc,#ced1dd,#dbd5d5,#d8c2c2,#d8a4a5,#d89293,#d89193,#d8a9aa,#dacccc,#cccfdd,#a2aed5,#7487c4,#5670b8,#4f6ab5,#4f6ab5,#546db7,#5b74bb,#7286c3,#8b9acc,#a3afd5,#bcc3dd,#d2d4dd)"></i><i style="background:linear-gradient(90deg,#7084c2,#8696cb,#9eaad3,#b5bddb,#cbcedd,#dcdada,#d9c8c8,#d8b2b3,#d8a1a2,#d8a1a2,#d8b6b6,#dad1d1,#c7cbde,#9fabd4,#7689c5,#5a72ba,#536db7,#526cb7,#566fb8,#5e76bc,#7386c4,#8a99cc,#a1add4,#b9c0dc,#ced1dd,#dbd7d7,#d9c5c5,#d8afaf,#d8a0a1,#d8a2a4,#d8bbbc,#dbd6d6,#c1c7de,#98a5d1,#7084c2,#5871b9,#526db7,#526db7,#5770b9,#6178bd,#7789c5,#8e9dcd,#a5b0d6,#bcc3dd,#d1d3dd,#dbd4d4,#d8c3c3,#d8abac,#d89fa0,#d8a5a6,#d8c1c1,#dcdbdb,#bbc2dc,#91a0cf,#6a7fc0,#5770b9,#526cb6,#536db7,#5871b9,#647bbe,#7a8cc6,#91a0cf,#a9b3d7,#c0c6de,#d4d6dd,#dad1d1,#d8c0c0,#d8a8a9,#d89ea0,#d8a8a9,#d9c4c4,#d8d9dc,#b4bdda,#8b9acc,#657bbe,#556fb8,#526cb6,#536db7,#5972ba,#687dbf,#7e8fc8,#95a3d0,#adb6d8,#c3c9de,#d7d8dc,#dacece,#d8bcbc,#d8a6a7,#d89ea0,#d8abac,#d9c8c8,#d3d5dd,#aeb7d8,#8494ca,#6077bc,#546eb8,#526cb6,#546eb7,#5a72ba,#6b80c1,#8292c9,#99a6d1,#b0b9d9,#c7cbde,#dadbdc,#dacbcb,#d8b7b8,#d8a3a4,#d89fa0,#d8b0b0,#dacccc,#ced1dd,#a7b2d6,#7e8fc8,#5c74bb,#546eb7,#526cb6,#556eb8,#5b73bb,#6f83c2,#8595ca,#9da9d3,#b4bcda,#cacedd,#dcdbdb,#d9c8c8,#d8b4b4,#d8a2a3,#d8a0a1,#d8b5b5,#dad0d0,#c8cddd,#a1acd4,#788ac5,#5a72ba,#536db7,#526cb6,#566fb8,#5d75bb,#7286c3,#8999cc,#a0acd4,#b8bfdb,#cdd0dd,#dbd8d8,#d9c6c6,#d8b0b0,#d8a0a1,#d8a2a3,#d8baba,#dbd5d5,#c3c8de,#9aa7d2,#7285c3,#5871b9,#526db7,#526db7,#5770b9,#6077bd,#7689c5,#8d9ccd,#a4afd5,#bbc2dd,#d0d3dd)"></i><i style="background:linear-gradient(90deg,#7487c4,#8998cc,#9fabd4,#b5bdda,#c9cddd,#dcdcdc,#dacccc,#d8bdbd,#d8afaf,#d8b0b0,#d8c2c2,#dbd8d8,#c3c8de,#9eaad3,#7a8cc6,#5e76bc,#5770b9,#566fb8,#5972ba,#647abe,#778ac5,#8c9bcd,#a2aed5,#b8c0dc,#ccd0dd,#dcdada,#d9c9c9,#d8baba,#d8adae,#d8b1b2,#d9c5c5,#dcdcdc,#bec4dd,#98a5d1,#7588c4,#5c74bb,#5670b8,#566fb8,#5a72ba,#667cbf,#7a8cc6,#909ece,#a6b1d6,#bcc3dd,#cfd2dd,#dbd7d7,#d9c7c7,#d8b7b7,#d8adae,#d8b4b4,#d9c8c8,#d8d9dc,#b8bfdb,#92a0cf,#7084c2,#5a73ba,#566fb8,#5670b8,#5b73ba,#697fc0,#7e8fc8,#93a1cf,#a9b4d7,#bfc5de,#d2d4dd,#dbd4d4,#d9c5c5,#d8b4b5,#d8adad,#d8b7b7,#dacbcb,#d3d5dd,#b2bada,#8c9bcd,#6b80c1,#5972ba,#566fb8,#5770b9,#5c74bb,#6c81c1,#8192c9,#97a4d1,#adb6d8,#c2c8de,#d5d7dc,#dad1d1,#d8c3c3,#d8b2b3,#d8adae,#d8baba,#dacfcf,#ced1dd,#acb5d8,#8796cb,#677dbf,#5871b9,#566fb8,#5770b9,#5e75bc,#7084c2,#8595ca,#9aa7d2,#b0b9d9,#c5cade,#d8d9dc,#dacfcf,#d8c1c1,#d8b0b1,#d8aeae,#d8bebe,#dbd2d2,#c9cddd,#a6b1d6,#8192c9,#637abe,#5871b9,#566fb8,#5871b9,#6077bd,#7386c3,#8898cb,#9eaad3,#b4bcda,#c8cddd,#dbdbdc,#dacccc,#d8bebe,#d8afaf,#d8afb0,#d8c2c2,#dbd6d6,#c4c9de,#a0acd4,#7c8dc7,#5f77bc,#5770b9,#566fb8,#5972ba,#6379be,#7689c5,#8b9acc,#a1add4,#b7bfdb,#cbcfdd,#dcdada,#d9caca,#d8bbbb,#d8aeae,#d8b1b1,#d9c4c4,#dcdbdb,#bfc5de,#9aa7d2,#7689c5,#5c74bb,#5670b9,#566fb8,#5a72ba,#667cbf,#798cc6,#8f9dce,#a5b0d6,#bbc2dc,#ced1dd)"></i><i style="background:linear-gradient(90deg,#788ac5,#8b9bcd,#a0acd4,#b5bdda,#c8ccdd,#d9dadc,#dad0d0,#d9c4c4,#d8bbbb,#d8bdbd,#d9c9c9,#dcdcdc,#c1c7de,#a0acd4,#8091c8,#677dbf,#5b73ba,#5972ba,#5c74bb,#697fc0,#7b8dc7,#8f9dce,#a3afd5,#b8bfdb,#cbcedd,#dcdcdc,#dacece,#d8c2c2,#d8babb,#d8bfbf,#dacbcb,#d8d9dc,#bcc3dd,#9aa7d2,#7b8dc7,#647abe,#5a73ba,#5a72ba,#5e75bc,#6c81c1,#7e8fc8,#92a0cf,#a6b1d6,#bbc2dc,#cdd1dd,#dcdada,#dacccc,#d8c1c1,#d8baba,#d8c1c1,#dacece,#d4d6dd,#b7bedb,#95a3d0,#778ac5,#6178bd,#5a72ba,#5a72ba,#6077bc,#6e83c2,#8192c9,#95a3d0,#aab4d7,#bec5de,#d0d3dd,#dbd7d7,#d9caca,#d8c0c0,#d8baba,#d8c2c2,#dad1d1,#d0d2dd,#b1bad9,#909ece,#7386c3,#5f76bc,#5972ba,#5a73ba,#6278bd,#7185c3,#8494ca,#98a6d1,#adb7d8,#c1c7de,#d3d5dd,#dbd5d5,#d9c8c8,#d8bebe,#d8babb,#d9c4c4,#dbd4d4,#cbcfdd,#acb6d8,#8b9acc,#6f83c2,#5c74bb,#5972ba,#5b73ba,#647abe,#7487c4,#8797cb,#9ca8d2,#b0b9d9,#c4c9de,#d6d7dc,#dbd3d3,#d9c6c6,#d8bdbd,#d8bbbb,#d9c6c6,#dbd8d8,#c7cbde,#a7b1d6,#8696cb,#6b80c1,#5b74bb,#5972ba,#5b73bb,#667cbf,#778ac5,#8a9acc,#9fabd4,#b4bcda,#c7ccdd,#d8d9dc,#dad0d0,#d9c4c4,#d8bbbc,#d8bdbd,#d9c8c8,#dcdbdb,#c2c8de,#a1add4,#8192c9,#687dbf,#5b73ba,#5972ba,#5c74bb,#697ec0,#7a8cc6,#8e9ccd,#a2aed5,#b7bfdb,#cacedd,#dbdbdc,#dacece,#d8c3c3,#d8bbbb,#d8bfbf,#dacbcb,#d9dadc,#bdc4dd,#9ca8d2,#7d8ec7,#657bbe,#5a73ba,#5a72ba,#5d75bb,#6b80c1,#7d8fc7,#919fcf,#a6b1d6,#bac1dc,#cdd0dd)"></i><i style="background:linear-gradient(90deg,#7c8ec7,#8e9dcd,#a1add4,#b4bdda,#c7cbde,#d6d8dc,#dbd4d4,#d9c9c9,#d9c4c4,#d9c5c5,#dacfcf,#d8d9dc,#c0c6de,#a2add5,#8595ca,#6f83c2,#6178bd,#5e76bc,#637abe,#6f83c2,#7f90c8,#919fce,#a4afd5,#b7bfdb,#c9cddd,#d9dadc,#dbd2d2,#d9c8c8,#d8c3c3,#d9c6c6,#dad1d1,#d4d6dd,#bbc2dc,#9daad3,#8192c9,#6c81c1,#6077bd,#5e76bc,#657bbe,#7185c3,#8292c9,#94a2d0,#a7b2d6,#bbc2dc,#cccfdd,#dbdbdc,#dad0d0,#d9c7c7,#d8c3c3,#d9c7c7,#dbd3d3,#d1d3dd,#b6bedb,#98a5d1,#7d8fc7,#697fc0,#5f77bc,#5f76bc,#667cbf,#7487c4,#8495ca,#97a4d1,#aab4d7,#bec4dd,#ced1dd,#dcdbdb,#dacece,#d9c6c6,#d8c3c3,#d9c9c9,#dbd6d6,#cdd0dd,#b1bad9,#94a1cf,#7a8cc6,#677dbf,#5e76bc,#5f77bc,#687ebf,#7689c5,#8797cb,#9aa7d2,#adb7d8,#c1c6de,#d1d3dd,#dbd8d8,#dacccc,#d9c5c5,#d9c4c4,#d9caca,#dcd9d9,#c9cddd,#adb6d8,#8f9ece,#7689c5,#657bbe,#5e76bc,#6077bd,#6a7fc0,#798bc6,#8a99cc,#9daad3,#b0b9d9,#c3c9de,#d3d5dd,#dbd6d6,#dacbcb,#d9c4c4,#d9c4c4,#dacccc,#dcdcdc,#c5cade,#a8b2d6,#8b9acc,#7386c3,#637abe,#5e75bc,#6178bd,#6c81c1,#7b8dc7,#8d9ccd,#a0acd4,#b4bcda,#c6cbde,#d6d7dc,#dbd4d4,#d9c9c9,#d9c4c4,#d9c5c5,#dacece,#d9d9dc,#c1c7de,#a3afd5,#8796cb,#7084c2,#6279bd,#5e76bc,#6379be,#6e83c2,#7e8fc8,#909ece,#a3afd5,#b7bedb,#c8cddd,#d8d9dc,#dbd2d2,#d9c8c8,#d8c3c3,#d9c6c6,#dad0d0,#d5d7dc,#bcc3dd,#9eabd3,#8293c9,#6d81c1,#6178bd,#5e76bc,#647bbe,#7084c3,#8192c9,#93a1cf,#a6b1d6,#bac1dc,#cbcfdd)"></i><i style="background:linear-gradient(90deg,#8091c8,#909fce,#a2aed5,#b4bcda,#c5cade,#d4d6dd,#dbd7d7,#dacece,#d9c9c9,#dacbcb,#dbd4d4,#d4d6dd,#bec5de,#a4afd5,#8a9acc,#7689c5,#697fc0,#667cbf,#6a7fc0,#7487c4,#8393c9,#93a1cf,#a5b0d6,#b7bfdb,#c8ccdd,#d6d7dc,#dbd6d6,#dacdcd,#d9c9c9,#dacccc,#dbd6d6,#d1d3dd,#bac1dc,#a0acd4,#8796cb,#7387c4,#687ec0,#667cbf,#6b80c1,#7689c5,#8595ca,#96a3d0,#a8b2d6,#bac1dc,#cacedd,#d8d9dc,#dbd4d4,#dacccc,#d9c9c9,#dacdcd,#dbd8d8,#ced1dd,#b6bedb,#9ba8d2,#8394ca,#7185c3,#677dbf,#667cbf,#6d81c1,#788bc6,#8897cb,#99a6d1,#abb5d7,#bdc3dd,#ccd0dd,#dadbdc,#dbd2d2,#dacbcb,#d9c9c9,#dacece,#dcdbdb,#cacedd,#b2bada,#97a4d1,#8091c8,#6f83c2,#667cbf,#677dbf,#6e82c2,#7b8dc6,#8a9acc,#9ca8d2,#aeb7d8,#c0c6de,#cfd2dd,#dcdcdc,#dad1d1,#d9caca,#d9c9c9,#dad0d0,#dbdbdc,#c7cbde,#adb7d8,#93a1cf,#7d8ec7,#6d81c1,#667cbf,#677dbf,#7084c2,#7d8ec7,#8d9ccd,#9fabd3,#b1b9d9,#c2c8de,#d1d3dd,#dcdada,#dacfcf,#d9caca,#d9caca,#dad1d1,#d8d9dc,#c3c9de,#a9b3d7,#8f9ece,#7a8cc6,#6b80c1,#667cbf,#687ec0,#7285c3,#8090c8,#909ece,#a1add4,#b3bcda,#c5cade,#d3d5dd,#dbd8d8,#dacece,#d9c9c9,#dacbcb,#dbd3d3,#d5d6dd,#c0c6de,#a5b0d6,#8b9acc,#7789c5,#6a7fc0,#667cbf,#6a7fc0,#7487c4,#8293c9,#92a0cf,#a4afd5,#b6bedb,#c7ccdd,#d6d7dc,#dbd6d6,#dacdcd,#d9c9c9,#dacccc,#dbd5d5,#d2d4dd,#bbc2dd,#a1add4,#8897cb,#7487c4,#697ec0,#667cbf,#6b80c0,#7689c5,#8495ca,#95a3d0,#a7b2d6,#b9c0dc,#c9cddd)"></i><i style="background:linear-gradient(90deg,#8494ca,#93a1cf,#a3afd5,#b4bcda,#c4c9de,#d2d4dd,#dcdbdb,#dbd2d2,#dacfcf,#dad0d0,#dcd9d9,#d1d3dd,#bdc4dd,#a5b0d6,#8f9dce,#7d8ec7,#7185c3,#6d82c1,#7084c3,#798bc6,#8696cb,#95a3d0,#a6b1d6,#b7bedb,#c6cbde,#d4d5dd,#dcd9d9,#dad1d1,#dacece,#dad1d1,#dcdbdb,#ced1dd,#bac1dc,#a2add5,#8b9bcd,#7a8cc6,#7084c2,#6d82c1,#7185c3,#7b8dc7,#8898cb,#98a5d1,#a9b3d7,#b9c1dc,#c8cddd,#d5d7dc,#dbd8d8,#dad1d1,#dacece,#dbd2d2,#dbdbdc,#cbcfdd,#b6bedb,#9eaad3,#8898cb,#788ac5,#6f83c2,#6d82c1,#7386c3,#7d8fc7,#8b9acc,#9ba7d2,#abb5d8,#bcc3dd,#cbcedd,#d7d8dc,#dbd6d6,#dad0d0,#dacfcf,#dbd3d3,#d9dadc,#c8ccdd,#b2bbda,#9aa7d2,#8595ca,#7689c5,#6e82c2,#6e82c2,#7487c4,#7f90c8,#8d9ccd,#9daad3,#aeb7d8,#bfc5de,#cdd0dd,#d9dadc,#dbd5d5,#dacfcf,#dacfcf,#dbd5d5,#d7d8dc,#c5cade,#aeb7d8,#97a4d1,#8293c9,#7487c4,#6d82c1,#6e83c2,#7588c4,#8192c9,#909ece,#a0acd4,#b1b9d9,#c1c7de,#cfd2dd,#dbdbdc,#dbd4d4,#dacfcf,#dacfcf,#dbd6d6,#d4d6dd,#c2c7de,#aab4d7,#93a1cf,#8091c8,#7286c3,#6d82c1,#6f83c2,#778ac5,#8394ca,#92a0cf,#a3aed5,#b3bcda,#c3c9de,#d1d3dd,#dcdbdb,#dbd3d3,#dacfcf,#dad0d0,#dbd8d8,#d2d4dd,#bec5dd,#a6b1d6,#909ece,#7d8fc7,#7185c3,#6d82c1,#7084c2,#798bc6,#8696ca,#95a2d0,#a5b0d6,#b6bedb,#c6cade,#d3d5dd,#dcdada,#dbd2d2,#dacece,#dad1d1,#dcdada,#cfd2dd,#bbc2dc,#a3aed5,#8c9bcd,#7b8dc6,#7084c2,#6d82c1,#7185c3,#7b8dc6,#8898cb,#97a5d1,#a8b2d6,#b9c0dc,#c8ccdd)"></i><i style="background:linear-gradient(90deg,#8897cb,#95a3d0,#a4b0d5,#b4bcda,#c3c8de,#cfd2dd,#dadadc,#dbd7d7,#dbd3d3,#dbd5d5,#dbdbdc,#ced1dd,#bcc3dd,#a7b2d6,#93a1cf,#8293c9,#788ac5,#7487c4,#7689c5,#7e8fc8,#8a99cc,#98a5d1,#a7b2d6,#b6bedb,#c5cade,#d1d3dd,#dbdbdc,#dbd6d6,#dbd3d3,#dbd6d6,#d9dadc,#cbcfdd,#b9c0dc,#a4afd5,#909ece,#8091c8,#7689c5,#7487c4,#778ac5,#8091c8,#8c9bcd,#9aa7d2,#a9b4d7,#b9c0dc,#c7cbde,#d3d5dd,#dcdbdb,#dbd5d5,#dbd3d3,#dbd7d7,#d7d8dc,#c9cddd,#b6bedb,#a0acd4,#8d9ccd,#7e8fc8,#7588c4,#7487c4,#788bc5,#8292c9,#8e9dcd,#9ca9d3,#acb6d8,#bbc2dd,#c9cddd,#d5d6dd,#dcdada,#dbd4d4,#dbd4d4,#dbd8d8,#d5d7dc,#c6cbde,#b2bbda,#9da9d3,#8a99cc,#7c8ec7,#7588c4,#7487c4,#798cc6,#8394ca,#909ece,#9fabd4,#aeb8d8,#bec4dd,#cbcfdd,#d6d8dc,#dcd9d9,#dbd4d4,#dbd4d4,#dcd9d9,#d3d5dd,#c3c9de,#afb8d9,#9aa7d2,#8797cb,#7b8cc6,#7487c4,#7588c4,#7b8dc6,#8595ca,#92a0cf,#a1add4,#b1bad9,#c0c6de,#cdd0dd,#d8d9dc,#dbd8d8,#dbd4d4,#dbd4d4,#dcdbdb,#d1d3dd,#c0c6de,#abb5d8,#97a4d1,#8595ca,#798bc6,#7487c4,#7588c4,#7c8ec7,#8797cb,#95a2d0,#a4afd5,#b3bcda,#c2c8de,#cfd2dd,#d9dadc,#dbd7d7,#dbd3d3,#dbd5d5,#dbdcdc,#cfd1dd,#bdc4dd,#a8b2d6,#93a1cf,#8393c9,#788ac5,#7487c4,#7689c5,#7e8fc8,#8999cc,#97a4d1,#a6b1d6,#b6bedb,#c4c9de,#d1d3dd,#dbdbdc,#dbd6d6,#dbd3d3,#dbd6d6,#dadadc,#cccfdd,#bac1dc,#a5b0d5,#909fce,#8191c9,#7789c5,#7487c4,#778ac5,#7f90c8,#8b9acc,#99a6d2,#a9b3d7,#b8c0dc,#c6cbde)"></i><i style="background:linear-gradient(90deg,#8b9acc,#98a5d1,#a5b0d6,#b4bcda,#c2c7de,#cdd0dd,#d7d8dc,#dcdbdb,#dbd8d8,#dcdada,#d7d8dc,#cbcfdd,#bbc2dd,#a8b3d7,#96a4d0,#8797cb,#7e8fc8,#7a8cc6,#7c8ec7,#8393c9,#8d9ccd,#9aa7d2,#a8b2d6,#b6bedb,#c4c9de,#cfd2dd,#d8d9dc,#dcdada,#dbd8d8,#dcdbdb,#d6d7dc,#c9cddd,#b8c0dc,#a5b0d6,#93a1cf,#8595ca,#7d8ec7,#7a8cc6,#7d8ec7,#8494ca,#8f9dce,#9ca9d3,#aab4d7,#b8c0dc,#c5cade,#d0d3dd,#d9dadc,#dcd9d9,#dbd8d8,#dcdbdb,#d4d6dd,#c7cbde,#b5bddb,#a2aed5,#919fcf,#8494ca,#7c8dc7,#7a8cc6,#7e8fc7,#8696ca,#919fce,#9eaad3,#acb6d8,#bbc2dc,#c7ccdd,#d2d4dd,#dadbdc,#dcd9d9,#dbd8d8,#dcdcdc,#d2d4dd,#c4c9de,#b2bbda,#9facd4,#8e9dce,#8293c9,#7b8dc7,#7a8cc6,#7f90c8,#8797cb,#93a1cf,#a0acd4,#afb8d9,#bdc3dd,#c9cddd,#d3d5dd,#dbdcdc,#dbd8d8,#dbd8d8,#dadbdc,#d0d3dd,#c2c7de,#afb8d9,#9da9d3,#8c9bcd,#8191c9,#7a8cc6,#7a8cc6,#8091c8,#8998cc,#95a3d0,#a3aed5,#b1bad9,#bfc5de,#cbcfdd,#d5d6dd,#dcdcdc,#dbd8d8,#dcd9d9,#d9dadc,#ced1dd,#bfc5de,#acb6d8,#9aa7d2,#8a99cc,#7f90c8,#7a8cc6,#7b8dc7,#8192c9,#8b9acc,#97a4d1,#a5b0d6,#b3bcda,#c1c7de,#cdd0dd,#d6d8dc,#dcdbdb,#dbd8d8,#dcdada,#d8d9dc,#cccfdd,#bcc3dd,#a9b3d7,#97a4d1,#8898cb,#7e8fc8,#7a8cc6,#7c8dc7,#8293c9,#8d9bcd,#99a6d2,#a7b2d6,#b5bddb,#c3c8de,#ced1dd,#d8d9dc,#dcdada,#dbd8d8,#dcdada,#d6d7dc,#cacedd,#b9c1dc,#a6b1d6,#94a2d0,#8696cb,#7d8ec7,#7a8cc6,#7d8ec7,#8494ca,#8e9dce,#9ba8d2,#a9b4d7,#b8bfdb,#c5cade)"></i><i style="background:linear-gradient(90deg,#8f9dce,#9aa7d2,#a7b1d6,#b4bcda,#c1c6de,#cbcfdd,#d4d5dd,#dadadc,#dcdcdc,#dadbdc,#d4d6dd,#c9cddd,#bbc2dc,#aab4d7,#99a6d2,#8c9bcd,#8394ca,#8090c8,#8192c9,#8797cb,#909fce,#9ca8d2,#a9b3d7,#b6bedb,#c2c8de,#cdd0dd,#d5d6dd,#dadbdc,#dcdcdc,#dadadc,#d2d4dd,#c7ccdd,#b8c0dc,#a7b2d6,#97a4d1,#8a99cc,#8293c9,#7f90c8,#8292c9,#8898cb,#92a0cf,#9eaad3,#abb5d7,#b8bfdb,#c4c9de,#ced1dd,#d6d7dc,#dbdbdc,#dcdcdc,#d9d9dc,#d1d3dd,#c5cade,#b5bddb,#a4afd5,#95a2d0,#8998cb,#8192c9,#7f90c8,#8293c9,#8a99cc,#94a2d0,#a0acd4,#adb6d8,#bac1dc,#c6cbde,#cfd2dd,#d7d8dc,#dbdcdc,#dcdcdc,#d8d9dc,#cfd2dd,#c3c8de,#b3bbda,#a2add5,#92a0cf,#8797cb,#8191c9,#8091c8,#8394ca,#8b9acc,#95a3d0,#a2aed5,#afb8d9,#bcc3dd,#c7ccdd,#d1d3dd,#d8d9dc,#dcdcdc,#dcdcdc,#d7d8dc,#cdd1dd,#c1c6de,#b0b9d9,#9fabd4,#909fce,#8696ca,#8091c8,#8091c8,#8495ca,#8c9bcd,#97a5d1,#a4afd5,#b1bad9,#bec4dd,#c9cddd,#d2d4dd,#d9d9dc,#dcdcdc,#dbdbdc,#d5d7dc,#cccfdd,#bec4dd,#adb7d8,#9da9d3,#8e9dce,#8495ca,#8091c8,#8091c9,#8595ca,#8e9dcd,#99a6d2,#a6b1d6,#b3bcda,#c0c6de,#cbcedd,#d3d5dd,#dadadc,#dcdcdc,#dadbdc,#d4d6dd,#cacedd,#bbc2dd,#aab4d7,#9aa7d2,#8c9bcd,#8394ca,#8091c8,#8192c9,#8796cb,#909ece,#9ba8d2,#a8b3d7,#b5bddb,#c2c7de,#ccd0dd,#d5d6dd,#dadbdc,#dcdcdc,#dadadc,#d3d5dd,#c8ccdd,#b9c0dc,#a8b2d6,#98a5d1,#8b9acc,#8293c9,#8090c8,#8292c9,#8898cb,#91a0cf,#9daad3,#aab4d7,#b7bfdb,#c4c9de)"></i><i style="background:linear-gradient(90deg,#92a0cf,#9ca9d3,#a8b2d6,#b4bcda,#c0c6de,#c9cddd,#d1d3dd,#d6d8dc,#d8d9dc,#d7d8dc,#d1d3dd,#c7ccdd,#bac1dc,#abb5d7,#9ca9d3,#909ece,#8898cb,#8595ca,#8696ca,#8b9acc,#93a1cf,#9eaad3,#a9b4d7,#b6bedb,#c1c7de,#cbcedd,#d2d4dd,#d7d8dc,#d8d9dc,#d6d7dc,#cfd2dd,#c5cade,#b8bfdb,#a8b3d7,#9aa7d2,#8e9dce,#8797cb,#8495ca,#8696cb,#8c9bcd,#95a2d0,#a0acd4,#abb5d8,#b7bfdb,#c3c8de,#cccfdd,#d3d5dd,#d7d8dc,#d8d9dc,#d5d7dc,#ced1dd,#c3c9de,#b5bddb,#a6b1d6,#98a5d1,#8d9ccd,#8696cb,#8495ca,#8797cb,#8d9ccd,#96a4d0,#a1add4,#adb7d8,#b9c1dc,#c4c9de,#cdd0dd,#d4d6dd,#d8d9dc,#d8d9dc,#d4d6dd,#cdd0dd,#c1c7de,#b3bbda,#a4afd5,#96a3d0,#8c9bcd,#8696ca,#8595ca,#8897cb,#8e9dce,#98a5d1,#a3afd5,#afb8d9,#bbc2dd,#c6cbde,#ced1dd,#d5d6dd,#d8d9dc,#d8d9dc,#d3d5dd,#cbcfdd,#bfc5de,#b0b9d9,#a1add4,#94a2d0,#8a9acc,#8595ca,#8595ca,#8998cb,#909ece,#9aa7d2,#a5b0d6,#b1bad9,#bdc4dd,#c7ccdd,#d0d2dd,#d6d7dc,#d8d9dc,#d7d8dc,#d2d4dd,#c9cddd,#bdc4dd,#aeb7d8,#9fabd4,#92a0cf,#8999cc,#8595ca,#8595ca,#8a99cc,#91a0cf,#9ba8d2,#a7b2d6,#b3bcda,#bfc5de,#c9cddd,#d1d3dd,#d6d7dc,#d8d9dc,#d7d8dc,#d1d3dd,#c8ccdd,#bbc2dc,#abb5d8,#9da9d3,#919fce,#8898cb,#8595ca,#8696ca,#8b9acc,#93a1cf,#9daad3,#a9b3d7,#b5bddb,#c1c7de,#cacedd,#d2d4dd,#d7d8dc,#d8d9dc,#d6d7dc,#d0d2dd,#c6cbde,#b8c0dc,#a9b3d7,#9ba7d2,#8f9ece,#8797cb,#8495ca,#8696cb,#8c9bcd,#94a2d0,#9fabd4,#abb5d7,#b7bfdb,#c2c8de)"></i><i style="background:linear-gradient(90deg,#95a2d0,#9eaad3,#a9b3d7,#b4bcda,#bfc5de,#c7ccdd,#cfd1dd,#d3d5dd,#d5d7dc,#d3d5dd,#ced1dd,#c5cade,#b9c1dc,#acb6d8,#9fabd4,#94a2d0,#8c9bcd,#8999cc,#8a99cc,#8f9dce,#96a4d0,#a0acd4,#aab4d7,#b5bddb,#c0c6de,#c9cddd,#cfd2dd,#d4d6dd,#d5d7dc,#d3d5dd,#cdd0dd,#c4c9de,#b7bfdb,#aab4d7,#9da9d3,#92a0cf,#8c9bcd,#8999cc,#8b9acc,#909ece,#97a5d1,#a1add4,#acb6d8,#b7bfdb,#c2c7de,#cacedd,#d0d3dd,#d4d6dd,#d5d6dd,#d2d4dd,#cbcfdd,#c2c8de,#b5bddb,#a8b2d6,#9ba8d2,#919fcf,#8b9acc,#8998cc,#8b9acc,#919fce,#99a6d1,#a3aed5,#aeb7d8,#b9c0dc,#c3c8de,#cbcfdd,#d1d3dd,#d5d6dd,#d5d6dd,#d1d4dd,#cacedd,#c0c6de,#b3bbda,#a5b0d6,#99a6d2,#909ece,#8a9acc,#8999cc,#8c9bcd,#92a0cf,#9aa7d2,#a5b0d5,#b0b9d9,#bbc2dc,#c4c9de,#ccd0dd,#d2d4dd,#d5d6dd,#d4d6dd,#d0d3dd,#c9cddd,#bec5dd,#b1bad9,#a3afd5,#97a5d1,#8f9dce,#8a99cc,#8999cc,#8d9bcd,#93a1cf,#9ca9d3,#a6b1d6,#b1bad9,#bcc3dd,#c6cbde,#cdd0dd,#d3d5dd,#d5d6dd,#d4d6dd,#cfd2dd,#c7ccdd,#bcc3dd,#afb8d9,#a1add4,#96a3d0,#8e9ccd,#8999cc,#8a99cc,#8d9ccd,#94a2d0,#9eaad3,#a8b3d7,#b3bcda,#bec4dd,#c7ccdd,#ced1dd,#d3d5dd,#d5d7dc,#d3d5dd,#ced1dd,#c6cade,#bac1dc,#acb6d8,#9fabd4,#94a2d0,#8d9ccd,#8999cc,#8a99cc,#8e9dce,#96a3d0,#9fabd4,#aab4d7,#b5bddb,#c0c6de,#c8cddd,#cfd2dd,#d4d5dd,#d5d7dc,#d3d5dd,#cdd0dd,#c4c9de,#b8bfdb,#aab4d7,#9daad3,#93a1cf,#8c9bcd,#8999cc,#8a9acc,#8f9ece,#97a4d1,#a1add4,#acb5d8,#b7bedb,#c1c7de)"></i><i style="background:linear-gradient(90deg,#98a5d1,#a0acd4,#aab4d7,#b4bcda,#bec4dd,#c6cbde,#ccd0dd,#d0d3dd,#d2d4dd,#d0d3dd,#cbcfdd,#c4c9de,#b9c0dc,#adb6d8,#a1add4,#97a5d1,#919fce,#8d9ccd,#8e9dcd,#92a0cf,#99a6d1,#a1add4,#abb5d7,#b5bddb,#bfc5de,#c7cbde,#cdd0dd,#d1d3dd,#d2d4dd,#d0d2dd,#cacedd,#c2c8de,#b7bfdb,#abb5d7,#9facd4,#96a3d0,#909ece,#8d9ccd,#8e9dce,#93a1cf,#9aa7d2,#a3aed5,#adb6d8,#b7bfdb,#c1c6de,#c8ccdd,#ced1dd,#d1d4dd,#d2d4dd,#cfd2dd,#c9cddd,#c1c7de,#b5bddb,#a9b3d7,#9eaad3,#95a2d0,#8f9ece,#8d9ccd,#8f9ece,#94a2d0,#9ba8d2,#a4b0d5,#aeb8d8,#b8c0dc,#c2c7de,#c9cddd,#cfd1dd,#d2d4dd,#d2d4dd,#ced1dd,#c8ccdd,#bfc5de,#b3bcda,#a7b2d6,#9ca9d3,#94a1cf,#8f9dce,#8d9ccd,#909ece,#95a3d0,#9da9d3,#a6b1d6,#b0b9d9,#bac1dc,#c3c8de,#cacedd,#cfd2dd,#d2d4dd,#d1d4dd,#ced1dd,#c7cbde,#bdc4dd,#b1bad9,#a5b0d6,#9ba7d2,#93a1cf,#8e9dcd,#8d9ccd,#909fce,#96a4d0,#9eaad3,#a7b2d6,#b2bad9,#bcc2dd,#c4c9de,#cbcfdd,#d0d2dd,#d2d4dd,#d1d3dd,#cdd0dd,#c5cade,#bbc2dd,#afb8d9,#a3afd5,#99a6d1,#92a0cf,#8e9ccd,#8e9ccd,#919fcf,#97a5d1,#a0acd4,#a9b3d7,#b3bcda,#bdc4dd,#c5cade,#cccfdd,#d0d3dd,#d2d4dd,#d0d3dd,#cccfdd,#c4c9de,#b9c1dc,#adb7d8,#a2add5,#98a5d1,#919fce,#8d9ccd,#8e9dcd,#92a0cf,#98a6d1,#a1add4,#abb5d7,#b5bdda,#bfc5de,#c7cbde,#cdd0dd,#d1d3dd,#d2d4dd,#d0d3dd,#cbcedd,#c3c8de,#b8bfdb,#abb5d8,#a0acd4,#96a4d0,#909ece,#8d9ccd,#8e9dce,#93a1cf,#9aa7d2,#a3aed5,#acb6d8,#b6bedb,#c0c6de)"></i><i style="background:linear-gradient(90deg,#9aa7d2,#a2add5,#aab4d7,#b4bcda,#bdc3dd,#c4c9de,#cacedd,#ced1dd,#cfd2dd,#ced1dd,#c9cddd,#c2c8de,#b9c0dc,#aeb7d8,#a3afd5,#9aa7d2,#94a2d0,#91a0cf,#92a0cf,#95a3d0,#9ba8d2,#a3afd5,#acb6d8,#b5bddb,#bec4dd,#c5cade,#cbcfdd,#ced1dd,#cfd2dd,#cdd0dd,#c8cddd,#c1c7de,#b7bfdb,#acb6d8,#a2add5,#99a6d2,#94a1cf,#919fcf,#92a0cf,#96a4d0,#9ca9d3,#a4b0d5,#adb7d8,#b7bedb,#bfc6de,#c6cbde,#cccfdd,#cfd1dd,#cfd2dd,#cdd0dd,#c7ccdd,#c0c6de,#b5bddb,#aab4d7,#a0acd4,#98a5d1,#93a1cf,#919fcf,#93a1cf,#97a4d1,#9eaad3,#a6b1d6,#afb8d9,#b8c0dc,#c1c7de,#c7ccdd,#ccd0dd,#cfd2dd,#cfd2dd,#cccfdd,#c6cbde,#bec4dd,#b3bcda,#a8b3d7,#9fabd4,#97a4d1,#92a0cf,#919fcf,#93a1cf,#98a5d1,#9fabd4,#a7b2d6,#b0b9d9,#b9c1dc,#c2c7de,#c8ccdd,#cdd0dd,#cfd2dd,#cfd1dd,#cbcfdd,#c5cade,#bcc3dd,#b2bad9,#a7b2d6,#9daad3,#96a4d0,#92a0cf,#919fcf,#94a2d0,#99a6d1,#a0acd4,#a9b3d7,#b2bada,#bbc2dc,#c3c8de,#c9cddd,#cdd0dd,#cfd2dd,#ced1dd,#cacedd,#c4c9de,#bbc2dc,#b0b9d9,#a5b0d6,#9ca9d3,#95a3d0,#92a0cf,#91a0cf,#94a2d0,#9aa7d2,#a1add4,#aab4d7,#b3bcda,#bcc3dd,#c4c9de,#cacedd,#ced1dd,#cfd2dd,#ced1dd,#c9cddd,#c3c8de,#b9c0dc,#aeb7d8,#a4afd5,#9ba8d2,#94a2d0,#91a0cf,#92a0cf,#95a3d0,#9ba8d2,#a3aed5,#abb5d8,#b5bdda,#bec4dd,#c5cade,#cbcedd,#ced1dd,#cfd2dd,#cdd0dd,#c9cddd,#c1c7de,#b7bfdb,#acb6d8,#a2aed5,#9aa7d2,#94a2d0,#919fcf,#92a0cf,#96a3d0,#9ca9d3,#a4afd5,#adb7d8,#b6bedb,#bfc5de)"></i><i style="background:linear-gradient(90deg,#9da9d3,#a3afd5,#abb5d8,#b4bcda,#bcc3dd,#c3c8de,#c8ccdd,#cccfdd,#cdd0dd,#cbcfdd,#c7ccdd,#c1c7de,#b8c0dc,#aeb8d9,#a5b0d6,#9daad3,#98a5d1,#95a3d0,#95a3d0,#98a5d1,#9eaad3,#a5b0d5,#adb6d8,#b5bddb,#bdc4dd,#c4c9de,#c9cddd,#cccfdd,#cdd0dd,#cbcfdd,#c6cbde,#c0c6de,#b7bedb,#adb6d8,#a4afd5,#9ca9d3,#97a4d1,#95a2d0,#95a3d0,#99a6d1,#9fabd4,#a6b1d6,#aeb7d8,#b6bedb,#bec5de,#c5cade,#c9cddd,#ccd0dd,#cdd0dd,#cacedd,#c6cade,#bec5de,#b5bddb,#abb5d8,#a2aed5,#9ba8d2,#96a4d1,#95a2d0,#96a3d0,#9aa7d2,#a0acd4,#a7b2d6,#afb8d9,#b8bfdb,#c0c6de,#c6cade,#cacedd,#ccd0dd,#ccd0dd,#cacedd,#c5cade,#bdc4dd,#b4bcda,#aab4d7,#a1add4,#9aa7d2,#96a3d0,#95a2d0,#96a4d0,#9ba7d2,#a1add4,#a8b3d7,#b1bad9,#b9c0dc,#c1c7de,#c6cbde,#cbcedd,#cdd0dd,#ccd0dd,#c9cddd,#c4c9de,#bcc2dd,#b2bbda,#a8b3d7,#a0acd4,#99a6d2,#95a3d0,#95a2d0,#97a4d1,#9ba8d2,#a2aed5,#aab4d7,#b2bbda,#bac1dc,#c2c7de,#c7ccdd,#cbcfdd,#cdd0dd,#cccfdd,#c8cddd,#c2c8de,#bac1dc,#b0b9d9,#a7b2d6,#9fabd4,#98a6d1,#95a3d0,#95a3d0,#97a5d1,#9ca9d3,#a3afd5,#abb5d7,#b3bcda,#bcc2dd,#c3c8de,#c8ccdd,#cbcfdd,#cdd0dd,#cbcfdd,#c8ccdd,#c1c7de,#b9c0dc,#afb8d9,#a5b0d6,#9eaad3,#98a5d1,#95a3d0,#95a3d0,#98a5d1,#9daad3,#a4b0d5,#acb6d8,#b5bdda,#bdc3dd,#c4c9de,#c9cddd,#cccfdd,#cdd0dd,#cbcfdd,#c7cbde,#c0c6de,#b7bfdb,#adb7d8,#a4afd5,#9ca9d3,#97a4d1,#95a2d0,#95a3d0,#99a6d1,#9eabd3,#a6b0d6,#aeb7d8,#b6bedb,#bec4dd)"></i><i style="background:linear-gradient(90deg,#9fabd4,#a5b0d6,#acb6d8,#b4bcda,#bbc2dd,#c2c7de,#c6cbde,#cacddd,#cacedd,#c9cddd,#c6cade,#c0c6de,#b8bfdb,#afb8d9,#a7b2d6,#a0acd4,#9ba7d2,#98a5d1,#98a5d1,#9ba8d2,#a0acd4,#a6b1d6,#adb7d8,#b5bddb,#bcc3dd,#c3c8de,#c7ccdd,#cacedd,#cacedd,#c9cddd,#c5cade,#bfc5de,#b6bedb,#aeb7d8,#a6b1d6,#9fabd4,#9aa7d2,#98a5d1,#99a6d1,#9ca8d2,#a1add4,#a7b2d6,#afb8d9,#b6bedb,#bdc4dd,#c3c9de,#c8ccdd,#cacedd,#cacedd,#c8ccdd,#c4c9de,#bdc4dd,#b5bddb,#acb6d8,#a4b0d5,#9eaad3,#9aa7d2,#98a5d1,#99a6d1,#9ca9d3,#a2add5,#a8b3d7,#b0b9d9,#b7bfdb,#bfc5de,#c4c9de,#c8ccdd,#cacedd,#cacedd,#c8ccdd,#c3c8de,#bcc3dd,#b4bcda,#abb5d7,#a3afd5,#9da9d3,#99a6d1,#98a5d1,#99a6d2,#9daad3,#a3aed5,#a9b4d7,#b1bad9,#b9c0dc,#c0c6de,#c5cade,#c9cddd,#cacedd,#cacedd,#c7ccdd,#c2c8de,#bbc2dc,#b2bbda,#aab4d7,#a2aed5,#9ca9d3,#99a6d1,#98a5d1,#9aa7d2,#9eaad3,#a4afd5,#abb5d7,#b2bbda,#bac1dc,#c1c6de,#c6cade,#c9cddd,#cacedd,#cacedd,#c6cbde,#c1c7de,#bac1dc,#b1bad9,#a8b3d7,#a1add4,#9ba8d2,#98a6d1,#98a5d1,#9aa7d2,#9fabd4,#a5b0d5,#acb6d8,#b3bcda,#bbc2dc,#c1c7de,#c6cbde,#c9cddd,#cacedd,#c9cddd,#c6cbde,#c0c6de,#b8c0dc,#b0b9d9,#a7b2d6,#a0acd4,#9ba8d2,#98a5d1,#98a5d1,#9ba8d2,#a0acd4,#a6b1d6,#adb7d8,#b5bdda,#bcc3dd,#c2c8de,#c7cbde,#cacedd,#cacedd,#c9cddd,#c5cade,#bfc5de,#b7bfdb,#aeb7d8,#a6b1d6,#9fabd4,#9aa7d2,#98a5d1,#99a6d1,#9ba8d2,#a1acd4,#a7b2d6,#aeb8d8,#b6bedb,#bdc4dd)"></i></div>
<svg width="675" height="808" viewBox="0 0 675 808" font-family='"Liberation Sans", sans-serif'>
<defs>
<filter id="b05" x="-50%" y="-50%" width="200%" height="200%"><feGaussianBlur stdDeviation="0.5"/></filter>
<filter id="b1" x="-50%" y="-50%" width="200%" height="200%"><feGaussianBlur stdDeviation="1"/></filter>
<filter id="b15" x="-50%" y="-50%" width="200%" height="200%"><feGaussianBlur stdDeviation="1.5"/></filter>
<filter id="b2" x="-50%" y="-50%" width="200%" height="200%"><feGaussianBlur stdDeviation="2"/></filter>
<filter id="b3" x="-50%" y="-50%" width="200%" height="200%"><feGaussianBlur stdDeviation="3"/></filter>
<linearGradient id="cbar" x1="0" y1="0" x2="0" y2="1">

<stop offset="0" stop-color="#6e0a0f"/>
<stop offset="0.04" stop-color="#830d14"/>
<stop offset="0.08" stop-color="#971118"/>
<stop offset="0.12" stop-color="#ab141c"/>
<stop offset="0.17" stop-color="#be161f"/>
<stop offset="0.21" stop-color="#d21923"/>
<stop offset="0.25" stop-color="#e0212b"/>
<stop offset="0.29" stop-color="#e03942"/>
<stop offset="0.33" stop-color="#dc6368"/>
<stop offset="0.38" stop-color="#d89192"/>
<stop offset="0.42" stop-color="#d8b4b4"/>
<stop offset="0.46" stop-color="#dacccc"/>
<stop offset="0.5" stop-color="#dadadc"/>
<stop offset="0.54" stop-color="#c7ccdd"/>
<stop offset="0.58" stop-color="#b4bcda"/>
<stop offset="0.62" stop-color="#9fabd4"/>
<stop offset="0.67" stop-color="#8999cc"/>
<stop offset="0.71" stop-color="#7386c3"/>
<stop offset="0.75" stop-color="#5c74bb"/>
<stop offset="0.79" stop-color="#536db7"/>
<stop offset="0.83" stop-color="#4966b3"/>
<stop offset="0.88" stop-color="#405eae"/>
<stop offset="0.92" stop-color="#3a59ab"/>
<stop offset="0.96" stop-color="#3555a8"/>
<stop offset="1" stop-color="#3051a5"/>
</linearGradient></defs>
<text x="-0.3" y="30.2" font-size="22" font-weight="bold" fill="#000">(a)</text>
<text x="-0.3" y="124.3" font-size="22" font-weight="bold" fill="#000">(b)</text>
<text x="-0.3" y="207.4" font-size="22" font-weight="bold" fill="#000">(c)</text>
<text x="-0.3" y="298" font-size="22" font-weight="bold" fill="#000">(d)</text>
<text x="-0.3" y="405.3" font-size="22" font-weight="bold" fill="#000">(e)</text>
<text x="-0.3" y="510.6" font-size="22" font-weight="bold" fill="#000">(f)</text>
<text x="-0.3" y="611.6" font-size="22" font-weight="bold" fill="#000">(g)</text>
<text x="-0.3" y="709.6" font-size="22" font-weight="bold" fill="#000">(h)</text>
<rect x="54.2" y="14.4" width="135.8" height="73" fill="none" stroke="#a0a0a8" stroke-width="0.8"/>
<rect x="194.3" y="14.4" width="135.7" height="73" fill="none" stroke="#a0a0a8" stroke-width="0.8"/>
<rect x="335" y="14.4" width="135.7" height="73" fill="none" stroke="#a0a0a8" stroke-width="0.8"/>
<rect x="475.3" y="14.4" width="135.3" height="73" fill="none" stroke="#a0a0a8" stroke-width="0.8"/>
<rect x="78.4" y="99" width="487.4" height="71.8" fill="none" stroke="#a0a0a8" stroke-width="0.8"/>
<circle cx="61.1" cy="50.6" r="6.0" fill="#2c2c88" opacity="0.95" filter="url(#b05)"/>
<circle cx="220" cy="28.5" r="6.6" fill="#34408f" opacity="0.75" filter="url(#b05)"/>
<circle cx="400.8" cy="43.3" r="5.8" fill="#2c2f8c" opacity="0.85" filter="url(#b05)"/>
<circle cx="548.1" cy="41.6" r="6.1" fill="#3b4a9e" opacity="0.65" filter="url(#b05)"/>
<circle cx="505.3" cy="126.2" r="6.0" fill="#3b4a9e" opacity="0.65" filter="url(#b05)"/>
<ellipse cx="91.4" cy="50.7" rx="23.2" ry="19.0" transform="rotate(0 91.4 50.7)" fill="none" stroke="#111" stroke-width="1.25"/>
<ellipse cx="152.2" cy="50.7" rx="23.2" ry="19.0" transform="rotate(0 152.2 50.7)" fill="none" stroke="#111" stroke-width="1.25"/>
<ellipse cx="231.5" cy="50.7" rx="23.2" ry="19.0" transform="rotate(0 231.5 50.7)" fill="none" stroke="#111" stroke-width="1.25"/>
<ellipse cx="292.3" cy="50.7" rx="23.2" ry="19.0" transform="rotate(0 292.3 50.7)" fill="none" stroke="#111" stroke-width="1.25"/>
<ellipse cx="372.2" cy="50.7" rx="23.2" ry="19.0" transform="rotate(0 372.2 50.7)" fill="none" stroke="#111" stroke-width="1.25"/>
<ellipse cx="433" cy="50.7" rx="23.2" ry="19.0" transform="rotate(0 433 50.7)" fill="none" stroke="#111" stroke-width="1.25"/>
<ellipse cx="512.5" cy="50.7" rx="23.2" ry="19.0" transform="rotate(0 512.5 50.7)" fill="none" stroke="#111" stroke-width="1.25"/>
<ellipse cx="573.3" cy="50.7" rx="23.2" ry="19.0" transform="rotate(0 573.3 50.7)" fill="none" stroke="#111" stroke-width="1.25"/>
<ellipse cx="114.7" cy="134.7" rx="22.9" ry="18.5" transform="rotate(5 114.7 134.7)" fill="none" stroke="#111" stroke-width="1.25"/>
<ellipse cx="174.1" cy="134.7" rx="22.9" ry="18.5" transform="rotate(5 174.1 134.7)" fill="none" stroke="#111" stroke-width="1.25"/>
<ellipse cx="233.5" cy="134.7" rx="22.9" ry="18.5" transform="rotate(5 233.5 134.7)" fill="none" stroke="#111" stroke-width="1.25"/>
<ellipse cx="292.9" cy="134.7" rx="22.9" ry="18.5" transform="rotate(5 292.9 134.7)" fill="none" stroke="#111" stroke-width="1.25"/>
<ellipse cx="352.3" cy="134.7" rx="22.9" ry="18.5" transform="rotate(5 352.3 134.7)" fill="none" stroke="#111" stroke-width="1.25"/>
<ellipse cx="411.7" cy="134.7" rx="22.9" ry="18.5" transform="rotate(5 411.7 134.7)" fill="none" stroke="#111" stroke-width="1.25"/>
<ellipse cx="471.1" cy="134.7" rx="22.9" ry="18.5" transform="rotate(5 471.1 134.7)" fill="none" stroke="#111" stroke-width="1.25"/>
<ellipse cx="530.5" cy="134.7" rx="22.9" ry="18.5" transform="rotate(5 530.5 134.7)" fill="none" stroke="#111" stroke-width="1.25"/>
<path d="M201.3 50.6 L205.07 43.34 L205.74 41.8 L206.53 40.3 L207.45 38.85 L208.49 37.46 L209.64 36.13 L210.89 34.88 L212.25 33.7 L213.7 32.6 L215.24 31.59 L216.86 30.67 L218.55 29.85" fill="none" stroke="#000" stroke-width="1.7" stroke-linejoin="round"/>
<path d="M342 50.6 L345.77 43.34 L346.44 41.8 L347.23 40.3 L348.15 38.85 L349.19 37.46 L350.34 36.13 L351.59 34.88 L352.95 33.7 L354.4 32.6 L355.94 31.59 L357.56 30.67 L359.25 29.85 L361.01 29.13 L362.82 28.52 L364.68 28.01 L366.58 27.61 L368.5 27.33 L370.45 27.16 L372.4 27.1 L374.35 27.16 L376.3 27.33 L378.22 27.61 L380.12 28.01 L381.98 28.52 L383.79 29.13 L385.55 29.85 L387.24 30.67 L388.86 31.59 L390.4 32.6 L391.85 33.7 L393.21 34.88 L394.46 36.13 L395.61 37.46 L396.65 38.85 L397.57 40.3 L398.36 41.8" fill="none" stroke="#000" stroke-width="1.7" stroke-linejoin="round"/>
<path d="M482.2 50.6 L485.97 43.34 L486.64 41.8 L487.43 40.3 L488.35 38.85 L489.39 37.46 L490.54 36.13 L491.79 34.88 L493.15 33.7 L494.6 32.6 L496.14 31.59 L497.76 30.67 L499.45 29.85 L501.21 29.13 L503.02 28.52 L504.88 28.01 L506.78 27.61 L508.7 27.33 L510.65 27.16 L512.6 27.1 L514.55 27.16 L516.5 27.33 L518.42 27.61 L520.32 28.01 L522.18 28.52 L523.99 29.13 L525.75 29.85 L527.44 30.67 L529.06 31.59 L530.6 32.6 L532.05 33.7 L533.41 34.88 L534.66 36.13 L535.81 37.46 L536.85 38.85 L537.77 40.3 L538.56 41.8 L539.23 43.34 L543 50.6 L548.4 42.4" fill="none" stroke="#000" stroke-width="1.7" stroke-linejoin="round"/>
<path d="M85 134.7 L88.8 125.14 L89.6 123.67 L90.53 122.24 L91.57 120.88 L92.72 119.59 L93.98 118.36 L95.34 117.22 L96.8 116.16 L98.34 115.2 L99.96 114.33 L101.66 113.55 L103.41 112.88 L105.23 112.32 L107.08 111.87 L108.98 111.52 L110.9 111.29 L112.85 111.18 L114.8 111.18 L116.75 111.29 L118.69 111.52 L120.61 111.86 L122.5 112.31 L124.36 112.87 L126.16 113.54 L127.92 114.31 L129.6 115.18 L131.22 116.14 L132.75 117.19 L134.2 118.34 L135.55 119.56 L136.8 120.85 L137.94 122.21 L138.97 123.63 L139.88 125.11 L140.67 126.63 L141.33 128.19 L141.86 129.79 L144.4 134.7 L148.2 125.14 L149 123.67 L149.93 122.24 L150.97 120.88 L152.12 119.59 L153.38 118.36 L154.74 117.22 L156.2 116.16 L157.74 115.2 L159.36 114.33 L161.06 113.55 L162.81 112.88 L164.63 112.32 L166.48 111.87 L168.38 111.52 L170.3 111.29 L172.25 111.18 L174.2 111.18 L176.15 111.29 L178.09 111.52 L180.01 111.86 L181.9 112.31 L183.76 112.87 L185.56 113.54 L187.32 114.31 L189 115.18 L190.62 116.14 L192.15 117.19 L193.6 118.34 L194.95 119.56 L196.2 120.85 L197.34 122.21 L198.37 123.63 L199.28 125.11 L200.07 126.63 L200.73 128.19 L201.26 129.79 L203.8 134.7 L207.6 125.14 L208.4 123.67 L209.33 122.24 L210.37 120.88 L211.52 119.59 L212.78 118.36 L214.14 117.22 L215.6 116.16 L217.14 115.2 L218.76 114.33 L220.46 113.55 L222.21 112.88 L224.03 112.32 L225.88 111.87 L227.78 111.52 L229.7 111.29 L231.65 111.18 L233.6 111.18 L235.55 111.29 L237.49 111.52 L239.41 111.86 L241.3 112.31 L243.16 112.87 L244.96 113.54 L246.72 114.31 L248.4 115.18 L250.02 116.14 L251.55 117.19 L253 118.34 L254.35 119.56 L255.6 120.85 L256.74 122.21 L257.77 123.63 L258.68 125.11 L259.47 126.63 L260.13 128.19 L260.66 129.79 L263.2 134.7 L267 125.14 L267.8 123.67 L268.73 122.24 L269.77 120.88 L270.92 119.59 L272.18 118.36 L273.54 117.22 L275 116.16 L276.54 115.2 L278.16 114.33 L279.86 113.55 L281.61 112.88 L283.43 112.32 L285.28 111.87 L287.18 111.52 L289.1 111.29 L291.05 111.18 L293 111.18 L294.95 111.29 L296.89 111.52 L298.81 111.86 L300.7 112.31 L302.56 112.87 L304.36 113.54 L306.12 114.31 L307.8 115.18 L309.42 116.14 L310.95 117.19 L312.4 118.34 L313.75 119.56 L315 120.85 L316.14 122.21 L317.17 123.63 L318.08 125.11 L318.87 126.63 L319.53 128.19 L320.06 129.79 L322.6 134.7 L326.4 125.14 L327.2 123.67 L328.13 122.24 L329.17 120.88 L330.32 119.59 L331.58 118.36 L332.94 117.22 L334.4 116.16 L335.94 115.2 L337.56 114.33 L339.26 113.55 L341.01 112.88 L342.83 112.32 L344.68 111.87 L346.58 111.52 L348.5 111.29 L350.45 111.18 L352.4 111.18 L354.35 111.29 L356.29 111.52 L358.21 111.86 L360.1 112.31 L361.96 112.87 L363.76 113.54 L365.52 114.31 L367.2 115.18 L368.82 116.14 L370.35 117.19 L371.8 118.34 L373.15 119.56 L374.4 120.85 L375.54 122.21 L376.57 123.63 L377.48 125.11 L378.27 126.63 L378.93 128.19 L379.46 129.79 L382 134.7 L385.8 125.14 L386.6 123.67 L387.53 122.24 L388.57 120.88 L389.72 119.59 L390.98 118.36 L392.34 117.22 L393.8 116.16 L395.34 115.2 L396.96 114.33 L398.66 113.55 L400.41 112.88 L402.23 112.32 L404.08 111.87 L405.98 111.52 L407.9 111.29 L409.85 111.18 L411.8 111.18 L413.75 111.29 L415.69 111.52 L417.61 111.86 L419.5 112.31 L421.36 112.87 L423.16 113.54 L424.92 114.31 L426.6 115.18 L428.22 116.14 L429.75 117.19 L431.2 118.34 L432.55 119.56 L433.8 120.85 L434.94 122.21 L435.97 123.63 L436.88 125.11 L437.67 126.63 L438.33 128.19 L438.86 129.79 L441.4 134.7 L445.2 125.14 L446 123.67 L446.93 122.24 L447.97 120.88 L449.12 119.59 L450.38 118.36 L451.74 117.22 L453.2 116.16 L454.74 115.2 L456.36 114.33 L458.06 113.55 L459.81 112.88 L461.63 112.32 L463.48 111.87 L465.38 111.52 L467.3 111.29 L469.25 111.18 L471.2 111.18 L473.15 111.29 L475.09 111.52 L477.01 111.86 L478.9 112.31 L480.76 112.87 L482.56 113.54 L484.32 114.31 L486 115.18 L487.62 116.14 L489.15 117.19 L490.6 118.34 L491.95 119.56 L493.2 120.85 L494.34 122.21 L495.37 123.63 L496.28 125.11 L497.07 126.63 L497.73 128.19 L498.26 129.79 L500.8 134.7 L505.3 127.3" fill="none" stroke="#000" stroke-width="1.7" stroke-linejoin="round"/>
<polygon points="109.7,47.8 90.91,47.75 90.87,46.35 85.4,47.94 69.2,48.9 69.2,49.7 85.4,50.74 90.86,52.35 90.9,50.95 109.7,51" fill="#fff"/>
<polygon points="238.7,68.22 231.85,49.42 232.53,48.96 223.73,31.08 223.07,31.32 227.83,50.67 228.65,50.58 235.5,69.38" fill="#fff"/>
<polygon points="356.34,57.11 373.6,50.89 374.11,52.19 378.59,48.88 393.14,42.58 392.86,41.82 377.65,46.24 372.08,46.55 372.52,47.88 355.26,54.09" fill="#fff"/>
<polygon points="590.01,60.91 575.56,48.41 575.94,47.68 560.23,36.94 559.77,37.46 572.67,51.47 573.34,50.99 587.79,63.49" fill="#fff"/>
<polygon points="544.98,145.79 530.18,133.64 530.54,132.9 514.52,122.53 514.08,123.07 527.37,136.76 528.02,136.26 542.82,148.41" fill="#fff"/>
<rect x="143.9" y="99.1" width="59.6" height="71.8" fill="none" stroke="#ece82a" stroke-width="2" stroke-dasharray="4,2.3"/>
<circle cx="65.6" cy="25.6" r="8.9" fill="#000"/>
<polygon points="64.7,20.1 67,20.1 67,30.8 64.4,30.8 64.4,22.7 62.7,23.5 62.7,22" fill="#fff"/>
<circle cx="262.2" cy="26.8" r="8.9" fill="#000"/>
<text x="262.2" y="32.7" font-size="16.5" fill="#fff" stroke="#fff" stroke-width="0.35" text-anchor="middle">2</text>
<circle cx="403" cy="75.6" r="8.9" fill="#000"/>
<text x="403" y="81.5" font-size="16.5" fill="#fff" stroke="#fff" stroke-width="0.35" text-anchor="middle">3</text>
<circle cx="595.6" cy="27.8" r="8.9" fill="#000"/>
<text x="595.6" y="33.7" font-size="16.5" fill="#fff" stroke="#fff" stroke-width="0.35" text-anchor="middle">4</text>
<path d="M54.4 87.0 V74.8 M53.4 87.0 H63" stroke="#000" stroke-width="2.0" fill="none"/>
<polygon points="52.5,75.8 54.4,63.3 56.3,75.8" fill="#000"/>
<polygon points="62,85.1 74.5,87.0 62,88.9" fill="#000"/>
<text x="41.5" y="83.2" font-size="16" font-style="italic" fill="#000">y</text>
<text x="59.6" y="100.8" font-size="16" font-style="italic" fill="#000">x</text>
<rect x="616.7" y="26.8" width="8.4" height="123.6" fill="url(#cbar)"/>
<text x="627" y="42.2" font-size="14.5" fill="#000">4</text>
<text x="627" y="68.6" font-size="14.5" fill="#000">2</text>
<text x="627" y="95" font-size="14.5" fill="#000">0</text>
<text x="627" y="121.4" font-size="14.5" fill="#000">-2</text>
<text x="627" y="147.8" font-size="14.5" fill="#000">-4</text>
<text x="623.2" y="24" font-size="16" fill="#000">×10<tspan font-size="11" dy="-9.3">-16</tspan><tspan dy="9.3">J</tspan></text>
<clipPath id="c1"><rect x="47.5" y="183.8" width="133.8" height="74.9"/></clipPath>
<g clip-path="url(#c1)">
<rect x="47.5" y="183.8" width="133.8" height="74.9" fill="#95989a"/>
<ellipse cx="84.6" cy="221.8" rx="23.6" ry="20.4" fill="none" stroke="#7f8284" stroke-width="2.4" filter="url(#b1)"/>
<ellipse cx="145.8" cy="221.5" rx="24.6" ry="20.7" fill="none" stroke="#7f8284" stroke-width="2.4" filter="url(#b1)"/>
<ellipse cx="84.6" cy="221.8" rx="22.6" ry="19.4" fill="#bec1c2" filter="url(#b1)"/>
<ellipse cx="145.8" cy="221.5" rx="23.6" ry="19.7" fill="#bec1c2" filter="url(#b1)"/>
</g>
<circle cx="54.2" cy="221.4" r="6.2" fill="#66696c" filter="url(#b15)"/>
<circle cx="54.4" cy="221.6" r="0.8" fill="#111"/>
<clipPath id="c2"><rect x="187.5" y="183.8" width="134.3" height="74.9"/></clipPath>
<g clip-path="url(#c2)">
<rect x="187.5" y="183.8" width="134.3" height="74.9" fill="#95989a"/>
<ellipse cx="224.8" cy="221.9" rx="24.2" ry="19.7" fill="none" stroke="#7f8284" stroke-width="2.4" filter="url(#b1)"/>
<ellipse cx="286.2" cy="221.5" rx="24.4" ry="19.9" fill="none" stroke="#7f8284" stroke-width="2.4" filter="url(#b1)"/>
<ellipse cx="224.8" cy="221.9" rx="23.2" ry="18.7" fill="#bec1c2" filter="url(#b1)"/>
<ellipse cx="286.2" cy="221.5" rx="23.4" ry="18.9" fill="#bec1c2" filter="url(#b1)"/>
<circle cx="212" cy="199.7" r="6" fill="#54575a" filter="url(#b2)"/>
<polyline points="194.3,222.1 202.6,207 213,200.3" fill="none" stroke="#000" stroke-width="1.3" stroke-linejoin="miter"/>
</g>
<clipPath id="c3"><rect x="328.2" y="183.8" width="133.5" height="74.9"/></clipPath>
<g clip-path="url(#c3)">
<rect x="328.2" y="183.8" width="133.5" height="74.9" fill="#95989a"/>
<ellipse cx="364.6" cy="221.8" rx="23.6" ry="20.4" fill="none" stroke="#7f8284" stroke-width="2.4" filter="url(#b1)"/>
<ellipse cx="426.5" cy="221.5" rx="24" ry="20.4" fill="none" stroke="#7f8284" stroke-width="2.4" filter="url(#b1)"/>
<ellipse cx="364.6" cy="221.8" rx="22.6" ry="19.4" fill="#bec1c2" filter="url(#b1)"/>
<ellipse cx="426.5" cy="221.5" rx="23" ry="19.4" fill="#bec1c2" filter="url(#b1)"/>
<circle cx="392.4" cy="214.2" r="6" fill="#54575a" filter="url(#b2)"/>
<polyline points="334.3,222.1 344.7,207 354,199.7 364.4,196.6 374.8,198.3 384.1,203.9 391.8,214.2" fill="none" stroke="#000" stroke-width="1.3" stroke-linejoin="miter"/>
</g>
<clipPath id="c4"><rect x="468.8" y="183.8" width="133.5" height="74.9"/></clipPath>
<g clip-path="url(#c4)">
<rect x="468.8" y="183.8" width="133.5" height="74.9" fill="#95989a"/>
<ellipse cx="505.5" cy="221.7" rx="23.9" ry="19.9" fill="none" stroke="#7f8284" stroke-width="2.4" filter="url(#b1)"/>
<ellipse cx="567.2" cy="221.5" rx="23.3" ry="20.5" fill="none" stroke="#7f8284" stroke-width="2.4" filter="url(#b1)"/>
<ellipse cx="505.5" cy="221.7" rx="22.9" ry="18.9" fill="#bec1c2" filter="url(#b1)"/>
<ellipse cx="567.2" cy="221.5" rx="22.3" ry="19.5" fill="#bec1c2" filter="url(#b1)"/>
<circle cx="542.8" cy="209" r="6" fill="#54575a" filter="url(#b2)"/>
<polyline points="475,222.1 484.7,207 494,199.7 505.5,196.6 515.8,198.7 525.2,204.9 536.6,221.1 544.3,210.7" fill="none" stroke="#000" stroke-width="1.3" stroke-linejoin="miter"/>
</g>
<clipPath id="d1"><rect x="74.2" y="274.6" width="504.5" height="74.9"/></clipPath>
<g clip-path="url(#d1)">
<rect x="74.2" y="274.6" width="504.5" height="74.9" fill="#95989a"/>
<ellipse cx="110.8" cy="312.7" rx="24.5" ry="19.5" fill="none" stroke="#7f8284" stroke-width="2.4" filter="url(#b1)"/>
<ellipse cx="172.25" cy="312.7" rx="24.5" ry="19.5" fill="none" stroke="#7f8284" stroke-width="2.4" filter="url(#b1)"/>
<ellipse cx="233.7" cy="312.7" rx="24.5" ry="19.5" fill="none" stroke="#7f8284" stroke-width="2.4" filter="url(#b1)"/>
<ellipse cx="295.15" cy="312.7" rx="24.5" ry="19.5" fill="none" stroke="#7f8284" stroke-width="2.4" filter="url(#b1)"/>
<ellipse cx="356.6" cy="312.7" rx="24.5" ry="19.5" fill="none" stroke="#7f8284" stroke-width="2.4" filter="url(#b1)"/>
<ellipse cx="418.05" cy="312.7" rx="24.5" ry="19.5" fill="none" stroke="#7f8284" stroke-width="2.4" filter="url(#b1)"/>
<ellipse cx="479.5" cy="312.7" rx="24.5" ry="19.5" fill="none" stroke="#7f8284" stroke-width="2.4" filter="url(#b1)"/>
<ellipse cx="540.95" cy="312.7" rx="24.5" ry="19.5" fill="none" stroke="#7f8284" stroke-width="2.4" filter="url(#b1)"/>
<ellipse cx="110.8" cy="312.7" rx="23.5" ry="18.5" fill="#bec1c2" filter="url(#b1)"/>
<ellipse cx="172.25" cy="312.7" rx="23.5" ry="18.5" fill="#bec1c2" filter="url(#b1)"/>
<ellipse cx="233.7" cy="312.7" rx="23.5" ry="18.5" fill="#bec1c2" filter="url(#b1)"/>
<ellipse cx="295.15" cy="312.7" rx="23.5" ry="18.5" fill="#bec1c2" filter="url(#b1)"/>
<ellipse cx="356.6" cy="312.7" rx="23.5" ry="18.5" fill="#bec1c2" filter="url(#b1)"/>
<ellipse cx="418.05" cy="312.7" rx="23.5" ry="18.5" fill="#bec1c2" filter="url(#b1)"/>
<ellipse cx="479.5" cy="312.7" rx="23.5" ry="18.5" fill="#bec1c2" filter="url(#b1)"/>
<ellipse cx="540.95" cy="312.7" rx="23.5" ry="18.5" fill="#bec1c2" filter="url(#b1)"/>
<circle cx="517" cy="297" r="6" fill="#54575a" filter="url(#b2)"/>
<polyline points="80.1,312.7 90.3,297.2 100.5,290.3 111.3,288.1 120.8,289.2 130.8,295.2 141.5,312.7 151.75,297.2 161.95,290.3 172.75,288.1 182.25,289.2 192.25,295.2 202.95,312.7 213.2,297.2 223.4,290.3 234.2,288.1 243.7,289.2 253.7,295.2 264.4,312.7 274.65,297.2 284.85,290.3 295.65,288.1 305.15,289.2 315.15,295.2 325.85,312.7 336.1,297.2 346.3,290.3 357.1,288.1 366.6,289.2 376.6,295.2 387.3,312.7 397.55,297.2 407.75,290.3 418.55,288.1 428.05,289.2 438.05,295.2 448.75,312.7 459,297.2 469.2,290.3 480,288.1 489.5,289.2 499.5,295.2 510.2,312.7 516.4,300.5" fill="none" stroke="#000" stroke-width="1.3" stroke-linejoin="miter"/>
</g>
<rect x="58.5" y="248.8" width="34.6" height="2.6" fill="#000"/>
<text x="94.4" y="253.8" font-size="11" fill="#000">20μm</text>
<text x="174.7" y="253.2" font-size="13" fill="#000" text-anchor="end">0°</text>
<text x="315.3" y="253.2" font-size="13" fill="#000" text-anchor="end">70°</text>
<text x="456.7" y="253.2" font-size="13" fill="#000" text-anchor="end">160°</text>
<text x="596.7" y="253.2" font-size="13" fill="#000" text-anchor="end">220°</text>
<text x="572" y="345.2" font-size="13" fill="#000" text-anchor="end">220°</text>
<circle cx="58.6" cy="193.9" r="8.9" fill="#000"/>
<polygon points="57.7,188.4 60,188.4 60,199.1 57.4,199.1 57.4,191 55.7,191.8 55.7,190.3" fill="#fff"/>
<circle cx="255.1" cy="194.9" r="8.9" fill="#000"/>
<text x="255.1" y="200.8" font-size="16.5" fill="#fff" stroke="#fff" stroke-width="0.35" text-anchor="middle">2</text>
<circle cx="396" cy="246" r="8.9" fill="#000"/>
<text x="396" y="251.9" font-size="16.5" fill="#fff" stroke="#fff" stroke-width="0.35" text-anchor="middle">3</text>
<circle cx="589.1" cy="196.2" r="8.9" fill="#000"/>
<text x="589.1" y="202.1" font-size="16.5" fill="#fff" stroke="#fff" stroke-width="0.35" text-anchor="middle">4</text>
<path d="M47.4 259.1 V247.5 M46.4 259.1 H54" stroke="#000" stroke-width="2.0" fill="none"/>
<polygon points="45.5,248.5 47.4,236.5 49.3,248.5" fill="#000"/>
<polygon points="53,257.2 65.0,259.1 53,261" fill="#000"/>
<text x="34.6" y="254.8" font-size="16" font-style="italic" fill="#000">y</text>
<text x="52.6" y="272.8" font-size="16" font-style="italic" fill="#000">x</text>
<rect x="98.1" y="392" width="477.9" height="65.5" fill="none" stroke="#8c8c8c" stroke-width="1.2"/>
<line x1="217.57" y1="457.5" x2="217.57" y2="452.7" stroke="#8c8c8c" stroke-width="1"/>
<line x1="217.57" y1="392" x2="217.57" y2="396.8" stroke="#8c8c8c" stroke-width="1"/>
<line x1="337.05" y1="457.5" x2="337.05" y2="452.7" stroke="#8c8c8c" stroke-width="1"/>
<line x1="337.05" y1="392" x2="337.05" y2="396.8" stroke="#8c8c8c" stroke-width="1"/>
<line x1="456.52" y1="457.5" x2="456.52" y2="452.7" stroke="#8c8c8c" stroke-width="1"/>
<line x1="456.52" y1="392" x2="456.52" y2="396.8" stroke="#8c8c8c" stroke-width="1"/>
<line x1="98.1" y1="457.5" x2="102.9" y2="457.5" stroke="#8c8c8c" stroke-width="1"/>
<line x1="576.0" y1="457.5" x2="571.2" y2="457.5" stroke="#8c8c8c" stroke-width="1"/>
<text x="94.6" y="463.2" font-size="16.3" letter-spacing="0.4" fill="#333333" text-anchor="end">0</text>
<line x1="98.1" y1="435.67" x2="102.9" y2="435.67" stroke="#8c8c8c" stroke-width="1"/>
<line x1="576.0" y1="435.67" x2="571.2" y2="435.67" stroke="#8c8c8c" stroke-width="1"/>
<text x="94.6" y="441.37" font-size="16.3" letter-spacing="0.4" fill="#333333" text-anchor="end">50</text>
<line x1="98.1" y1="413.83" x2="102.9" y2="413.83" stroke="#8c8c8c" stroke-width="1"/>
<line x1="576.0" y1="413.83" x2="571.2" y2="413.83" stroke="#8c8c8c" stroke-width="1"/>
<text x="94.6" y="419.53" font-size="16.3" letter-spacing="0.4" fill="#333333" text-anchor="end">.00</text>
<line x1="98.1" y1="392" x2="102.9" y2="392" stroke="#8c8c8c" stroke-width="1"/>
<line x1="576.0" y1="392" x2="571.2" y2="392" stroke="#8c8c8c" stroke-width="1"/>
<text x="94.6" y="397.7" font-size="16.3" letter-spacing="0.4" fill="#333333" text-anchor="end">.50</text>
<text x="98.3" y="478.5" font-size="16.3" letter-spacing="0.4" fill="#333333" text-anchor="middle">0</text>
<text x="217.77" y="478.5" font-size="16.3" letter-spacing="0.4" fill="#333333" text-anchor="middle">0.5</text>
<text x="337.25" y="478.5" font-size="16.3" letter-spacing="0.4" fill="#333333" text-anchor="middle">1</text>
<text x="456.72" y="478.5" font-size="16.3" letter-spacing="0.4" fill="#333333" text-anchor="middle">1.5</text>
<polyline points="98.1,457.5 99.29,457.5 100.49,457.5 101.68,457.5 102.88,457.5 104.07,457.5 105.27,457.5 106.46,457.5 107.66,457.49 108.85,457.49 110.05,457.48 111.24,457.47 112.44,457.45 113.63,457.41 114.83,457.37 116.02,457.31 117.22,457.23 118.41,457.12 119.61,457 120.8,456.85 121.99,456.68 123.19,456.49 124.38,456.29 125.58,456.07 126.77,455.84 127.97,455.61 129.16,455.37 130.36,455.12 131.55,454.88 132.75,454.64 133.94,454.39 135.14,454.15 136.33,453.91 137.53,453.67 138.72,453.44 139.92,453.2 141.11,452.97 142.31,452.73 143.5,452.5 144.7,452.27 145.89,452.04 147.08,451.82 148.28,451.59 149.47,451.37 150.67,451.14 151.86,450.92 153.06,450.71 154.25,450.49 155.45,450.27 156.64,450.06 157.84,449.85 159.03,449.64 160.23,449.43 161.42,449.22 162.62,449.02 163.81,448.82 165.01,448.62 166.2,448.42 167.4,448.22 168.59,448.02 169.78,447.83 170.98,447.64 172.17,447.45 173.37,447.27 174.56,447.08 175.76,446.9 176.95,446.72 178.15,446.54 179.34,446.37 180.54,446.19 181.73,446.02 182.93,445.86 184.12,445.69 185.32,445.53 186.51,445.37 187.71,445.21 188.9,445.06 190.1,444.9 191.29,444.76 192.49,444.61 193.68,444.47 194.87,444.33 196.07,444.19 197.26,444.06 198.46,443.93 199.65,443.81 200.85,443.69 202.04,443.57 203.24,443.46 204.43,443.36 205.63,443.26 206.82,443.17 208.02,443.08 209.21,443.01 210.41,442.94 211.6,442.88 212.8,442.83 213.99,442.78 215.19,442.75 216.38,442.72 217.57,442.7 218.77,442.68 219.96,442.67 221.16,442.67 222.35,442.66 223.55,442.66 224.74,442.65 225.94,442.65 227.13,442.65 228.33,442.64 229.52,442.63 230.72,442.62 231.91,442.6 233.11,442.57 234.3,442.52 235.5,442.46 236.69,442.38 237.89,442.28 239.08,442.15 240.28,442 241.47,441.83 242.66,441.64 243.86,441.44 245.05,441.22 246.25,440.99 247.44,440.76 248.64,440.52 249.83,440.28 251.03,440.03 252.22,439.79 253.42,439.55 254.61,439.31 255.81,439.07 257,438.83 258.2,438.59 259.39,438.35 260.59,438.12 261.78,437.89 262.98,437.65 264.17,437.42 265.37,437.2 266.56,436.97 267.75,436.74 268.95,436.52 270.14,436.3 271.34,436.08 272.53,435.86 273.73,435.64 274.92,435.43 276.12,435.21 277.31,435 278.51,434.79 279.7,434.58 280.9,434.38 282.09,434.17 283.29,433.97 284.48,433.77 285.68,433.57 286.87,433.37 288.07,433.18 289.26,432.99 290.45,432.79 291.65,432.61 292.84,432.42 294.04,432.24 295.23,432.05 296.43,431.87 297.62,431.7 298.82,431.52 300.01,431.35 301.21,431.18 302.4,431.01 303.6,430.84 304.79,430.68 305.99,430.52 307.18,430.36 308.38,430.21 309.57,430.06 310.77,429.91 311.96,429.76 313.15,429.62 314.35,429.48 315.54,429.35 316.74,429.21 317.93,429.09 319.13,428.96 320.32,428.84 321.52,428.73 322.71,428.62 323.91,428.51 325.1,428.41 326.3,428.32 327.49,428.24 328.69,428.16 329.88,428.09 331.08,428.03 332.27,427.98 333.47,427.94 334.66,427.9 335.86,427.87 337.05,427.85 338.24,427.84 339.44,427.83 340.63,427.82 341.83,427.81 343.02,427.81 344.22,427.81 345.41,427.8 346.61,427.8 347.8,427.8 349,427.79 350.19,427.77 351.39,427.75 352.58,427.72 353.78,427.68 354.97,427.61 356.17,427.53 357.36,427.43 358.56,427.3 359.75,427.16 360.95,426.99 362.14,426.8 363.33,426.59 364.53,426.37 365.72,426.15 366.92,425.91 368.11,425.67 369.31,425.43 370.5,425.19 371.7,424.94 372.89,424.7 374.09,424.46 375.28,424.22 376.48,423.98 377.67,423.74 378.87,423.51 380.06,423.27 381.26,423.04 382.45,422.81 383.65,422.58 384.84,422.35 386.03,422.12 387.23,421.9 388.42,421.67 389.62,421.45 390.81,421.23 392.01,421.01 393.2,420.79 394.4,420.58 395.59,420.37 396.79,420.15 397.98,419.94 399.18,419.74 400.37,419.53 401.57,419.33 402.76,419.12 403.96,418.92 405.15,418.72 406.35,418.53 407.54,418.33 408.74,418.14 409.93,417.95 411.12,417.76 412.32,417.57 413.51,417.39 414.71,417.21 415.9,417.03 417.1,416.85 418.29,416.67 419.49,416.5 420.68,416.33 421.88,416.16 423.07,416 424.27,415.83 425.46,415.67 426.66,415.52 427.85,415.36 429.05,415.21 430.24,415.06 431.44,414.92 432.63,414.77 433.82,414.64 435.02,414.5 436.21,414.37 437.41,414.24 438.6,414.12 439.8,414 440.99,413.88 442.19,413.77 443.38,413.67 444.58,413.57 445.77,413.48 446.97,413.39 448.16,413.31 449.36,413.25 450.55,413.18 451.75,413.13 452.94,413.09 454.14,413.05 455.33,413.03 456.52,413.01 457.72,412.99 458.91,412.98 460.11,412.97 461.3,412.97 462.5,412.96 463.69,412.96 464.89,412.96 466.08,412.95 467.28,412.95 468.47,412.94 469.67,412.93 470.86,412.91 472.06,412.87 473.25,412.83 474.45,412.77 475.64,412.69 476.84,412.58 478.03,412.46 479.23,412.31 480.42,412.14 481.61,411.95 482.81,411.75 484,411.53 485.2,411.3 486.39,411.07 487.59,410.83 488.78,410.58 489.98,410.34 491.17,410.1 492.37,409.85 493.56,409.61 494.76,409.37 495.95,409.13 497.15,408.9 498.34,408.66 499.54,408.43 500.73,408.19 501.93,407.96 503.12,407.73 504.31,407.5 505.51,407.28 506.7,407.05 507.9,406.83 509.09,406.6 510.29,406.38 511.48,406.17 512.68,405.95 513.87,405.73 515.07,405.52 516.26,405.31 517.46,405.1 518.65,404.89 519.85,404.68 521.04,404.48 522.24,404.28 523.43,404.08 524.63,403.88 525.82,403.68 527.02,403.48 528.21,403.29 529.4,403.1 530.6,402.91 531.79,402.73 532.99,402.54 534.18,402.36 535.38,402.18 536.57,402 537.77,401.83 538.96,401.65 540.16,401.48 541.35,401.32 542.55,401.15 543.74,400.99 544.94,400.83 546.13,400.67 547.33,400.52 548.52,400.36 549.72,400.22 550.91,400.07 552.1,399.93 553.3,399.79 554.49,399.65 555.69,399.52 556.88,399.39 558.08,399.27 559.27,399.15 560.47,399.03 561.66,398.92 562.86,398.82 564.05,398.72 565.25,398.63 566.44,398.54 567.64,398.47 568.83,398.4 570.03,398.34 571.22,398.29 572.42,398.24 573.61,398.21 574.81,398.18 576,398.16" fill="none" stroke="#1b479f" stroke-width="2.1" stroke-linejoin="round"/>
<rect x="98.1" y="493.4" width="477.9" height="65.9" fill="none" stroke="#8c8c8c" stroke-width="1.2"/>
<line x1="217.57" y1="559.3" x2="217.57" y2="554.5" stroke="#8c8c8c" stroke-width="1"/>
<line x1="217.57" y1="493.4" x2="217.57" y2="498.2" stroke="#8c8c8c" stroke-width="1"/>
<line x1="337.05" y1="559.3" x2="337.05" y2="554.5" stroke="#8c8c8c" stroke-width="1"/>
<line x1="337.05" y1="493.4" x2="337.05" y2="498.2" stroke="#8c8c8c" stroke-width="1"/>
<line x1="456.52" y1="559.3" x2="456.52" y2="554.5" stroke="#8c8c8c" stroke-width="1"/>
<line x1="456.52" y1="493.4" x2="456.52" y2="498.2" stroke="#8c8c8c" stroke-width="1"/>
<line x1="98.1" y1="551.55" x2="102.9" y2="551.55" stroke="#8c8c8c" stroke-width="1"/>
<line x1="576.0" y1="551.55" x2="571.2" y2="551.55" stroke="#8c8c8c" stroke-width="1"/>
<text x="94.6" y="557.25" font-size="16.3" letter-spacing="0.4" fill="#333333" text-anchor="end">0</text>
<line x1="98.1" y1="532.16" x2="102.9" y2="532.16" stroke="#8c8c8c" stroke-width="1"/>
<line x1="576.0" y1="532.16" x2="571.2" y2="532.16" stroke="#8c8c8c" stroke-width="1"/>
<text x="94.6" y="537.86" font-size="16.3" letter-spacing="0.4" fill="#333333" text-anchor="end">5</text>
<line x1="98.1" y1="512.78" x2="102.9" y2="512.78" stroke="#8c8c8c" stroke-width="1"/>
<line x1="576.0" y1="512.78" x2="571.2" y2="512.78" stroke="#8c8c8c" stroke-width="1"/>
<text x="94.6" y="518.48" font-size="16.3" letter-spacing="0.4" fill="#333333" text-anchor="end">10</text>
<line x1="98.1" y1="493.4" x2="102.9" y2="493.4" stroke="#8c8c8c" stroke-width="1"/>
<line x1="576.0" y1="493.4" x2="571.2" y2="493.4" stroke="#8c8c8c" stroke-width="1"/>
<text x="94.6" y="499.1" font-size="16.3" letter-spacing="0.4" fill="#333333" text-anchor="end">15</text>
<text x="98.3" y="580.3" font-size="16.3" letter-spacing="0.4" fill="#333333" text-anchor="middle">0</text>
<text x="217.77" y="580.3" font-size="16.3" letter-spacing="0.4" fill="#333333" text-anchor="middle">0.5</text>
<text x="337.25" y="580.3" font-size="16.3" letter-spacing="0.4" fill="#333333" text-anchor="middle">1</text>
<text x="456.72" y="580.3" font-size="16.3" letter-spacing="0.4" fill="#333333" text-anchor="middle">1.5</text>
<polyline points="98.1,551.55 99.29,551.69 100.49,551.85 101.68,552 102.88,552.15 104.07,552.26 105.27,552.32 106.46,552.36 107.66,552.39 108.85,552.34 110.05,552.18 111.24,551.86 112.44,551.47 113.63,551.02 114.83,550.45 116.02,549.7 117.22,548.72 118.41,547.42 119.61,545.77 120.8,543.85 121.99,541.75 123.19,539.53 124.38,537.09 125.58,534.38 126.77,531.6 127.97,528.95 129.16,526.6 130.36,524.37 131.55,522.21 132.75,520.17 133.94,518.29 135.14,516.59 136.33,515.07 137.53,513.65 138.72,512.33 139.92,511.11 141.11,509.97 142.31,508.91 143.5,507.92 144.7,507 145.89,506.17 147.08,505.42 148.28,504.76 149.47,504.17 150.67,503.63 151.86,503.15 153.06,502.7 154.25,502.31 155.45,501.96 156.64,501.67 157.84,501.43 159.03,501.24 160.23,501.1 161.42,501 162.62,500.94 163.81,500.92 165.01,500.94 166.2,501.01 167.4,501.14 168.59,501.33 169.78,501.59 170.98,501.93 172.17,502.35 173.37,502.84 174.56,503.4 175.76,504.02 176.95,504.71 178.15,505.45 179.34,506.25 180.54,507.09 181.73,507.99 182.93,508.95 184.12,509.96 185.32,511.03 186.51,512.16 187.71,513.35 188.9,514.59 190.1,515.87 191.29,517.2 192.49,518.58 193.68,520.03 194.87,521.55 196.07,523.15 197.26,524.84 198.46,526.68 199.65,528.76 200.85,530.98 202.04,533.25 203.24,535.49 204.43,537.62 205.63,539.76 206.82,541.94 208.02,544.06 209.21,546.03 210.41,547.76 211.6,549.15 212.8,550.11 213.99,550.8 215.19,551.36 216.38,551.93 217.57,551.55 218.77,551.69 219.96,551.85 221.16,552 222.35,552.15 223.55,552.26 224.74,552.32 225.94,552.36 227.13,552.39 228.33,552.34 229.52,552.18 230.72,551.86 231.91,551.47 233.11,551.02 234.3,550.45 235.5,549.7 236.69,548.72 237.89,547.42 239.08,545.77 240.28,543.85 241.47,541.75 242.66,539.53 243.86,537.09 245.05,534.38 246.25,531.6 247.44,528.95 248.64,526.6 249.83,524.37 251.03,522.21 252.22,520.17 253.42,518.29 254.61,516.59 255.81,515.07 257,513.65 258.2,512.33 259.39,511.11 260.59,509.97 261.78,508.91 262.98,507.92 264.17,507 265.37,506.17 266.56,505.42 267.75,504.76 268.95,504.17 270.14,503.63 271.34,503.15 272.53,502.7 273.73,502.31 274.92,501.96 276.12,501.67 277.31,501.43 278.51,501.24 279.7,501.1 280.9,501 282.09,500.94 283.29,500.92 284.48,500.94 285.68,501.01 286.87,501.14 288.07,501.33 289.26,501.59 290.45,501.93 291.65,502.35 292.84,502.84 294.04,503.4 295.23,504.02 296.43,504.71 297.62,505.45 298.82,506.25 300.01,507.09 301.21,507.99 302.4,508.95 303.6,509.96 304.79,511.03 305.99,512.16 307.18,513.35 308.38,514.59 309.57,515.87 310.77,517.2 311.96,518.58 313.15,520.03 314.35,521.55 315.54,523.15 316.74,524.84 317.93,526.68 319.13,528.76 320.32,530.98 321.52,533.25 322.71,535.49 323.91,537.62 325.1,539.76 326.3,541.94 327.49,544.06 328.69,546.03 329.88,547.76 331.08,549.15 332.27,550.11 333.47,550.8 334.66,551.36 335.86,551.93 337.05,551.55 338.24,551.69 339.44,551.85 340.63,552 341.83,552.15 343.02,552.26 344.22,552.32 345.41,552.36 346.61,552.39 347.8,552.34 349,552.18 350.19,551.86 351.39,551.47 352.58,551.02 353.78,550.45 354.97,549.7 356.17,548.72 357.36,547.42 358.56,545.77 359.75,543.85 360.95,541.75 362.14,539.53 363.33,537.09 364.53,534.38 365.72,531.6 366.92,528.95 368.11,526.6 369.31,524.37 370.5,522.21 371.7,520.17 372.89,518.29 374.09,516.59 375.28,515.07 376.48,513.65 377.67,512.33 378.87,511.11 380.06,509.97 381.26,508.91 382.45,507.92 383.65,507 384.84,506.17 386.03,505.42 387.23,504.76 388.42,504.17 389.62,503.63 390.81,503.15 392.01,502.7 393.2,502.31 394.4,501.96 395.59,501.67 396.79,501.43 397.98,501.24 399.18,501.1 400.37,501 401.57,500.94 402.76,500.92 403.96,500.94 405.15,501.01 406.35,501.14 407.54,501.33 408.74,501.59 409.93,501.93 411.12,502.35 412.32,502.84 413.51,503.4 414.71,504.02 415.9,504.71 417.1,505.45 418.29,506.25 419.49,507.09 420.68,507.99 421.88,508.95 423.07,509.96 424.27,511.03 425.46,512.16 426.66,513.35 427.85,514.59 429.05,515.87 430.24,517.2 431.44,518.58 432.63,520.03 433.82,521.55 435.02,523.15 436.21,524.84 437.41,526.68 438.6,528.76 439.8,530.98 440.99,533.25 442.19,535.49 443.38,537.62 444.58,539.76 445.77,541.94 446.97,544.06 448.16,546.03 449.36,547.76 450.55,549.15 451.75,550.11 452.94,550.8 454.14,551.36 455.33,551.93 456.52,551.55 457.72,551.69 458.91,551.85 460.11,552 461.3,552.15 462.5,552.26 463.69,552.32 464.89,552.36 466.08,552.39 467.28,552.34 468.47,552.18 469.67,551.86 470.86,551.47 472.06,551.02 473.25,550.45 474.45,549.7 475.64,548.72 476.84,547.42 478.03,545.77 479.23,543.85 480.42,541.75 481.61,539.53 482.81,537.09 484,534.38 485.2,531.6 486.39,528.95 487.59,526.6 488.78,524.37 489.98,522.21 491.17,520.17 492.37,518.29 493.56,516.59 494.76,515.07 495.95,513.65 497.15,512.33 498.34,511.11 499.54,509.97 500.73,508.91 501.93,507.92 503.12,507 504.31,506.17 505.51,505.42 506.7,504.76 507.9,504.17 509.09,503.63 510.29,503.15 511.48,502.7 512.68,502.31 513.87,501.96 515.07,501.67 516.26,501.43 517.46,501.24 518.65,501.1 519.85,501 521.04,500.94 522.24,500.92 523.43,500.94 524.63,501.01 525.82,501.14 527.02,501.33 528.21,501.59 529.4,501.93 530.6,502.35 531.79,502.84 532.99,503.4 534.18,504.02 535.38,504.71 536.57,505.45 537.77,506.25 538.96,507.09 540.16,507.99 541.35,508.95 542.55,509.96 543.74,511.03 544.94,512.16 546.13,513.35 547.33,514.59 548.52,515.87 549.72,517.2 550.91,518.58 552.1,520.03 553.3,521.55 554.49,523.15 555.69,524.84 556.88,526.68 558.08,528.76 559.27,530.98 560.47,533.25 561.66,535.49 562.86,537.62 564.05,539.76 565.25,541.94 566.44,544.06 567.64,546.03 568.83,547.76 570.03,549.15 571.22,550.11 572.42,550.8 573.61,551.36 574.81,551.93 576,551.55" fill="none" stroke="#1b479f" stroke-width="2.1" stroke-linejoin="round"/>
<rect x="98.1" y="594.6" width="477.9" height="65.7" fill="none" stroke="#8c8c8c" stroke-width="1.2"/>
<line x1="217.57" y1="660.3" x2="217.57" y2="655.5" stroke="#8c8c8c" stroke-width="1"/>
<line x1="217.57" y1="594.6" x2="217.57" y2="599.4" stroke="#8c8c8c" stroke-width="1"/>
<line x1="337.05" y1="660.3" x2="337.05" y2="655.5" stroke="#8c8c8c" stroke-width="1"/>
<line x1="337.05" y1="594.6" x2="337.05" y2="599.4" stroke="#8c8c8c" stroke-width="1"/>
<line x1="456.52" y1="660.3" x2="456.52" y2="655.5" stroke="#8c8c8c" stroke-width="1"/>
<line x1="456.52" y1="594.6" x2="456.52" y2="599.4" stroke="#8c8c8c" stroke-width="1"/>
<line x1="98.1" y1="650.91" x2="102.9" y2="650.91" stroke="#8c8c8c" stroke-width="1"/>
<line x1="576.0" y1="650.91" x2="571.2" y2="650.91" stroke="#8c8c8c" stroke-width="1"/>
<text x="94.6" y="656.61" font-size="16.3" letter-spacing="0.4" fill="#333333" text-anchor="end">0</text>
<line x1="98.1" y1="627.45" x2="102.9" y2="627.45" stroke="#8c8c8c" stroke-width="1"/>
<line x1="576.0" y1="627.45" x2="571.2" y2="627.45" stroke="#8c8c8c" stroke-width="1"/>
<text x="94.6" y="633.15" font-size="16.3" letter-spacing="0.4" fill="#333333" text-anchor="end">.5</text>
<line x1="98.1" y1="603.99" x2="102.9" y2="603.99" stroke="#8c8c8c" stroke-width="1"/>
<line x1="576.0" y1="603.99" x2="571.2" y2="603.99" stroke="#8c8c8c" stroke-width="1"/>
<text x="94.6" y="609.69" font-size="16.3" letter-spacing="0.4" fill="#333333" text-anchor="end">1</text>
<text x="98.3" y="681.3" font-size="16.3" letter-spacing="0.4" fill="#333333" text-anchor="middle">0</text>
<text x="217.77" y="681.3" font-size="16.3" letter-spacing="0.4" fill="#333333" text-anchor="middle">0.5</text>
<text x="337.25" y="681.3" font-size="16.3" letter-spacing="0.4" fill="#333333" text-anchor="middle">1</text>
<text x="456.72" y="681.3" font-size="16.3" letter-spacing="0.4" fill="#333333" text-anchor="middle">1.5</text>
<polyline points="98.1,650.91 337.05,650.91 576,650.91" fill="none" stroke="#1b479f" stroke-width="2.1" stroke-linejoin="round"/>
<rect x="98.1" y="695.4" width="477.9" height="66.9" fill="none" stroke="#8c8c8c" stroke-width="1.2"/>
<line x1="217.57" y1="762.3" x2="217.57" y2="757.5" stroke="#8c8c8c" stroke-width="1"/>
<line x1="217.57" y1="695.4" x2="217.57" y2="700.2" stroke="#8c8c8c" stroke-width="1"/>
<line x1="337.05" y1="762.3" x2="337.05" y2="757.5" stroke="#8c8c8c" stroke-width="1"/>
<line x1="337.05" y1="695.4" x2="337.05" y2="700.2" stroke="#8c8c8c" stroke-width="1"/>
<line x1="456.52" y1="762.3" x2="456.52" y2="757.5" stroke="#8c8c8c" stroke-width="1"/>
<line x1="456.52" y1="695.4" x2="456.52" y2="700.2" stroke="#8c8c8c" stroke-width="1"/>
<line x1="98.1" y1="759.26" x2="102.9" y2="759.26" stroke="#8c8c8c" stroke-width="1"/>
<line x1="576.0" y1="759.26" x2="571.2" y2="759.26" stroke="#8c8c8c" stroke-width="1"/>
<text x="94.6" y="764.96" font-size="16.3" letter-spacing="0.4" fill="#333333" text-anchor="end">-20</text>
<line x1="98.1" y1="728.85" x2="102.9" y2="728.85" stroke="#8c8c8c" stroke-width="1"/>
<line x1="576.0" y1="728.85" x2="571.2" y2="728.85" stroke="#8c8c8c" stroke-width="1"/>
<text x="94.6" y="734.55" font-size="16.3" letter-spacing="0.4" fill="#333333" text-anchor="end">0</text>
<line x1="98.1" y1="698.44" x2="102.9" y2="698.44" stroke="#8c8c8c" stroke-width="1"/>
<line x1="576.0" y1="698.44" x2="571.2" y2="698.44" stroke="#8c8c8c" stroke-width="1"/>
<text x="94.6" y="704.14" font-size="16.3" letter-spacing="0.4" fill="#333333" text-anchor="end">20</text>
<text x="98.3" y="783.3" font-size="16.3" letter-spacing="0.4" fill="#333333" text-anchor="middle">0</text>
<text x="217.77" y="783.3" font-size="16.3" letter-spacing="0.4" fill="#333333" text-anchor="middle">0.5</text>
<text x="337.25" y="783.3" font-size="16.3" letter-spacing="0.4" fill="#333333" text-anchor="middle">1</text>
<text x="456.72" y="783.3" font-size="16.3" letter-spacing="0.4" fill="#333333" text-anchor="middle">1.5</text>
<polyline points="98.1,728.85 99.29,727.89 100.49,726.94 101.68,725.99 102.88,725.04 104.07,724.09 105.27,723.15 106.46,722.22 107.66,721.29 108.85,720.37 110.05,719.45 111.24,718.55 112.44,717.66 113.63,716.77 114.83,715.9 116.02,715.04 117.22,714.2 118.41,713.37 119.61,712.56 120.8,711.76 121.99,710.98 123.19,710.21 124.38,709.47 125.58,708.74 126.77,708.03 127.97,707.35 129.16,706.68 130.36,706.04 131.55,705.42 132.75,704.82 133.94,704.25 135.14,703.7 136.33,703.17 137.53,702.68 138.72,702.2 139.92,701.76 141.11,701.34 142.31,700.94 143.5,700.58 144.7,700.24 145.89,699.93 147.08,699.65 148.28,699.4 149.47,699.17 150.67,698.98 151.86,698.82 153.06,698.68 154.25,698.58 155.45,698.5 156.64,698.46 157.84,698.44 159.03,698.46 160.23,698.5 161.42,698.58 162.62,698.68 163.81,698.82 165.01,698.98 166.2,699.17 167.4,699.4 168.59,699.65 169.78,699.93 170.98,700.24 172.17,700.58 173.37,700.94 174.56,701.34 175.76,701.76 176.95,702.2 178.15,702.68 179.34,703.17 180.54,703.7 181.73,704.25 182.93,704.82 184.12,705.42 185.32,706.04 186.51,706.68 187.71,707.35 188.9,708.03 190.1,708.74 191.29,709.47 192.49,710.21 193.68,710.98 194.87,711.76 196.07,712.56 197.26,713.37 198.46,714.2 199.65,715.04 200.85,715.9 202.04,716.77 203.24,717.66 204.43,718.55 205.63,719.45 206.82,720.37 208.02,721.29 209.21,722.22 210.41,723.15 211.6,724.09 212.8,725.04 213.99,725.99 215.19,726.94 216.38,727.89 217.57,728.85 218.77,729.81 219.96,730.76 221.16,731.71 222.35,732.66 223.55,733.61 224.74,734.55 225.94,735.48 227.13,736.41 228.33,737.33 229.52,738.25 230.72,739.15 231.91,740.04 233.11,740.93 234.3,741.8 235.5,742.66 236.69,743.5 237.89,744.33 239.08,745.14 240.28,745.94 241.47,746.72 242.66,747.49 243.86,748.23 245.05,748.96 246.25,749.67 247.44,750.35 248.64,751.02 249.83,751.66 251.03,752.28 252.22,752.88 253.42,753.45 254.61,754 255.81,754.53 257,755.02 258.2,755.5 259.39,755.94 260.59,756.36 261.78,756.76 262.98,757.12 264.17,757.46 265.37,757.77 266.56,758.05 267.75,758.3 268.95,758.53 270.14,758.72 271.34,758.88 272.53,759.02 273.73,759.12 274.92,759.2 276.12,759.24 277.31,759.26 278.51,759.24 279.7,759.2 280.9,759.12 282.09,759.02 283.29,758.88 284.48,758.72 285.68,758.53 286.87,758.3 288.07,758.05 289.26,757.77 290.45,757.46 291.65,757.12 292.84,756.76 294.04,756.36 295.23,755.94 296.43,755.5 297.62,755.02 298.82,754.53 300.01,754 301.21,753.45 302.4,752.88 303.6,752.28 304.79,751.66 305.99,751.02 307.18,750.35 308.38,749.67 309.57,748.96 310.77,748.23 311.96,747.49 313.15,746.72 314.35,745.94 315.54,745.14 316.74,744.33 317.93,743.5 319.13,742.66 320.32,741.8 321.52,740.93 322.71,740.04 323.91,739.15 325.1,738.25 326.3,737.33 327.49,736.41 328.69,735.48 329.88,734.55 331.08,733.61 332.27,732.66 333.47,731.71 334.66,730.76 335.86,729.81 337.05,728.85 338.24,727.89 339.44,726.94 340.63,725.99 341.83,725.04 343.02,724.09 344.22,723.15 345.41,722.22 346.61,721.29 347.8,720.37 349,719.45 350.19,718.55 351.39,717.66 352.58,716.77 353.78,715.9 354.97,715.04 356.17,714.2 357.36,713.37 358.56,712.56 359.75,711.76 360.95,710.98 362.14,710.21 363.33,709.47 364.53,708.74 365.72,708.03 366.92,707.35 368.11,706.68 369.31,706.04 370.5,705.42 371.7,704.82 372.89,704.25 374.09,703.7 375.28,703.17 376.48,702.68 377.67,702.2 378.87,701.76 380.06,701.34 381.26,700.94 382.45,700.58 383.65,700.24 384.84,699.93 386.03,699.65 387.23,699.4 388.42,699.17 389.62,698.98 390.81,698.82 392.01,698.68 393.2,698.58 394.4,698.5 395.59,698.46 396.79,698.44 397.98,698.46 399.18,698.5 400.37,698.58 401.57,698.68 402.76,698.82 403.96,698.98 405.15,699.17 406.35,699.4 407.54,699.65 408.74,699.93 409.93,700.24 411.12,700.58 412.32,700.94 413.51,701.34 414.71,701.76 415.9,702.2 417.1,702.68 418.29,703.17 419.49,703.7 420.68,704.25 421.88,704.82 423.07,705.42 424.27,706.04 425.46,706.68 426.66,707.35 427.85,708.03 429.05,708.74 430.24,709.47 431.44,710.21 432.63,710.98 433.82,711.76 435.02,712.56 436.21,713.37 437.41,714.2 438.6,715.04 439.8,715.9 440.99,716.77 442.19,717.66 443.38,718.55 444.58,719.45 445.77,720.37 446.97,721.29 448.16,722.22 449.36,723.15 450.55,724.09 451.75,725.04 452.94,725.99 454.14,726.94 455.33,727.89 456.52,728.85 457.72,729.81 458.91,730.76 460.11,731.71 461.3,732.66 462.5,733.61 463.69,734.55 464.89,735.48 466.08,736.41 467.28,737.33 468.47,738.25 469.67,739.15 470.86,740.04 472.06,740.93 473.25,741.8 474.45,742.66 475.64,743.5 476.84,744.33 478.03,745.14 479.23,745.94 480.42,746.72 481.61,747.49 482.81,748.23 484,748.96 485.2,749.67 486.39,750.35 487.59,751.02 488.78,751.66 489.98,752.28 491.17,752.88 492.37,753.45 493.56,754 494.76,754.53 495.95,755.02 497.15,755.5 498.34,755.94 499.54,756.36 500.73,756.76 501.93,757.12 503.12,757.46 504.31,757.77 505.51,758.05 506.7,758.3 507.9,758.53 509.09,758.72 510.29,758.88 511.48,759.02 512.68,759.12 513.87,759.2 515.07,759.24 516.26,759.26 517.46,759.24 518.65,759.2 519.85,759.12 521.04,759.02 522.24,758.88 523.43,758.72 524.63,758.53 525.82,758.3 527.02,758.05 528.21,757.77 529.4,757.46 530.6,757.12 531.79,756.76 532.99,756.36 534.18,755.94 535.38,755.5 536.57,755.02 537.77,754.53 538.96,754 540.16,753.45 541.35,752.88 542.55,752.28 543.74,751.66 544.94,751.02 546.13,750.35 547.33,749.67 548.52,748.96 549.72,748.23 550.91,747.49 552.1,746.72 553.3,745.94 554.49,745.14 555.69,744.33 556.88,743.5 558.08,742.66 559.27,741.8 560.47,740.93 561.66,740.04 562.86,739.15 564.05,738.25 565.25,737.33 566.44,736.41 567.64,735.48 568.83,734.55 570.03,733.61 571.22,732.66 572.42,731.71 573.61,730.76 574.81,729.81 576,728.85" fill="none" stroke="#e61923" stroke-width="2.1" stroke-linejoin="round"/>
<polyline points="98.1,698.44 99.29,698.46 100.49,698.5 101.68,698.58 102.88,698.68 104.07,698.82 105.27,698.98 106.46,699.17 107.66,699.4 108.85,699.65 110.05,699.93 111.24,700.24 112.44,700.58 113.63,700.94 114.83,701.34 116.02,701.76 117.22,702.2 118.41,702.68 119.61,703.17 120.8,703.7 121.99,704.25 123.19,704.82 124.38,705.42 125.58,706.04 126.77,706.68 127.97,707.35 129.16,708.03 130.36,708.74 131.55,709.47 132.75,710.21 133.94,710.98 135.14,711.76 136.33,712.56 137.53,713.37 138.72,714.2 139.92,715.04 141.11,715.9 142.31,716.77 143.5,717.66 144.7,718.55 145.89,719.45 147.08,720.37 148.28,721.29 149.47,722.22 150.67,723.15 151.86,724.09 153.06,725.04 154.25,725.99 155.45,726.94 156.64,727.89 157.84,728.85 159.03,729.81 160.23,730.76 161.42,731.71 162.62,732.66 163.81,733.61 165.01,734.55 166.2,735.48 167.4,736.41 168.59,737.33 169.78,738.25 170.98,739.15 172.17,740.04 173.37,740.93 174.56,741.8 175.76,742.66 176.95,743.5 178.15,744.33 179.34,745.14 180.54,745.94 181.73,746.72 182.93,747.49 184.12,748.23 185.32,748.96 186.51,749.67 187.71,750.35 188.9,751.02 190.1,751.66 191.29,752.28 192.49,752.88 193.68,753.45 194.87,754 196.07,754.53 197.26,755.02 198.46,755.5 199.65,755.94 200.85,756.36 202.04,756.76 203.24,757.12 204.43,757.46 205.63,757.77 206.82,758.05 208.02,758.3 209.21,758.53 210.41,758.72 211.6,758.88 212.8,759.02 213.99,759.12 215.19,759.2 216.38,759.24 217.57,759.26 218.77,759.24 219.96,759.2 221.16,759.12 222.35,759.02 223.55,758.88 224.74,758.72 225.94,758.53 227.13,758.3 228.33,758.05 229.52,757.77 230.72,757.46 231.91,757.12 233.11,756.76 234.3,756.36 235.5,755.94 236.69,755.5 237.89,755.02 239.08,754.53 240.28,754 241.47,753.45 242.66,752.88 243.86,752.28 245.05,751.66 246.25,751.02 247.44,750.35 248.64,749.67 249.83,748.96 251.03,748.23 252.22,747.49 253.42,746.72 254.61,745.94 255.81,745.14 257,744.33 258.2,743.5 259.39,742.66 260.59,741.8 261.78,740.93 262.98,740.04 264.17,739.15 265.37,738.25 266.56,737.33 267.75,736.41 268.95,735.48 270.14,734.55 271.34,733.61 272.53,732.66 273.73,731.71 274.92,730.76 276.12,729.81 277.31,728.85 278.51,727.89 279.7,726.94 280.9,725.99 282.09,725.04 283.29,724.09 284.48,723.15 285.68,722.22 286.87,721.29 288.07,720.37 289.26,719.45 290.45,718.55 291.65,717.66 292.84,716.77 294.04,715.9 295.23,715.04 296.43,714.2 297.62,713.37 298.82,712.56 300.01,711.76 301.21,710.98 302.4,710.21 303.6,709.47 304.79,708.74 305.99,708.03 307.18,707.35 308.38,706.68 309.57,706.04 310.77,705.42 311.96,704.82 313.15,704.25 314.35,703.7 315.54,703.17 316.74,702.68 317.93,702.2 319.13,701.76 320.32,701.34 321.52,700.94 322.71,700.58 323.91,700.24 325.1,699.93 326.3,699.65 327.49,699.4 328.69,699.17 329.88,698.98 331.08,698.82 332.27,698.68 333.47,698.58 334.66,698.5 335.86,698.46 337.05,698.44 338.24,698.46 339.44,698.5 340.63,698.58 341.83,698.68 343.02,698.82 344.22,698.98 345.41,699.17 346.61,699.4 347.8,699.65 349,699.93 350.19,700.24 351.39,700.58 352.58,700.94 353.78,701.34 354.97,701.76 356.17,702.2 357.36,702.68 358.56,703.17 359.75,703.7 360.95,704.25 362.14,704.82 363.33,705.42 364.53,706.04 365.72,706.68 366.92,707.35 368.11,708.03 369.31,708.74 370.5,709.47 371.7,710.21 372.89,710.98 374.09,711.76 375.28,712.56 376.48,713.37 377.67,714.2 378.87,715.04 380.06,715.9 381.26,716.77 382.45,717.66 383.65,718.55 384.84,719.45 386.03,720.37 387.23,721.29 388.42,722.22 389.62,723.15 390.81,724.09 392.01,725.04 393.2,725.99 394.4,726.94 395.59,727.89 396.79,728.85 397.98,729.81 399.18,730.76 400.37,731.71 401.57,732.66 402.76,733.61 403.96,734.55 405.15,735.48 406.35,736.41 407.54,737.33 408.74,738.25 409.93,739.15 411.12,740.04 412.32,740.93 413.51,741.8 414.71,742.66 415.9,743.5 417.1,744.33 418.29,745.14 419.49,745.94 420.68,746.72 421.88,747.49 423.07,748.23 424.27,748.96 425.46,749.67 426.66,750.35 427.85,751.02 429.05,751.66 430.24,752.28 431.44,752.88 432.63,753.45 433.82,754 435.02,754.53 436.21,755.02 437.41,755.5 438.6,755.94 439.8,756.36 440.99,756.76 442.19,757.12 443.38,757.46 444.58,757.77 445.77,758.05 446.97,758.3 448.16,758.53 449.36,758.72 450.55,758.88 451.75,759.02 452.94,759.12 454.14,759.2 455.33,759.24 456.52,759.26 457.72,759.24 458.91,759.2 460.11,759.12 461.3,759.02 462.5,758.88 463.69,758.72 464.89,758.53 466.08,758.3 467.28,758.05 468.47,757.77 469.67,757.46 470.86,757.12 472.06,756.76 473.25,756.36 474.45,755.94 475.64,755.5 476.84,755.02 478.03,754.53 479.23,754 480.42,753.45 481.61,752.88 482.81,752.28 484,751.66 485.2,751.02 486.39,750.35 487.59,749.67 488.78,748.96 489.98,748.23 491.17,747.49 492.37,746.72 493.56,745.94 494.76,745.14 495.95,744.33 497.15,743.5 498.34,742.66 499.54,741.8 500.73,740.93 501.93,740.04 503.12,739.15 504.31,738.25 505.51,737.33 506.7,736.41 507.9,735.48 509.09,734.55 510.29,733.61 511.48,732.66 512.68,731.71 513.87,730.76 515.07,729.81 516.26,728.85 517.46,727.89 518.65,726.94 519.85,725.99 521.04,725.04 522.24,724.09 523.43,723.15 524.63,722.22 525.82,721.29 527.02,720.37 528.21,719.45 529.4,718.55 530.6,717.66 531.79,716.77 532.99,715.9 534.18,715.04 535.38,714.2 536.57,713.37 537.77,712.56 538.96,711.76 540.16,710.98 541.35,710.21 542.55,709.47 543.74,708.74 544.94,708.03 546.13,707.35 547.33,706.68 548.52,706.04 549.72,705.42 550.91,704.82 552.1,704.25 553.3,703.7 554.49,703.17 555.69,702.68 556.88,702.2 558.08,701.76 559.27,701.34 560.47,700.94 561.66,700.58 562.86,700.24 564.05,699.93 565.25,699.65 566.44,699.4 567.64,699.17 568.83,698.98 570.03,698.82 571.22,698.68 572.42,698.58 573.61,698.5 574.81,698.46 576,698.44" fill="none" stroke="#1b479f" stroke-width="2.1" stroke-linejoin="round"/>
<circle cx="216.8" cy="747.7" r="8.9" fill="#000"/>
<polygon points="215.9,742.2 218.2,742.2 218.2,752.9 215.6,752.9 215.6,744.8 213.9,745.6 213.9,744.1" fill="#fff"/>
<circle cx="253.3" cy="732" r="8.9" fill="#000"/>
<text x="253.3" y="737.9" font-size="16.5" fill="#fff" stroke="#fff" stroke-width="0.35" text-anchor="middle">2</text>
<circle cx="321.3" cy="752.4" r="8.9" fill="#000"/>
<text x="321.3" y="758.3" font-size="16.5" fill="#fff" stroke="#fff" stroke-width="0.35" text-anchor="middle">3</text>
<circle cx="359.1" cy="752.4" r="8.9" fill="#000"/>
<text x="359.1" y="758.3" font-size="16.5" fill="#fff" stroke="#fff" stroke-width="0.35" text-anchor="middle">4</text>
<text transform="translate(66.4,422.9) rotate(-90)" font-size="16" fill="#1a1a1a" text-anchor="middle"><tspan font-style="italic">x</tspan> pos. (μm)</text>
<text transform="translate(66.4,524.1) rotate(-90)" font-size="16" fill="#1a1a1a" text-anchor="middle"><tspan font-style="italic">y</tspan> pos. (μm)</text>
<text transform="translate(66.4,625.7) rotate(-90)" font-size="16" fill="#1a1a1a" text-anchor="middle"><tspan font-style="italic">z</tspan> pos. (μm)</text>
<text transform="translate(69.9,724.5) rotate(-90)" font-size="16" fill="#1a1a1a" text-anchor="middle">(mT)</text>
<text transform="translate(50.4,724.2) rotate(-90)" font-size="16" text-anchor="middle"><tspan fill="#1b479f">μ<tspan font-size="11" dy="3.5">0</tspan><tspan font-style="italic" dy="-3.5">H</tspan><tspan font-size="11" dy="3.5">x</tspan></tspan><tspan dy="-3.5"> </tspan><tspan fill="#e61923">μ<tspan font-size="11" dy="3.5">0</tspan><tspan font-style="italic" dy="-3.5">H</tspan><tspan font-size="11" dy="3.5">y</tspan></tspan></text>
<text x="339.7" y="804.3" font-size="16" fill="#1a1a1a" text-anchor="middle">time (s)</text>
</svg>
</div></body></html>
